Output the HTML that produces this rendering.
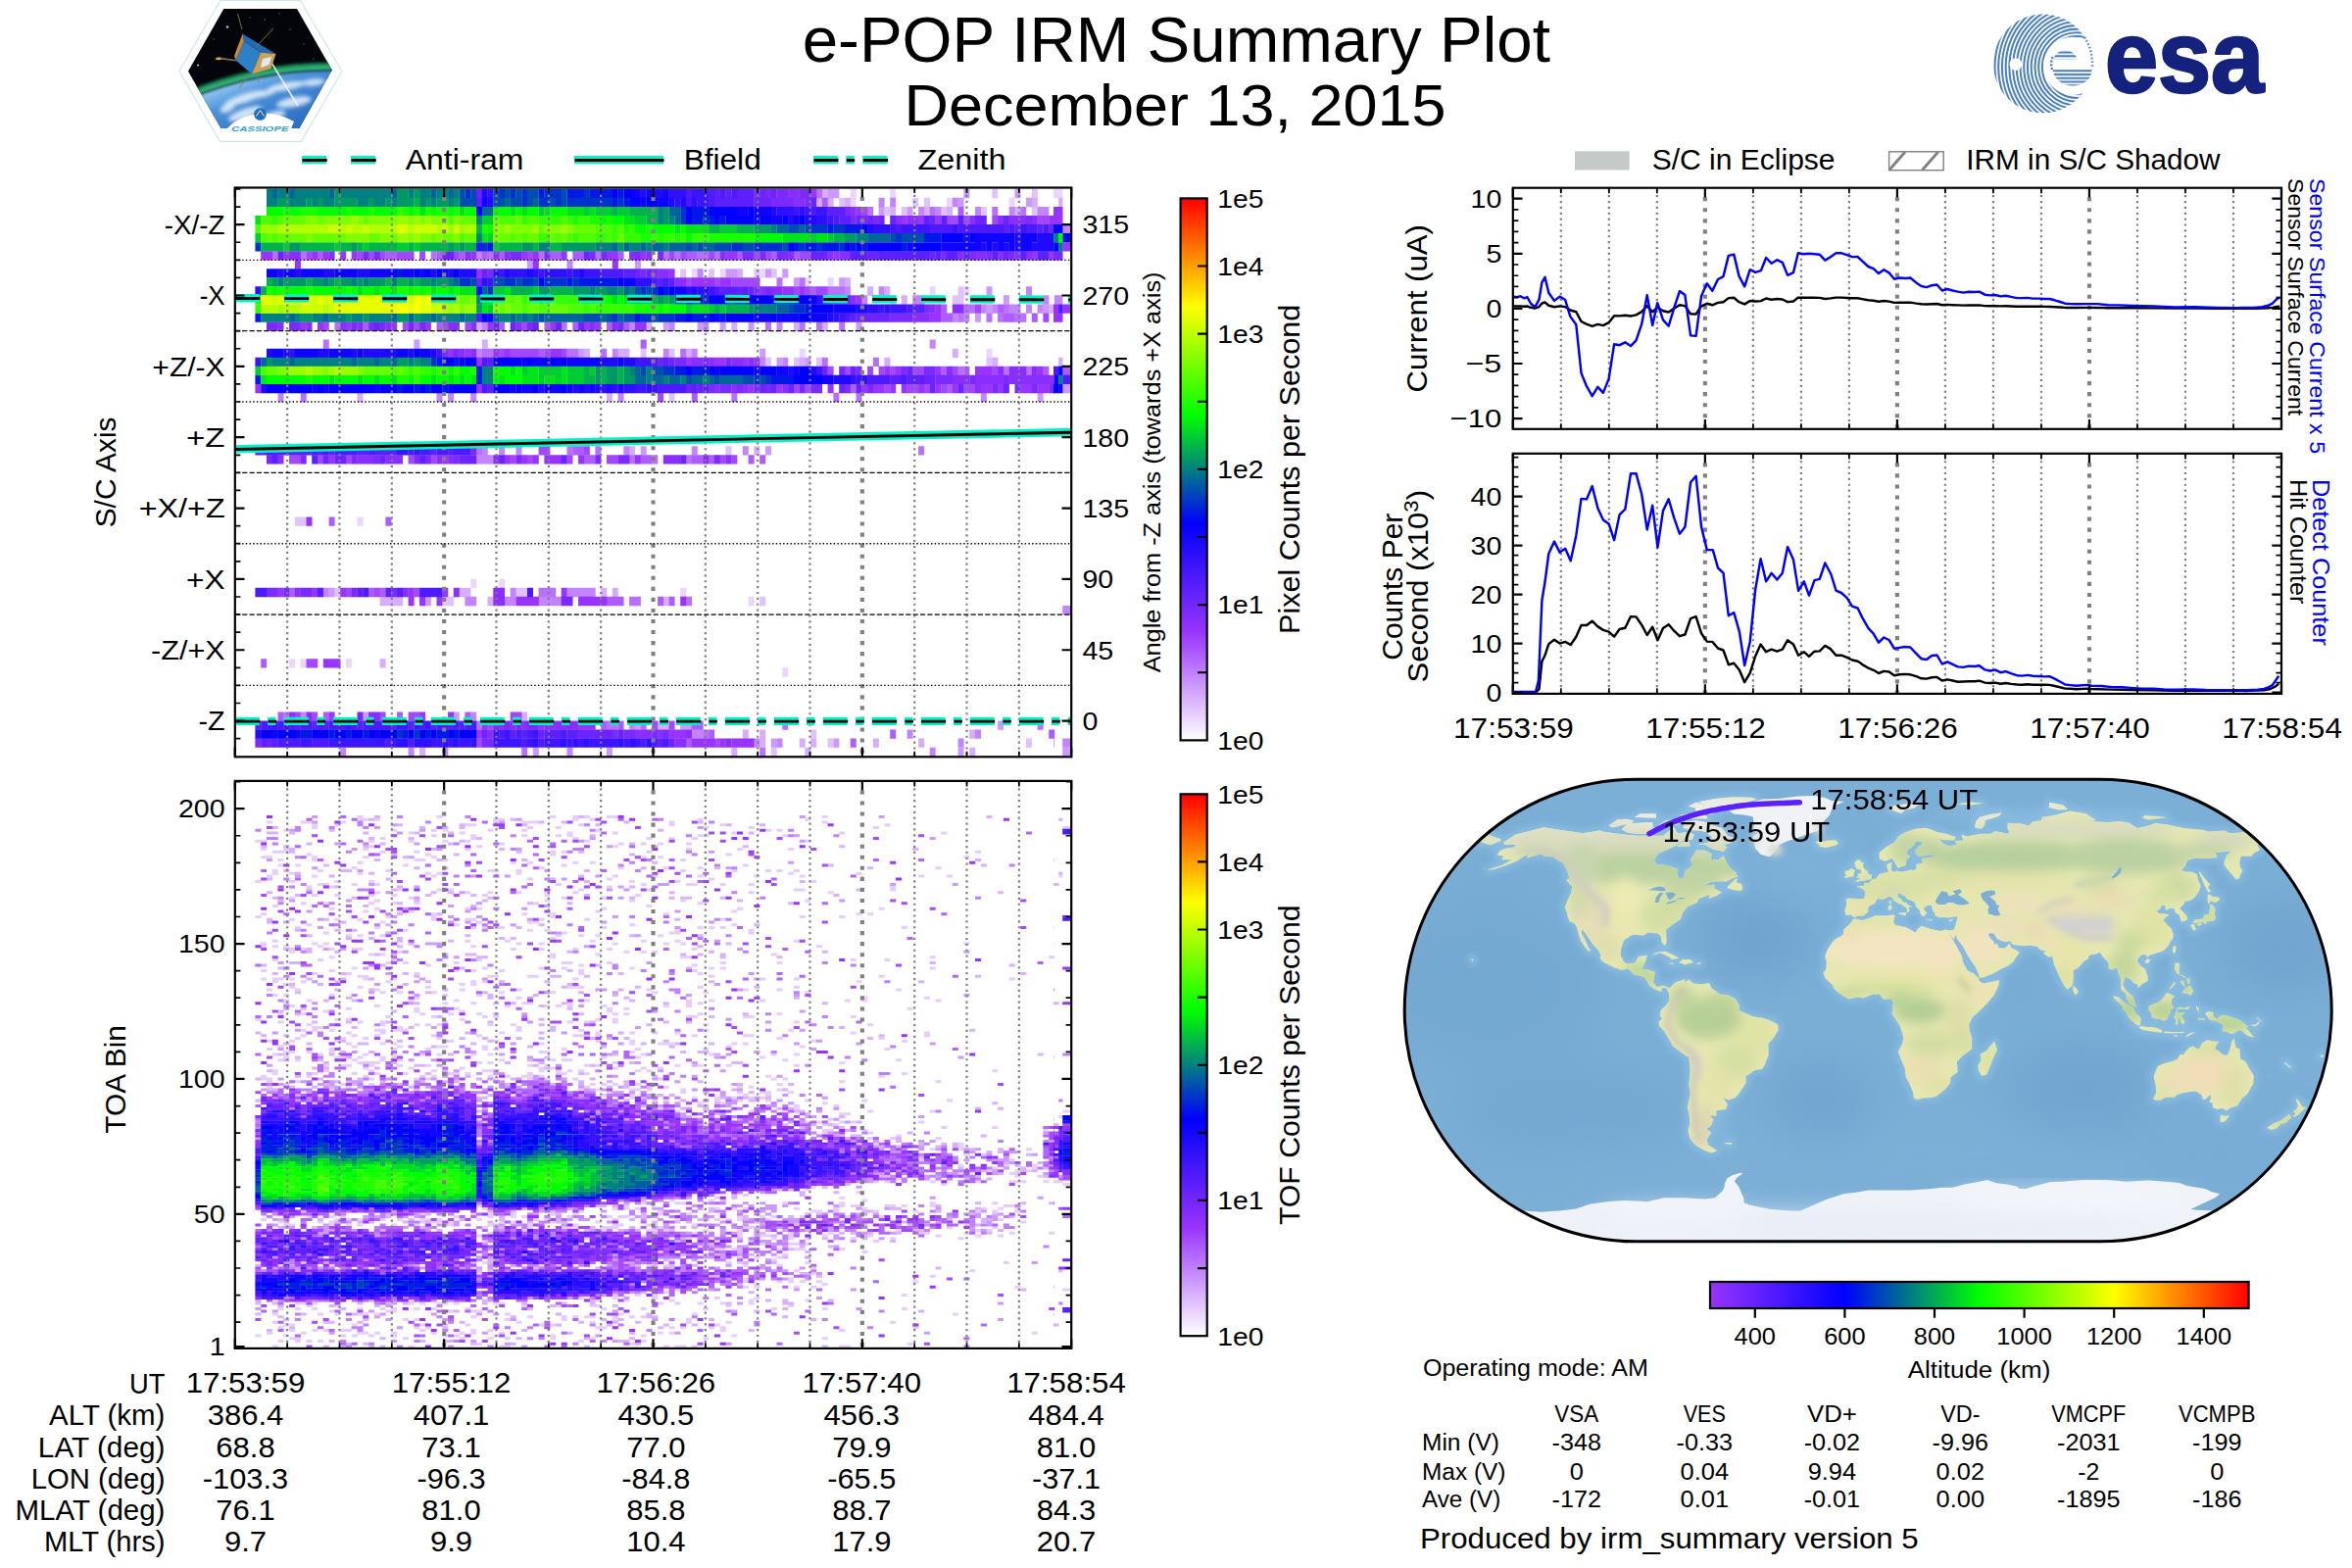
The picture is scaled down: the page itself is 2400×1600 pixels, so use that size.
<!DOCTYPE html>
<html><head><meta charset="utf-8"><title>e-POP IRM Summary Plot</title>
<style>html,body{margin:0;padding:0;background:#fff}svg{display:block}text{font-family:"Liberation Sans",sans-serif}</style></head>
<body>
<svg width="2400" height="1600" viewBox="0 0 2400 1600">
<rect width="2400" height="1600" fill="#fff"/>
<text transform="translate(1200.30,62.50)" x="-381.66" y="0" font-size="64.46" textLength="763.32" lengthAdjust="spacingAndGlyphs">e-POP IRM Summary Plot</text>
<text transform="translate(1199.00,128.00)" x="-276.60" y="0" font-size="58.62" textLength="553.20" lengthAdjust="spacingAndGlyphs">December 13, 2015</text>
<path d="M308 163.2h25M358 163.2h25" stroke="#00f2c6" stroke-width="8.3" fill="none"/>
<path d="M308.5 163.5h25.2M358.5 163.5h25.2" stroke="#000" stroke-width="2.9" fill="none"/>
<text transform="translate(413.70,173.00)" x="0.00" y="0" font-size="29.31" textLength="120.75" lengthAdjust="spacingAndGlyphs">Anti-ram</text>
<path d="M586 163.2h91" stroke="#00f2c6" stroke-width="8.3" fill="none"/>
<path d="M586.5 163.5h91" stroke="#000" stroke-width="2.9" fill="none"/>
<text transform="translate(697.70,173.00)" x="0.00" y="0" font-size="29.31" textLength="79.00" lengthAdjust="spacingAndGlyphs">Bfield</text>
<path d="M830 163.2h25M863.3 163.2h8.4M880.3 163.2h25.3" stroke="#00f2c6" stroke-width="8.3" fill="none"/>
<path d="M830.5 163.5h25M863.8 163.5h8.4M880.8 163.5h25.3" stroke="#000" stroke-width="2.9" fill="none"/>
<text transform="translate(936.50,173.00)" x="0.00" y="0" font-size="29.31" textLength="89.95" lengthAdjust="spacingAndGlyphs">Zenith</text>
<rect x="1607" y="154.3" width="55.6" height="19.2" fill="#c5c9c7"/>
<text transform="translate(1685.70,173.20)" x="0.00" y="0" font-size="29.31" textLength="186.84" lengthAdjust="spacingAndGlyphs">S/C in Eclipse</text>
<rect x="1927.6" y="154.8" width="55.6" height="18.9" fill="#fff" stroke="#808080" stroke-width="1.4"/>
<path d="M1927.8 173.5L1944 155M1961.5 173.5L1977.7 155" stroke="#808080" stroke-width="2.8" fill="none"/>
<text transform="translate(2006.30,173.20)" x="0.00" y="0" font-size="29.31" textLength="259.29" lengthAdjust="spacingAndGlyphs">IRM in S/C Shadow</text>
<g fill="none" stroke-width="9.34">
<path stroke="#ebd6ff" d="M867.7 197.5h6.0M908.2 197.5h6.0M1075.0 197.5h9.5M867.7 206.5h6.0M966.0 206.5h6.0M1029.7 206.5h6.0M705.8 278.9h6.0M734.7 278.9h6.0M775.2 278.9h6.0M821.4 287.9h6.0M844.6 287.9h6.0M948.7 297.0h6.0M983.4 297.0h6.0M1000.8 306.0h11.8M815.7 360.3h6.0M1006.5 360.3h6.0M364.5 532.1h6.0M480.2 595.4h6.0M509.1 595.4h6.0M694.2 604.5h6.0M763.6 613.5h6.0M295.1 676.8h6.0M306.7 676.8h6.0M352.9 676.8h6.0M798.3 685.9h6.0"/>
<path stroke="#e0c2ff" d="M1012.3 197.5h6.0M1052.8 197.5h6.0M856.2 206.5h6.0M931.3 206.5h6.0M942.9 206.5h6.0M902.4 215.6h6.0M919.8 215.6h6.0M960.3 215.6h6.0M1000.8 215.6h6.0M1052.8 215.6h6.0M694.2 278.9h6.0M723.1 278.9h6.0M769.4 278.9h6.0M786.7 278.9h6.0M977.6 297.0h6.0M908.2 306.0h6.0M971.8 306.0h11.8M653.7 360.3h6.0M682.6 360.3h6.0M781.0 369.3h6.0M809.9 369.3h6.0M833.0 369.3h6.0M1006.5 369.3h6.0M682.6 405.5h6.0M740.5 459.8h6.0M300.9 532.1h11.8M341.4 604.5h6.0M526.5 604.5h11.8M451.3 613.5h11.8M775.2 613.5h6.0M827.2 749.2h6.0M844.6 758.2h6.0M1047.0 758.2h6.0M786.7 767.3h6.0"/>
<path stroke="#d6adff" d="M838.8 197.5h6.0M833.0 206.5h6.0M844.6 206.5h6.0M861.9 206.5h6.0M1052.8 206.5h6.0M1080.2 206.5h4.2M908.2 215.6h6.0M942.9 215.6h6.0M966.0 215.6h6.0M1035.5 215.6h6.0M752.0 278.9h6.0M861.9 287.9h6.0M885.1 297.0h6.0M902.4 297.0h6.0M919.8 306.0h6.0M1070.2 315.1h6.0M486.0 333.1h6.0M659.5 333.1h6.0M746.3 333.1h6.0M809.9 333.1h6.0M838.8 333.1h6.0M491.8 351.2h6.0M595.9 360.3h6.0M630.6 360.3h11.8M700.0 360.3h6.0M971.8 360.3h6.0M815.7 369.3h6.0M902.4 369.3h6.0M1012.3 369.3h6.0M1080.2 369.3h4.2M364.5 405.5h6.0M619.0 405.5h6.0M642.1 459.8h6.0M769.4 459.8h6.0M468.6 604.5h11.8M613.2 604.5h6.0M624.8 604.5h6.0M387.6 613.5h23.4M497.5 613.5h6.0M676.8 613.5h6.0M387.6 676.8h6.0M532.2 731.1h6.0M671.1 740.1h11.8M757.8 749.2h6.0M775.2 749.2h6.0M989.2 749.2h6.0M775.2 758.2h6.0M815.7 758.2h6.0M827.2 758.2h6.0M890.9 758.2h6.0M937.1 758.2h6.0M428.1 767.3h6.0M746.3 767.3h6.0M821.4 767.3h6.0M989.2 767.3h6.0"/>
<path stroke="#cc99ff" d="M844.6 197.5h11.8M983.4 197.5h6.0M1035.5 197.5h6.0M977.6 206.5h6.0M1047.0 206.5h6.0M896.6 215.6h6.0M925.6 215.6h6.0M538.0 269.8h6.0M647.9 269.8h6.0M740.5 278.9h11.8M781.0 278.9h6.0M798.3 278.9h6.0M809.9 287.9h6.0M856.2 287.9h6.0M1006.5 297.0h6.0M1023.9 306.0h6.0M1006.5 315.1h6.0M1064.4 315.1h6.0M995.0 324.1h6.0M676.8 333.1h6.0M711.6 333.1h6.0M734.7 333.1h6.0M763.6 333.1h6.0M873.5 333.1h6.0M422.4 351.2h6.0M590.1 360.3h6.0M775.2 360.3h6.0M792.5 369.3h6.0M821.4 369.3h6.0M1084.2 396.5h8.5M1058.6 405.5h6.0M653.7 459.8h6.0M781.0 459.8h6.0M335.6 604.5h6.0M433.9 613.5h6.0M370.3 731.1h6.0M462.8 731.1h6.0M647.9 740.1h6.0M694.2 740.1h11.8M1018.1 740.1h6.0M786.7 758.2h6.0M850.4 758.2h6.0M543.8 767.3h6.0M619.0 767.3h6.0M977.6 767.3h6.0M1084.2 767.3h8.5"/>
<path stroke="#c285ff" d="M896.6 206.5h6.0M908.2 206.5h6.0M971.8 206.5h6.0M937.1 215.6h6.0M954.5 215.6h6.0M995.0 215.6h6.0M1029.7 215.6h6.0M1058.6 215.6h11.8M1084.2 233.7h8.5M486.0 260.8h6.0M578.5 269.8h6.0M711.6 278.9h6.0M861.9 297.0h6.0M896.6 297.0h6.0M1047.0 297.0h6.0M879.3 306.0h6.0M931.3 306.0h11.8M1064.4 306.0h6.0M1075.9 306.0h8.5M1000.8 315.1h6.0M1012.3 315.1h6.0M1029.7 315.1h11.8M1047.0 315.1h6.0M1058.6 315.1h6.0M971.8 324.1h6.0M983.4 324.1h6.0M491.8 333.1h6.0M642.1 333.1h6.0M682.6 333.1h6.0M717.3 333.1h6.0M792.5 333.1h6.0M948.7 351.2h6.0M486.0 360.3h6.0M624.8 360.3h6.0M676.8 360.3h6.0M705.8 360.3h6.0M775.2 369.3h6.0M798.3 369.3h6.0M283.5 405.5h6.0M445.5 405.5h6.0M457.1 405.5h6.0M480.2 405.5h6.0M630.6 405.5h6.0M1000.8 405.5h6.0M491.8 459.8h6.0M509.1 459.8h6.0M526.5 459.8h6.0M636.4 459.8h6.0M705.8 459.8h6.0M757.8 459.8h6.0M486.0 468.8h17.6M329.8 604.5h6.0M520.7 604.5h6.0M578.5 604.5h29.2M474.4 613.5h11.8M514.9 613.5h11.8M549.6 613.5h23.4M1084.2 622.6h8.5M306.7 731.1h6.0M480.2 731.1h6.0M642.1 740.1h6.0M705.8 749.2h11.8M925.6 749.2h6.0M995.0 749.2h6.0M769.4 758.2h6.0M792.5 758.2h6.0M977.6 758.2h6.0M1075.9 758.2h-0.7M1084.2 758.2h8.5M347.2 767.3h6.0M416.6 767.3h6.0M451.3 767.3h6.0M578.5 767.3h6.0M948.7 767.3h6.0"/>
<path stroke="#b870ff" d="M833.0 197.5h6.0M885.1 215.6h6.0M948.7 215.6h6.0M1012.3 215.6h6.0M1041.2 215.6h6.0M277.8 260.8h6.0M306.7 260.8h6.0M439.7 260.8h6.0M497.5 260.8h6.0M549.6 260.8h6.0M607.4 260.8h6.0M676.8 260.8h6.0M688.4 260.8h6.0M711.6 260.8h11.8M728.9 260.8h6.0M792.5 287.9h6.0M815.7 287.9h6.0M844.6 297.0h17.6M983.4 315.1h11.8M1023.9 315.1h6.0M977.6 324.1h6.0M1006.5 324.1h6.0M1018.1 324.1h6.0M1035.5 324.1h11.8M341.4 333.1h6.0M572.7 333.1h6.0M781.0 333.1h6.0M815.7 333.1h6.0M833.0 333.1h6.0M856.2 333.1h6.0M329.8 351.2h6.0M491.8 360.3h11.8M578.5 360.3h11.8M613.2 360.3h6.0M694.2 360.3h6.0M838.8 369.3h6.0M890.9 369.3h6.0M977.6 378.4h6.0M1023.9 378.4h6.0M1047.0 378.4h6.0M306.7 405.5h6.0M746.3 405.5h6.0M850.4 405.5h6.0M873.5 405.5h6.0M486.0 459.8h6.0M578.5 459.8h6.0M607.4 459.8h6.0M937.1 459.8h6.0M642.1 468.8h6.0M665.3 468.8h6.0M700.0 468.8h6.0M549.6 604.5h17.6M642.1 613.5h11.8M700.0 613.5h6.0M289.3 731.1h6.0M486.0 740.1h6.0M619.0 740.1h11.8M653.7 740.1h6.0M798.3 740.1h6.0M1058.6 740.1h6.0M717.3 749.2h6.0M532.2 767.3h6.0M775.2 767.3h6.0"/>
<path stroke="#ad5cff" d="M838.8 206.5h6.0M977.6 215.6h6.0M324.0 260.8h6.0M393.4 260.8h11.8M445.5 260.8h6.0M468.6 260.8h6.0M491.8 260.8h6.0M509.1 260.8h6.0M561.2 260.8h11.8M584.3 260.8h11.8M630.6 260.8h6.0M700.0 260.8h11.8M752.0 260.8h6.0M786.7 260.8h6.0M809.9 260.8h6.0M827.2 297.0h6.0M960.3 315.1h6.0M1018.1 315.1h6.0M960.3 324.1h11.8M1023.9 324.1h11.8M1052.8 324.1h6.0M370.3 333.1h6.0M445.5 333.1h6.0M509.1 333.1h6.0M555.4 333.1h6.0M584.3 333.1h6.0M619.0 333.1h6.0M636.4 333.1h6.0M653.7 351.2h6.0M549.6 360.3h6.0M960.3 378.4h6.0M983.4 378.4h6.0M1064.4 378.4h6.0M1084.2 378.4h8.5M867.7 396.5h6.0M966.0 396.5h6.0M705.8 405.5h6.0M584.3 459.8h11.8M595.9 468.8h11.8M653.7 468.8h11.8M705.8 468.8h11.8M723.1 468.8h6.0M763.6 468.8h6.0M775.2 468.8h6.0M335.6 532.1h6.0M393.4 532.1h6.0M295.1 604.5h6.0M376.1 604.5h6.0M387.6 604.5h6.0M619.0 613.5h17.6M671.1 613.5h6.0M682.6 613.5h6.0M266.2 676.8h6.0M283.5 731.1h6.0M329.8 731.1h6.0M405.0 731.1h6.0M474.4 731.1h6.0M613.2 740.1h6.0M630.6 740.1h6.0M705.8 740.1h11.8M723.1 749.2h6.0M908.2 749.2h6.0M1070.2 749.2h6.0M700.0 758.2h6.0M867.7 758.2h6.0"/>
<path stroke="#a347ff" d="M879.3 215.6h6.0M966.0 224.6h11.8M983.4 224.6h6.0M1012.3 224.6h6.0M1058.6 224.6h11.8M1075.9 224.6h-0.7M312.5 260.8h6.0M364.5 260.8h6.0M376.1 260.8h6.0M387.6 260.8h6.0M405.0 260.8h17.6M428.1 260.8h6.0M462.8 260.8h6.0M538.0 260.8h6.0M682.6 260.8h6.0M694.2 260.8h6.0M723.1 260.8h6.0M769.4 260.8h6.0M781.0 260.8h6.0M815.7 260.8h11.8M700.0 287.9h6.0M728.9 287.9h6.0M746.3 287.9h29.2M809.9 297.0h6.0M821.4 297.0h6.0M833.0 297.0h11.8M995.0 315.1h6.0M1064.4 324.1h6.0M1075.9 324.1h-0.7M329.8 333.1h6.0M410.8 333.1h6.0M422.4 333.1h6.0M451.3 333.1h6.0M474.4 333.1h6.0M532.2 333.1h6.0M509.1 360.3h6.0M520.7 360.3h29.2M555.4 360.3h6.0M572.7 360.3h6.0M844.6 378.4h6.0M861.9 378.4h6.0M885.1 378.4h6.0M896.6 378.4h6.0M908.2 378.4h6.0M931.3 378.4h11.8M971.8 378.4h6.0M1012.3 378.4h6.0M809.9 396.5h6.0M821.4 396.5h6.0M902.4 396.5h6.0M925.6 396.5h11.8M942.9 396.5h6.0M960.3 396.5h6.0M983.4 396.5h11.8M671.1 405.5h6.0M549.6 459.8h11.8M595.9 459.8h6.0M295.1 468.8h11.8M324.0 468.8h6.0M352.9 468.8h6.0M416.6 468.8h6.0M439.7 468.8h6.0M520.7 468.8h6.0M538.0 468.8h6.0M578.5 468.8h6.0M619.0 468.8h11.8M734.7 468.8h6.0M746.3 468.8h6.0M352.9 604.5h6.0M381.9 604.5h6.0M422.4 604.5h6.0M312.5 676.8h11.8M300.9 731.1h6.0M318.2 731.1h6.0M387.6 731.1h6.0M416.6 731.1h11.8M520.7 731.1h11.8M497.5 740.1h6.0M665.3 740.1h6.0M682.6 740.1h6.0M486.0 758.2h6.0M728.9 758.2h6.0"/>
<path stroke="#9933ff" d="M827.2 197.5h6.0M873.5 215.6h6.0M1075.0 215.6h9.5M919.8 224.6h6.0M937.1 224.6h6.0M954.5 224.6h6.0M1070.2 224.6h6.0M1075.0 224.6h9.5M1084.2 251.8h8.5M266.2 260.8h11.8M289.3 260.8h6.0M318.2 260.8h6.0M329.8 260.8h6.0M347.2 260.8h6.0M358.7 260.8h6.0M480.2 260.8h6.0M532.2 260.8h6.0M543.8 260.8h6.0M572.7 260.8h6.0M619.0 260.8h11.8M653.7 260.8h6.0M740.5 260.8h11.8M850.4 260.8h6.0M1052.8 260.8h6.0M1070.2 260.8h5.1M300.9 269.8h6.0M543.8 269.8h6.0M624.8 269.8h6.0M486.0 278.9h6.0M682.6 278.9h6.0M705.8 287.9h23.4M734.7 287.9h11.8M798.3 297.0h11.8M815.7 297.0h6.0M873.5 306.0h6.0M954.5 315.1h6.0M1075.0 315.1h5.5M1084.2 315.1h8.5M948.7 324.1h11.8M1075.0 324.1h9.5M306.7 333.1h6.0M324.0 333.1h6.0M352.9 333.1h6.0M399.2 333.1h6.0M433.9 333.1h6.0M497.5 333.1h6.0M561.2 333.1h6.0M595.9 333.1h6.0M607.4 333.1h6.0M647.9 333.1h11.8M457.1 360.3h6.0M474.4 360.3h6.0M503.3 360.3h6.0M514.9 360.3h6.0M561.2 360.3h11.8M486.0 369.3h6.0M700.0 369.3h6.0M728.9 369.3h11.8M757.8 369.3h6.0M769.4 369.3h6.0M902.4 378.4h6.0M914.0 378.4h6.0M954.5 378.4h6.0M995.0 378.4h17.6M1058.6 378.4h6.0M260.4 396.5h6.0M486.0 396.5h6.0M763.6 396.5h6.0M792.5 396.5h6.0M844.6 396.5h6.0M879.3 396.5h6.0M890.9 396.5h11.8M908.2 396.5h6.0M919.8 396.5h6.0M937.1 396.5h6.0M954.5 396.5h6.0M971.8 396.5h6.0M1000.8 396.5h11.8M1018.1 396.5h6.0M1041.2 396.5h11.8M1058.6 396.5h11.8M335.6 468.8h6.0M451.3 468.8h6.0M514.9 468.8h6.0M532.2 468.8h6.0M543.8 468.8h6.0M555.4 468.8h17.6M590.1 468.8h6.0M647.9 468.8h6.0M312.5 532.1h6.0M283.5 604.5h6.0M318.2 604.5h6.0M347.2 604.5h6.0M416.6 604.5h6.0M451.3 604.5h6.0M572.7 604.5h6.0M416.6 613.5h6.0M428.1 613.5h6.0M445.5 613.5h6.0M526.5 613.5h23.4M590.1 613.5h29.2M694.2 613.5h6.0M329.8 676.8h17.6M335.6 731.1h6.0M428.1 731.1h6.0M457.1 731.1h6.0M491.8 740.1h6.0M549.6 740.1h6.0M590.1 740.1h17.6M486.0 749.2h6.0M682.6 749.2h17.6M705.8 758.2h23.4M734.7 758.2h6.0M746.3 758.2h23.4"/>
<path stroke="#8a2eff" d="M804.1 197.5h11.8M809.9 206.5h11.8M867.7 215.6h6.0M914.0 224.6h6.0M925.6 224.6h11.8M989.2 224.6h6.0M1018.1 224.6h6.0M1029.7 224.6h17.6M1052.8 224.6h6.0M295.1 260.8h11.8M335.6 260.8h6.0M474.4 260.8h6.0M503.3 260.8h6.0M514.9 260.8h6.0M642.1 260.8h6.0M659.5 260.8h6.0M734.7 260.8h6.0M804.1 260.8h6.0M844.6 260.8h6.0M856.2 260.8h11.8M977.6 260.8h6.0M995.0 260.8h11.8M1018.1 260.8h6.0M1035.5 260.8h6.0M1047.0 260.8h6.0M671.1 278.9h11.8M688.4 287.9h11.8M775.2 297.0h6.0M786.7 297.0h11.8M867.7 306.0h6.0M948.7 315.1h6.0M971.8 315.1h11.8M931.3 324.1h17.6M283.5 333.1h6.0M312.5 333.1h6.0M347.2 333.1h6.0M364.5 333.1h6.0M393.4 333.1h6.0M457.1 333.1h11.8M480.2 333.1h6.0M526.5 333.1h6.0M601.7 333.1h6.0M624.8 333.1h6.0M468.6 360.3h6.0M480.2 360.3h6.0M705.8 369.3h11.8M723.1 369.3h6.0M746.3 369.3h11.8M763.6 369.3h6.0M966.0 378.4h6.0M1018.1 378.4h6.0M1029.7 378.4h17.6M1052.8 378.4h6.0M1075.9 378.4h-0.7M971.8 387.4h17.6M995.0 387.4h29.2M1029.7 387.4h46.5M728.9 396.5h6.0M746.3 396.5h6.0M757.8 396.5h6.0M798.3 396.5h6.0M995.0 396.5h6.0M283.5 468.8h6.0M364.5 468.8h17.6M393.4 468.8h17.6M445.5 468.8h6.0M457.1 468.8h6.0M503.3 468.8h6.0M676.8 468.8h17.6M717.3 468.8h6.0M740.5 468.8h6.0M300.9 604.5h6.0M410.8 604.5h6.0M462.8 604.5h6.0M503.3 604.5h11.8M503.3 613.5h11.8M295.1 731.1h6.0M312.5 731.1h6.0M376.1 731.1h11.8M509.1 740.1h6.0M520.7 740.1h6.0M532.2 740.1h6.0M555.4 740.1h35.0M497.5 749.2h6.0M647.9 749.2h17.6M671.1 749.2h6.0M700.0 749.2h6.0M688.4 758.2h11.8M740.5 758.2h6.0"/>
<path stroke="#7a29ff" d="M769.4 197.5h6.0M781.0 197.5h6.0M792.5 197.5h11.8M815.7 197.5h11.8M786.7 206.5h23.4M821.4 206.5h6.0M861.9 215.6h6.0M867.7 224.6h6.0M879.3 224.6h6.0M890.9 224.6h6.0M1047.0 224.6h6.0M370.3 260.8h6.0M381.9 260.8h6.0M520.7 260.8h11.8M555.4 260.8h6.0M601.7 260.8h6.0M613.2 260.8h6.0M647.9 260.8h6.0M671.1 260.8h6.0M757.8 260.8h11.8M775.2 260.8h6.0M792.5 260.8h11.8M960.3 260.8h6.0M989.2 260.8h6.0M1006.5 260.8h6.0M1029.7 260.8h6.0M1075.0 260.8h9.5M497.5 278.9h6.0M653.7 278.9h6.0M665.3 278.9h6.0M769.4 297.0h6.0M781.0 297.0h6.0M850.4 306.0h17.6M942.9 315.1h6.0M908.2 324.1h23.4M272.0 333.1h11.8M295.1 333.1h11.8M358.7 333.1h6.0M376.1 333.1h6.0M387.6 333.1h6.0M416.6 333.1h6.0M428.1 333.1h6.0M538.0 333.1h6.0M630.6 333.1h6.0M451.3 360.3h6.0M462.8 360.3h6.0M688.4 369.3h11.8M717.3 369.3h6.0M740.5 369.3h6.0M856.2 378.4h6.0M873.5 378.4h6.0M919.8 378.4h6.0M942.9 378.4h11.8M954.5 387.4h17.6M989.2 387.4h6.0M1023.9 387.4h6.0M723.1 396.5h6.0M734.7 396.5h11.8M752.0 396.5h6.0M769.4 396.5h6.0M781.0 396.5h6.0M815.7 396.5h6.0M827.2 396.5h11.8M861.9 396.5h6.0M885.1 396.5h6.0M1012.3 396.5h6.0M1035.5 396.5h6.0M1052.8 396.5h6.0M1070.2 396.5h6.0M480.2 459.8h6.0M272.0 468.8h6.0M306.7 468.8h6.0M358.7 468.8h6.0M381.9 468.8h6.0M422.4 468.8h6.0M433.9 468.8h6.0M462.8 468.8h6.0M526.5 468.8h6.0M607.4 468.8h6.0M630.6 468.8h11.8M728.9 468.8h6.0M272.0 604.5h11.8M289.3 604.5h6.0M306.7 604.5h11.8M358.7 604.5h6.0M399.2 604.5h6.0M572.7 613.5h11.8M364.5 731.1h6.0M503.3 740.1h6.0M514.9 740.1h6.0M526.5 740.1h6.0M538.0 740.1h11.8M624.8 749.2h6.0M636.4 749.2h11.8M665.3 749.2h6.0M676.8 749.2h6.0M260.4 758.2h6.0M491.8 758.2h11.8"/>
<path stroke="#6b24ff" d="M486.0 197.5h6.0M775.2 197.5h6.0M786.7 197.5h6.0M769.4 206.5h17.6M827.2 206.5h6.0M873.5 224.6h6.0M885.1 224.6h6.0M896.6 224.6h6.0M908.2 224.6h6.0M948.7 224.6h6.0M995.0 224.6h11.8M1023.9 224.6h6.0M1070.2 233.7h6.0M283.5 260.8h6.0M451.3 260.8h11.8M595.9 260.8h6.0M827.2 260.8h17.6M885.1 260.8h11.8M948.7 260.8h6.0M1023.9 260.8h6.0M491.8 278.9h6.0M647.9 278.9h6.0M659.5 278.9h6.0M486.0 287.9h6.0M752.0 297.0h6.0M763.6 297.0h6.0M844.6 306.0h6.0M873.5 324.1h35.0M381.9 333.1h6.0M503.3 333.1h6.0M520.7 333.1h6.0M543.8 333.1h6.0M567.0 333.1h6.0M590.1 333.1h6.0M671.1 369.3h6.0M682.6 369.3h6.0M838.8 378.4h6.0M867.7 378.4h6.0M925.6 378.4h6.0M942.9 387.4h11.8M700.0 396.5h6.0M711.6 396.5h6.0M775.2 396.5h6.0M786.7 396.5h6.0M804.1 396.5h6.0M856.2 396.5h6.0M873.5 396.5h6.0M948.7 396.5h6.0M977.6 396.5h6.0M1023.9 396.5h6.0M266.2 459.8h6.0M329.8 468.8h6.0M341.4 468.8h11.8M387.6 468.8h6.0M468.6 468.8h17.6M509.1 468.8h6.0M572.7 468.8h6.0M694.2 468.8h6.0M491.8 749.2h6.0M549.6 749.2h6.0M590.1 749.2h35.0M630.6 749.2h6.0M272.0 758.2h6.0M682.6 758.2h6.0"/>
<path stroke="#5c1fff" d="M728.9 197.5h6.0M740.5 197.5h6.0M752.0 197.5h17.6M486.0 206.5h6.0M728.9 206.5h40.7M844.6 215.6h17.6M856.2 224.6h11.8M942.9 224.6h6.0M960.3 224.6h6.0M977.6 224.6h6.0M1023.9 233.7h6.0M1035.5 233.7h6.0M1058.6 233.7h6.0M1075.9 233.7h-0.7M867.7 260.8h17.6M896.6 260.8h52.3M954.5 260.8h6.0M966.0 260.8h11.8M983.4 260.8h6.0M1012.3 260.8h6.0M1041.2 260.8h6.0M1058.6 260.8h11.8M636.4 278.9h11.8M671.1 287.9h6.0M682.6 287.9h6.0M734.7 297.0h17.6M757.8 297.0h6.0M931.3 315.1h11.8M867.7 324.1h6.0M497.5 369.3h6.0M676.8 369.3h6.0M908.2 387.4h11.8M925.6 387.4h17.6M497.5 396.5h6.0M705.8 396.5h6.0M717.3 396.5h6.0M260.4 459.8h6.0M277.8 459.8h40.7M324.0 459.8h6.0M335.6 459.8h6.0M364.5 459.8h11.8M381.9 459.8h23.4M439.7 459.8h6.0M457.1 459.8h6.0M277.8 468.8h6.0M318.2 468.8h6.0M428.1 468.8h6.0M324.0 604.5h6.0M364.5 604.5h6.0M393.4 604.5h6.0M405.0 604.5h6.0M260.4 740.1h6.0M300.9 740.1h6.0M318.2 740.1h6.0M329.8 740.1h6.0M364.5 740.1h6.0M399.2 740.1h6.0M416.6 740.1h6.0M439.7 740.1h6.0M457.1 740.1h6.0M468.6 740.1h6.0M520.7 749.2h6.0M532.2 749.2h6.0M555.4 749.2h17.6M578.5 749.2h11.8M266.2 758.2h6.0M277.8 758.2h6.0M671.1 758.2h6.0"/>
<path stroke="#4d1aff" d="M700.0 197.5h6.0M723.1 197.5h6.0M734.7 197.5h6.0M746.3 197.5h6.0M700.0 206.5h6.0M723.1 206.5h6.0M827.2 215.6h6.0M850.4 224.6h6.0M914.0 233.7h6.0M948.7 233.7h23.4M977.6 233.7h46.5M1029.7 233.7h6.0M1047.0 233.7h11.8M1064.4 233.7h6.0M613.2 278.9h23.4M665.3 287.9h6.0M676.8 287.9h6.0M728.9 297.0h6.0M838.8 306.0h6.0M925.6 315.1h6.0M1080.2 315.1h4.2M486.0 324.1h6.0M861.9 324.1h6.0M491.8 369.3h6.0M665.3 369.3h6.0M1075.0 378.4h5.5M885.1 387.4h23.4M919.8 387.4h6.0M1084.2 387.4h8.5M491.8 396.5h6.0M671.1 396.5h29.2M1075.9 396.5h-0.7M272.0 459.8h6.0M318.2 459.8h6.0M329.8 459.8h6.0M341.4 459.8h23.4M376.1 459.8h6.0M416.6 459.8h6.0M428.1 459.8h11.8M445.5 459.8h11.8M462.8 459.8h17.6M260.4 604.5h11.8M370.3 604.5h6.0M428.1 604.5h23.4M538.0 604.5h6.0M266.2 740.1h11.8M283.5 740.1h6.0M295.1 740.1h6.0M306.7 740.1h11.8M324.0 740.1h6.0M335.6 740.1h17.6M358.7 740.1h6.0M370.3 740.1h29.2M428.1 740.1h6.0M445.5 740.1h11.8M462.8 740.1h6.0M474.4 740.1h11.8M509.1 749.2h6.0M526.5 749.2h6.0M538.0 749.2h6.0M572.7 749.2h6.0M283.5 758.2h23.4M318.2 758.2h17.6M393.4 758.2h6.0M416.6 758.2h6.0M532.2 758.2h6.0M549.6 758.2h6.0M653.7 758.2h6.0M665.3 758.2h6.0M676.8 758.2h6.0"/>
<path stroke="#3d14ff" d="M705.8 197.5h17.6M711.6 206.5h11.8M809.9 215.6h6.0M821.4 215.6h6.0M833.0 215.6h11.8M844.6 224.6h6.0M908.2 233.7h6.0M919.8 233.7h29.2M971.8 233.7h6.0M1041.2 233.7h6.0M509.1 278.9h6.0M549.6 278.9h6.0M578.5 278.9h6.0M595.9 278.9h17.6M497.5 287.9h6.0M723.1 297.0h6.0M896.6 315.1h6.0M908.2 315.1h17.6M856.2 324.1h6.0M445.5 360.3h6.0M260.4 369.3h6.0M647.9 369.3h17.6M833.0 378.4h6.0M873.5 387.4h6.0M647.9 396.5h11.8M665.3 396.5h6.0M405.0 459.8h11.8M422.4 459.8h6.0M277.8 740.1h6.0M289.3 740.1h6.0M352.9 740.1h6.0M405.0 740.1h11.8M422.4 740.1h6.0M433.9 740.1h6.0M503.3 749.2h6.0M514.9 749.2h6.0M543.8 749.2h6.0M306.7 758.2h11.8M335.6 758.2h58.1M399.2 758.2h6.0M439.7 758.2h11.8M457.1 758.2h6.0M468.6 758.2h11.8M503.3 758.2h29.2M538.0 758.2h6.0M555.4 758.2h17.6M578.5 758.2h6.0M590.1 758.2h6.0M601.7 758.2h29.2M636.4 758.2h6.0M647.9 758.2h6.0"/>
<path stroke="#2e0fff" d="M497.5 197.5h6.0M682.6 197.5h17.6M688.4 206.5h6.0M705.8 206.5h6.0M792.5 215.6h17.6M815.7 215.6h6.0M833.0 224.6h11.8M890.9 233.7h17.6M486.0 251.8h6.0M520.7 278.9h17.6M543.8 278.9h6.0M555.4 278.9h23.4M584.3 278.9h6.0M491.8 287.9h6.0M647.9 287.9h17.6M260.4 297.0h6.0M700.0 297.0h6.0M711.6 297.0h11.8M833.0 306.0h6.0M885.1 315.1h11.8M902.4 315.1h6.0M850.4 324.1h6.0M295.1 360.3h6.0M867.7 387.4h6.0M879.3 387.4h6.0M613.2 396.5h6.0M624.8 396.5h6.0M636.4 396.5h11.8M659.5 396.5h6.0M405.0 758.2h11.8M422.4 758.2h17.6M451.3 758.2h6.0M462.8 758.2h6.0M480.2 758.2h6.0M543.8 758.2h6.0M572.7 758.2h6.0M584.3 758.2h6.0M595.9 758.2h6.0M630.6 758.2h6.0M642.1 758.2h6.0M659.5 758.2h6.0"/>
<path stroke="#1f0aff" d="M491.8 197.5h6.0M653.7 197.5h6.0M665.3 197.5h11.8M497.5 206.5h6.0M682.6 206.5h6.0M694.2 206.5h6.0M786.7 215.6h6.0M804.1 224.6h6.0M821.4 224.6h11.8M885.1 233.7h6.0M1035.5 242.7h6.0M1058.6 242.7h17.6M1000.8 251.8h6.0M1012.3 251.8h6.0M1023.9 251.8h6.0M1035.5 251.8h6.0M1052.8 251.8h23.4M283.5 278.9h6.0M300.9 278.9h6.0M329.8 278.9h11.8M364.5 278.9h11.8M439.7 278.9h6.0M457.1 278.9h6.0M468.6 278.9h17.6M503.3 278.9h6.0M514.9 278.9h6.0M538.0 278.9h6.0M590.1 278.9h6.0M705.8 297.0h6.0M873.5 315.1h11.8M844.6 324.1h6.0M272.0 360.3h6.0M289.3 360.3h6.0M324.0 360.3h11.8M358.7 360.3h6.0M370.3 360.3h35.0M416.6 360.3h6.0M439.7 360.3h6.0M613.2 369.3h17.6M636.4 369.3h11.8M804.1 378.4h6.0M827.2 378.4h6.0M850.4 387.4h17.6M266.2 396.5h6.0M549.6 396.5h6.0M584.3 396.5h6.0M595.9 396.5h6.0M607.4 396.5h6.0M619.0 396.5h6.0M630.6 396.5h6.0M260.4 749.2h6.0"/>
<path stroke="#0f05ff" d="M647.9 197.5h6.0M659.5 197.5h6.0M676.8 197.5h6.0M491.8 206.5h6.0M653.7 206.5h6.0M671.1 206.5h11.8M752.0 215.6h11.8M769.4 215.6h17.6M769.4 224.6h6.0M786.7 224.6h11.8M809.9 224.6h6.0M983.4 242.7h6.0M995.0 242.7h40.7M1041.2 242.7h17.6M925.6 251.8h6.0M960.3 251.8h40.7M1006.5 251.8h6.0M1018.1 251.8h6.0M1029.7 251.8h6.0M1041.2 251.8h11.8M272.0 278.9h11.8M289.3 278.9h11.8M306.7 278.9h23.4M341.4 278.9h23.4M376.1 278.9h29.2M410.8 278.9h11.8M428.1 278.9h6.0M451.3 278.9h6.0M636.4 287.9h11.8M486.0 297.0h6.0M688.4 297.0h11.8M752.0 306.0h6.0M792.5 306.0h6.0M804.1 306.0h11.8M827.2 306.0h6.0M850.4 315.1h23.4M497.5 324.1h6.0M728.9 324.1h6.0M769.4 324.1h17.6M792.5 324.1h23.4M827.2 324.1h17.6M277.8 360.3h11.8M300.9 360.3h23.4M335.6 360.3h23.4M364.5 360.3h6.0M405.0 360.3h11.8M428.1 360.3h11.8M468.6 369.3h6.0M532.2 369.3h6.0M543.8 369.3h17.6M567.0 369.3h6.0M578.5 369.3h35.0M630.6 369.3h6.0M728.9 378.4h6.0M769.4 378.4h6.0M792.5 378.4h11.8M809.9 378.4h6.0M838.8 387.4h11.8M318.2 396.5h6.0M329.8 396.5h6.0M381.9 396.5h6.0M457.1 396.5h6.0M520.7 396.5h6.0M532.2 396.5h11.8M555.4 396.5h17.6M578.5 396.5h6.0M590.1 396.5h6.0M601.7 396.5h6.0M1080.2 396.5h4.2M277.8 749.2h6.0M300.9 749.2h6.0M381.9 749.2h6.0"/>
<path stroke="#0000ff" d="M624.8 197.5h6.0M636.4 197.5h11.8M642.1 206.5h11.8M659.5 206.5h11.8M486.0 215.6h6.0M700.0 215.6h6.0M723.1 215.6h29.2M763.6 215.6h6.0M700.0 224.6h6.0M728.9 224.6h6.0M740.5 224.6h29.2M775.2 224.6h11.8M798.3 224.6h6.0M815.7 224.6h6.0M879.3 233.7h6.0M1075.0 233.7h9.5M960.3 242.7h23.4M989.2 242.7h6.0M1084.2 242.7h8.5M804.1 251.8h6.0M861.9 251.8h6.0M873.5 251.8h6.0M885.1 251.8h35.0M931.3 251.8h29.2M1075.0 251.8h5.5M422.4 278.9h6.0M433.9 278.9h6.0M445.5 278.9h6.0M462.8 278.9h6.0M549.6 287.9h6.0M630.6 287.9h6.0M671.1 297.0h6.0M682.6 297.0h6.0M700.0 306.0h6.0M723.1 306.0h23.4M757.8 306.0h35.0M798.3 306.0h6.0M815.7 306.0h11.8M827.2 315.1h23.4M491.8 324.1h6.0M700.0 324.1h6.0M723.1 324.1h6.0M740.5 324.1h29.2M786.7 324.1h6.0M815.7 324.1h11.8M422.4 360.3h6.0M451.3 369.3h11.8M474.4 369.3h11.8M503.3 369.3h29.2M538.0 369.3h6.0M561.2 369.3h6.0M572.7 369.3h6.0M700.0 378.4h6.0M723.1 378.4h6.0M734.7 378.4h35.0M775.2 378.4h17.6M815.7 378.4h11.8M1080.2 378.4h4.2M809.9 387.4h29.2M1075.9 387.4h4.5M272.0 396.5h46.5M324.0 396.5h6.0M335.6 396.5h46.5M387.6 396.5h17.6M410.8 396.5h11.8M428.1 396.5h6.0M439.7 396.5h11.8M462.8 396.5h23.4M503.3 396.5h17.6M526.5 396.5h6.0M543.8 396.5h6.0M572.7 396.5h6.0M1075.0 396.5h5.5M266.2 749.2h11.8M283.5 749.2h17.6M318.2 749.2h17.6M341.4 749.2h11.8M358.7 749.2h11.8M376.1 749.2h6.0M387.6 749.2h17.6M416.6 749.2h6.0M428.1 749.2h6.0M439.7 749.2h6.0M457.1 749.2h6.0M468.6 749.2h17.6"/>
<path stroke="#0019e6" d="M549.6 197.5h6.0M578.5 197.5h17.6M601.7 197.5h23.4M630.6 197.5h6.0M624.8 206.5h6.0M636.4 206.5h6.0M705.8 215.6h17.6M705.8 224.6h11.8M723.1 224.6h6.0M734.7 224.6h6.0M844.6 233.7h6.0M861.9 233.7h17.6M942.9 242.7h17.6M497.5 251.8h6.0M809.9 251.8h6.0M821.4 251.8h11.8M838.8 251.8h17.6M867.7 251.8h6.0M879.3 251.8h6.0M919.8 251.8h6.0M405.0 278.9h6.0M578.5 287.9h6.0M590.1 287.9h40.7M676.8 297.0h6.0M705.8 306.0h11.8M746.3 306.0h6.0M821.4 315.1h6.0M260.4 324.1h6.0M647.9 324.1h6.0M688.4 324.1h11.8M705.8 324.1h17.6M734.7 324.1h6.0M445.5 369.3h6.0M462.8 369.3h6.0M486.0 378.4h6.0M688.4 378.4h11.8M705.8 378.4h17.6M260.4 387.4h6.0M486.0 387.4h6.0M786.7 387.4h23.4M405.0 396.5h6.0M422.4 396.5h6.0M433.9 396.5h6.0M451.3 396.5h6.0M306.7 749.2h11.8M335.6 749.2h6.0M352.9 749.2h6.0M370.3 749.2h6.0M410.8 749.2h6.0M433.9 749.2h6.0M445.5 749.2h11.8M462.8 749.2h6.0"/>
<path stroke="#0033cc" d="M474.4 197.5h6.0M509.1 197.5h6.0M520.7 197.5h6.0M532.2 197.5h6.0M555.4 197.5h17.6M595.9 197.5h6.0M532.2 206.5h6.0M549.6 206.5h11.8M567.0 206.5h6.0M578.5 206.5h46.5M630.6 206.5h6.0M694.2 215.6h6.0M694.2 224.6h6.0M717.3 224.6h6.0M827.2 233.7h17.6M850.4 233.7h11.8M914.0 242.7h6.0M260.4 251.8h6.0M491.8 251.8h6.0M746.3 251.8h11.8M769.4 251.8h29.2M815.7 251.8h6.0M833.0 251.8h6.0M856.2 251.8h6.0M468.6 287.9h11.8M514.9 287.9h11.8M532.2 287.9h11.8M555.4 287.9h23.4M584.3 287.9h6.0M497.5 297.0h6.0M653.7 297.0h6.0M665.3 297.0h6.0M717.3 306.0h6.0M809.9 315.1h11.8M624.8 324.1h6.0M653.7 324.1h11.8M671.1 324.1h17.6M439.7 369.3h6.0M676.8 378.4h11.8M769.4 387.4h6.0M781.0 387.4h6.0M405.0 749.2h6.0M422.4 749.2h6.0"/>
<path stroke="#004db2" d="M468.6 197.5h6.0M480.2 197.5h6.0M503.3 197.5h6.0M514.9 197.5h6.0M526.5 197.5h6.0M538.0 197.5h11.8M572.7 197.5h6.0M468.6 206.5h17.6M503.3 206.5h11.8M520.7 206.5h11.8M538.0 206.5h6.0M561.2 206.5h6.0M572.7 206.5h6.0M804.1 233.7h11.8M821.4 233.7h6.0M908.2 242.7h6.0M919.8 242.7h23.4M700.0 251.8h6.0M711.6 251.8h6.0M728.9 251.8h17.6M757.8 251.8h11.8M798.3 251.8h6.0M480.2 287.9h6.0M503.3 287.9h11.8M526.5 287.9h6.0M543.8 287.9h6.0M647.9 297.0h6.0M659.5 297.0h6.0M688.4 306.0h11.8M804.1 315.1h6.0M549.6 324.1h6.0M595.9 324.1h17.6M619.0 324.1h6.0M636.4 324.1h11.8M665.3 324.1h6.0M653.7 378.4h6.0M665.3 378.4h11.8M700.0 387.4h6.0M728.9 387.4h6.0M757.8 387.4h11.8M775.2 387.4h6.0"/>
<path stroke="#006699" d="M277.8 197.5h6.0M295.1 197.5h6.0M335.6 197.5h6.0M399.2 197.5h6.0M439.7 197.5h6.0M457.1 197.5h6.0M514.9 206.5h6.0M543.8 206.5h6.0M491.8 215.6h11.8M682.6 215.6h11.8M688.4 224.6h6.0M792.5 233.7h11.8M815.7 233.7h6.0M885.1 242.7h23.4M624.8 251.8h6.0M636.4 251.8h6.0M653.7 251.8h6.0M665.3 251.8h11.8M682.6 251.8h17.6M705.8 251.8h6.0M717.3 251.8h11.8M1075.9 251.8h-0.7M462.8 287.9h6.0M491.8 297.0h6.0M636.4 297.0h6.0M792.5 315.1h11.8M295.1 324.1h6.0M329.8 324.1h6.0M399.2 324.1h6.0M416.6 324.1h6.0M439.7 324.1h6.0M468.6 324.1h6.0M503.3 324.1h6.0M520.7 324.1h6.0M532.2 324.1h6.0M543.8 324.1h6.0M555.4 324.1h40.7M613.2 324.1h6.0M630.6 324.1h6.0M266.2 369.3h6.0M295.1 369.3h6.0M358.7 369.3h6.0M381.9 369.3h6.0M399.2 369.3h6.0M647.9 378.4h6.0M647.9 387.4h11.8M665.3 387.4h11.8M682.6 387.4h11.8M705.8 387.4h11.8M723.1 387.4h6.0M734.7 387.4h23.4"/>
<path stroke="#008080" d="M272.0 197.5h6.0M283.5 197.5h11.8M300.9 197.5h35.0M347.2 197.5h52.3M416.6 197.5h6.0M428.1 197.5h11.8M445.5 197.5h11.8M462.8 197.5h6.0M272.0 206.5h11.8M295.1 206.5h17.6M318.2 206.5h6.0M329.8 206.5h11.8M364.5 206.5h11.8M381.9 206.5h11.8M399.2 206.5h6.0M428.1 206.5h6.0M439.7 206.5h6.0M457.1 206.5h6.0M671.1 215.6h6.0M486.0 224.6h6.0M671.1 224.6h6.0M682.6 224.6h6.0M786.7 233.7h6.0M486.0 242.7h6.0M873.5 242.7h11.8M1075.0 242.7h5.5M549.6 251.8h11.8M607.4 251.8h17.6M642.1 251.8h11.8M659.5 251.8h6.0M676.8 251.8h6.0M1080.2 251.8h4.2M283.5 287.9h6.0M329.8 287.9h6.0M358.7 287.9h6.0M370.3 287.9h6.0M399.2 287.9h6.0M439.7 287.9h6.0M457.1 287.9h6.0M601.7 297.0h6.0M619.0 297.0h11.8M642.1 297.0h6.0M486.0 306.0h6.0M769.4 315.1h23.4M266.2 324.1h29.2M300.9 324.1h6.0M318.2 324.1h11.8M335.6 324.1h17.6M358.7 324.1h11.8M376.1 324.1h23.4M428.1 324.1h11.8M445.5 324.1h23.4M474.4 324.1h11.8M509.1 324.1h11.8M526.5 324.1h6.0M538.0 324.1h6.0M277.8 369.3h17.6M300.9 369.3h58.1M364.5 369.3h17.6M387.6 369.3h11.8M416.6 369.3h6.0M428.1 369.3h11.8M491.8 378.4h11.8M642.1 378.4h6.0M659.5 378.4h6.0M491.8 387.4h11.8M659.5 387.4h6.0M676.8 387.4h6.0M694.2 387.4h6.0M717.3 387.4h6.0M1080.2 387.4h4.2"/>
<path stroke="#009966" d="M341.4 197.5h6.0M405.0 197.5h11.8M422.4 197.5h6.0M283.5 206.5h11.8M312.5 206.5h6.0M324.0 206.5h6.0M341.4 206.5h23.4M376.1 206.5h6.0M393.4 206.5h6.0M405.0 206.5h17.6M433.9 206.5h6.0M445.5 206.5h11.8M462.8 206.5h6.0M676.8 215.6h6.0M676.8 224.6h6.0M769.4 233.7h17.6M861.9 242.7h11.8M295.1 251.8h11.8M358.7 251.8h6.0M457.1 251.8h6.0M468.6 251.8h6.0M532.2 251.8h11.8M572.7 251.8h35.0M630.6 251.8h6.0M277.8 287.9h6.0M289.3 287.9h23.4M318.2 287.9h11.8M335.6 287.9h6.0M347.2 287.9h11.8M364.5 287.9h6.0M376.1 287.9h17.6M416.6 287.9h6.0M428.1 287.9h11.8M445.5 287.9h11.8M549.6 297.0h11.8M584.3 297.0h17.6M607.4 297.0h11.8M630.6 297.0h6.0M671.1 306.0h6.0M682.6 306.0h6.0M486.0 315.1h6.0M763.6 315.1h6.0M306.7 324.1h11.8M352.9 324.1h6.0M370.3 324.1h6.0M405.0 324.1h11.8M422.4 324.1h6.0M272.0 369.3h6.0M405.0 369.3h11.8M422.4 369.3h6.0M607.4 378.4h6.0M619.0 378.4h11.8M636.4 378.4h6.0M607.4 387.4h6.0M619.0 387.4h11.8M636.4 387.4h11.8"/>
<path stroke="#00b34c" d="M422.4 206.5h6.0M624.8 215.6h6.0M642.1 215.6h29.2M659.5 224.6h11.8M486.0 233.7h6.0M723.1 233.7h11.8M752.0 233.7h17.6M850.4 242.7h11.8M1075.9 242.7h-0.7M266.2 251.8h23.4M306.7 251.8h35.0M347.2 251.8h11.8M364.5 251.8h6.0M376.1 251.8h29.2M416.6 251.8h6.0M428.1 251.8h29.2M462.8 251.8h6.0M474.4 251.8h11.8M509.1 251.8h23.4M543.8 251.8h6.0M561.2 251.8h11.8M272.0 287.9h6.0M312.5 287.9h6.0M341.4 287.9h6.0M393.4 287.9h6.0M405.0 287.9h11.8M422.4 287.9h6.0M266.2 297.0h6.0M520.7 297.0h23.4M561.2 297.0h23.4M665.3 306.0h6.0M676.8 306.0h6.0M728.9 315.1h6.0M740.5 315.1h23.4M595.9 378.4h6.0M613.2 378.4h6.0M630.6 378.4h6.0M595.9 387.4h11.8M613.2 387.4h6.0M630.6 387.4h6.0"/>
<path stroke="#00cc33" d="M549.6 215.6h6.0M595.9 215.6h6.0M607.4 215.6h17.6M630.6 215.6h11.8M491.8 224.6h11.8M647.9 224.6h11.8M734.7 233.7h17.6M260.4 242.7h6.0M497.5 242.7h6.0M827.2 242.7h6.0M844.6 242.7h6.0M289.3 251.8h6.0M341.4 251.8h6.0M370.3 251.8h6.0M405.0 251.8h11.8M422.4 251.8h6.0M503.3 251.8h6.0M503.3 297.0h11.8M543.8 297.0h6.0M647.9 306.0h17.6M497.5 315.1h6.0M700.0 315.1h6.0M723.1 315.1h6.0M734.7 315.1h6.0M260.4 378.4h6.0M532.2 378.4h6.0M549.6 378.4h23.4M578.5 378.4h17.6M601.7 378.4h6.0M549.6 387.4h6.0M567.0 387.4h6.0M578.5 387.4h17.6"/>
<path stroke="#00e51a" d="M428.1 215.6h6.0M468.6 215.6h6.0M520.7 215.6h6.0M532.2 215.6h6.0M555.4 215.6h6.0M578.5 215.6h17.6M601.7 215.6h6.0M260.4 224.6h6.0M636.4 224.6h11.8M688.4 233.7h6.0M700.0 233.7h23.4M491.8 242.7h6.0M798.3 242.7h29.2M833.0 242.7h11.8M364.5 297.0h6.0M381.9 297.0h6.0M399.2 297.0h6.0M439.7 297.0h6.0M457.1 297.0h6.0M468.6 297.0h17.6M514.9 297.0h6.0M491.8 306.0h11.8M624.8 306.0h6.0M636.4 306.0h11.8M491.8 315.1h6.0M705.8 315.1h17.6M520.7 378.4h6.0M538.0 378.4h11.8M572.7 378.4h6.0M266.2 387.4h6.0M335.6 387.4h6.0M364.5 387.4h6.0M381.9 387.4h6.0M399.2 387.4h6.0M439.7 387.4h6.0M457.1 387.4h6.0M468.6 387.4h6.0M480.2 387.4h6.0M509.1 387.4h6.0M532.2 387.4h17.6M555.4 387.4h11.8M572.7 387.4h6.0"/>
<path stroke="#00ff00" d="M272.0 215.6h17.6M295.1 215.6h11.8M324.0 215.6h29.2M358.7 215.6h17.6M381.9 215.6h23.4M416.6 215.6h6.0M439.7 215.6h6.0M457.1 215.6h6.0M474.4 215.6h11.8M503.3 215.6h17.6M526.5 215.6h6.0M538.0 215.6h11.8M561.2 215.6h17.6M613.2 224.6h6.0M624.8 224.6h11.8M497.5 233.7h6.0M647.9 233.7h11.8M665.3 233.7h23.4M694.2 233.7h6.0M700.0 242.7h6.0M769.4 242.7h29.2M1080.2 242.7h4.2M277.8 297.0h6.0M289.3 297.0h23.4M318.2 297.0h35.0M358.7 297.0h6.0M370.3 297.0h11.8M387.6 297.0h11.8M416.6 297.0h6.0M428.1 297.0h6.0M445.5 297.0h11.8M462.8 297.0h6.0M619.0 306.0h6.0M630.6 306.0h6.0M671.1 315.1h6.0M682.6 315.1h17.6M457.1 378.4h6.0M468.6 378.4h11.8M509.1 378.4h11.8M526.5 378.4h6.0M272.0 387.4h40.7M318.2 387.4h17.6M341.4 387.4h23.4M370.3 387.4h11.8M387.6 387.4h11.8M416.6 387.4h6.0M428.1 387.4h11.8M445.5 387.4h11.8M462.8 387.4h6.0M474.4 387.4h6.0M503.3 387.4h6.0M514.9 387.4h17.6"/>
<path stroke="#1aff00" d="M289.3 215.6h6.0M306.7 215.6h17.6M352.9 215.6h6.0M376.1 215.6h6.0M410.8 215.6h6.0M422.4 215.6h6.0M433.9 215.6h6.0M445.5 215.6h11.8M462.8 215.6h6.0M584.3 224.6h6.0M601.7 224.6h11.8M619.0 224.6h6.0M491.8 233.7h6.0M636.4 233.7h6.0M659.5 233.7h6.0M653.7 242.7h11.8M671.1 242.7h6.0M688.4 242.7h6.0M723.1 242.7h46.5M272.0 297.0h6.0M283.5 297.0h6.0M312.5 297.0h6.0M352.9 297.0h6.0M405.0 297.0h11.8M422.4 297.0h6.0M433.9 297.0h6.0M260.4 306.0h6.0M549.6 306.0h6.0M595.9 306.0h23.4M647.9 315.1h23.4M676.8 315.1h6.0M439.7 378.4h6.0M480.2 378.4h6.0M503.3 378.4h6.0M312.5 387.4h6.0M405.0 387.4h11.8"/>
<path stroke="#33ff00" d="M405.0 215.6h6.0M277.8 224.6h6.0M532.2 224.6h6.0M549.6 224.6h23.4M578.5 224.6h6.0M590.1 224.6h11.8M624.8 233.7h6.0M642.1 233.7h6.0M549.6 242.7h11.8M584.3 242.7h6.0M607.4 242.7h11.8M624.8 242.7h6.0M636.4 242.7h17.6M665.3 242.7h6.0M676.8 242.7h11.8M694.2 242.7h6.0M705.8 242.7h17.6M532.2 306.0h6.0M555.4 306.0h6.0M567.0 306.0h29.2M260.4 315.1h6.0M595.9 315.1h6.0M607.4 315.1h40.7M416.6 378.4h6.0M428.1 378.4h11.8M445.5 378.4h11.8M462.8 378.4h6.0M422.4 387.4h6.0"/>
<path stroke="#4dff00" d="M266.2 224.6h11.8M283.5 224.6h6.0M457.1 224.6h6.0M509.1 224.6h17.6M538.0 224.6h11.8M572.7 224.6h6.0M260.4 233.7h6.0M607.4 233.7h17.6M630.6 233.7h6.0M266.2 242.7h6.0M277.8 242.7h6.0M468.6 242.7h6.0M520.7 242.7h6.0M532.2 242.7h6.0M567.0 242.7h6.0M578.5 242.7h6.0M590.1 242.7h17.6M619.0 242.7h6.0M503.3 306.0h6.0M520.7 306.0h6.0M543.8 306.0h6.0M561.2 306.0h6.0M532.2 315.1h6.0M549.6 315.1h11.8M578.5 315.1h17.6M601.7 315.1h6.0M266.2 378.4h6.0M399.2 378.4h6.0M410.8 378.4h6.0M422.4 378.4h6.0"/>
<path stroke="#66ff00" d="M289.3 224.6h23.4M324.0 224.6h6.0M370.3 224.6h6.0M468.6 224.6h17.6M503.3 224.6h6.0M526.5 224.6h6.0M549.6 233.7h6.0M584.3 233.7h23.4M272.0 242.7h6.0M283.5 242.7h29.2M318.2 242.7h35.0M376.1 242.7h11.8M399.2 242.7h6.0M439.7 242.7h6.0M451.3 242.7h11.8M474.4 242.7h11.8M509.1 242.7h11.8M526.5 242.7h6.0M538.0 242.7h11.8M561.2 242.7h6.0M572.7 242.7h6.0M630.6 242.7h6.0M457.1 306.0h6.0M468.6 306.0h11.8M509.1 306.0h11.8M526.5 306.0h6.0M538.0 306.0h6.0M509.1 315.1h6.0M520.7 315.1h11.8M538.0 315.1h11.8M561.2 315.1h17.6M272.0 378.4h11.8M370.3 378.4h29.2M405.0 378.4h6.0"/>
<path stroke="#80ff00" d="M312.5 224.6h11.8M329.8 224.6h29.2M364.5 224.6h6.0M376.1 224.6h29.2M416.6 224.6h6.0M428.1 224.6h6.0M439.7 224.6h17.6M462.8 224.6h6.0M509.1 233.7h6.0M520.7 233.7h23.4M555.4 233.7h17.6M578.5 233.7h6.0M312.5 242.7h6.0M352.9 242.7h23.4M387.6 242.7h11.8M416.6 242.7h6.0M428.1 242.7h11.8M445.5 242.7h6.0M462.8 242.7h6.0M503.3 242.7h6.0M451.3 306.0h6.0M462.8 306.0h6.0M480.2 306.0h6.0M468.6 315.1h6.0M503.3 315.1h6.0M514.9 315.1h6.0M283.5 378.4h11.8M329.8 378.4h6.0M364.5 378.4h6.0"/>
<path stroke="#99ff00" d="M358.7 224.6h6.0M405.0 224.6h11.8M422.4 224.6h6.0M433.9 224.6h6.0M266.2 233.7h17.6M457.1 233.7h6.0M468.6 233.7h6.0M503.3 233.7h6.0M514.9 233.7h6.0M543.8 233.7h6.0M572.7 233.7h6.0M405.0 242.7h11.8M422.4 242.7h6.0M283.5 315.1h6.0M457.1 315.1h6.0M474.4 315.1h11.8M295.1 378.4h17.6M318.2 378.4h11.8M335.6 378.4h6.0M347.2 378.4h17.6"/>
<path stroke="#b2ff00" d="M283.5 233.7h52.3M347.2 233.7h6.0M358.7 233.7h11.8M376.1 233.7h29.2M416.6 233.7h6.0M445.5 233.7h6.0M474.4 233.7h11.8M439.7 306.0h11.8M266.2 315.1h17.6M289.3 315.1h17.6M329.8 315.1h6.0M451.3 315.1h6.0M462.8 315.1h6.0M312.5 378.4h6.0M341.4 378.4h6.0"/>
<path stroke="#ccff00" d="M335.6 233.7h11.8M352.9 233.7h6.0M370.3 233.7h6.0M410.8 233.7h6.0M422.4 233.7h23.4M451.3 233.7h6.0M462.8 233.7h6.0M277.8 306.0h6.0M300.9 306.0h6.0M318.2 306.0h6.0M329.8 306.0h6.0M416.6 306.0h6.0M306.7 315.1h23.4M335.6 315.1h6.0M439.7 315.1h11.8"/>
<path stroke="#e5ff00" d="M405.0 233.7h6.0M266.2 306.0h11.8M283.5 306.0h17.6M312.5 306.0h6.0M324.0 306.0h6.0M335.6 306.0h75.4M428.1 306.0h6.0M341.4 315.1h63.9M416.6 315.1h6.0M428.1 315.1h11.8"/>
<path stroke="#ffff00" d="M306.7 306.0h6.0M410.8 306.0h6.0M422.4 306.0h6.0M433.9 306.0h6.0M405.0 315.1h11.8M422.4 315.1h6.0"/>
</g>
<path d="M293.14 193.00V772.30M346.48 193.00V772.30M399.81 193.00V772.30M506.49 193.00V772.30M559.83 193.00V772.30M613.16 193.00V772.30M719.84 193.00V772.30M773.17 193.00V772.30M826.51 193.00V772.30M933.19 193.00V772.30M986.53 193.00V772.30M1039.86 193.00V772.30" stroke="#808080" stroke-width="2.2" stroke-dasharray="2.2 3.67" fill="none"/>
<path d="M453.15 201.00V772.30M666.50 201.00V772.30M879.85 201.00V772.30" stroke="#808080" stroke-width="4.1" stroke-dasharray="4.1 6.95" fill="none"/>
<path d="M239.80 337.67H1093.20M239.80 482.37H1093.20M239.80 627.07H1093.20" stroke="#000" stroke-width="1.39" stroke-dasharray="5.14 2.22" fill="none"/>
<path d="M239.80 265.32H1093.20M239.80 410.02H1093.20M239.80 554.72H1093.20M239.80 699.42H1093.20" stroke="#000" stroke-width="1.39" stroke-dasharray="1.39 2.29" fill="none"/>
<path d="M239.8 458.3L1093.2 441.0" stroke="#00f2c6" stroke-width="8.3" fill="none"/>
<path d="M239.8 458.5L1093.2 441.2" stroke="#000" stroke-width="2.9" fill="none"/>
<path d="M239.8 304.2L1093.2 305.6" stroke="#00f2c6" stroke-width="8.3" stroke-dasharray="25 25" fill="none"/>
<path d="M240.3 304.5L1093.2 305.9" stroke="#000" stroke-width="2.9" stroke-dasharray="25 25" fill="none"/>
<path d="M239.8 735.8L1093.2 735.8" stroke="#00f2c6" stroke-width="8.3" stroke-dasharray="25 8.33 8.33 8.33" fill="none"/>
<path d="M240.3 736.1L1093.2 736.1" stroke="#000" stroke-width="2.9" stroke-dasharray="25 8.33 8.33 8.33" fill="none"/>
<path d="M239.80 191.50v9.7M239.80 772.30v-9.7M453.15 191.50v9.7M453.15 772.30v-9.7M666.50 191.50v9.7M666.50 772.30v-9.7M879.85 191.50v9.7M879.85 772.30v-9.7M1093.20 191.50v9.7M1093.20 772.30v-9.7" stroke="#000" stroke-width="2.2" fill="none"/>
<path d="M293.14 191.50v5.6M293.14 772.30v-5.6M346.48 191.50v5.6M346.48 772.30v-5.6M399.81 191.50v5.6M399.81 772.30v-5.6M506.49 191.50v5.6M506.49 772.30v-5.6M559.83 191.50v5.6M559.83 772.30v-5.6M613.16 191.50v5.6M613.16 772.30v-5.6M719.84 191.50v5.6M719.84 772.30v-5.6M773.17 191.50v5.6M773.17 772.30v-5.6M826.51 191.50v5.6M826.51 772.30v-5.6M933.19 191.50v5.6M933.19 772.30v-5.6M986.53 191.50v5.6M986.53 772.30v-5.6M1039.86 191.50v5.6M1039.86 772.30v-5.6" stroke="#000" stroke-width="1.7" fill="none"/>
<path d="M239.80 735.60h9.7M1093.20 735.60h-9.7M239.80 663.25h9.7M1093.20 663.25h-9.7M239.80 590.90h9.7M1093.20 590.90h-9.7M239.80 518.55h9.7M1093.20 518.55h-9.7M239.80 446.20h9.7M1093.20 446.20h-9.7M239.80 373.85h9.7M1093.20 373.85h-9.7M239.80 301.49h9.7M1093.20 301.49h-9.7M239.80 229.14h9.7M1093.20 229.14h-9.7" stroke="#000" stroke-width="2.2" fill="none"/>
<path d="M239.80 753.69h5.6M239.80 717.51h5.6M239.80 699.42h5.6M239.80 681.34h5.6M239.80 645.16h5.6M239.80 627.07h5.6M239.80 608.99h5.6M239.80 572.81h5.6M239.80 554.72h5.6M239.80 536.63h5.6M239.80 500.46h5.6M239.80 482.37h5.6M239.80 464.28h5.6M239.80 428.11h5.6M239.80 410.02h5.6M239.80 391.93h5.6M239.80 355.76h5.6M239.80 337.67h5.6M239.80 319.58h5.6M239.80 283.41h5.6M239.80 265.32h5.6M239.80 247.23h5.6M239.80 211.06h5.6M239.80 192.97h5.6" stroke="#000" stroke-width="1.7" fill="none"/>
<rect x="239.80" y="191.50" width="853.40" height="580.80" fill="none" stroke="#000" stroke-width="2.2"/>
<text transform="translate(229.60,238.94)" x="-61.86" y="0" font-size="27.43" textLength="61.86" lengthAdjust="spacingAndGlyphs">-X/-Z</text>
<text transform="translate(1104.40,238.44)" x="0.00" y="0" font-size="26.38" textLength="47.72" lengthAdjust="spacingAndGlyphs">315</text>
<text transform="translate(229.60,311.29)" x="-25.90" y="0" font-size="27.43" textLength="25.90" lengthAdjust="spacingAndGlyphs">-X</text>
<text transform="translate(1104.40,310.79)" x="0.00" y="0" font-size="26.38" textLength="47.72" lengthAdjust="spacingAndGlyphs">270</text>
<text transform="translate(229.60,383.65)" x="-74.26" y="0" font-size="27.43" textLength="74.26" lengthAdjust="spacingAndGlyphs">+Z/-X</text>
<text transform="translate(1104.40,383.15)" x="0.00" y="0" font-size="26.38" textLength="47.72" lengthAdjust="spacingAndGlyphs">225</text>
<text transform="translate(229.60,456.00)" x="-39.60" y="0" font-size="27.43" textLength="39.60" lengthAdjust="spacingAndGlyphs">+Z</text>
<text transform="translate(1104.40,455.50)" x="0.00" y="0" font-size="26.38" textLength="47.72" lengthAdjust="spacingAndGlyphs">180</text>
<text transform="translate(229.60,528.35)" x="-87.96" y="0" font-size="27.43" textLength="87.96" lengthAdjust="spacingAndGlyphs">+X/+Z</text>
<text transform="translate(1104.40,527.85)" x="0.00" y="0" font-size="26.38" textLength="47.72" lengthAdjust="spacingAndGlyphs">135</text>
<text transform="translate(229.60,600.70)" x="-39.60" y="0" font-size="27.43" textLength="39.60" lengthAdjust="spacingAndGlyphs">+X</text>
<text transform="translate(1104.40,600.20)" x="0.00" y="0" font-size="26.38" textLength="31.81" lengthAdjust="spacingAndGlyphs">90</text>
<text transform="translate(229.60,673.05)" x="-75.55" y="0" font-size="27.43" textLength="75.55" lengthAdjust="spacingAndGlyphs">-Z/+X</text>
<text transform="translate(1104.40,672.55)" x="0.00" y="0" font-size="26.38" textLength="31.81" lengthAdjust="spacingAndGlyphs">45</text>
<text transform="translate(229.60,745.40)" x="-27.19" y="0" font-size="27.43" textLength="27.19" lengthAdjust="spacingAndGlyphs">-Z</text>
<text transform="translate(1104.40,744.90)" x="0.00" y="0" font-size="26.38" textLength="15.91" lengthAdjust="spacingAndGlyphs">0</text>
<text transform="translate(117.50,481.90) rotate(-90)" x="-56.43" y="0" font-size="29.31" textLength="112.86" lengthAdjust="spacingAndGlyphs">S/C Axis</text>
<text transform="translate(1184.00,481.90) rotate(-90)" x="-204.47" y="0" font-size="23.42" textLength="408.93" lengthAdjust="spacingAndGlyphs">Angle from -Z axis (towards +X axis)</text>
<g fill="none" stroke-width="3.01">
<path stroke="#e6ccff" d="M364.5 833.4h6.0M445.5 833.4h6.0M561.2 833.4h6.0M584.3 833.4h6.0M595.9 833.4h6.0M619.0 833.4h11.8M838.8 833.4h6.0M364.5 836.2h11.8M381.9 836.2h6.0M503.3 836.2h11.8M584.3 836.2h6.0M601.7 836.2h6.0M711.6 836.2h6.0M821.4 836.2h6.0M272.0 838.9h6.0M306.7 838.9h11.8M347.2 838.9h6.0M503.3 838.9h6.0M532.2 838.9h17.6M682.6 838.9h6.0M838.8 838.9h6.0M318.2 841.7h6.0M341.4 841.7h6.0M474.4 841.7h11.8M590.1 841.7h6.0M682.6 841.7h6.0M734.7 841.7h6.0M902.4 841.7h6.0M318.2 844.5h6.0M538.0 844.5h6.0M567.0 844.5h6.0M717.3 844.5h6.0M763.6 844.5h6.0M890.9 844.5h6.0M1084.2 844.5h8.5M289.3 847.2h6.0M399.2 847.2h6.0M439.7 847.2h6.0M451.3 847.2h6.0M497.5 847.2h6.0M532.2 847.2h6.0M607.4 847.2h6.0M781.0 847.2h6.0M792.5 847.2h6.0M416.6 850.0h6.0M468.6 850.0h6.0M578.5 850.0h6.0M624.8 850.0h6.0M746.3 850.0h6.0M856.2 850.0h6.0M960.3 850.0h6.0M439.7 852.7h6.0M480.2 852.7h6.0M532.2 852.7h6.0M567.0 852.7h6.0M578.5 852.7h6.0M711.6 852.7h11.8M798.3 852.7h6.0M387.6 855.5h6.0M480.2 855.5h6.0M584.3 855.5h6.0M659.5 855.5h6.0M682.6 855.5h6.0M705.8 855.5h6.0M260.4 858.3h11.8M376.1 858.3h6.0M416.6 858.3h6.0M451.3 858.3h6.0M474.4 858.3h6.0M595.9 858.3h6.0M821.4 858.3h6.0M509.1 861.0h6.0M630.6 861.0h6.0M653.7 861.0h6.0M671.1 861.0h6.0M700.0 861.0h6.0M376.1 863.8h6.0M486.0 863.8h6.0M624.8 863.8h6.0M266.2 866.5h6.0M289.3 866.5h6.0M370.3 866.5h6.0M474.4 866.5h6.0M700.0 866.5h6.0M752.0 866.5h6.0M804.1 866.5h6.0M277.8 869.3h17.6M387.6 869.3h6.0M422.4 869.3h6.0M561.2 869.3h6.0M572.7 869.3h6.0M659.5 869.3h6.0M995.0 869.3h6.0M312.5 872.0h6.0M433.9 872.0h6.0M561.2 872.0h6.0M740.5 872.0h6.0M266.2 874.8h11.8M318.2 874.8h6.0M370.3 874.8h6.0M439.7 874.8h6.0M653.7 874.8h6.0M671.1 874.8h6.0M983.4 874.8h6.0M283.5 877.6h6.0M318.2 877.6h6.0M422.4 877.6h11.8M451.3 877.6h6.0M694.2 877.6h6.0M364.5 880.3h6.0M520.7 880.3h6.0M538.0 880.3h6.0M584.3 880.3h6.0M601.7 880.3h6.0M283.5 883.1h6.0M300.9 883.1h6.0M410.8 883.1h6.0M572.7 883.1h6.0M757.8 883.1h6.0M358.7 885.8h6.0M549.6 885.8h6.0M630.6 885.8h6.0M676.8 885.8h6.0M711.6 885.8h6.0M954.5 885.8h6.0M277.8 888.6h6.0M324.0 888.6h6.0M393.4 888.6h6.0M497.5 888.6h11.8M526.5 888.6h6.0M694.2 888.6h6.0M746.3 888.6h6.0M781.0 888.6h6.0M792.5 888.6h6.0M809.9 888.6h6.0M277.8 891.3h6.0M295.1 891.3h6.0M364.5 891.3h6.0M433.9 891.3h6.0M445.5 891.3h6.0M526.5 891.3h6.0M804.1 891.3h6.0M873.5 891.3h6.0M272.0 894.1h6.0M318.2 894.1h6.0M439.7 894.1h6.0M624.8 894.1h6.0M665.3 894.1h6.0M711.6 894.1h6.0M769.4 894.1h6.0M815.7 894.1h6.0M937.1 894.1h6.0M966.0 894.1h6.0M1080.2 894.1h4.2M538.0 896.9h6.0M619.0 896.9h6.0M723.1 896.9h6.0M260.4 899.6h6.0M295.1 899.6h6.0M341.4 899.6h6.0M376.1 899.6h6.0M642.1 899.6h6.0M688.4 899.6h6.0M827.2 899.6h6.0M324.0 902.4h11.8M358.7 902.4h6.0M381.9 902.4h6.0M567.0 902.4h6.0M653.7 902.4h6.0M700.0 902.4h11.8M734.7 902.4h6.0M763.6 902.4h6.0M312.5 905.1h6.0M335.6 905.1h6.0M619.0 905.1h6.0M908.2 905.1h6.0M405.0 907.9h6.0M445.5 907.9h6.0M457.1 907.9h6.0M590.1 907.9h6.0M659.5 907.9h6.0M809.9 907.9h11.8M908.2 907.9h6.0M381.9 910.7h6.0M474.4 910.7h6.0M497.5 910.7h6.0M526.5 910.7h6.0M555.4 910.7h6.0M584.3 910.7h6.0M763.6 910.7h6.0M844.6 910.7h6.0M318.2 913.4h6.0M341.4 913.4h6.0M376.1 913.4h6.0M399.2 913.4h6.0M491.8 913.4h6.0M555.4 913.4h6.0M647.9 913.4h6.0M295.1 916.2h6.0M416.6 916.2h6.0M572.7 916.2h6.0M613.2 916.2h6.0M381.9 918.9h6.0M555.4 918.9h6.0M642.1 918.9h6.0M694.2 918.9h6.0M821.4 918.9h6.0M306.7 921.7h6.0M329.8 921.7h6.0M376.1 921.7h6.0M399.2 921.7h6.0M422.4 921.7h6.0M543.8 921.7h6.0M711.6 921.7h6.0M277.8 924.4h6.0M659.5 924.4h6.0M335.6 927.2h6.0M381.9 927.2h6.0M474.4 927.2h6.0M486.0 927.2h6.0M613.2 927.2h6.0M752.0 927.2h6.0M896.6 927.2h6.0M370.3 930.0h6.0M405.0 930.0h6.0M416.6 930.0h6.0M607.4 930.0h6.0M746.3 930.0h6.0M266.2 932.7h6.0M439.7 932.7h6.0M532.2 932.7h6.0M561.2 932.7h6.0M676.8 932.7h6.0M873.5 932.7h6.0M885.1 932.7h6.0M260.4 935.5h6.0M393.4 935.5h6.0M439.7 935.5h6.0M561.2 935.5h6.0M815.7 935.5h6.0M856.2 935.5h6.0M295.1 938.2h6.0M341.4 938.2h6.0M364.5 938.2h6.0M439.7 938.2h6.0M474.4 938.2h11.8M549.6 938.2h6.0M595.9 938.2h6.0M734.7 938.2h6.0M387.6 941.0h6.0M486.0 941.0h6.0M538.0 941.0h11.8M312.5 943.8h6.0M462.8 943.8h6.0M642.1 943.8h6.0M746.3 943.8h6.0M300.9 946.5h6.0M381.9 946.5h6.0M480.2 946.5h6.0M491.8 946.5h6.0M503.3 946.5h11.8M613.2 946.5h6.0M711.6 946.5h6.0M723.1 946.5h6.0M734.7 946.5h6.0M919.8 946.5h6.0M1075.9 946.5h-0.7M410.8 949.3h6.0M538.0 949.3h6.0M555.4 949.3h6.0M688.4 949.3h6.0M763.6 949.3h6.0M329.8 952.0h6.0M572.7 952.0h6.0M682.6 952.0h11.8M763.6 952.0h6.0M352.9 954.8h6.0M364.5 954.8h6.0M387.6 954.8h6.0M567.0 954.8h6.0M590.1 954.8h6.0M607.4 954.8h6.0M671.1 954.8h6.0M561.2 957.5h6.0M277.8 960.3h6.0M474.4 960.3h6.0M514.9 960.3h6.0M601.7 960.3h6.0M653.7 960.3h6.0M688.4 960.3h6.0M809.9 960.3h6.0M266.2 963.1h6.0M318.2 963.1h6.0M329.8 963.1h6.0M526.5 963.1h6.0M549.6 963.1h6.0M624.8 963.1h6.0M676.8 963.1h6.0M694.2 963.1h6.0M983.4 963.1h6.0M1075.9 963.1h-0.7M266.2 965.8h6.0M277.8 965.8h6.0M289.3 965.8h6.0M324.0 965.8h6.0M480.2 965.8h6.0M833.0 965.8h6.0M295.1 968.6h6.0M306.7 968.6h6.0M335.6 968.6h6.0M358.7 968.6h11.8M520.7 968.6h6.0M549.6 968.6h6.0M584.3 968.6h6.0M619.0 968.6h6.0M705.8 968.6h6.0M295.1 971.3h6.0M405.0 971.3h6.0M636.4 971.3h6.0M653.7 971.3h6.0M665.3 971.3h6.0M376.1 974.1h6.0M387.6 974.1h6.0M561.2 974.1h6.0M607.4 974.1h6.0M786.7 974.1h6.0M335.6 976.8h6.0M561.2 976.8h6.0M694.2 976.8h11.8M948.7 976.8h6.0M1070.2 976.8h6.0M277.8 979.6h6.0M324.0 979.6h6.0M399.2 979.6h6.0M486.0 979.6h6.0M867.7 979.6h6.0M902.4 979.6h6.0M393.4 982.4h6.0M410.8 982.4h6.0M462.8 982.4h6.0M572.7 982.4h11.8M619.0 982.4h6.0M734.7 982.4h6.0M792.5 982.4h6.0M433.9 985.1h6.0M451.3 985.1h6.0M590.1 985.1h6.0M705.8 985.1h6.0M358.7 987.9h6.0M491.8 987.9h6.0M549.6 987.9h6.0M572.7 987.9h6.0M642.1 987.9h6.0M723.1 987.9h6.0M734.7 987.9h6.0M948.7 987.9h6.0M266.2 990.6h6.0M335.6 990.6h6.0M462.8 990.6h6.0M480.2 990.6h6.0M509.1 990.6h6.0M590.1 990.6h6.0M705.8 990.6h6.0M318.2 993.4h6.0M352.9 993.4h6.0M422.4 993.4h6.0M590.1 993.4h6.0M711.6 993.4h6.0M364.5 996.2h11.8M497.5 996.2h11.8M538.0 996.2h11.8M723.1 996.2h6.0M896.6 996.2h6.0M266.2 998.9h6.0M277.8 998.9h11.8M295.1 998.9h6.0M370.3 998.9h6.0M399.2 998.9h6.0M584.3 998.9h6.0M775.2 998.9h6.0M809.9 998.9h6.0M1029.7 998.9h6.0M277.8 1001.7h6.0M306.7 1001.7h6.0M393.4 1001.7h6.0M480.2 1001.7h6.0M491.8 1001.7h6.0M873.5 1001.7h6.0M289.3 1004.4h6.0M468.6 1004.4h6.0M480.2 1004.4h6.0M295.1 1007.2h6.0M364.5 1007.2h6.0M433.9 1007.2h6.0M578.5 1007.2h17.6M711.6 1007.2h6.0M809.9 1007.2h6.0M272.0 1009.9h6.0M300.9 1009.9h6.0M381.9 1009.9h6.0M468.6 1009.9h6.0M526.5 1009.9h6.0M659.5 1009.9h6.0M757.8 1009.9h6.0M792.5 1009.9h6.0M914.0 1009.9h6.0M387.6 1012.7h6.0M405.0 1012.7h6.0M439.7 1012.7h6.0M509.1 1012.7h6.0M561.2 1012.7h6.0M665.3 1012.7h6.0M717.3 1012.7h6.0M821.4 1012.7h6.0M277.8 1015.5h6.0M289.3 1015.5h6.0M335.6 1015.5h6.0M451.3 1015.5h6.0M486.0 1015.5h6.0M422.4 1018.2h6.0M526.5 1018.2h6.0M879.3 1018.2h6.0M942.9 1018.2h6.0M289.3 1021.0h6.0M312.5 1021.0h6.0M416.6 1021.0h6.0M462.8 1021.0h6.0M595.9 1021.0h6.0M700.0 1021.0h6.0M723.1 1021.0h6.0M775.2 1021.0h6.0M861.9 1021.0h6.0M879.3 1021.0h6.0M954.5 1021.0h6.0M289.3 1023.7h6.0M451.3 1023.7h6.0M480.2 1023.7h6.0M532.2 1023.7h11.8M578.5 1023.7h6.0M700.0 1023.7h6.0M711.6 1023.7h6.0M295.1 1026.5h6.0M381.9 1026.5h6.0M514.9 1026.5h6.0M555.4 1026.5h6.0M567.0 1026.5h6.0M578.5 1026.5h6.0M613.2 1026.5h6.0M676.8 1026.5h6.0M700.0 1026.5h6.0M352.9 1029.2h6.0M422.4 1029.2h6.0M462.8 1029.2h6.0M619.0 1029.2h6.0M636.4 1029.2h6.0M925.6 1029.2h6.0M329.8 1032.0h6.0M422.4 1032.0h6.0M468.6 1032.0h6.0M619.0 1032.0h6.0M283.5 1034.8h6.0M306.7 1034.8h6.0M428.1 1034.8h6.0M457.1 1034.8h6.0M486.0 1034.8h6.0M624.8 1034.8h6.0M636.4 1034.8h6.0M711.6 1034.8h6.0M792.5 1034.8h6.0M393.4 1037.5h6.0M439.7 1037.5h6.0M491.8 1037.5h6.0M503.3 1037.5h6.0M700.0 1037.5h11.8M757.8 1037.5h11.8M867.7 1037.5h6.0M260.4 1040.3h6.0M341.4 1040.3h6.0M352.9 1040.3h6.0M468.6 1040.3h6.0M607.4 1040.3h6.0M624.8 1040.3h6.0M283.5 1043.0h6.0M364.5 1043.0h6.0M387.6 1043.0h6.0M451.3 1043.0h6.0M578.5 1043.0h6.0M595.9 1043.0h6.0M624.8 1043.0h6.0M809.9 1043.0h6.0M312.5 1045.8h6.0M387.6 1045.8h6.0M422.4 1045.8h6.0M433.9 1045.8h6.0M445.5 1045.8h6.0M497.5 1045.8h6.0M520.7 1045.8h6.0M717.3 1045.8h6.0M885.1 1045.8h6.0M318.2 1048.6h11.8M405.0 1048.6h6.0M526.5 1048.6h6.0M306.7 1051.3h6.0M318.2 1051.3h6.0M335.6 1051.3h6.0M381.9 1051.3h11.8M399.2 1051.3h17.6M526.5 1051.3h6.0M590.1 1051.3h6.0M717.3 1051.3h6.0M804.1 1051.3h6.0M352.9 1054.1h6.0M387.6 1054.1h6.0M509.1 1054.1h6.0M607.4 1054.1h6.0M642.1 1054.1h6.0M665.3 1054.1h6.0M688.4 1054.1h6.0M867.7 1054.1h6.0M942.9 1054.1h6.0M306.7 1056.8h6.0M358.7 1056.8h6.0M381.9 1056.8h6.0M439.7 1056.8h6.0M486.0 1056.8h6.0M584.3 1056.8h11.8M607.4 1056.8h6.0M705.8 1056.8h6.0M757.8 1056.8h11.8M942.9 1056.8h6.0M300.9 1059.6h6.0M347.2 1059.6h6.0M370.3 1059.6h6.0M445.5 1059.6h6.0M792.5 1059.6h6.0M896.6 1059.6h6.0M272.0 1062.3h6.0M295.1 1062.3h6.0M341.4 1062.3h6.0M457.1 1062.3h6.0M503.3 1062.3h6.0M607.4 1062.3h6.0M642.1 1062.3h6.0M827.2 1062.3h6.0M919.8 1062.3h6.0M352.9 1065.1h6.0M387.6 1065.1h6.0M399.2 1065.1h6.0M549.6 1065.1h6.0M642.1 1065.1h6.0M671.1 1065.1h17.6M746.3 1065.1h6.0M757.8 1065.1h6.0M283.5 1067.9h6.0M358.7 1067.9h6.0M405.0 1067.9h6.0M445.5 1067.9h11.8M491.8 1067.9h6.0M740.5 1067.9h6.0M815.7 1067.9h6.0M272.0 1070.6h6.0M335.6 1070.6h6.0M399.2 1070.6h6.0M433.9 1070.6h6.0M491.8 1070.6h6.0M503.3 1070.6h6.0M572.7 1070.6h6.0M647.9 1070.6h6.0M717.3 1070.6h6.0M902.4 1070.6h6.0M289.3 1073.4h11.8M312.5 1073.4h6.0M335.6 1073.4h6.0M549.6 1073.4h11.8M642.1 1073.4h6.0M277.8 1076.1h6.0M289.3 1076.1h6.0M324.0 1076.1h6.0M370.3 1076.1h6.0M399.2 1076.1h6.0M428.1 1076.1h6.0M445.5 1076.1h6.0M480.2 1076.1h6.0M497.5 1076.1h6.0M653.7 1076.1h6.0M723.1 1076.1h6.0M786.7 1076.1h6.0M809.9 1076.1h6.0M289.3 1078.9h6.0M341.4 1078.9h11.8M364.5 1078.9h6.0M387.6 1078.9h6.0M399.2 1078.9h6.0M613.2 1078.9h6.0M647.9 1078.9h6.0M775.2 1078.9h6.0M283.5 1081.7h6.0M300.9 1081.7h6.0M358.7 1081.7h6.0M387.6 1081.7h6.0M405.0 1081.7h6.0M509.1 1081.7h6.0M561.2 1081.7h6.0M572.7 1081.7h11.8M798.3 1081.7h6.0M914.0 1081.7h6.0M364.5 1084.4h23.4M486.0 1084.4h6.0M497.5 1084.4h6.0M624.8 1084.4h6.0M856.2 1084.4h6.0M329.8 1087.2h6.0M347.2 1087.2h11.8M376.1 1087.2h6.0M405.0 1087.2h6.0M433.9 1087.2h6.0M538.0 1087.2h6.0M555.4 1087.2h6.0M595.9 1087.2h6.0M607.4 1087.2h6.0M688.4 1087.2h6.0M711.6 1087.2h6.0M740.5 1087.2h6.0M809.9 1087.2h6.0M370.3 1089.9h6.0M416.6 1089.9h6.0M468.6 1089.9h6.0M549.6 1089.9h6.0M561.2 1089.9h6.0M624.8 1089.9h6.0M653.7 1089.9h6.0M671.1 1089.9h6.0M277.8 1092.7h6.0M329.8 1092.7h6.0M376.1 1092.7h6.0M439.7 1092.7h6.0M491.8 1092.7h11.8M549.6 1092.7h6.0M567.0 1092.7h6.0M578.5 1092.7h6.0M590.1 1092.7h6.0M647.9 1092.7h6.0M659.5 1092.7h6.0M1012.3 1092.7h6.0M277.8 1095.4h6.0M318.2 1095.4h6.0M358.7 1095.4h6.0M381.9 1095.4h6.0M410.8 1095.4h6.0M457.1 1095.4h11.8M474.4 1095.4h6.0M538.0 1095.4h6.0M567.0 1095.4h11.8M595.9 1095.4h6.0M919.8 1095.4h6.0M266.2 1098.2h6.0M312.5 1098.2h6.0M370.3 1098.2h6.0M428.1 1098.2h6.0M439.7 1098.2h6.0M497.5 1098.2h6.0M514.9 1098.2h6.0M532.2 1098.2h11.8M549.6 1098.2h6.0M781.0 1098.2h6.0M896.6 1098.2h6.0M266.2 1101.0h11.8M376.1 1101.0h6.0M422.4 1101.0h6.0M433.9 1101.0h6.0M503.3 1101.0h6.0M538.0 1101.0h6.0M555.4 1101.0h6.0M584.3 1101.0h6.0M671.1 1101.0h6.0M786.7 1101.0h6.0M798.3 1101.0h6.0M272.0 1103.7h6.0M300.9 1103.7h6.0M856.2 1103.7h6.0M954.5 1103.7h6.0M289.3 1106.5h6.0M347.2 1106.5h6.0M376.1 1106.5h6.0M601.7 1106.5h6.0M613.2 1106.5h6.0M624.8 1106.5h6.0M647.9 1106.5h6.0M792.5 1106.5h6.0M272.0 1109.2h6.0M352.9 1109.2h6.0M595.9 1109.2h6.0M676.8 1109.2h6.0M752.0 1109.2h6.0M763.6 1109.2h6.0M335.6 1112.0h6.0M590.1 1112.0h6.0M607.4 1112.0h6.0M642.1 1112.0h11.8M659.5 1112.0h6.0M694.2 1112.0h6.0M792.5 1112.0h6.0M619.0 1114.7h6.0M694.2 1114.7h6.0M752.0 1114.7h6.0M775.2 1114.7h11.8M804.1 1114.7h6.0M324.0 1117.5h6.0M613.2 1117.5h6.0M642.1 1117.5h6.0M665.3 1117.5h6.0M757.8 1117.5h6.0M781.0 1117.5h6.0M642.1 1120.3h6.0M705.8 1120.3h6.0M728.9 1120.3h6.0M746.3 1120.3h6.0M763.6 1120.3h6.0M775.2 1120.3h6.0M665.3 1123.0h6.0M676.8 1123.0h6.0M728.9 1123.0h6.0M752.0 1123.0h6.0M781.0 1123.0h6.0M821.4 1123.0h6.0M879.3 1123.0h6.0M966.0 1123.0h6.0M711.6 1125.8h6.0M734.7 1125.8h6.0M838.8 1125.8h6.0M809.9 1128.5h6.0M850.4 1128.5h6.0M671.1 1131.3h6.0M728.9 1131.3h6.0M809.9 1131.3h6.0M688.4 1134.1h6.0M717.3 1134.1h6.0M763.6 1134.1h6.0M798.3 1134.1h6.0M885.1 1134.1h6.0M948.7 1134.1h6.0M1084.2 1134.1h8.5M856.2 1136.8h11.8M1080.2 1139.6h4.2M486.0 1142.3h6.0M844.6 1142.3h6.0M821.4 1145.1h6.0M833.0 1145.1h6.0M856.2 1145.1h6.0M867.7 1145.1h6.0M937.1 1145.1h6.0M717.3 1147.8h6.0M838.8 1147.8h6.0M850.4 1147.8h6.0M960.3 1150.6h6.0M1012.3 1150.6h6.0M838.8 1153.4h11.8M879.3 1153.4h6.0M1064.4 1153.4h6.0M838.8 1156.1h6.0M885.1 1156.1h6.0M1075.9 1156.1h-0.7M914.0 1158.9h6.0M885.1 1161.6h6.0M908.2 1161.6h6.0M954.5 1161.6h6.0M890.9 1167.2h6.0M977.6 1167.2h6.0M977.6 1169.9h6.0M948.7 1172.7h6.0M977.6 1172.7h6.0M1047.0 1172.7h6.0M983.4 1178.2h6.0M1000.8 1178.2h6.0M937.1 1183.7h6.0M1029.7 1183.7h6.0M977.6 1189.2h6.0M1023.9 1189.2h6.0M1052.8 1189.2h6.0M1012.3 1192.0h6.0M1052.8 1192.0h6.0M1006.5 1194.7h6.0M1035.5 1194.7h6.0M1047.0 1194.7h6.0M977.6 1197.5h6.0M1029.7 1197.5h11.8M1035.5 1200.2h6.0M1058.6 1200.2h6.0M914.0 1203.0h6.0M890.9 1205.8h6.0M902.4 1205.8h6.0M948.7 1205.8h6.0M995.0 1205.8h6.0M1029.7 1205.8h17.6M1064.4 1205.8h6.0M1075.0 1205.8h9.5M960.3 1208.5h6.0M1084.2 1208.5h8.5M827.2 1211.3h6.0M821.4 1214.0h6.0M873.5 1216.8h6.0M757.8 1219.6h6.0M728.9 1222.3h6.0M856.2 1222.3h6.0M682.6 1225.1h6.0M723.1 1225.1h6.0M879.3 1225.1h6.0M653.7 1227.8h6.0M688.4 1227.8h11.8M798.3 1227.8h6.0M856.2 1227.8h6.0M948.7 1227.8h6.0M1012.3 1227.8h6.0M486.0 1230.6h6.0M636.4 1230.6h6.0M856.2 1230.6h6.0M867.7 1230.6h11.8M902.4 1230.6h11.8M919.8 1230.6h6.0M948.7 1230.6h6.0M1023.9 1230.6h11.8M491.8 1233.3h6.0M624.8 1233.3h6.0M636.4 1233.3h6.0M647.9 1233.3h6.0M728.9 1233.3h6.0M746.3 1233.3h6.0M757.8 1233.3h6.0M809.9 1233.3h6.0M850.4 1233.3h6.0M879.3 1233.3h6.0M1000.8 1233.3h6.0M1018.1 1233.3h6.0M1035.5 1233.3h6.0M590.1 1236.1h6.0M671.1 1236.1h6.0M827.2 1236.1h11.8M850.4 1236.1h6.0M890.9 1236.1h6.0M931.3 1236.1h6.0M995.0 1236.1h6.0M1012.3 1236.1h6.0M1035.5 1236.1h6.0M428.1 1238.9h6.0M480.2 1238.9h6.0M497.5 1238.9h6.0M520.7 1238.9h6.0M561.2 1238.9h6.0M584.3 1238.9h6.0M671.1 1238.9h6.0M700.0 1238.9h6.0M717.3 1238.9h6.0M312.5 1241.6h6.0M335.6 1241.6h6.0M347.2 1241.6h6.0M462.8 1241.6h6.0M497.5 1241.6h6.0M520.7 1241.6h6.0M532.2 1241.6h6.0M578.5 1241.6h6.0M619.0 1241.6h6.0M630.6 1241.6h11.8M752.0 1241.6h6.0M775.2 1241.6h6.0M786.7 1241.6h6.0M815.7 1241.6h6.0M861.9 1241.6h6.0M896.6 1241.6h6.0M266.2 1244.4h6.0M341.4 1244.4h6.0M352.9 1244.4h6.0M364.5 1244.4h6.0M387.6 1244.4h6.0M405.0 1244.4h6.0M428.1 1244.4h11.8M445.5 1244.4h6.0M486.0 1244.4h6.0M543.8 1244.4h6.0M555.4 1244.4h6.0M624.8 1244.4h6.0M688.4 1244.4h6.0M728.9 1244.4h6.0M740.5 1244.4h6.0M752.0 1244.4h6.0M781.0 1244.4h6.0M1018.1 1244.4h6.0M283.5 1247.1h6.0M324.0 1247.1h6.0M335.6 1247.1h6.0M428.1 1247.1h6.0M439.7 1247.1h11.8M457.1 1247.1h6.0M509.1 1247.1h6.0M520.7 1247.1h6.0M561.2 1247.1h6.0M607.4 1247.1h6.0M1041.2 1247.1h6.0M289.3 1249.9h11.8M335.6 1249.9h6.0M352.9 1249.9h6.0M364.5 1249.9h6.0M399.2 1249.9h6.0M422.4 1249.9h6.0M457.1 1249.9h6.0M497.5 1249.9h6.0M538.0 1249.9h6.0M584.3 1249.9h6.0M624.8 1249.9h11.8M659.5 1249.9h11.8M705.8 1249.9h6.0M983.4 1249.9h6.0M491.8 1252.6h6.0M538.0 1252.6h6.0M572.7 1252.6h17.6M613.2 1252.6h17.6M671.1 1252.6h6.0M757.8 1252.6h11.8M804.1 1252.6h6.0M966.0 1252.6h6.0M1012.3 1252.6h6.0M532.2 1255.4h6.0M613.2 1255.4h6.0M659.5 1255.4h11.8M676.8 1255.4h6.0M717.3 1255.4h6.0M752.0 1255.4h6.0M914.0 1255.4h6.0M995.0 1255.4h6.0M1006.5 1255.4h6.0M497.5 1258.2h6.0M705.8 1258.2h6.0M752.0 1258.2h6.0M804.1 1258.2h6.0M844.6 1258.2h6.0M937.1 1258.2h11.8M983.4 1258.2h6.0M1029.7 1258.2h6.0M1070.2 1258.2h6.0M347.2 1260.9h6.0M486.0 1260.9h6.0M653.7 1260.9h6.0M752.0 1260.9h6.0M775.2 1260.9h11.8M804.1 1260.9h6.0M838.8 1260.9h6.0M885.1 1260.9h6.0M954.5 1260.9h6.0M995.0 1260.9h6.0M1018.1 1260.9h6.0M595.9 1263.7h6.0M700.0 1263.7h6.0M786.7 1263.7h6.0M804.1 1263.7h6.0M821.4 1263.7h6.0M867.7 1263.7h6.0M908.2 1263.7h6.0M977.6 1263.7h6.0M491.8 1266.4h6.0M728.9 1266.4h6.0M890.9 1266.4h6.0M775.2 1269.2h6.0M804.1 1269.2h11.8M821.4 1269.2h6.0M711.6 1272.0h6.0M538.0 1274.7h6.0M728.9 1274.7h11.8M746.3 1274.7h6.0M792.5 1274.7h6.0M809.9 1274.7h11.8M856.2 1274.7h6.0M671.1 1277.5h6.0M879.3 1277.5h6.0M798.3 1280.2h6.0M752.0 1283.0h6.0M769.4 1283.0h6.0M792.5 1283.0h6.0M682.6 1285.7h6.0M786.7 1285.7h6.0M306.7 1288.5h6.0M491.8 1288.5h6.0M740.5 1288.5h6.0M752.0 1288.5h6.0M821.4 1288.5h6.0M1023.9 1288.5h6.0M283.5 1291.3h6.0M335.6 1291.3h6.0M549.6 1291.3h6.0M659.5 1291.3h6.0M676.8 1291.3h6.0M757.8 1291.3h6.0M792.5 1291.3h6.0M480.2 1294.0h6.0M827.2 1294.0h6.0M809.9 1296.8h6.0M989.2 1296.8h6.0M486.0 1299.5h6.0M827.2 1299.5h6.0M948.7 1302.3h6.0M757.8 1305.1h6.0M804.1 1305.1h6.0M757.8 1307.8h6.0M792.5 1307.8h6.0M804.1 1307.8h6.0M815.7 1307.8h6.0M833.0 1307.8h6.0M931.3 1307.8h6.0M769.4 1310.6h6.0M838.8 1310.6h6.0M757.8 1313.3h6.0M769.4 1313.3h6.0M809.9 1313.3h6.0M827.2 1313.3h6.0M1035.5 1313.3h6.0M688.4 1316.1h6.0M1084.2 1316.1h8.5M676.8 1318.8h6.0M624.8 1321.6h6.0M647.9 1321.6h6.0M665.3 1321.6h6.0M919.8 1321.6h6.0M590.1 1324.4h6.0M624.8 1324.4h6.0M665.3 1324.4h6.0M728.9 1324.4h6.0M769.4 1324.4h6.0M277.8 1327.1h6.0M416.6 1327.1h6.0M607.4 1327.1h6.0M636.4 1327.1h6.0M682.6 1327.1h6.0M763.6 1327.1h6.0M821.4 1327.1h6.0M300.9 1329.9h11.8M318.2 1329.9h6.0M416.6 1329.9h6.0M428.1 1329.9h6.0M445.5 1329.9h11.8M462.8 1329.9h6.0M503.3 1329.9h11.8M671.1 1329.9h6.0M688.4 1329.9h6.0M711.6 1329.9h6.0M734.7 1329.9h6.0M763.6 1329.9h6.0M312.5 1332.6h6.0M341.4 1332.6h6.0M532.2 1332.6h6.0M567.0 1332.6h6.0M601.7 1332.6h11.8M740.5 1332.6h6.0M804.1 1332.6h6.0M283.5 1335.4h6.0M300.9 1335.4h6.0M318.2 1335.4h6.0M364.5 1335.4h6.0M387.6 1335.4h6.0M399.2 1335.4h6.0M422.4 1335.4h6.0M439.7 1335.4h6.0M474.4 1335.4h6.0M613.2 1335.4h6.0M653.7 1335.4h6.0M717.3 1335.4h6.0M786.7 1335.4h6.0M838.8 1335.4h6.0M919.8 1335.4h6.0M335.6 1338.1h6.0M393.4 1338.1h11.8M457.1 1338.1h6.0M480.2 1338.1h11.8M277.8 1340.9h6.0M324.0 1340.9h6.0M341.4 1340.9h6.0M364.5 1340.9h11.8M381.9 1340.9h6.0M514.9 1340.9h6.0M630.6 1340.9h6.0M705.8 1340.9h6.0M971.8 1340.9h6.0M480.2 1343.7h6.0M538.0 1343.7h6.0M572.7 1343.7h6.0M584.3 1343.7h6.0M595.9 1343.7h11.8M624.8 1343.7h6.0M642.1 1343.7h6.0M653.7 1343.7h6.0M410.8 1346.4h6.0M422.4 1346.4h6.0M514.9 1346.4h6.0M572.7 1346.4h6.0M624.8 1346.4h6.0M700.0 1346.4h6.0M277.8 1349.2h6.0M526.5 1349.2h6.0M601.7 1349.2h6.0M700.0 1349.2h6.0M740.5 1349.2h6.0M908.2 1349.2h6.0M289.3 1351.9h11.8M358.7 1351.9h6.0M428.1 1351.9h6.0M451.3 1351.9h6.0M474.4 1351.9h6.0M549.6 1351.9h6.0M561.2 1351.9h6.0M728.9 1351.9h6.0M283.5 1354.7h6.0M422.4 1354.7h6.0M433.9 1354.7h6.0M607.4 1354.7h11.8M682.6 1354.7h6.0M694.2 1354.7h6.0M723.1 1354.7h6.0M734.7 1354.7h6.0M931.3 1354.7h6.0M295.1 1357.5h6.0M318.2 1357.5h6.0M329.8 1357.5h6.0M347.2 1357.5h11.8M428.1 1357.5h6.0M480.2 1357.5h6.0M497.5 1357.5h6.0M734.7 1357.5h6.0M856.2 1357.5h6.0M272.0 1360.2h6.0M306.7 1360.2h6.0M364.5 1360.2h11.8M381.9 1360.2h6.0M399.2 1360.2h6.0M439.7 1360.2h6.0M468.6 1360.2h6.0M480.2 1360.2h6.0M509.1 1360.2h6.0M671.1 1360.2h6.0M682.6 1360.2h6.0M1052.8 1360.2h6.0M260.4 1363.0h6.0M289.3 1363.0h6.0M347.2 1363.0h6.0M358.7 1363.0h6.0M376.1 1363.0h6.0M399.2 1363.0h6.0M451.3 1363.0h6.0M462.8 1363.0h6.0M503.3 1363.0h6.0M561.2 1363.0h6.0M653.7 1363.0h6.0M746.3 1363.0h6.0M295.1 1365.7h11.8M410.8 1365.7h6.0M468.6 1365.7h6.0M497.5 1365.7h6.0M514.9 1365.7h6.0M561.2 1365.7h6.0M601.7 1365.7h6.0M717.3 1365.7h6.0M838.8 1365.7h6.0M283.5 1368.5h6.0M300.9 1368.5h6.0M312.5 1368.5h6.0M324.0 1368.5h6.0M590.1 1368.5h6.0M653.7 1368.5h6.0M486.0 1371.2h6.0M642.1 1371.2h6.0M925.6 1371.2h6.0M277.8 1374.0h6.0M416.6 1374.0h6.0M509.1 1374.0h11.8M676.8 1374.0h6.0M688.4 1374.0h11.8M705.8 1374.0h6.0M856.2 1374.0h11.8"/>
<path stroke="#d9b2ff" d="M381.9 833.4h6.0M590.1 833.4h6.0M1006.5 833.4h6.0M376.1 836.2h6.0M520.7 836.2h6.0M1080.2 836.2h4.2M549.6 838.9h6.0M572.7 838.9h6.0M636.4 838.9h6.0M711.6 838.9h6.0M405.0 841.7h6.0M468.6 841.7h6.0M532.2 841.7h6.0M607.4 841.7h6.0M740.5 841.7h6.0M775.2 841.7h6.0M277.8 844.5h6.0M428.1 844.5h6.0M451.3 844.5h6.0M468.6 844.5h6.0M335.6 847.2h6.0M671.1 847.2h6.0M272.0 850.0h11.8M295.1 850.0h6.0M370.3 850.0h6.0M422.4 850.0h6.0M457.1 850.0h6.0M763.6 850.0h6.0M601.7 852.7h6.0M376.1 855.5h6.0M416.6 855.5h6.0M486.0 855.5h6.0M468.6 858.3h6.0M312.5 861.0h6.0M387.6 861.0h6.0M457.1 861.0h6.0M642.1 861.0h6.0M266.2 863.8h6.0M289.3 863.8h6.0M370.3 863.8h6.0M665.3 863.8h6.0M757.8 863.8h6.0M856.2 863.8h6.0M295.1 866.5h6.0M439.7 866.5h6.0M509.1 866.5h6.0M931.3 866.5h6.0M295.1 869.3h6.0M526.5 869.3h6.0M590.1 869.3h6.0M399.2 872.0h6.0M462.8 872.0h6.0M642.1 872.0h6.0M410.8 874.8h6.0M381.9 877.6h6.0M445.5 877.6h6.0M532.2 877.6h6.0M995.0 877.6h6.0M1075.9 877.6h-0.7M665.3 880.3h6.0M329.8 883.1h6.0M844.6 883.1h6.0M1000.8 883.1h6.0M422.4 885.8h6.0M451.3 885.8h6.0M653.7 885.8h6.0M728.9 885.8h6.0M885.1 885.8h6.0M289.3 888.6h6.0M347.2 888.6h11.8M595.9 888.6h6.0M300.9 891.3h6.0M376.1 891.3h6.0M1080.2 891.3h4.2M335.6 894.1h6.0M590.1 894.1h6.0M272.0 896.9h6.0M393.4 896.9h6.0M561.2 896.9h6.0M595.9 899.6h6.0M815.7 899.6h6.0M1075.0 902.4h5.5M341.4 905.1h6.0M405.0 905.1h6.0M642.1 905.1h6.0M312.5 907.9h6.0M399.2 907.9h6.0M873.5 907.9h6.0M272.0 910.7h6.0M439.7 910.7h6.0M457.1 910.7h6.0M682.6 910.7h6.0M1018.1 910.7h6.0M300.9 913.4h6.0M433.9 913.4h6.0M480.2 913.4h6.0M595.9 913.4h6.0M850.4 913.4h6.0M277.8 916.2h6.0M358.7 916.2h6.0M497.5 916.2h6.0M642.1 916.2h6.0M682.6 916.2h6.0M694.2 916.2h11.8M734.7 916.2h6.0M283.5 918.9h6.0M422.4 918.9h6.0M491.8 918.9h6.0M752.0 918.9h6.0M405.0 921.7h6.0M538.0 921.7h6.0M578.5 921.7h6.0M804.1 921.7h6.0M370.3 924.4h6.0M480.2 924.4h6.0M405.0 932.7h6.0M445.5 932.7h6.0M272.0 938.2h6.0M329.8 938.2h6.0M688.4 938.2h6.0M272.0 941.0h6.0M347.2 941.0h6.0M393.4 943.8h6.0M549.6 943.8h6.0M769.4 943.8h6.0M526.5 946.5h6.0M300.9 949.3h6.0M341.4 949.3h6.0M358.7 949.3h6.0M393.4 952.0h6.0M312.5 954.8h6.0M474.4 954.8h6.0M642.1 954.8h6.0M711.6 954.8h6.0M352.9 957.5h6.0M376.1 957.5h6.0M405.0 957.5h6.0M509.1 957.5h6.0M520.7 957.5h6.0M405.0 960.3h6.0M457.1 960.3h6.0M416.6 963.1h6.0M740.5 963.1h6.0M405.0 965.8h6.0M711.6 965.8h6.0M289.3 968.6h6.0M312.5 968.6h6.0M312.5 971.3h6.0M341.4 971.3h6.0M578.5 971.3h6.0M723.1 971.3h6.0M838.8 971.3h6.0M381.9 974.1h6.0M399.2 974.1h6.0M451.3 974.1h6.0M474.4 974.1h11.8M694.2 974.1h6.0M711.6 974.1h6.0M734.7 974.1h6.0M486.0 976.8h11.8M734.7 976.8h6.0M792.5 976.8h6.0M295.1 982.4h11.8M948.7 982.4h6.0M266.2 985.1h6.0M387.6 985.1h6.0M607.4 985.1h6.0M1029.7 985.1h6.0M283.5 987.9h6.0M468.6 987.9h6.0M700.0 987.9h6.0M578.5 990.6h6.0M277.8 993.4h6.0M347.2 993.4h6.0M410.8 993.4h6.0M630.6 993.4h6.0M1041.2 993.4h6.0M422.4 996.2h6.0M561.2 996.2h11.8M595.9 996.2h6.0M995.0 996.2h6.0M312.5 998.9h6.0M347.2 998.9h6.0M376.1 998.9h6.0M341.4 1001.7h6.0M433.9 1001.7h6.0M509.1 1001.7h6.0M555.4 1001.7h6.0M723.1 1001.7h6.0M937.1 1001.7h6.0M295.1 1004.4h6.0M324.0 1004.4h6.0M410.8 1004.4h6.0M578.5 1004.4h6.0M572.7 1007.2h6.0M647.9 1007.2h6.0M769.4 1007.2h6.0M341.4 1009.9h6.0M376.1 1009.9h6.0M451.3 1009.9h6.0M630.6 1009.9h6.0M300.9 1012.7h6.0M433.9 1012.7h6.0M491.8 1012.7h6.0M590.1 1012.7h6.0M497.5 1015.5h6.0M543.8 1015.5h6.0M624.8 1015.5h6.0M352.9 1018.2h6.0M497.5 1018.2h6.0M636.4 1018.2h6.0M809.9 1018.2h6.0M329.8 1021.0h6.0M358.7 1021.0h6.0M642.1 1021.0h6.0M422.4 1023.7h6.0M503.3 1023.7h6.0M520.7 1023.7h6.0M572.7 1023.7h6.0M676.8 1023.7h6.0M838.8 1023.7h6.0M1075.0 1023.7h5.5M549.6 1026.5h6.0M306.7 1029.2h6.0M578.5 1029.2h6.0M283.5 1032.0h6.0M399.2 1032.0h6.0M300.9 1034.8h6.0M503.3 1034.8h6.0M590.1 1034.8h6.0M757.8 1034.8h6.0M445.5 1037.5h6.0M723.1 1037.5h6.0M549.6 1040.3h6.0M318.2 1043.0h6.0M352.9 1043.0h6.0M393.4 1043.0h6.0M497.5 1043.0h6.0M601.7 1043.0h6.0M676.8 1043.0h6.0M700.0 1043.0h6.0M549.6 1045.8h6.0M659.5 1045.8h6.0M358.7 1048.6h6.0M416.6 1048.6h6.0M561.2 1048.6h6.0M856.2 1048.6h6.0M561.2 1051.3h6.0M989.2 1051.3h6.0M260.4 1054.1h6.0M474.4 1054.1h6.0M549.6 1054.1h6.0M630.6 1054.1h6.0M266.2 1056.8h6.0M289.3 1056.8h6.0M595.9 1056.8h6.0M896.6 1056.8h6.0M468.6 1059.6h6.0M491.8 1059.6h6.0M526.5 1059.6h6.0M549.6 1059.6h6.0M601.7 1059.6h6.0M619.0 1059.6h6.0M636.4 1059.6h6.0M885.1 1059.6h6.0M347.2 1062.3h6.0M405.0 1062.3h6.0M451.3 1062.3h6.0M497.5 1062.3h6.0M676.8 1062.3h6.0M289.3 1065.1h6.0M312.5 1065.1h6.0M364.5 1065.1h11.8M480.2 1065.1h6.0M653.7 1065.1h6.0M688.4 1065.1h6.0M723.1 1065.1h6.0M439.7 1067.9h6.0M538.0 1067.9h6.0M613.2 1067.9h6.0M682.6 1067.9h6.0M347.2 1073.4h6.0M376.1 1073.4h6.0M694.2 1073.4h6.0M711.6 1073.4h11.8M283.5 1076.1h6.0M335.6 1076.1h6.0M457.1 1076.1h6.0M624.8 1076.1h6.0M728.9 1076.1h6.0M1058.6 1076.1h6.0M300.9 1078.9h6.0M352.9 1078.9h6.0M555.4 1078.9h6.0M1075.9 1078.9h-0.7M289.3 1081.7h6.0M324.0 1081.7h6.0M538.0 1081.7h6.0M329.8 1084.4h6.0M399.2 1084.4h6.0M514.9 1084.4h6.0M549.6 1084.4h6.0M642.1 1084.4h6.0M746.3 1084.4h11.8M422.4 1087.2h11.8M543.8 1087.2h6.0M601.7 1087.2h6.0M705.8 1087.2h6.0M318.2 1089.9h6.0M329.8 1089.9h6.0M381.9 1089.9h6.0M555.4 1089.9h6.0M272.0 1092.7h6.0M451.3 1092.7h6.0M312.5 1095.4h6.0M433.9 1095.4h6.0M590.1 1095.4h6.0M300.9 1098.2h6.0M474.4 1098.2h6.0M665.3 1098.2h6.0M260.4 1101.0h6.0M324.0 1101.0h6.0M364.5 1101.0h6.0M486.0 1101.0h6.0M520.7 1101.0h6.0M601.7 1101.0h6.0M341.4 1103.7h6.0M352.9 1103.7h6.0M387.6 1103.7h6.0M428.1 1103.7h6.0M451.3 1103.7h6.0M462.8 1103.7h6.0M590.1 1103.7h6.0M619.0 1103.7h6.0M636.4 1103.7h6.0M711.6 1103.7h6.0M329.8 1106.5h6.0M358.7 1106.5h6.0M405.0 1106.5h6.0M514.9 1106.5h6.0M561.2 1106.5h6.0M590.1 1106.5h6.0M636.4 1106.5h6.0M752.0 1106.5h6.0M804.1 1106.5h6.0M295.1 1109.2h6.0M318.2 1109.2h6.0M335.6 1109.2h6.0M416.6 1109.2h6.0M619.0 1109.2h6.0M636.4 1109.2h6.0M659.5 1109.2h6.0M272.0 1112.0h11.8M405.0 1112.0h6.0M422.4 1112.0h6.0M601.7 1112.0h6.0M746.3 1112.0h6.0M798.3 1112.0h6.0M717.3 1114.7h6.0M763.6 1114.7h6.0M300.9 1117.5h6.0M497.5 1117.5h6.0M671.1 1117.5h6.0M682.6 1117.5h6.0M486.0 1120.3h11.8M653.7 1120.3h6.0M734.7 1120.3h6.0M757.8 1120.3h6.0M781.0 1120.3h6.0M260.4 1123.0h6.0M636.4 1123.0h6.0M694.2 1123.0h6.0M763.6 1123.0h11.8M318.2 1125.8h6.0M728.9 1125.8h6.0M1012.3 1125.8h6.0M653.7 1128.5h6.0M711.6 1128.5h11.8M694.2 1131.3h6.0M717.3 1131.3h6.0M792.5 1131.3h6.0M804.1 1131.3h6.0M995.0 1131.3h6.0M1018.1 1131.3h6.0M486.0 1134.1h6.0M809.9 1134.1h11.8M728.9 1136.8h6.0M821.4 1136.8h6.0M700.0 1139.6h6.0M856.2 1139.6h6.0M1075.9 1142.3h-0.7M491.8 1145.1h6.0M763.6 1145.1h6.0M873.5 1145.1h6.0M798.3 1147.8h6.0M827.2 1147.8h6.0M844.6 1147.8h6.0M1075.0 1147.8h5.5M815.7 1150.6h6.0M856.2 1150.6h6.0M861.9 1153.4h6.0M925.6 1156.1h6.0M856.2 1158.9h6.0M867.7 1158.9h11.8M1000.8 1158.9h6.0M861.9 1161.6h6.0M914.0 1161.6h6.0M914.0 1164.4h6.0M873.5 1167.2h6.0M937.1 1167.2h6.0M960.3 1167.2h6.0M971.8 1167.2h6.0M896.6 1169.9h6.0M914.0 1169.9h6.0M954.5 1169.9h6.0M971.8 1169.9h6.0M989.2 1172.7h6.0M1018.1 1172.7h6.0M1006.5 1175.4h6.0M1018.1 1175.4h6.0M1047.0 1178.2h6.0M937.1 1180.9h6.0M1023.9 1186.5h6.0M1058.6 1186.5h6.0M1035.5 1189.2h6.0M977.6 1192.0h6.0M1041.2 1192.0h6.0M1064.4 1192.0h6.0M1000.8 1194.7h6.0M1041.2 1194.7h6.0M1052.8 1194.7h6.0M1018.1 1197.5h6.0M896.6 1200.2h11.8M995.0 1200.2h6.0M1064.4 1200.2h6.0M983.4 1203.0h6.0M1006.5 1203.0h6.0M861.9 1208.5h6.0M838.8 1211.3h6.0M792.5 1214.0h6.0M804.1 1214.0h6.0M815.7 1216.8h6.0M850.4 1216.8h6.0M746.3 1219.6h6.0M815.7 1219.6h6.0M746.3 1222.3h6.0M653.7 1225.1h6.0M734.7 1225.1h6.0M995.0 1227.8h6.0M1041.2 1227.8h6.0M1070.2 1227.8h6.0M607.4 1230.6h11.8M624.8 1230.6h6.0M954.5 1230.6h6.0M723.1 1233.3h6.0M908.2 1233.3h11.8M995.0 1233.3h6.0M306.7 1236.1h6.0M497.5 1236.1h6.0M520.7 1236.1h6.0M561.2 1236.1h6.0M723.1 1236.1h6.0M879.3 1236.1h11.8M954.5 1236.1h6.0M393.4 1238.9h6.0M433.9 1238.9h6.0M567.0 1238.9h6.0M653.7 1238.9h6.0M821.4 1238.9h6.0M833.0 1238.9h6.0M989.2 1238.9h6.0M1012.3 1238.9h6.0M393.4 1241.6h6.0M509.1 1241.6h6.0M653.7 1241.6h6.0M757.8 1241.6h6.0M804.1 1241.6h6.0M1029.7 1241.6h6.0M283.5 1244.4h6.0M324.0 1244.4h6.0M416.6 1244.4h6.0M468.6 1244.4h6.0M509.1 1244.4h6.0M567.0 1244.4h6.0M642.1 1244.4h6.0M711.6 1244.4h6.0M757.8 1244.4h6.0M966.0 1244.4h6.0M1000.8 1244.4h11.8M289.3 1247.1h6.0M341.4 1247.1h6.0M364.5 1247.1h6.0M376.1 1247.1h6.0M410.8 1247.1h6.0M433.9 1247.1h6.0M497.5 1247.1h6.0M538.0 1247.1h6.0M567.0 1247.1h11.8M665.3 1247.1h6.0M688.4 1247.1h6.0M700.0 1247.1h6.0M769.4 1247.1h6.0M919.8 1247.1h6.0M1000.8 1247.1h6.0M451.3 1249.9h6.0M503.3 1249.9h6.0M809.9 1249.9h6.0M879.3 1249.9h6.0M925.6 1249.9h6.0M995.0 1249.9h6.0M283.5 1252.6h6.0M318.2 1252.6h6.0M428.1 1252.6h6.0M509.1 1252.6h6.0M601.7 1252.6h6.0M642.1 1252.6h6.0M705.8 1252.6h6.0M769.4 1252.6h6.0M387.6 1255.4h6.0M445.5 1255.4h6.0M595.9 1255.4h6.0M630.6 1255.4h6.0M647.9 1255.4h6.0M682.6 1255.4h6.0M821.4 1255.4h6.0M931.3 1255.4h11.8M1018.1 1255.4h6.0M665.3 1258.2h6.0M775.2 1258.2h6.0M856.2 1258.2h6.0M867.7 1258.2h6.0M885.1 1258.2h6.0M914.0 1258.2h6.0M1006.5 1258.2h6.0M266.2 1260.9h6.0M786.7 1260.9h6.0M879.3 1260.9h6.0M694.2 1263.7h6.0M752.0 1263.7h6.0M838.8 1263.7h6.0M879.3 1263.7h6.0M688.4 1266.4h6.0M763.6 1266.4h6.0M908.2 1266.4h6.0M700.0 1269.2h6.0M723.1 1269.2h6.0M815.7 1272.0h6.0M844.6 1272.0h6.0M752.0 1274.7h6.0M804.1 1274.7h6.0M723.1 1277.5h6.0M752.0 1277.5h6.0M821.4 1277.5h6.0M694.2 1280.2h6.0M717.3 1280.2h6.0M728.9 1280.2h6.0M763.6 1280.2h6.0M798.3 1283.0h6.0M497.5 1285.7h6.0M676.8 1285.7h6.0M329.8 1288.5h6.0M480.2 1288.5h6.0M497.5 1288.5h6.0M636.4 1288.5h6.0M757.8 1288.5h6.0M786.7 1288.5h6.0M260.4 1291.3h6.0M567.0 1291.3h6.0M647.9 1291.3h6.0M665.3 1291.3h6.0M682.6 1291.3h6.0M705.8 1291.3h6.0M405.0 1294.0h6.0M543.8 1294.0h6.0M607.4 1294.0h6.0M682.6 1294.0h6.0M954.5 1294.0h6.0M486.0 1296.8h6.0M497.5 1296.8h6.0M1080.2 1296.8h4.2M815.7 1299.5h11.8M723.1 1302.3h11.8M833.0 1302.3h6.0M752.0 1310.6h6.0M717.3 1316.1h6.0M1041.2 1316.1h6.0M653.7 1318.8h6.0M763.6 1318.8h6.0M491.8 1327.1h6.0M601.7 1327.1h6.0M781.0 1327.1h6.0M798.3 1327.1h6.0M844.6 1327.1h6.0M260.4 1329.9h6.0M277.8 1329.9h6.0M364.5 1329.9h6.0M393.4 1329.9h6.0M410.8 1329.9h6.0M491.8 1329.9h6.0M532.2 1329.9h6.0M572.7 1329.9h6.0M601.7 1329.9h6.0M740.5 1329.9h6.0M798.3 1329.9h11.8M283.5 1332.6h6.0M335.6 1332.6h6.0M381.9 1332.6h6.0M561.2 1332.6h6.0M624.8 1332.6h6.0M347.2 1335.4h6.0M538.0 1335.4h6.0M798.3 1335.4h6.0M462.8 1338.1h6.0M769.4 1338.1h6.0M937.1 1338.1h6.0M260.4 1340.9h6.0M306.7 1340.9h6.0M358.7 1340.9h6.0M567.0 1340.9h6.0M659.5 1340.9h6.0M1075.9 1340.9h-0.7M283.5 1343.7h6.0M520.7 1343.7h6.0M659.5 1343.7h11.8M798.3 1343.7h6.0M289.3 1346.4h6.0M370.3 1346.4h6.0M613.2 1346.4h6.0M630.6 1346.4h6.0M723.1 1346.4h6.0M827.2 1346.4h6.0M329.8 1349.2h11.8M364.5 1349.2h6.0M468.6 1349.2h6.0M590.1 1349.2h6.0M624.8 1349.2h6.0M647.9 1349.2h6.0M567.0 1351.9h6.0M619.0 1351.9h6.0M676.8 1351.9h6.0M705.8 1351.9h6.0M1075.0 1351.9h5.5M295.1 1354.7h6.0M451.3 1354.7h6.0M671.1 1354.7h6.0M272.0 1357.5h6.0M532.2 1357.5h6.0M763.6 1357.5h6.0M578.5 1360.2h6.0M642.1 1360.2h6.0M387.6 1365.7h6.0M526.5 1365.7h6.0M595.9 1365.7h6.0M642.1 1365.7h6.0M335.6 1368.5h6.0M428.1 1368.5h6.0M451.3 1368.5h11.8M630.6 1368.5h11.8M352.9 1371.2h6.0M370.3 1371.2h6.0M480.2 1371.2h6.0M520.7 1371.2h6.0M647.9 1371.2h6.0M329.8 1374.0h6.0M347.2 1374.0h6.0M376.1 1374.0h6.0M387.6 1374.0h6.0M595.9 1374.0h6.0M838.8 1374.0h6.0"/>
<path stroke="#cc99ff" d="M318.2 833.4h6.0M815.7 833.4h6.0M896.6 833.4h6.0M526.5 836.2h6.0M318.2 838.9h6.0M509.1 838.9h6.0M399.2 841.7h6.0M381.9 844.5h6.0M711.6 844.5h6.0M295.1 847.2h6.0M428.1 847.2h6.0M405.0 850.0h6.0M809.9 852.7h6.0M601.7 855.5h6.0M948.7 855.5h6.0M590.1 858.3h6.0M815.7 858.3h6.0M341.4 861.0h6.0M422.4 861.0h6.0M619.0 863.8h6.0M358.7 866.5h6.0M445.5 866.5h6.0M526.5 866.5h6.0M723.1 869.3h6.0M416.6 874.8h6.0M272.0 877.6h6.0M804.1 880.3h6.0M318.2 885.8h6.0M740.5 885.8h6.0M364.5 888.6h6.0M555.4 888.6h6.0M300.9 894.1h6.0M480.2 894.1h6.0M514.9 894.1h6.0M607.4 894.1h6.0M572.7 896.9h6.0M376.1 902.4h6.0M671.1 902.4h11.8M908.2 902.4h6.0M971.8 902.4h6.0M422.4 905.1h6.0M630.6 905.1h6.0M619.0 907.9h6.0M636.4 907.9h6.0M393.4 910.7h6.0M468.6 910.7h6.0M422.4 916.2h6.0M630.6 916.2h6.0M295.1 918.9h6.0M352.9 918.9h6.0M856.2 918.9h6.0M486.0 921.7h6.0M457.1 924.4h6.0M555.4 924.4h6.0M410.8 927.2h6.0M532.2 927.2h6.0M312.5 930.0h6.0M474.4 930.0h6.0M688.4 930.0h6.0M399.2 935.5h6.0M457.1 935.5h6.0M486.0 935.5h6.0M624.8 935.5h6.0M324.0 938.2h6.0M538.0 938.2h6.0M289.3 941.0h6.0M457.1 941.0h6.0M474.4 941.0h6.0M613.2 941.0h6.0M723.1 941.0h6.0M520.7 943.8h6.0M324.0 946.5h6.0M688.4 946.5h6.0M567.0 952.0h6.0M647.9 954.8h6.0M728.9 960.3h6.0M433.9 963.1h17.6M595.9 965.8h6.0M329.8 968.6h6.0M347.2 968.6h6.0M752.0 968.6h6.0M410.8 971.3h6.0M983.4 971.3h6.0M462.8 976.8h6.0M283.5 982.4h6.0M659.5 982.4h6.0M370.3 987.9h6.0M393.4 993.4h6.0M763.6 993.4h6.0M428.1 998.9h6.0M491.8 998.9h6.0M769.4 998.9h6.0M318.2 1001.7h6.0M422.4 1001.7h6.0M381.9 1004.4h6.0M728.9 1004.4h6.0M607.4 1009.9h11.8M752.0 1009.9h6.0M376.1 1012.7h6.0M555.4 1012.7h6.0M624.8 1012.7h6.0M422.4 1015.5h6.0M700.0 1015.5h6.0M809.9 1015.5h6.0M983.4 1015.5h6.0M538.0 1018.2h6.0M318.2 1023.7h6.0M416.6 1023.7h6.0M590.1 1026.5h6.0M289.3 1029.2h6.0M665.3 1032.0h6.0M815.7 1032.0h6.0M532.2 1034.8h6.0M740.5 1040.3h6.0M538.0 1043.0h6.0M781.0 1043.0h6.0M439.7 1048.6h6.0M647.9 1048.6h6.0M300.9 1051.3h6.0M815.7 1051.3h6.0M277.8 1054.1h6.0M572.7 1054.1h6.0M833.0 1062.3h6.0M520.7 1065.1h6.0M630.6 1065.1h6.0M809.9 1065.1h6.0M873.5 1065.1h6.0M948.7 1065.1h6.0M283.5 1070.6h6.0M827.2 1070.6h6.0M358.7 1073.4h6.0M428.1 1073.4h6.0M480.2 1073.4h6.0M624.8 1073.4h6.0M769.4 1073.4h6.0M509.1 1076.1h6.0M619.0 1076.1h6.0M659.5 1076.1h6.0M740.5 1076.1h6.0M538.0 1078.9h6.0M728.9 1078.9h6.0M977.6 1078.9h6.0M416.6 1081.7h6.0M439.7 1081.7h6.0M647.9 1084.4h6.0M705.8 1084.4h6.0M272.0 1087.2h6.0M445.5 1087.2h6.0M567.0 1087.2h6.0M462.8 1092.7h6.0M503.3 1092.7h6.0M671.1 1092.7h6.0M734.7 1092.7h6.0M486.0 1095.4h6.0M503.3 1095.4h11.8M451.3 1098.2h6.0M543.8 1098.2h6.0M624.8 1098.2h6.0M705.8 1098.2h6.0M792.5 1098.2h6.0M283.5 1101.0h6.0M393.4 1101.0h6.0M439.7 1101.0h6.0M462.8 1101.0h6.0M497.5 1101.0h6.0M526.5 1101.0h6.0M543.8 1101.0h6.0M572.7 1101.0h6.0M665.3 1101.0h6.0M306.7 1103.7h6.0M335.6 1103.7h6.0M358.7 1103.7h11.8M509.1 1103.7h6.0M688.4 1103.7h6.0M283.5 1106.5h6.0M324.0 1106.5h6.0M335.6 1106.5h6.0M746.3 1106.5h6.0M329.8 1109.2h6.0M341.4 1109.2h6.0M364.5 1109.2h6.0M433.9 1109.2h6.0M497.5 1109.2h6.0M514.9 1109.2h6.0M526.5 1109.2h6.0M590.1 1109.2h6.0M630.6 1109.2h6.0M266.2 1112.0h6.0M439.7 1112.0h6.0M491.8 1112.0h6.0M595.9 1112.0h6.0M613.2 1112.0h6.0M705.8 1112.0h6.0M752.0 1112.0h6.0M312.5 1114.7h6.0M624.8 1114.7h11.8M642.1 1114.7h6.0M734.7 1114.7h6.0M590.1 1117.5h6.0M659.5 1117.5h6.0M734.7 1117.5h6.0M798.3 1117.5h6.0M740.5 1120.3h6.0M769.4 1120.3h6.0M838.8 1120.3h6.0M300.9 1123.0h6.0M486.0 1123.0h6.0M746.3 1123.0h6.0M792.5 1123.0h6.0M665.3 1125.8h6.0M676.8 1125.8h6.0M688.4 1125.8h6.0M740.5 1125.8h11.8M804.1 1125.8h6.0M671.1 1128.5h6.0M740.5 1128.5h6.0M781.0 1128.5h11.8M491.8 1131.3h6.0M682.6 1131.3h6.0M700.0 1131.3h6.0M850.4 1131.3h6.0M607.4 1134.1h6.0M630.6 1134.1h6.0M833.0 1134.1h6.0M694.2 1136.8h6.0M734.7 1136.8h6.0M491.8 1139.6h6.0M694.2 1139.6h6.0M821.4 1139.6h11.8M937.1 1139.6h6.0M636.4 1142.3h6.0M671.1 1142.3h6.0M752.0 1142.3h6.0M850.4 1142.3h6.0M804.1 1145.1h6.0M815.7 1145.1h6.0M861.9 1145.1h6.0M676.8 1150.6h6.0M833.0 1150.6h6.0M665.3 1153.4h6.0M844.6 1156.1h6.0M1064.4 1156.1h6.0M850.4 1158.9h6.0M260.4 1161.6h6.0M775.2 1161.6h6.0M867.7 1164.4h6.0M890.9 1164.4h6.0M937.1 1164.4h6.0M948.7 1164.4h6.0M1070.2 1164.4h6.0M486.0 1167.2h6.0M890.9 1169.9h6.0M937.1 1169.9h6.0M867.7 1172.7h6.0M896.6 1172.7h6.0M937.1 1172.7h6.0M954.5 1172.7h6.0M983.4 1172.7h6.0M995.0 1172.7h6.0M1075.9 1172.7h-0.7M908.2 1175.4h11.8M989.2 1175.4h6.0M1029.7 1175.4h11.8M1006.5 1178.2h6.0M1052.8 1178.2h6.0M1023.9 1180.9h6.0M983.4 1183.7h6.0M1012.3 1183.7h17.6M902.4 1186.5h6.0M1029.7 1186.5h6.0M890.9 1189.2h6.0M1023.9 1192.0h6.0M1012.3 1194.7h6.0M890.9 1197.5h11.8M966.0 1197.5h11.8M1012.3 1197.5h6.0M1064.4 1197.5h6.0M942.9 1200.2h6.0M954.5 1200.2h6.0M1080.2 1200.2h4.2M885.1 1203.0h6.0M942.9 1203.0h6.0M873.5 1205.8h6.0M885.1 1205.8h6.0M873.5 1211.3h6.0M786.7 1214.0h6.0M775.2 1216.8h6.0M700.0 1222.3h6.0M948.7 1222.3h6.0M1058.6 1222.3h6.0M636.4 1227.8h6.0M717.3 1227.8h6.0M757.8 1227.8h6.0M775.2 1227.8h6.0M705.8 1230.6h6.0M752.0 1230.6h6.0M763.6 1230.6h6.0M781.0 1230.6h11.8M798.3 1230.6h6.0M850.4 1230.6h6.0M532.2 1233.3h6.0M578.5 1233.3h6.0M665.3 1233.3h11.8M711.6 1233.3h6.0M781.0 1233.3h11.8M873.5 1233.3h6.0M902.4 1233.3h6.0M954.5 1233.3h6.0M399.2 1236.1h6.0M549.6 1236.1h6.0M613.2 1236.1h6.0M752.0 1236.1h6.0M775.2 1236.1h6.0M786.7 1236.1h6.0M1000.8 1236.1h6.0M422.4 1238.9h6.0M543.8 1238.9h6.0M781.0 1238.9h6.0M873.5 1238.9h11.8M890.9 1238.9h6.0M995.0 1238.9h6.0M1018.1 1238.9h6.0M295.1 1241.6h6.0M370.3 1241.6h6.0M381.9 1241.6h6.0M410.8 1241.6h6.0M422.4 1241.6h6.0M567.0 1241.6h6.0M647.9 1241.6h6.0M665.3 1241.6h6.0M705.8 1241.6h6.0M723.1 1241.6h6.0M850.4 1241.6h6.0M966.0 1241.6h6.0M995.0 1241.6h6.0M1012.3 1241.6h6.0M277.8 1244.4h6.0M578.5 1244.4h6.0M590.1 1244.4h11.8M653.7 1244.4h6.0M671.1 1244.4h6.0M717.3 1244.4h6.0M763.6 1244.4h6.0M798.3 1244.4h17.6M1012.3 1244.4h6.0M352.9 1247.1h6.0M462.8 1247.1h6.0M619.0 1247.1h6.0M734.7 1247.1h6.0M804.1 1247.1h11.8M954.5 1247.1h6.0M1006.5 1247.1h6.0M277.8 1249.9h6.0M329.8 1249.9h6.0M445.5 1249.9h6.0M462.8 1249.9h6.0M509.1 1249.9h6.0M520.7 1249.9h11.8M572.7 1249.9h6.0M676.8 1249.9h6.0M728.9 1249.9h6.0M757.8 1249.9h6.0M775.2 1249.9h6.0M914.0 1249.9h6.0M942.9 1249.9h6.0M1006.5 1249.9h6.0M289.3 1252.6h11.8M329.8 1252.6h6.0M410.8 1252.6h6.0M433.9 1252.6h6.0M503.3 1252.6h6.0M665.3 1252.6h6.0M676.8 1252.6h6.0M694.2 1252.6h6.0M746.3 1252.6h6.0M792.5 1252.6h6.0M844.6 1252.6h6.0M856.2 1252.6h6.0M989.2 1252.6h6.0M329.8 1255.4h11.8M358.7 1255.4h6.0M433.9 1255.4h6.0M509.1 1255.4h6.0M601.7 1255.4h6.0M636.4 1255.4h6.0M734.7 1255.4h6.0M769.4 1255.4h6.0M781.0 1255.4h6.0M798.3 1255.4h6.0M844.6 1255.4h6.0M989.2 1255.4h6.0M1000.8 1255.4h6.0M324.0 1258.2h11.8M700.0 1258.2h6.0M734.7 1258.2h6.0M746.3 1258.2h6.0M769.4 1258.2h6.0M879.3 1258.2h6.0M908.2 1258.2h6.0M381.9 1260.9h6.0M769.4 1260.9h6.0M850.4 1260.9h6.0M306.7 1263.7h6.0M341.4 1263.7h6.0M850.4 1263.7h6.0M896.6 1263.7h6.0M775.2 1266.4h11.8M798.3 1266.4h6.0M867.7 1266.4h6.0M329.8 1269.2h6.0M491.8 1269.2h6.0M590.1 1269.2h6.0M717.3 1269.2h6.0M781.0 1269.2h11.8M815.7 1269.2h6.0M630.6 1272.0h6.0M723.1 1272.0h6.0M740.5 1272.0h6.0M752.0 1272.0h11.8M798.3 1272.0h6.0M850.4 1272.0h6.0M497.5 1274.7h6.0M543.8 1274.7h6.0M636.4 1274.7h6.0M347.2 1280.2h6.0M624.8 1280.2h6.0M734.7 1280.2h6.0M752.0 1280.2h6.0M786.7 1280.2h6.0M277.8 1283.0h6.0M486.0 1283.0h6.0M497.5 1283.0h6.0M717.3 1283.0h11.8M734.7 1283.0h6.0M821.4 1283.0h6.0M503.3 1285.7h6.0M624.8 1285.7h6.0M705.8 1285.7h6.0M781.0 1285.7h6.0M289.3 1288.5h6.0M642.1 1288.5h6.0M665.3 1288.5h6.0M1052.8 1288.5h6.0M295.1 1291.3h6.0M422.4 1291.3h6.0M497.5 1291.3h6.0M520.7 1291.3h6.0M619.0 1291.3h6.0M642.1 1291.3h6.0M740.5 1291.3h6.0M775.2 1291.3h6.0M277.8 1294.0h6.0M300.9 1294.0h6.0M324.0 1294.0h6.0M428.1 1294.0h6.0M468.6 1294.0h6.0M486.0 1294.0h6.0M497.5 1294.0h6.0M676.8 1294.0h6.0M728.9 1294.0h6.0M775.2 1294.0h6.0M815.7 1294.0h6.0M300.9 1296.8h6.0M567.0 1296.8h6.0M613.2 1296.8h6.0M769.4 1296.8h6.0M786.7 1296.8h6.0M798.3 1296.8h6.0M688.4 1299.5h6.0M833.0 1299.5h6.0M740.5 1305.1h6.0M775.2 1305.1h6.0M798.3 1305.1h6.0M821.4 1305.1h6.0M717.3 1307.8h6.0M665.3 1313.3h6.0M1075.9 1313.3h-0.7M723.1 1316.1h6.0M809.9 1316.1h6.0M867.7 1316.1h6.0M642.1 1318.8h6.0M613.2 1321.6h6.0M538.0 1324.4h6.0M578.5 1324.4h6.0M636.4 1324.4h6.0M833.0 1324.4h6.0M260.4 1327.1h6.0M376.1 1327.1h6.0M497.5 1327.1h6.0M399.2 1329.9h6.0M752.0 1329.9h6.0M1018.1 1329.9h6.0M393.4 1332.6h6.0M260.4 1335.4h6.0M873.5 1335.4h6.0M277.8 1338.1h6.0M376.1 1338.1h6.0M624.8 1338.1h6.0M746.3 1338.1h6.0M387.6 1340.9h6.0M439.7 1340.9h6.0M486.0 1340.9h6.0M503.3 1340.9h6.0M381.9 1343.7h6.0M393.4 1346.4h6.0M451.3 1346.4h6.0M520.7 1346.4h6.0M665.3 1346.4h6.0M1018.1 1346.4h6.0M405.0 1354.7h6.0M335.6 1360.2h6.0M491.8 1360.2h6.0M688.4 1360.2h6.0M942.9 1360.2h6.0M607.4 1363.0h6.0M399.2 1368.5h6.0M480.2 1368.5h6.0M624.8 1368.5h6.0M514.9 1371.2h6.0M740.5 1371.2h6.0M457.1 1374.0h6.0M532.2 1374.0h6.0"/>
<path stroke="#bf80ff" d="M405.0 833.4h6.0M474.4 833.4h6.0M671.1 836.2h6.0M364.5 838.9h6.0M433.9 838.9h6.0M723.1 838.9h6.0M364.5 841.7h6.0M595.9 841.7h6.0M300.9 844.5h6.0M335.6 844.5h6.0M370.3 844.5h6.0M260.4 847.2h6.0M300.9 847.2h6.0M601.7 847.2h6.0M804.1 847.2h6.0M520.7 852.7h6.0M700.0 852.7h6.0M804.1 852.7h6.0M850.4 852.7h6.0M272.0 855.5h11.8M277.8 861.0h6.0M370.3 861.0h6.0M462.8 861.0h6.0M520.7 866.5h6.0M584.3 866.5h11.8M352.9 869.3h6.0M578.5 869.3h6.0M700.0 869.3h6.0M705.8 872.0h6.0M300.9 874.8h6.0M659.5 877.6h6.0M642.1 880.3h6.0M474.4 883.1h6.0M630.6 883.1h6.0M728.9 883.1h6.0M1029.7 883.1h6.0M746.3 885.8h6.0M647.9 888.6h6.0M462.8 894.1h6.0M289.3 896.9h6.0M555.4 896.9h6.0M306.7 902.4h6.0M295.1 905.1h6.0M364.5 907.9h11.8M746.3 910.7h6.0M283.5 916.2h6.0M775.2 916.2h6.0M995.0 916.2h6.0M283.5 921.7h6.0M335.6 921.7h6.0M480.2 927.2h6.0M503.3 927.2h6.0M393.4 932.7h6.0M642.1 935.5h6.0M728.9 938.2h6.0M740.5 938.2h6.0M399.2 941.0h6.0M676.8 941.0h6.0M341.4 943.8h6.0M381.9 943.8h6.0M416.6 943.8h6.0M491.8 943.8h6.0M578.5 943.8h6.0M306.7 949.3h6.0M491.8 949.3h6.0M272.0 952.0h6.0M376.1 952.0h6.0M561.2 952.0h6.0M740.5 954.8h6.0M711.6 957.5h6.0M300.9 965.8h6.0M422.4 965.8h6.0M445.5 965.8h6.0M306.7 971.3h6.0M584.3 971.3h6.0M757.8 971.3h6.0M451.3 976.8h6.0M405.0 979.6h6.0M445.5 979.6h6.0M480.2 979.6h6.0M838.8 982.4h6.0M376.1 985.1h6.0M497.5 985.1h6.0M624.8 985.1h6.0M867.7 985.1h6.0M624.8 987.9h6.0M561.2 990.6h6.0M653.7 990.6h6.0M619.0 993.4h6.0M682.6 993.4h6.0M289.3 996.2h6.0M306.7 996.2h6.0M676.8 1001.7h6.0M902.4 1001.7h6.0M509.1 1004.4h6.0M399.2 1009.9h6.0M682.6 1009.9h11.8M688.4 1012.7h6.0M809.9 1012.7h6.0M272.0 1015.5h6.0M358.7 1015.5h6.0M283.5 1021.0h6.0M624.8 1023.7h6.0M289.3 1026.5h6.0M318.2 1029.2h6.0M723.1 1029.2h6.0M335.6 1032.0h6.0M688.4 1032.0h6.0M781.0 1034.8h6.0M272.0 1037.5h6.0M318.2 1037.5h6.0M532.2 1037.5h6.0M838.8 1037.5h6.0M474.4 1043.0h6.0M381.9 1045.8h6.0M827.2 1045.8h6.0M329.8 1048.6h6.0M844.6 1048.6h6.0M688.4 1051.3h6.0M711.6 1051.3h6.0M781.0 1051.3h6.0M324.0 1054.1h6.0M445.5 1054.1h6.0M480.2 1054.1h6.0M324.0 1056.8h6.0M445.5 1056.8h6.0M619.0 1056.8h6.0M798.3 1056.8h6.0M393.4 1062.3h6.0M416.6 1067.9h6.0M468.6 1067.9h6.0M590.1 1067.9h6.0M908.2 1067.9h6.0M474.4 1070.6h6.0M410.8 1073.4h6.0M433.9 1073.4h6.0M462.8 1073.4h6.0M474.4 1073.4h6.0M520.7 1073.4h6.0M786.7 1073.4h6.0M1084.2 1076.1h8.5M324.0 1078.9h6.0M734.7 1078.9h6.0M861.9 1078.9h6.0M543.8 1081.7h11.8M879.3 1081.7h6.0M370.3 1087.2h6.0M393.4 1087.2h6.0M630.6 1087.2h6.0M821.4 1087.2h6.0M607.4 1092.7h6.0M335.6 1095.4h6.0M451.3 1095.4h6.0M642.1 1095.4h6.0M682.6 1095.4h6.0M896.6 1095.4h11.8M329.8 1098.2h11.8M462.8 1098.2h6.0M619.0 1098.2h6.0M694.2 1098.2h6.0M370.3 1101.0h6.0M428.1 1101.0h6.0M567.0 1101.0h6.0M312.5 1103.7h6.0M422.4 1103.7h6.0M549.6 1103.7h11.8M572.7 1103.7h6.0M272.0 1106.5h6.0M364.5 1106.5h6.0M387.6 1106.5h6.0M399.2 1106.5h6.0M422.4 1106.5h6.0M457.1 1106.5h6.0M509.1 1106.5h6.0M532.2 1106.5h6.0M572.7 1106.5h6.0M393.4 1109.2h6.0M509.1 1109.2h6.0M538.0 1109.2h6.0M653.7 1109.2h6.0M306.7 1112.0h11.8M341.4 1112.0h11.8M370.3 1112.0h11.8M387.6 1112.0h6.0M468.6 1112.0h6.0M272.0 1114.7h11.8M364.5 1114.7h11.8M381.9 1114.7h6.0M410.8 1114.7h11.8M480.2 1114.7h11.8M514.9 1114.7h6.0M526.5 1114.7h6.0M578.5 1114.7h6.0M595.9 1114.7h11.8M653.7 1114.7h6.0M283.5 1117.5h6.0M462.8 1117.5h6.0M532.2 1117.5h6.0M619.0 1117.5h17.6M815.7 1117.5h6.0M277.8 1120.3h6.0M312.5 1120.3h6.0M324.0 1120.3h6.0M433.9 1120.3h6.0M555.4 1120.3h6.0M590.1 1120.3h6.0M659.5 1120.3h6.0M688.4 1120.3h6.0M752.0 1120.3h6.0M312.5 1123.0h6.0M428.1 1123.0h6.0M653.7 1123.0h6.0M717.3 1123.0h6.0M1080.2 1123.0h4.2M329.8 1125.8h6.0M364.5 1125.8h6.0M497.5 1125.8h6.0M624.8 1125.8h6.0M786.7 1125.8h6.0M619.0 1128.5h6.0M688.4 1128.5h6.0M734.7 1128.5h6.0M798.3 1128.5h6.0M295.1 1131.3h6.0M665.3 1131.3h6.0M676.8 1131.3h6.0M752.0 1131.3h6.0M833.0 1131.3h6.0M659.5 1134.1h6.0M775.2 1134.1h6.0M786.7 1134.1h6.0M954.5 1134.1h6.0M607.4 1136.8h6.0M647.9 1136.8h6.0M601.7 1139.6h6.0M624.8 1139.6h6.0M723.1 1139.6h6.0M746.3 1139.6h6.0M711.6 1142.3h6.0M769.4 1142.3h6.0M815.7 1142.3h6.0M260.4 1145.1h6.0M486.0 1145.1h6.0M601.7 1145.1h6.0M676.8 1145.1h6.0M723.1 1145.1h6.0M786.7 1145.1h6.0M711.6 1147.8h6.0M786.7 1147.8h6.0M260.4 1150.6h6.0M497.5 1150.6h6.0M763.6 1150.6h6.0M821.4 1150.6h6.0M850.4 1150.6h6.0M486.0 1153.4h6.0M717.3 1153.4h6.0M728.9 1153.4h6.0M804.1 1153.4h6.0M815.7 1153.4h6.0M867.7 1153.4h6.0M486.0 1156.1h6.0M763.6 1156.1h11.8M786.7 1156.1h6.0M827.2 1156.1h6.0M850.4 1156.1h6.0M879.3 1156.1h6.0M942.9 1156.1h6.0M486.0 1158.9h6.0M734.7 1158.9h6.0M804.1 1158.9h6.0M833.0 1158.9h6.0M746.3 1161.6h6.0M827.2 1161.6h6.0M838.8 1161.6h6.0M873.5 1161.6h6.0M486.0 1164.4h6.0M497.5 1164.4h6.0M647.9 1164.4h6.0M682.6 1164.4h6.0M781.0 1164.4h6.0M1018.1 1164.4h6.0M1064.4 1164.4h6.0M919.8 1167.2h6.0M942.9 1167.2h6.0M769.4 1169.9h6.0M960.3 1169.9h6.0M908.2 1172.7h6.0M919.8 1172.7h6.0M856.2 1175.4h6.0M960.3 1175.4h6.0M1023.9 1175.4h6.0M937.1 1178.2h6.0M966.0 1178.2h6.0M971.8 1180.9h6.0M989.2 1180.9h6.0M1070.2 1180.9h6.0M914.0 1183.7h6.0M971.8 1183.7h6.0M1006.5 1183.7h6.0M925.6 1186.5h23.4M1064.4 1186.5h6.0M960.3 1189.2h6.0M1070.2 1189.2h6.0M879.3 1192.0h6.0M919.8 1192.0h6.0M931.3 1192.0h6.0M954.5 1192.0h6.0M966.0 1192.0h6.0M1006.5 1192.0h6.0M1058.6 1192.0h6.0M902.4 1194.7h6.0M914.0 1194.7h6.0M937.1 1194.7h6.0M960.3 1194.7h6.0M971.8 1194.7h11.8M995.0 1194.7h6.0M1070.2 1194.7h6.0M867.7 1197.5h6.0M919.8 1197.5h6.0M954.5 1197.5h6.0M908.2 1200.2h6.0M948.7 1200.2h6.0M983.4 1200.2h11.8M879.3 1203.0h6.0M919.8 1203.0h6.0M954.5 1203.0h6.0M966.0 1203.0h6.0M995.0 1203.0h6.0M879.3 1205.8h6.0M908.2 1205.8h6.0M919.8 1205.8h6.0M977.6 1205.8h6.0M752.0 1216.8h6.0M723.1 1219.6h6.0M653.7 1222.3h6.0M688.4 1222.3h6.0M630.6 1225.1h6.0M671.1 1225.1h6.0M711.6 1225.1h6.0M486.0 1227.8h6.0M647.9 1227.8h6.0M659.5 1227.8h6.0M676.8 1227.8h6.0M723.1 1227.8h6.0M734.7 1227.8h6.0M804.1 1227.8h6.0M595.9 1230.6h6.0M746.3 1230.6h6.0M937.1 1230.6h6.0M1035.5 1230.6h6.0M549.6 1233.3h6.0M584.3 1233.3h6.0M775.2 1233.3h6.0M567.0 1236.1h11.8M642.1 1236.1h6.0M676.8 1236.1h6.0M688.4 1236.1h6.0M705.8 1236.1h6.0M728.9 1236.1h11.8M844.6 1236.1h6.0M948.7 1236.1h6.0M989.2 1236.1h6.0M1041.2 1236.1h6.0M266.2 1238.9h6.0M277.8 1238.9h6.0M347.2 1238.9h6.0M387.6 1238.9h6.0M399.2 1238.9h6.0M445.5 1238.9h6.0M457.1 1238.9h6.0M538.0 1238.9h6.0M642.1 1238.9h6.0M694.2 1238.9h6.0M752.0 1238.9h6.0M769.4 1238.9h6.0M838.8 1238.9h6.0M856.2 1238.9h6.0M937.1 1238.9h6.0M966.0 1238.9h6.0M983.4 1238.9h6.0M272.0 1241.6h6.0M376.1 1241.6h6.0M387.6 1241.6h6.0M428.1 1241.6h6.0M555.4 1241.6h6.0M584.3 1241.6h11.8M613.2 1241.6h6.0M659.5 1241.6h6.0M682.6 1241.6h6.0M694.2 1241.6h11.8M717.3 1241.6h6.0M873.5 1241.6h6.0M971.8 1241.6h6.0M1006.5 1241.6h6.0M1023.9 1241.6h6.0M289.3 1244.4h6.0M358.7 1244.4h6.0M370.3 1244.4h6.0M700.0 1244.4h6.0M775.2 1244.4h6.0M873.5 1244.4h11.8M983.4 1244.4h11.8M306.7 1247.1h6.0M416.6 1247.1h11.8M549.6 1247.1h11.8M757.8 1247.1h11.8M775.2 1247.1h6.0M850.4 1247.1h11.8M942.9 1247.1h6.0M989.2 1247.1h6.0M272.0 1249.9h6.0M387.6 1249.9h6.0M474.4 1249.9h6.0M532.2 1249.9h6.0M717.3 1249.9h11.8M746.3 1249.9h6.0M989.2 1249.9h6.0M1000.8 1249.9h6.0M1023.9 1249.9h6.0M324.0 1252.6h6.0M381.9 1252.6h6.0M439.7 1252.6h6.0M486.0 1252.6h6.0M532.2 1252.6h6.0M682.6 1252.6h6.0M734.7 1252.6h6.0M752.0 1252.6h6.0M775.2 1252.6h6.0M879.3 1252.6h6.0M931.3 1252.6h6.0M948.7 1252.6h6.0M1023.9 1252.6h11.8M272.0 1255.4h6.0M347.2 1255.4h6.0M503.3 1255.4h6.0M520.7 1255.4h6.0M572.7 1255.4h6.0M619.0 1255.4h6.0M671.1 1255.4h6.0M815.7 1255.4h6.0M833.0 1255.4h6.0M861.9 1255.4h11.8M942.9 1255.4h6.0M381.9 1258.2h6.0M561.2 1258.2h6.0M694.2 1258.2h6.0M723.1 1258.2h6.0M809.9 1258.2h6.0M873.5 1258.2h6.0M1000.8 1258.2h6.0M324.0 1260.9h6.0M474.4 1260.9h6.0M543.8 1260.9h6.0M561.2 1260.9h6.0M717.3 1260.9h11.8M734.7 1260.9h6.0M798.3 1260.9h6.0M873.5 1260.9h6.0M422.4 1263.7h6.0M451.3 1263.7h6.0M520.7 1263.7h6.0M543.8 1263.7h6.0M676.8 1263.7h6.0M711.6 1263.7h6.0M763.6 1263.7h6.0M798.3 1263.7h6.0M856.2 1263.7h6.0M497.5 1266.4h6.0M647.9 1266.4h6.0M694.2 1266.4h6.0M752.0 1266.4h6.0M792.5 1266.4h6.0M815.7 1266.4h6.0M567.0 1269.2h6.0M711.6 1269.2h6.0M792.5 1269.2h11.8M289.3 1272.0h6.0M584.3 1272.0h6.0M601.7 1272.0h6.0M613.2 1272.0h6.0M728.9 1272.0h6.0M786.7 1272.0h6.0M1064.4 1272.0h6.0M277.8 1274.7h6.0M347.2 1274.7h6.0M358.7 1274.7h6.0M509.1 1274.7h6.0M717.3 1274.7h6.0M445.5 1277.5h6.0M480.2 1277.5h6.0M491.8 1277.5h6.0M734.7 1277.5h6.0M769.4 1277.5h17.6M491.8 1280.2h6.0M532.2 1280.2h6.0M567.0 1280.2h6.0M700.0 1280.2h6.0M775.2 1280.2h6.0M324.0 1283.0h6.0M335.6 1283.0h6.0M671.1 1283.0h23.4M295.1 1285.7h6.0M370.3 1285.7h6.0M486.0 1285.7h6.0M647.9 1285.7h6.0M728.9 1285.7h11.8M295.1 1288.5h6.0M619.0 1288.5h6.0M653.7 1288.5h6.0M781.0 1288.5h6.0M387.6 1291.3h6.0M416.6 1291.3h6.0M462.8 1291.3h6.0M538.0 1291.3h11.8M590.1 1291.3h6.0M694.2 1291.3h6.0M295.1 1294.0h6.0M312.5 1294.0h6.0M335.6 1294.0h6.0M347.2 1294.0h6.0M370.3 1294.0h6.0M381.9 1294.0h6.0M532.2 1294.0h6.0M549.6 1294.0h6.0M624.8 1294.0h6.0M647.9 1294.0h6.0M694.2 1294.0h6.0M781.0 1294.0h6.0M867.7 1294.0h6.0M266.2 1296.8h6.0M341.4 1296.8h6.0M399.2 1296.8h6.0M514.9 1296.8h6.0M647.9 1296.8h6.0M694.2 1296.8h6.0M781.0 1296.8h6.0M792.5 1296.8h6.0M827.2 1296.8h6.0M659.5 1299.5h6.0M769.4 1299.5h6.0M804.1 1299.5h6.0M497.5 1302.3h6.0M769.4 1302.3h6.0M821.4 1302.3h6.0M486.0 1305.1h6.0M769.4 1305.1h6.0M786.7 1305.1h6.0M653.7 1307.8h6.0M728.9 1307.8h6.0M642.1 1310.6h6.0M734.7 1310.6h11.8M752.0 1313.3h6.0M728.9 1316.1h6.0M624.8 1318.8h6.0M647.9 1318.8h6.0M705.8 1318.8h6.0M486.0 1321.6h6.0M607.4 1321.6h6.0M289.3 1324.4h6.0M410.8 1324.4h6.0M497.5 1324.4h6.0M601.7 1324.4h6.0M717.3 1324.4h6.0M752.0 1324.4h6.0M283.5 1327.1h6.0M318.2 1327.1h6.0M399.2 1327.1h6.0M439.7 1327.1h6.0M457.1 1327.1h6.0M381.9 1329.9h6.0M1080.2 1329.9h4.2M445.5 1332.6h6.0M497.5 1338.1h6.0M740.5 1338.1h6.0M896.6 1338.1h6.0M300.9 1340.9h6.0M445.5 1343.7h6.0M705.8 1343.7h6.0M300.9 1346.4h6.0M352.9 1346.4h6.0M682.6 1346.4h6.0M838.8 1346.4h6.0M457.1 1349.2h6.0M769.4 1349.2h6.0M370.3 1351.9h6.0M601.7 1351.9h6.0M630.6 1351.9h6.0M769.4 1351.9h6.0M358.7 1354.7h11.8M514.9 1354.7h6.0M538.0 1354.7h6.0M885.1 1354.7h6.0M364.5 1357.5h6.0M451.3 1357.5h6.0M659.5 1357.5h6.0M538.0 1365.7h6.0M549.6 1365.7h6.0M347.2 1368.5h6.0M422.4 1368.5h6.0M462.8 1368.5h6.0M613.2 1368.5h6.0M376.1 1371.2h6.0M584.3 1371.2h6.0M352.9 1374.0h6.0M405.0 1374.0h6.0M497.5 1374.0h6.0M983.4 1374.0h6.0"/>
<path stroke="#b266ff" d="M347.2 833.4h6.0M312.5 836.2h6.0M358.7 836.2h6.0M630.6 836.2h6.0M665.3 836.2h6.0M491.8 838.9h6.0M613.2 850.0h6.0M1047.0 850.0h6.0M457.1 852.7h6.0M364.5 858.3h6.0M538.0 858.3h6.0M572.7 858.3h6.0M347.2 861.0h6.0M503.3 861.0h6.0M561.2 861.0h6.0M300.9 863.8h6.0M642.1 863.8h6.0M381.9 872.0h6.0M480.2 872.0h6.0M543.8 872.0h6.0M306.7 874.8h6.0M324.0 877.6h6.0M682.6 877.6h6.0M890.9 877.6h6.0M937.1 877.6h6.0M433.9 883.1h6.0M532.2 883.1h6.0M543.8 885.8h6.0M266.2 888.6h6.0M480.2 888.6h6.0M613.2 888.6h6.0M399.2 891.3h6.0M717.3 891.3h6.0M474.4 894.1h6.0M503.3 894.1h6.0M659.5 894.1h6.0M700.0 894.1h6.0M740.5 894.1h6.0M867.7 894.1h6.0M300.9 896.9h6.0M786.7 896.9h6.0M584.3 899.6h6.0M711.6 899.6h6.0M462.8 902.4h6.0M538.0 902.4h6.0M532.2 905.1h6.0M665.3 905.1h6.0M376.1 907.9h6.0M312.5 910.7h6.0M520.7 910.7h6.0M503.3 916.2h6.0M324.0 921.7h6.0M838.8 921.7h6.0M318.2 924.4h6.0M329.8 924.4h6.0M352.9 924.4h6.0M578.5 927.2h6.0M289.3 932.7h6.0M433.9 932.7h6.0M960.3 932.7h6.0M676.8 935.5h6.0M462.8 938.2h6.0M491.8 938.2h6.0M306.7 941.0h6.0M335.6 943.8h6.0M497.5 946.5h6.0M590.1 946.5h6.0M752.0 946.5h6.0M352.9 949.3h6.0M399.2 952.0h6.0M433.9 952.0h6.0M700.0 957.5h6.0M925.6 957.5h6.0M387.6 960.3h6.0M717.3 960.3h6.0M728.9 963.1h6.0M676.8 968.6h6.0M798.3 968.6h6.0M821.4 971.3h6.0M399.2 976.8h6.0M1058.6 982.4h6.0M260.4 985.1h6.0M306.7 985.1h11.8M289.3 987.9h6.0M682.6 990.6h6.0M700.0 990.6h6.0M792.5 993.4h6.0M324.0 996.2h6.0M815.7 996.2h6.0M971.8 996.2h6.0M757.8 998.9h6.0M792.5 998.9h6.0M514.9 1004.4h6.0M503.3 1007.2h6.0M1075.9 1009.9h-0.7M416.6 1012.7h6.0M486.0 1012.7h6.0M659.5 1015.5h6.0M509.1 1018.2h6.0M694.2 1018.2h6.0M752.0 1018.2h6.0M364.5 1021.0h6.0M590.1 1021.0h6.0M341.4 1026.5h6.0M451.3 1029.2h11.8M526.5 1029.2h6.0M300.9 1032.0h6.0M260.4 1037.5h6.0M410.8 1037.5h6.0M671.1 1040.3h6.0M821.4 1043.0h6.0M873.5 1043.0h6.0M335.6 1045.8h6.0M595.9 1045.8h6.0M312.5 1054.1h6.0M694.2 1056.8h6.0M584.3 1065.1h6.0M312.5 1070.6h6.0M740.5 1070.6h6.0M971.8 1070.6h6.0M399.2 1073.4h6.0M636.4 1073.4h6.0M260.4 1076.1h6.0M572.7 1076.1h6.0M590.1 1076.1h6.0M601.7 1076.1h6.0M613.2 1076.1h6.0M636.4 1076.1h6.0M636.4 1078.9h11.8M682.6 1078.9h6.0M318.2 1081.7h6.0M451.3 1081.7h6.0M700.0 1081.7h6.0M393.4 1084.4h6.0M324.0 1087.2h6.0M619.0 1087.2h6.0M728.9 1087.2h6.0M324.0 1089.9h6.0M341.4 1089.9h11.8M399.2 1089.9h6.0M451.3 1089.9h6.0M324.0 1092.7h6.0M717.3 1092.7h6.0M376.1 1095.4h6.0M352.9 1101.0h6.0M387.6 1101.0h6.0M399.2 1101.0h6.0M549.6 1101.0h6.0M295.1 1103.7h6.0M329.8 1103.7h6.0M491.8 1103.7h6.0M503.3 1103.7h6.0M532.2 1103.7h17.6M410.8 1106.5h6.0M428.1 1106.5h11.8M480.2 1106.5h6.0M538.0 1106.5h11.8M578.5 1106.5h6.0M439.7 1109.2h11.8M462.8 1109.2h11.8M480.2 1109.2h6.0M555.4 1109.2h11.8M908.2 1109.2h6.0M283.5 1112.0h6.0M300.9 1112.0h6.0M352.9 1112.0h11.8M445.5 1112.0h6.0M520.7 1112.0h29.2M283.5 1114.7h6.0M387.6 1114.7h6.0M468.6 1114.7h6.0M491.8 1114.7h6.0M538.0 1114.7h11.8M266.2 1117.5h6.0M289.3 1117.5h6.0M306.7 1117.5h6.0M364.5 1117.5h11.8M538.0 1117.5h6.0M578.5 1117.5h6.0M653.7 1117.5h6.0M833.0 1117.5h6.0M289.3 1120.3h6.0M352.9 1120.3h6.0M387.6 1120.3h6.0M520.7 1120.3h11.8M549.6 1120.3h6.0M584.3 1120.3h6.0M595.9 1120.3h6.0M619.0 1120.3h6.0M665.3 1120.3h6.0M676.8 1120.3h6.0M324.0 1123.0h6.0M474.4 1123.0h6.0M607.4 1123.0h6.0M619.0 1123.0h11.8M740.5 1123.0h6.0M416.6 1125.8h6.0M619.0 1125.8h6.0M647.9 1125.8h6.0M260.4 1128.5h6.0M347.2 1128.5h6.0M486.0 1128.5h6.0M624.8 1128.5h6.0M636.4 1128.5h6.0M647.9 1128.5h6.0M728.9 1128.5h6.0M757.8 1128.5h6.0M567.0 1131.3h6.0M647.9 1131.3h6.0M769.4 1131.3h6.0M410.8 1134.1h6.0M491.8 1134.1h6.0M595.9 1134.1h6.0M723.1 1134.1h6.0M769.4 1134.1h6.0M804.1 1134.1h6.0M433.9 1136.8h6.0M497.5 1136.8h6.0M688.4 1136.8h6.0M711.6 1136.8h6.0M815.7 1136.8h6.0M306.7 1139.6h6.0M497.5 1139.6h6.0M688.4 1139.6h6.0M734.7 1139.6h6.0M260.4 1142.3h6.0M595.9 1142.3h6.0M694.2 1142.3h6.0M728.9 1142.3h6.0M757.8 1142.3h11.8M781.0 1142.3h6.0M792.5 1142.3h6.0M804.1 1142.3h6.0M700.0 1145.1h6.0M752.0 1145.1h11.8M781.0 1145.1h6.0M827.2 1145.1h6.0M838.8 1145.1h6.0M260.4 1147.8h6.0M613.2 1147.8h6.0M694.2 1147.8h6.0M728.9 1147.8h6.0M815.7 1147.8h11.8M486.0 1150.6h6.0M717.3 1150.6h6.0M728.9 1150.6h6.0M752.0 1150.6h6.0M1064.4 1150.6h6.0M711.6 1153.4h6.0M775.2 1153.4h6.0M821.4 1153.4h6.0M1075.9 1153.4h-0.7M711.6 1156.1h11.8M775.2 1156.1h6.0M798.3 1156.1h6.0M821.4 1156.1h6.0M723.1 1158.9h6.0M740.5 1158.9h6.0M752.0 1158.9h6.0M815.7 1158.9h6.0M1064.4 1158.9h6.0M890.9 1161.6h6.0M850.4 1164.4h6.0M902.4 1164.4h6.0M619.0 1167.2h6.0M896.6 1167.2h6.0M925.6 1167.2h6.0M694.2 1169.9h11.8M809.9 1169.9h6.0M879.3 1169.9h6.0M902.4 1169.9h11.8M746.3 1172.7h6.0M856.2 1172.7h6.0M1029.7 1172.7h6.0M1064.4 1172.7h6.0M821.4 1175.4h6.0M983.4 1175.4h6.0M1064.4 1175.4h6.0M925.6 1178.2h6.0M960.3 1178.2h6.0M1064.4 1178.2h6.0M896.6 1180.9h6.0M908.2 1180.9h6.0M954.5 1180.9h11.8M1000.8 1180.9h6.0M1075.0 1180.9h5.5M873.5 1183.7h6.0M902.4 1183.7h11.8M954.5 1183.7h6.0M1070.2 1183.7h6.0M914.0 1186.5h6.0M948.7 1186.5h11.8M1018.1 1186.5h6.0M1047.0 1186.5h6.0M908.2 1189.2h6.0M925.6 1189.2h6.0M1018.1 1189.2h6.0M1047.0 1189.2h6.0M1064.4 1189.2h6.0M937.1 1192.0h6.0M960.3 1192.0h6.0M995.0 1192.0h6.0M890.9 1194.7h6.0M942.9 1194.7h6.0M989.2 1194.7h6.0M885.1 1197.5h6.0M937.1 1197.5h6.0M960.3 1197.5h6.0M1075.9 1197.5h-0.7M931.3 1200.2h6.0M960.3 1200.2h6.0M971.8 1200.2h6.0M896.6 1203.0h17.6M989.2 1203.0h6.0M1080.2 1203.0h4.2M861.9 1205.8h6.0M989.2 1205.8h6.0M1000.8 1205.8h6.0M977.6 1208.5h6.0M711.6 1214.0h6.0M781.0 1216.8h11.8M676.8 1222.3h11.8M665.3 1225.1h6.0M728.9 1227.8h6.0M809.9 1227.8h6.0M844.6 1227.8h6.0M1075.9 1227.8h-0.7M555.4 1230.6h6.0M711.6 1230.6h6.0M376.1 1233.3h6.0M497.5 1233.3h6.0M700.0 1233.3h6.0M341.4 1236.1h6.0M352.9 1236.1h6.0M410.8 1236.1h6.0M514.9 1236.1h6.0M555.4 1236.1h6.0M653.7 1236.1h6.0M682.6 1236.1h6.0M306.7 1238.9h11.8M324.0 1238.9h11.8M341.4 1238.9h6.0M376.1 1238.9h6.0M486.0 1238.9h6.0M503.3 1238.9h11.8M676.8 1238.9h6.0M734.7 1238.9h6.0M850.4 1238.9h6.0M867.7 1238.9h6.0M971.8 1238.9h6.0M318.2 1241.6h6.0M329.8 1241.6h6.0M405.0 1241.6h6.0M468.6 1241.6h6.0M480.2 1241.6h6.0M792.5 1241.6h6.0M833.0 1241.6h6.0M890.9 1241.6h6.0M989.2 1241.6h6.0M1084.2 1241.6h8.5M306.7 1244.4h11.8M381.9 1244.4h6.0M538.0 1244.4h6.0M572.7 1244.4h6.0M694.2 1244.4h6.0M769.4 1244.4h6.0M827.2 1244.4h6.0M838.8 1244.4h6.0M867.7 1244.4h6.0M885.1 1244.4h6.0M914.0 1244.4h6.0M937.1 1244.4h6.0M954.5 1244.4h11.8M347.2 1247.1h6.0M514.9 1247.1h6.0M653.7 1247.1h6.0M682.6 1247.1h6.0M792.5 1247.1h6.0M844.6 1247.1h6.0M873.5 1247.1h6.0M937.1 1247.1h6.0M960.3 1247.1h6.0M416.6 1249.9h6.0M549.6 1249.9h6.0M711.6 1249.9h6.0M856.2 1249.9h6.0M896.6 1249.9h6.0M966.0 1249.9h11.8M1012.3 1249.9h6.0M352.9 1252.6h6.0M387.6 1252.6h23.4M422.4 1252.6h6.0M653.7 1252.6h6.0M786.7 1252.6h6.0M798.3 1252.6h6.0M838.8 1252.6h6.0M896.6 1252.6h6.0M914.0 1252.6h6.0M925.6 1252.6h6.0M260.4 1255.4h6.0M352.9 1255.4h6.0M381.9 1255.4h6.0M428.1 1255.4h6.0M462.8 1255.4h6.0M480.2 1255.4h6.0M491.8 1255.4h6.0M567.0 1255.4h6.0M607.4 1255.4h6.0M642.1 1255.4h6.0M757.8 1255.4h6.0M850.4 1255.4h6.0M896.6 1255.4h6.0M532.2 1258.2h6.0M671.1 1258.2h11.8M688.4 1258.2h6.0M711.6 1258.2h6.0M792.5 1258.2h6.0M896.6 1258.2h11.8M931.3 1258.2h6.0M989.2 1258.2h6.0M318.2 1260.9h6.0M364.5 1260.9h6.0M387.6 1260.9h6.0M607.4 1260.9h6.0M659.5 1260.9h6.0M671.1 1260.9h6.0M682.6 1260.9h6.0M694.2 1260.9h11.8M711.6 1260.9h6.0M809.9 1260.9h6.0M937.1 1260.9h6.0M410.8 1263.7h6.0M491.8 1263.7h11.8M653.7 1263.7h11.8M688.4 1263.7h6.0M717.3 1263.7h6.0M728.9 1263.7h17.6M769.4 1263.7h6.0M295.1 1266.4h6.0M352.9 1266.4h6.0M682.6 1266.4h6.0M717.3 1266.4h6.0M844.6 1266.4h6.0M468.6 1269.2h6.0M619.0 1269.2h6.0M705.8 1269.2h6.0M734.7 1269.2h6.0M769.4 1269.2h6.0M260.4 1272.0h6.0M555.4 1272.0h6.0M717.3 1272.0h6.0M734.7 1272.0h6.0M410.8 1274.7h6.0M428.1 1274.7h6.0M584.3 1274.7h6.0M676.8 1274.7h6.0M700.0 1274.7h6.0M723.1 1274.7h6.0M763.6 1274.7h11.8M786.7 1274.7h6.0M798.3 1274.7h6.0M827.2 1274.7h6.0M850.4 1274.7h6.0M486.0 1277.5h6.0M728.9 1277.5h6.0M746.3 1277.5h6.0M792.5 1277.5h6.0M300.9 1280.2h6.0M312.5 1280.2h6.0M509.1 1280.2h6.0M676.8 1280.2h6.0M705.8 1280.2h6.0M723.1 1280.2h6.0M757.8 1280.2h6.0M844.6 1280.2h6.0M474.4 1283.0h6.0M624.8 1283.0h6.0M642.1 1283.0h6.0M705.8 1283.0h11.8M757.8 1283.0h6.0M462.8 1285.7h6.0M752.0 1285.7h6.0M555.4 1288.5h6.0M601.7 1288.5h6.0M624.8 1288.5h6.0M647.9 1288.5h6.0M659.5 1288.5h6.0M682.6 1288.5h6.0M410.8 1291.3h6.0M474.4 1291.3h6.0M561.2 1291.3h6.0M624.8 1291.3h6.0M827.2 1291.3h6.0M283.5 1294.0h6.0M329.8 1294.0h6.0M352.9 1294.0h6.0M445.5 1294.0h6.0M474.4 1294.0h6.0M584.3 1294.0h6.0M619.0 1294.0h6.0M636.4 1294.0h6.0M659.5 1294.0h11.8M723.1 1294.0h6.0M752.0 1294.0h6.0M792.5 1294.0h6.0M260.4 1296.8h6.0M543.8 1296.8h6.0M659.5 1296.8h6.0M688.4 1296.8h6.0M700.0 1296.8h11.8M717.3 1296.8h6.0M734.7 1296.8h6.0M746.3 1296.8h11.8M312.5 1299.5h6.0M387.6 1299.5h6.0M717.3 1299.5h6.0M728.9 1299.5h6.0M740.5 1299.5h6.0M775.2 1299.5h6.0M763.6 1302.3h6.0M809.9 1302.3h11.8M659.5 1305.1h6.0M734.7 1305.1h6.0M752.0 1305.1h6.0M792.5 1305.1h6.0M983.4 1305.1h6.0M486.0 1307.8h6.0M740.5 1307.8h6.0M752.0 1307.8h6.0M890.9 1307.8h6.0M694.2 1310.6h6.0M723.1 1310.6h6.0M676.8 1313.3h6.0M723.1 1313.3h6.0M798.3 1313.3h6.0M682.6 1316.1h6.0M700.0 1316.1h6.0M711.6 1316.1h6.0M781.0 1316.1h6.0M833.0 1316.1h6.0M486.0 1318.8h6.0M630.6 1318.8h6.0M671.1 1318.8h6.0M682.6 1318.8h6.0M630.6 1321.6h6.0M682.6 1321.6h6.0M740.5 1321.6h6.0M295.1 1324.4h6.0M399.2 1324.4h6.0M486.0 1324.4h6.0M312.5 1327.1h6.0M324.0 1327.1h11.8M358.7 1327.1h6.0M370.3 1327.1h6.0M451.3 1327.1h6.0M480.2 1327.1h6.0M526.5 1327.1h11.8M555.4 1327.1h6.0M283.5 1329.9h6.0M387.6 1329.9h6.0M567.0 1329.9h6.0M844.6 1329.9h6.0M480.2 1332.6h6.0M578.5 1332.6h6.0M665.3 1332.6h6.0M491.8 1335.4h6.0M532.2 1335.4h6.0M630.6 1335.4h6.0M266.2 1338.1h6.0M341.4 1338.1h6.0M445.5 1338.1h6.0M474.4 1338.1h6.0M821.4 1338.1h6.0M352.9 1340.9h6.0M786.7 1340.9h6.0M457.1 1346.4h6.0M584.3 1346.4h6.0M283.5 1349.2h6.0M555.4 1349.2h6.0M422.4 1351.9h6.0M503.3 1351.9h6.0M543.8 1351.9h6.0M555.4 1351.9h6.0M1000.8 1351.9h6.0M324.0 1354.7h6.0M283.5 1357.5h6.0M335.6 1357.5h6.0M462.8 1357.5h6.0M711.6 1357.5h6.0M572.7 1360.2h6.0M300.9 1363.0h6.0M428.1 1363.0h6.0M457.1 1363.0h6.0M983.4 1365.7h6.0M601.7 1368.5h6.0M347.2 1371.2h6.0M358.7 1371.2h6.0M636.4 1371.2h6.0M792.5 1371.2h6.0M555.4 1374.0h6.0M572.7 1374.0h6.0"/>
<path stroke="#a64cff" d="M607.4 836.2h6.0M578.5 838.9h6.0M613.2 838.9h6.0M705.8 838.9h6.0M272.0 844.5h6.0M445.5 844.5h6.0M509.1 844.5h6.0M647.9 844.5h6.0M723.1 850.0h6.0M734.7 850.0h6.0M318.2 852.7h6.0M399.2 852.7h6.0M428.1 852.7h6.0M937.1 852.7h6.0M543.8 855.5h6.0M792.5 855.5h6.0M890.9 855.5h6.0M584.3 858.3h6.0M682.6 858.3h6.0M734.7 858.3h6.0M445.5 863.8h6.0M561.2 863.8h6.0M595.9 863.8h6.0M393.4 866.5h11.8M827.2 866.5h6.0M399.2 869.3h6.0M376.1 872.0h6.0M763.6 872.0h6.0M399.2 874.8h6.0M572.7 874.8h6.0M647.9 874.8h6.0M549.6 877.6h6.0M636.4 877.6h6.0M653.7 877.6h6.0M723.1 877.6h6.0M486.0 880.3h6.0M838.8 883.1h6.0M682.6 885.8h6.0M451.3 891.3h6.0M665.3 891.3h6.0M688.4 891.3h6.0M428.1 894.1h6.0M266.2 896.9h6.0M433.9 896.9h6.0M405.0 899.6h6.0M561.2 899.6h6.0M682.6 899.6h6.0M451.3 902.4h6.0M786.7 902.4h6.0M283.5 905.1h6.0M595.9 905.1h6.0M607.4 905.1h6.0M653.7 907.9h6.0M266.2 913.4h6.0M306.7 913.4h6.0M462.8 913.4h6.0M370.3 916.2h6.0M578.5 916.2h6.0M619.0 916.2h6.0M717.3 918.9h6.0M908.2 918.9h6.0M1041.2 918.9h6.0M919.8 921.7h6.0M549.6 924.4h6.0M416.6 927.2h6.0M948.7 927.2h6.0M283.5 930.0h6.0M352.9 930.0h6.0M387.6 930.0h6.0M555.4 930.0h6.0M335.6 932.7h6.0M358.7 935.5h6.0M543.8 938.2h6.0M370.3 941.0h6.0M497.5 941.0h6.0M838.8 941.0h6.0M480.2 943.8h6.0M503.3 943.8h6.0M1041.2 946.5h6.0M277.8 949.3h6.0M405.0 949.3h6.0M590.1 949.3h6.0M694.2 949.3h6.0M306.7 954.8h6.0M393.4 954.8h6.0M781.0 957.5h6.0M416.6 960.3h6.0M567.0 960.3h6.0M815.7 960.3h6.0M341.4 963.1h6.0M538.0 963.1h6.0M705.8 963.1h6.0M757.8 963.1h6.0M491.8 965.8h6.0M601.7 965.8h6.0M781.0 965.8h6.0M266.2 968.6h6.0M300.9 968.6h6.0M387.6 968.6h6.0M358.7 971.3h6.0M399.2 971.3h6.0M277.8 976.8h6.0M526.5 976.8h6.0M306.7 982.4h6.0M399.2 982.4h6.0M914.0 985.1h6.0M555.4 987.9h6.0M474.4 990.6h6.0M312.5 993.4h6.0M335.6 998.9h6.0M457.1 998.9h6.0M740.5 1001.7h6.0M341.4 1004.4h6.0M584.3 1004.4h6.0M283.5 1007.2h6.0M405.0 1007.2h6.0M867.7 1007.2h6.0M520.7 1009.9h6.0M549.6 1012.7h6.0M642.1 1012.7h6.0M595.9 1015.5h6.0M821.4 1015.5h6.0M335.6 1018.2h6.0M416.6 1018.2h6.0M410.8 1023.7h6.0M514.9 1023.7h6.0M306.7 1026.5h6.0M445.5 1029.2h6.0M665.3 1029.2h6.0M277.8 1032.0h6.0M451.3 1032.0h6.0M659.5 1032.0h6.0M312.5 1034.8h6.0M584.3 1040.3h6.0M700.0 1040.3h6.0M295.1 1043.0h6.0M399.2 1043.0h6.0M561.2 1043.0h11.8M300.9 1045.8h6.0M451.3 1045.8h6.0M601.7 1045.8h6.0M584.3 1048.6h6.0M746.3 1048.6h6.0M809.9 1048.6h6.0M410.8 1054.1h6.0M595.9 1054.1h6.0M752.0 1054.1h6.0M329.8 1059.6h6.0M341.4 1059.6h6.0M381.9 1059.6h6.0M416.6 1059.6h6.0M514.9 1059.6h6.0M607.4 1059.6h6.0M624.8 1059.6h6.0M613.2 1065.1h6.0M295.1 1067.9h6.0M509.1 1067.9h6.0M295.1 1070.6h6.0M341.4 1070.6h6.0M746.3 1073.4h6.0M318.2 1076.1h6.0M347.2 1076.1h11.8M381.9 1076.1h6.0M422.4 1076.1h6.0M433.9 1076.1h6.0M272.0 1078.9h6.0M405.0 1078.9h6.0M474.4 1078.9h6.0M457.1 1081.7h6.0M480.2 1084.4h6.0M613.2 1084.4h6.0M665.3 1087.2h6.0M757.8 1087.2h6.0M393.4 1089.9h6.0M567.0 1089.9h6.0M619.0 1089.9h6.0M422.4 1092.7h6.0M300.9 1095.4h6.0M405.0 1095.4h6.0M567.0 1098.2h6.0M676.8 1098.2h6.0M457.1 1101.0h6.0M468.6 1101.0h6.0M705.8 1101.0h6.0M457.1 1103.7h6.0M653.7 1103.7h6.0M266.2 1106.5h6.0M312.5 1106.5h6.0M352.9 1106.5h6.0M393.4 1106.5h6.0M445.5 1106.5h6.0M468.6 1106.5h6.0M555.4 1106.5h6.0M567.0 1106.5h6.0M642.1 1106.5h6.0M659.5 1106.5h6.0M1018.1 1106.5h6.0M289.3 1109.2h6.0M370.3 1109.2h11.8M387.6 1109.2h6.0M399.2 1109.2h6.0M422.4 1109.2h6.0M549.6 1109.2h6.0M572.7 1109.2h6.0M671.1 1109.2h6.0M451.3 1112.0h6.0M462.8 1112.0h6.0M561.2 1112.0h6.0M572.7 1112.0h6.0M619.0 1112.0h6.0M723.1 1112.0h6.0M856.2 1112.0h6.0M260.4 1114.7h6.0M295.1 1114.7h11.8M318.2 1114.7h6.0M335.6 1114.7h11.8M376.1 1114.7h6.0M428.1 1114.7h6.0M451.3 1114.7h6.0M462.8 1114.7h6.0M532.2 1114.7h6.0M549.6 1114.7h6.0M584.3 1114.7h6.0M318.2 1117.5h6.0M381.9 1117.5h6.0M451.3 1117.5h6.0M509.1 1117.5h6.0M555.4 1117.5h17.6M595.9 1117.5h11.8M937.1 1117.5h6.0M283.5 1120.3h6.0M300.9 1120.3h6.0M335.6 1120.3h6.0M358.7 1120.3h6.0M399.2 1120.3h17.6M451.3 1120.3h6.0M532.2 1120.3h6.0M306.7 1123.0h6.0M526.5 1123.0h6.0M705.8 1123.0h6.0M439.7 1125.8h6.0M601.7 1125.8h6.0M630.6 1125.8h6.0M653.7 1125.8h6.0M700.0 1125.8h6.0M659.5 1128.5h6.0M676.8 1128.5h11.8M428.1 1131.3h6.0M746.3 1131.3h6.0M775.2 1131.3h11.8M798.3 1131.3h6.0M619.0 1134.1h6.0M642.1 1134.1h6.0M665.3 1134.1h11.8M740.5 1134.1h6.0M723.1 1136.8h6.0M798.3 1136.8h6.0M347.2 1139.6h6.0M653.7 1139.6h6.0M763.6 1139.6h6.0M786.7 1139.6h6.0M798.3 1139.6h6.0M809.9 1139.6h6.0M838.8 1139.6h6.0M642.1 1142.3h6.0M700.0 1142.3h11.8M711.6 1145.1h6.0M746.3 1145.1h6.0M769.4 1145.1h6.0M486.0 1147.8h6.0M676.8 1147.8h11.8M700.0 1147.8h6.0M734.7 1147.8h6.0M781.0 1147.8h6.0M1084.2 1147.8h8.5M711.6 1150.6h6.0M746.3 1150.6h6.0M775.2 1150.6h11.8M867.7 1150.6h6.0M1070.2 1150.6h6.0M682.6 1153.4h6.0M700.0 1153.4h6.0M746.3 1153.4h11.8M809.9 1153.4h6.0M260.4 1156.1h6.0M700.0 1156.1h6.0M734.7 1156.1h6.0M856.2 1156.1h6.0M1070.2 1156.1h6.0M1075.0 1156.1h5.5M746.3 1158.9h6.0M757.8 1158.9h6.0M769.4 1158.9h6.0M1070.2 1158.9h6.0M700.0 1161.6h6.0M723.1 1161.6h6.0M757.8 1161.6h6.0M815.7 1161.6h6.0M850.4 1161.6h6.0M867.7 1161.6h6.0M1070.2 1161.6h6.0M717.3 1164.4h6.0M821.4 1164.4h6.0M861.9 1164.4h6.0M873.5 1164.4h6.0M497.5 1167.2h6.0M688.4 1167.2h6.0M752.0 1167.2h6.0M844.6 1167.2h6.0M879.3 1167.2h11.8M486.0 1169.9h6.0M844.6 1169.9h6.0M867.7 1169.9h6.0M931.3 1169.9h6.0M1064.4 1169.9h6.0M1075.0 1169.9h5.5M914.0 1172.7h6.0M960.3 1172.7h6.0M971.8 1172.7h6.0M885.1 1175.4h6.0M931.3 1175.4h6.0M1070.2 1175.4h6.0M867.7 1178.2h6.0M908.2 1178.2h17.6M1023.9 1178.2h6.0M902.4 1180.9h6.0M914.0 1180.9h6.0M931.3 1180.9h6.0M1064.4 1180.9h6.0M856.2 1183.7h6.0M896.6 1183.7h6.0M919.8 1183.7h6.0M942.9 1183.7h6.0M919.8 1186.5h6.0M966.0 1186.5h6.0M1035.5 1186.5h6.0M1075.9 1192.0h-0.7M925.6 1194.7h6.0M948.7 1194.7h6.0M983.4 1194.7h6.0M1018.1 1194.7h6.0M1075.9 1194.7h4.5M902.4 1197.5h6.0M914.0 1197.5h6.0M983.4 1197.5h6.0M1006.5 1197.5h6.0M1041.2 1197.5h6.0M1070.2 1197.5h6.0M977.6 1200.2h6.0M1084.2 1200.2h8.5M827.2 1203.0h6.0M937.1 1203.0h6.0M1084.2 1203.0h8.5M844.6 1205.8h6.0M983.4 1205.8h6.0M821.4 1208.5h6.0M833.0 1208.5h6.0M850.4 1208.5h6.0M1029.7 1208.5h6.0M850.4 1211.3h6.0M798.3 1214.0h6.0M734.7 1216.8h6.0M763.6 1216.8h6.0M700.0 1219.6h6.0M711.6 1222.3h6.0M636.4 1225.1h6.0M613.2 1227.8h6.0M700.0 1227.8h6.0M630.6 1230.6h6.0M676.8 1230.6h6.0M260.4 1233.3h6.0M567.0 1233.3h11.8M590.1 1233.3h6.0M630.6 1233.3h6.0M653.7 1233.3h6.0M763.6 1233.3h6.0M1080.2 1233.3h4.2M277.8 1236.1h6.0M347.2 1236.1h6.0M364.5 1236.1h6.0M376.1 1236.1h6.0M433.9 1236.1h6.0M543.8 1236.1h6.0M584.3 1236.1h6.0M757.8 1236.1h6.0M769.4 1236.1h6.0M919.8 1236.1h6.0M289.3 1238.9h6.0M416.6 1238.9h6.0M514.9 1238.9h6.0M1029.7 1238.9h6.0M601.7 1241.6h6.0M838.8 1241.6h6.0M856.2 1241.6h6.0M867.7 1241.6h6.0M919.8 1241.6h6.0M954.5 1241.6h6.0M1041.2 1241.6h6.0M347.2 1244.4h6.0M376.1 1244.4h6.0M439.7 1244.4h6.0M457.1 1244.4h6.0M474.4 1244.4h6.0M561.2 1244.4h6.0M815.7 1244.4h6.0M844.6 1244.4h11.8M896.6 1244.4h6.0M948.7 1244.4h6.0M451.3 1247.1h6.0M676.8 1247.1h6.0M740.5 1247.1h6.0M781.0 1247.1h11.8M838.8 1247.1h6.0M879.3 1247.1h11.8M908.2 1247.1h6.0M925.6 1247.1h11.8M966.0 1247.1h6.0M983.4 1247.1h6.0M260.4 1249.9h6.0M341.4 1249.9h6.0M543.8 1249.9h6.0M781.0 1249.9h11.8M798.3 1249.9h6.0M931.3 1249.9h6.0M948.7 1249.9h6.0M272.0 1252.6h6.0M306.7 1252.6h6.0M335.6 1252.6h6.0M347.2 1252.6h6.0M520.7 1252.6h6.0M567.0 1252.6h6.0M590.1 1252.6h11.8M723.1 1252.6h6.0M781.0 1252.6h6.0M861.9 1252.6h17.6M919.8 1252.6h6.0M954.5 1252.6h6.0M318.2 1255.4h11.8M370.3 1255.4h6.0M393.4 1255.4h17.6M468.6 1255.4h6.0M514.9 1255.4h6.0M543.8 1255.4h6.0M561.2 1255.4h6.0M786.7 1255.4h6.0M804.1 1255.4h11.8M885.1 1255.4h6.0M919.8 1255.4h11.8M376.1 1258.2h6.0M509.1 1258.2h6.0M520.7 1258.2h6.0M543.8 1258.2h6.0M584.3 1258.2h6.0M630.6 1258.2h6.0M642.1 1258.2h11.8M659.5 1258.2h6.0M682.6 1258.2h6.0M740.5 1258.2h6.0M833.0 1258.2h6.0M393.4 1260.9h6.0M520.7 1260.9h6.0M567.0 1260.9h6.0M619.0 1260.9h6.0M665.3 1260.9h6.0M676.8 1260.9h6.0M277.8 1263.7h6.0M567.0 1263.7h6.0M636.4 1263.7h6.0M312.5 1266.4h6.0M769.4 1266.4h6.0M624.8 1269.2h6.0M676.8 1269.2h6.0M763.6 1269.2h6.0M497.5 1272.0h6.0M682.6 1272.0h6.0M491.8 1274.7h6.0M630.6 1274.7h6.0M682.6 1274.7h6.0M711.6 1274.7h6.0M757.8 1274.7h6.0M543.8 1277.5h6.0M665.3 1277.5h6.0M676.8 1277.5h6.0M694.2 1277.5h6.0M740.5 1277.5h6.0M757.8 1277.5h6.0M619.0 1280.2h6.0M647.9 1280.2h11.8M671.1 1280.2h6.0M682.6 1280.2h6.0M746.3 1280.2h6.0M636.4 1283.0h6.0M700.0 1283.0h6.0M740.5 1283.0h6.0M318.2 1285.7h6.0M509.1 1285.7h6.0M590.1 1285.7h6.0M619.0 1285.7h6.0M630.6 1285.7h6.0M642.1 1285.7h6.0M694.2 1285.7h6.0M763.6 1285.7h6.0M896.6 1285.7h6.0M300.9 1288.5h6.0M324.0 1288.5h6.0M335.6 1288.5h17.6M416.6 1288.5h6.0M428.1 1288.5h6.0M445.5 1288.5h6.0M457.1 1288.5h6.0M474.4 1288.5h6.0M509.1 1288.5h11.8M590.1 1288.5h6.0M613.2 1288.5h6.0M630.6 1288.5h6.0M694.2 1288.5h6.0M711.6 1288.5h6.0M300.9 1291.3h6.0M312.5 1291.3h11.8M341.4 1291.3h6.0M364.5 1291.3h6.0M399.2 1291.3h6.0M445.5 1291.3h6.0M480.2 1291.3h6.0M509.1 1291.3h6.0M526.5 1291.3h6.0M595.9 1291.3h6.0M630.6 1291.3h11.8M700.0 1291.3h6.0M260.4 1294.0h6.0M289.3 1294.0h6.0M318.2 1294.0h6.0M422.4 1294.0h6.0M514.9 1294.0h6.0M555.4 1294.0h11.8M578.5 1294.0h6.0M613.2 1294.0h6.0M630.6 1294.0h6.0M642.1 1294.0h6.0M763.6 1294.0h11.8M272.0 1296.8h11.8M324.0 1296.8h6.0M387.6 1296.8h6.0M503.3 1296.8h6.0M624.8 1296.8h11.8M642.1 1296.8h6.0M653.7 1296.8h6.0M711.6 1296.8h6.0M728.9 1296.8h6.0M757.8 1296.8h6.0M277.8 1299.5h6.0M624.8 1299.5h6.0M711.6 1299.5h6.0M757.8 1299.5h6.0M786.7 1299.5h6.0M798.3 1299.5h6.0M486.0 1302.3h6.0M636.4 1302.3h6.0M746.3 1302.3h11.8M688.4 1305.1h6.0M711.6 1305.1h11.8M728.9 1305.1h6.0M763.6 1305.1h6.0M966.0 1305.1h6.0M700.0 1307.8h6.0M723.1 1307.8h6.0M746.3 1310.6h6.0M682.6 1313.3h6.0M700.0 1313.3h11.8M671.1 1316.1h6.0M694.2 1316.1h6.0M636.4 1318.8h6.0M665.3 1318.8h6.0M694.2 1318.8h6.0M491.8 1321.6h6.0M590.1 1321.6h11.8M1018.1 1321.6h6.0M387.6 1324.4h6.0M543.8 1324.4h6.0M555.4 1324.4h6.0M584.3 1324.4h6.0M272.0 1327.1h6.0M289.3 1327.1h6.0M341.4 1327.1h6.0M393.4 1327.1h6.0M422.4 1327.1h6.0M462.8 1327.1h11.8M630.6 1327.1h6.0M312.5 1329.9h6.0M341.4 1329.9h6.0M665.3 1329.9h6.0M266.2 1332.6h6.0M509.1 1332.6h6.0M572.7 1332.6h6.0M1070.2 1335.4h6.0M364.5 1338.1h6.0M781.0 1338.1h6.0M601.7 1340.9h6.0M619.0 1340.9h11.8M746.3 1340.9h6.0M370.3 1343.7h6.0M457.1 1343.7h6.0M260.4 1346.4h6.0M329.8 1346.4h6.0M491.8 1346.4h6.0M318.2 1349.2h6.0M416.6 1349.2h6.0M445.5 1351.9h6.0M694.2 1351.9h6.0M723.1 1351.9h6.0M555.4 1354.7h6.0M850.4 1354.7h6.0M809.9 1360.2h6.0M422.4 1363.0h6.0M509.1 1363.0h6.0M595.9 1363.0h6.0M468.6 1368.5h6.0M491.8 1368.5h6.0M711.6 1371.2h6.0M942.9 1371.2h6.0M312.5 1374.0h6.0"/>
<path stroke="#9933ff" d="M272.0 833.4h6.0M630.6 833.4h6.0M480.2 836.2h6.0M642.1 836.2h6.0M1023.9 836.2h6.0M341.4 838.9h6.0M376.1 841.7h6.0M503.3 841.7h11.8M526.5 841.7h6.0M844.6 841.7h6.0M775.2 847.2h6.0M752.0 850.0h6.0M746.3 855.5h6.0M757.8 855.5h6.0M324.0 858.3h6.0M266.2 861.0h6.0M381.9 863.8h6.0M474.4 863.8h6.0M543.8 863.8h6.0M815.7 863.8h6.0M433.9 866.5h6.0M665.3 866.5h6.0M763.6 869.3h6.0M769.4 874.8h6.0M520.7 877.6h6.0M341.4 880.3h6.0M474.4 880.3h6.0M908.2 880.3h6.0M989.2 880.3h6.0M289.3 883.1h6.0M347.2 883.1h6.0M671.1 888.6h6.0M740.5 891.3h6.0M486.0 894.1h6.0M590.1 896.9h6.0M914.0 896.9h6.0M717.3 899.6h6.0M781.0 899.6h6.0M601.7 902.4h6.0M329.8 905.1h6.0M578.5 905.1h6.0M283.5 907.9h6.0M410.8 907.9h6.0M422.4 907.9h6.0M451.3 907.9h6.0M520.7 907.9h6.0M555.4 907.9h6.0M728.9 907.9h6.0M324.0 910.7h6.0M376.1 910.7h6.0M364.5 916.2h6.0M595.9 916.2h6.0M665.3 916.2h6.0M740.5 916.2h6.0M445.5 921.7h6.0M809.9 921.7h6.0M769.4 924.4h6.0M266.2 927.2h6.0M295.1 927.2h6.0M405.0 927.2h6.0M422.4 927.2h6.0M300.9 930.0h6.0M410.8 930.0h6.0M514.9 932.7h6.0M376.1 935.5h6.0M567.0 935.5h6.0M700.0 935.5h6.0M445.5 938.2h6.0M659.5 938.2h6.0M277.8 941.0h6.0M457.1 943.8h6.0M474.4 946.5h6.0M624.8 952.0h6.0M289.3 954.8h6.0M705.8 954.8h6.0M619.0 957.5h6.0M358.7 960.3h11.8M381.9 960.3h6.0M561.2 960.3h6.0M399.2 963.1h6.0M260.4 965.8h6.0M347.2 965.8h6.0M543.8 968.6h6.0M647.9 968.6h6.0M705.8 976.8h6.0M474.4 979.6h6.0M856.2 979.6h6.0M995.0 979.6h6.0M370.3 982.4h11.8M428.1 982.4h6.0M381.9 985.1h6.0M601.7 985.1h6.0M381.9 987.9h6.0M393.4 987.9h6.0M462.8 987.9h6.0M1084.2 987.9h8.5M457.1 990.6h6.0M295.1 993.4h6.0M399.2 996.2h6.0M659.5 998.9h6.0M682.6 998.9h6.0M347.2 1001.7h6.0M497.5 1001.7h6.0M272.0 1004.4h6.0M335.6 1004.4h6.0M746.3 1009.9h6.0M376.1 1018.2h6.0M740.5 1018.2h6.0M769.4 1018.2h6.0M538.0 1021.0h6.0M578.5 1021.0h6.0M763.6 1021.0h6.0M260.4 1023.7h6.0M1084.2 1023.7h8.5M405.0 1026.5h6.0M439.7 1029.2h6.0M335.6 1034.8h6.0M468.6 1034.8h6.0M584.3 1034.8h6.0M283.5 1037.5h6.0M613.2 1037.5h6.0M358.7 1040.3h6.0M532.2 1040.3h6.0M266.2 1043.0h6.0M341.4 1045.8h6.0M740.5 1045.8h6.0M399.2 1048.6h6.0M451.3 1048.6h6.0M480.2 1051.3h6.0M451.3 1054.1h6.0M919.8 1056.8h6.0M595.9 1059.6h6.0M266.2 1062.3h6.0M277.8 1062.3h6.0M277.8 1065.1h6.0M335.6 1065.1h6.0M509.1 1065.1h6.0M543.8 1065.1h6.0M694.2 1065.1h6.0M520.7 1070.6h6.0M578.5 1073.4h6.0M833.0 1073.4h11.8M989.2 1076.1h6.0M318.2 1078.9h6.0M520.7 1078.9h6.0M844.6 1078.9h6.0M341.4 1081.7h11.8M399.2 1081.7h6.0M445.5 1081.7h6.0M266.2 1084.4h6.0M630.6 1084.4h6.0M676.8 1084.4h6.0M480.2 1087.2h6.0M809.9 1092.7h6.0M856.2 1092.7h6.0M387.6 1098.2h6.0M509.1 1098.2h6.0M757.8 1098.2h6.0M318.2 1101.0h6.0M676.8 1101.0h6.0M410.8 1103.7h6.0M445.5 1103.7h6.0M526.5 1103.7h6.0M642.1 1103.7h6.0M277.8 1106.5h6.0M549.6 1106.5h6.0M665.3 1106.5h6.0M381.9 1109.2h6.0M405.0 1109.2h6.0M486.0 1109.2h6.0M567.0 1109.2h6.0M295.1 1112.0h6.0M329.8 1112.0h6.0M497.5 1112.0h6.0M717.3 1112.0h6.0M728.9 1112.0h6.0M775.2 1112.0h6.0M896.6 1112.0h6.0M347.2 1114.7h6.0M422.4 1114.7h6.0M474.4 1114.7h6.0M503.3 1114.7h11.8M561.2 1114.7h11.8M590.1 1114.7h6.0M277.8 1117.5h6.0M312.5 1117.5h6.0M341.4 1117.5h6.0M399.2 1117.5h6.0M416.6 1117.5h6.0M428.1 1117.5h11.8M445.5 1117.5h6.0M474.4 1117.5h11.8M514.9 1117.5h6.0M526.5 1117.5h6.0M543.8 1117.5h6.0M584.3 1117.5h6.0M636.4 1117.5h6.0M723.1 1117.5h6.0M272.0 1120.3h6.0M318.2 1120.3h6.0M341.4 1120.3h11.8M370.3 1120.3h6.0M468.6 1120.3h6.0M480.2 1120.3h6.0M567.0 1120.3h6.0M630.6 1120.3h6.0M295.1 1123.0h6.0M318.2 1123.0h6.0M358.7 1123.0h6.0M370.3 1123.0h6.0M393.4 1123.0h6.0M422.4 1123.0h6.0M520.7 1123.0h6.0M532.2 1123.0h6.0M578.5 1123.0h6.0M613.2 1123.0h6.0M266.2 1125.8h6.0M295.1 1125.8h6.0M370.3 1125.8h6.0M399.2 1125.8h6.0M422.4 1125.8h6.0M491.8 1125.8h6.0M590.1 1125.8h6.0M607.4 1125.8h6.0M497.5 1128.5h6.0M595.9 1128.5h11.8M613.2 1128.5h6.0M665.3 1128.5h6.0M775.2 1128.5h6.0M624.8 1131.3h11.8M642.1 1131.3h6.0M613.2 1134.1h6.0M647.9 1134.1h6.0M728.9 1134.1h6.0M995.0 1134.1h6.0M630.6 1136.8h6.0M642.1 1136.8h6.0M659.5 1136.8h6.0M676.8 1136.8h11.8M763.6 1136.8h11.8M792.5 1136.8h6.0M486.0 1139.6h6.0M647.9 1139.6h6.0M671.1 1139.6h6.0M717.3 1139.6h6.0M757.8 1139.6h6.0M682.6 1142.3h6.0M786.7 1142.3h6.0M798.3 1142.3h6.0M636.4 1145.1h11.8M659.5 1145.1h11.8M682.6 1145.1h11.8M705.8 1145.1h6.0M740.5 1145.1h6.0M659.5 1147.8h17.6M688.4 1147.8h6.0M705.8 1147.8h6.0M723.1 1147.8h6.0M740.5 1147.8h17.6M763.6 1147.8h17.6M792.5 1147.8h6.0M491.8 1150.6h6.0M682.6 1150.6h11.8M700.0 1150.6h6.0M740.5 1150.6h6.0M757.8 1150.6h6.0M769.4 1150.6h6.0M792.5 1150.6h17.6M1075.0 1150.6h5.5M1084.2 1150.6h8.5M659.5 1153.4h6.0M671.1 1153.4h6.0M723.1 1153.4h6.0M740.5 1153.4h6.0M786.7 1153.4h6.0M671.1 1156.1h6.0M705.8 1156.1h6.0M740.5 1156.1h6.0M757.8 1156.1h6.0M781.0 1156.1h6.0M694.2 1158.9h11.8M728.9 1158.9h6.0M775.2 1158.9h6.0M792.5 1158.9h6.0M809.9 1158.9h6.0M838.8 1158.9h11.8M1075.0 1158.9h5.5M491.8 1161.6h6.0M671.1 1161.6h6.0M682.6 1161.6h6.0M705.8 1161.6h6.0M717.3 1161.6h6.0M728.9 1161.6h6.0M752.0 1161.6h6.0M769.4 1161.6h6.0M786.7 1161.6h6.0M798.3 1161.6h11.8M1075.9 1161.6h-0.7M260.4 1164.4h6.0M688.4 1164.4h6.0M728.9 1164.4h6.0M740.5 1164.4h6.0M757.8 1164.4h6.0M844.6 1164.4h6.0M902.4 1167.2h6.0M1070.2 1167.2h6.0M688.4 1169.9h6.0M827.2 1169.9h6.0M838.8 1169.9h6.0M873.5 1169.9h6.0M925.6 1169.9h6.0M1070.2 1169.9h6.0M879.3 1172.7h6.0M867.7 1175.4h6.0M919.8 1175.4h6.0M885.1 1178.2h6.0M902.4 1178.2h6.0M942.9 1178.2h6.0M954.5 1178.2h6.0M885.1 1180.9h6.0M919.8 1180.9h6.0M1012.3 1180.9h6.0M861.9 1183.7h6.0M890.9 1183.7h6.0M948.7 1183.7h6.0M966.0 1183.7h6.0M896.6 1186.5h6.0M971.8 1186.5h6.0M1012.3 1186.5h6.0M1070.2 1186.5h6.0M914.0 1189.2h6.0M948.7 1189.2h6.0M966.0 1189.2h6.0M1075.9 1189.2h-0.7M908.2 1192.0h6.0M925.6 1192.0h6.0M948.7 1192.0h6.0M989.2 1192.0h6.0M1000.8 1192.0h6.0M1070.2 1192.0h6.0M896.6 1194.7h6.0M1075.0 1197.5h5.5M890.9 1200.2h6.0M914.0 1200.2h6.0M925.6 1200.2h6.0M937.1 1200.2h6.0M966.0 1200.2h6.0M1075.0 1200.2h5.5M867.7 1203.0h6.0M890.9 1203.0h6.0M821.4 1205.8h6.0M867.7 1205.8h6.0M960.3 1205.8h6.0M827.2 1208.5h6.0M838.8 1208.5h11.8M856.2 1208.5h6.0M914.0 1208.5h6.0M798.3 1211.3h6.0M769.4 1214.0h11.8M705.8 1216.8h6.0M746.3 1216.8h6.0M682.6 1219.6h6.0M665.3 1222.3h11.8M694.2 1222.3h6.0M734.7 1222.3h6.0M821.4 1222.3h6.0M619.0 1225.1h6.0M624.8 1227.8h6.0M260.4 1230.6h6.0M549.6 1230.6h6.0M590.1 1230.6h6.0M358.7 1233.3h6.0M538.0 1233.3h6.0M561.2 1233.3h6.0M740.5 1233.3h6.0M1084.2 1233.3h8.5M283.5 1236.1h11.8M300.9 1236.1h6.0M312.5 1236.1h11.8M370.3 1236.1h6.0M422.4 1236.1h11.8M445.5 1236.1h6.0M480.2 1236.1h6.0M503.3 1236.1h11.8M971.8 1236.1h6.0M283.5 1238.9h6.0M300.9 1238.9h6.0M405.0 1238.9h11.8M491.8 1238.9h6.0M665.3 1238.9h6.0M538.0 1241.6h11.8M688.4 1241.6h6.0M734.7 1241.6h6.0M821.4 1241.6h6.0M902.4 1241.6h6.0M931.3 1241.6h6.0M925.6 1244.4h11.8M370.3 1247.1h6.0M526.5 1247.1h6.0M624.8 1247.1h6.0M798.3 1247.1h6.0M833.0 1247.1h6.0M977.6 1247.1h6.0M306.7 1249.9h6.0M433.9 1249.9h6.0M578.5 1249.9h6.0M792.5 1249.9h6.0M815.7 1249.9h11.8M873.5 1249.9h6.0M890.9 1249.9h6.0M902.4 1249.9h11.8M954.5 1249.9h6.0M341.4 1252.6h6.0M549.6 1252.6h6.0M809.9 1252.6h6.0M833.0 1252.6h6.0M850.4 1252.6h6.0M908.2 1252.6h6.0M983.4 1252.6h6.0M266.2 1255.4h6.0M295.1 1255.4h6.0M341.4 1255.4h6.0M422.4 1255.4h6.0M526.5 1255.4h6.0M555.4 1255.4h6.0M578.5 1255.4h11.8M827.2 1255.4h6.0M890.9 1255.4h6.0M260.4 1258.2h6.0M387.6 1258.2h11.8M433.9 1258.2h17.6M457.1 1258.2h6.0M468.6 1258.2h11.8M549.6 1258.2h6.0M572.7 1258.2h6.0M613.2 1258.2h6.0M624.8 1258.2h6.0M277.8 1260.9h6.0M341.4 1260.9h6.0M358.7 1260.9h6.0M399.2 1260.9h6.0M433.9 1260.9h6.0M480.2 1260.9h6.0M491.8 1260.9h6.0M532.2 1260.9h6.0M572.7 1260.9h6.0M642.1 1260.9h6.0M705.8 1260.9h6.0M746.3 1260.9h6.0M283.5 1263.7h6.0M433.9 1263.7h6.0M468.6 1263.7h6.0M480.2 1263.7h6.0M514.9 1263.7h6.0M601.7 1263.7h6.0M624.8 1263.7h11.8M642.1 1263.7h11.8M665.3 1263.7h6.0M324.0 1266.4h6.0M503.3 1266.4h6.0M630.6 1266.4h6.0M653.7 1266.4h6.0M665.3 1266.4h6.0M711.6 1266.4h6.0M723.1 1266.4h6.0M740.5 1266.4h6.0M486.0 1269.2h6.0M549.6 1269.2h6.0M642.1 1269.2h6.0M728.9 1269.2h6.0M387.6 1272.0h6.0M486.0 1272.0h6.0M526.5 1272.0h6.0M665.3 1272.0h6.0M676.8 1272.0h6.0M688.4 1272.0h11.8M705.8 1272.0h6.0M781.0 1272.0h6.0M561.2 1274.7h6.0M595.9 1274.7h6.0M619.0 1274.7h11.8M671.1 1274.7h6.0M370.3 1277.5h6.0M260.4 1280.2h6.0M381.9 1280.2h6.0M416.6 1280.2h6.0M497.5 1280.2h6.0M642.1 1280.2h6.0M659.5 1280.2h6.0M688.4 1280.2h6.0M364.5 1283.0h6.0M387.6 1283.0h6.0M439.7 1283.0h6.0M491.8 1283.0h6.0M555.4 1283.0h6.0M601.7 1283.0h6.0M619.0 1283.0h6.0M728.9 1283.0h6.0M272.0 1285.7h6.0M306.7 1285.7h6.0M329.8 1285.7h6.0M376.1 1285.7h6.0M451.3 1285.7h6.0M549.6 1285.7h6.0M584.3 1285.7h6.0M601.7 1285.7h6.0M636.4 1285.7h6.0M653.7 1285.7h11.8M266.2 1288.5h6.0M277.8 1288.5h6.0M352.9 1288.5h35.0M410.8 1288.5h6.0M422.4 1288.5h6.0M433.9 1288.5h11.8M532.2 1288.5h11.8M561.2 1288.5h6.0M572.7 1288.5h6.0M584.3 1288.5h6.0M671.1 1288.5h6.0M266.2 1291.3h6.0M277.8 1291.3h6.0M347.2 1291.3h6.0M370.3 1291.3h6.0M381.9 1291.3h6.0M393.4 1291.3h6.0M405.0 1291.3h6.0M433.9 1291.3h6.0M468.6 1291.3h6.0M555.4 1291.3h6.0M572.7 1291.3h6.0M364.5 1294.0h6.0M433.9 1294.0h6.0M457.1 1294.0h11.8M711.6 1294.0h6.0M1080.2 1294.0h4.2M347.2 1296.8h6.0M393.4 1296.8h6.0M509.1 1296.8h6.0M538.0 1296.8h6.0M561.2 1296.8h6.0M607.4 1296.8h6.0M671.1 1296.8h6.0M260.4 1299.5h6.0M491.8 1299.5h6.0M647.9 1299.5h6.0M671.1 1299.5h6.0M682.6 1299.5h6.0M694.2 1299.5h11.8M723.1 1299.5h6.0M746.3 1299.5h11.8M844.6 1299.5h6.0M491.8 1302.3h6.0M711.6 1302.3h6.0M775.2 1302.3h6.0M786.7 1302.3h6.0M931.3 1302.3h6.0M705.8 1305.1h6.0M723.1 1305.1h6.0M746.3 1305.1h6.0M671.1 1307.8h6.0M682.6 1307.8h11.8M711.6 1307.8h6.0M734.7 1307.8h6.0M486.0 1313.3h6.0M497.5 1313.3h6.0M642.1 1313.3h6.0M671.1 1313.3h6.0M740.5 1313.3h6.0M948.7 1313.3h6.0M497.5 1316.1h6.0M659.5 1316.1h11.8M567.0 1321.6h6.0M619.0 1321.6h6.0M659.5 1321.6h6.0M347.2 1324.4h6.0M416.6 1324.4h11.8M561.2 1324.4h17.6M607.4 1324.4h6.0M676.8 1324.4h6.0M896.6 1324.4h6.0M295.1 1327.1h17.6M335.6 1327.1h6.0M364.5 1327.1h6.0M381.9 1327.1h6.0M405.0 1327.1h6.0M503.3 1327.1h6.0M595.9 1327.1h6.0M838.8 1329.9h6.0M295.1 1332.6h6.0M538.0 1332.6h6.0M584.3 1332.6h6.0M410.8 1335.4h6.0M433.9 1335.4h6.0M451.3 1338.1h6.0M636.4 1338.1h6.0M815.7 1343.7h6.0M428.1 1346.4h6.0M711.6 1346.4h6.0M619.0 1349.2h6.0M433.9 1351.9h6.0M931.3 1351.9h6.0M503.3 1354.7h6.0M624.8 1354.7h6.0M439.7 1357.5h6.0M642.1 1357.5h6.0M520.7 1360.2h6.0M474.4 1363.0h6.0M549.6 1363.0h6.0M728.9 1363.0h6.0M896.6 1363.0h6.0M619.0 1365.7h6.0M647.9 1368.5h6.0M561.2 1371.2h6.0M572.7 1371.2h6.0M734.7 1371.2h6.0M433.9 1374.0h6.0"/>
<path stroke="#862dff" d="M520.7 1106.5h6.0M520.7 1109.2h6.0M324.0 1112.0h6.0M549.6 1112.0h6.0M393.4 1114.7h6.0M433.9 1114.7h11.8M520.7 1114.7h6.0M555.4 1114.7h6.0M295.1 1117.5h6.0M329.8 1117.5h6.0M347.2 1117.5h6.0M358.7 1117.5h6.0M387.6 1117.5h6.0M405.0 1117.5h11.8M468.6 1117.5h6.0M503.3 1117.5h6.0M295.1 1120.3h6.0M329.8 1120.3h6.0M364.5 1120.3h6.0M376.1 1120.3h6.0M416.6 1120.3h17.6M445.5 1120.3h6.0M474.4 1120.3h6.0M509.1 1120.3h6.0M538.0 1120.3h6.0M561.2 1120.3h6.0M572.7 1120.3h11.8M601.7 1120.3h6.0M647.9 1120.3h6.0M272.0 1123.0h6.0M289.3 1123.0h6.0M335.6 1123.0h6.0M352.9 1123.0h6.0M364.5 1123.0h6.0M399.2 1123.0h6.0M410.8 1123.0h11.8M433.9 1123.0h11.8M457.1 1123.0h6.0M480.2 1123.0h6.0M514.9 1123.0h6.0M555.4 1123.0h6.0M584.3 1123.0h17.6M277.8 1125.8h6.0M300.9 1125.8h6.0M341.4 1125.8h6.0M474.4 1125.8h6.0M526.5 1125.8h11.8M595.9 1125.8h6.0M636.4 1125.8h6.0M295.1 1128.5h6.0M306.7 1128.5h6.0M422.4 1128.5h6.0M480.2 1128.5h6.0M572.7 1128.5h11.8M590.1 1128.5h6.0M642.1 1128.5h6.0M306.7 1131.3h6.0M364.5 1131.3h6.0M532.2 1131.3h6.0M595.9 1131.3h29.2M636.4 1131.3h6.0M266.2 1134.1h6.0M306.7 1134.1h6.0M335.6 1134.1h6.0M584.3 1134.1h6.0M636.4 1134.1h6.0M653.7 1134.1h6.0M676.8 1134.1h6.0M700.0 1134.1h6.0M491.8 1136.8h6.0M584.3 1136.8h6.0M671.1 1136.8h6.0M705.8 1136.8h6.0M260.4 1139.6h6.0M376.1 1139.6h6.0M619.0 1139.6h6.0M636.4 1139.6h11.8M659.5 1139.6h6.0M752.0 1139.6h6.0M491.8 1142.3h11.8M659.5 1142.3h6.0M723.1 1142.3h6.0M497.5 1145.1h6.0M653.7 1145.1h6.0M671.1 1145.1h6.0M728.9 1145.1h6.0M775.2 1145.1h6.0M792.5 1145.1h6.0M619.0 1147.8h6.0M809.9 1147.8h6.0M723.1 1150.6h6.0M734.7 1150.6h6.0M260.4 1153.4h6.0M491.8 1153.4h11.8M676.8 1153.4h6.0M688.4 1153.4h6.0M769.4 1153.4h6.0M856.2 1153.4h6.0M1084.2 1153.4h8.5M491.8 1156.1h11.8M630.6 1156.1h6.0M688.4 1156.1h11.8M728.9 1156.1h6.0M746.3 1156.1h6.0M792.5 1156.1h6.0M809.9 1156.1h6.0M260.4 1158.9h6.0M688.4 1158.9h6.0M763.6 1158.9h6.0M798.3 1158.9h6.0M647.9 1161.6h6.0M676.8 1161.6h6.0M694.2 1161.6h6.0M734.7 1161.6h11.8M809.9 1161.6h6.0M856.2 1161.6h6.0M694.2 1164.4h11.8M711.6 1164.4h6.0M723.1 1164.4h6.0M746.3 1164.4h11.8M804.1 1164.4h6.0M1075.9 1164.4h4.5M260.4 1167.2h6.0M676.8 1167.2h6.0M700.0 1167.2h11.8M734.7 1167.2h6.0M757.8 1167.2h6.0M792.5 1167.2h6.0M815.7 1167.2h6.0M827.2 1167.2h11.8M1075.0 1167.2h5.5M260.4 1169.9h6.0M752.0 1169.9h6.0M815.7 1169.9h6.0M833.0 1169.9h6.0M850.4 1169.9h17.6M885.1 1169.9h6.0M919.8 1169.9h6.0M861.9 1172.7h6.0M890.9 1172.7h6.0M1070.2 1172.7h6.0M497.5 1175.4h6.0M890.9 1175.4h11.8M925.6 1175.4h6.0M896.6 1178.2h6.0M995.0 1178.2h6.0M1070.2 1178.2h6.0M867.7 1180.9h11.8M966.0 1180.9h6.0M1006.5 1180.9h6.0M833.0 1183.7h6.0M925.6 1183.7h11.8M960.3 1183.7h6.0M1075.9 1183.7h-0.7M879.3 1186.5h6.0M890.9 1186.5h6.0M1075.9 1186.5h-0.7M885.1 1189.2h6.0M902.4 1189.2h6.0M919.8 1189.2h6.0M931.3 1189.2h6.0M989.2 1189.2h6.0M1000.8 1189.2h6.0M902.4 1192.0h6.0M1075.0 1192.0h5.5M861.9 1194.7h6.0M908.2 1194.7h6.0M919.8 1194.7h6.0M931.3 1194.7h6.0M1084.2 1194.7h8.5M925.6 1197.5h6.0M1084.2 1197.5h8.5M867.7 1200.2h6.0M885.1 1200.2h6.0M1070.2 1200.2h6.0M833.0 1203.0h6.0M856.2 1203.0h11.8M873.5 1203.0h6.0M838.8 1205.8h6.0M804.1 1208.5h6.0M775.2 1211.3h6.0M786.7 1211.3h6.0M821.4 1211.3h6.0M723.1 1214.0h6.0M763.6 1214.0h6.0M688.4 1216.8h6.0M728.9 1216.8h6.0M676.8 1219.6h6.0M717.3 1219.6h6.0M642.1 1225.1h6.0M497.5 1227.8h6.0M607.4 1227.8h6.0M619.0 1227.8h6.0M491.8 1230.6h6.0M584.3 1230.6h6.0M601.7 1230.6h6.0M520.7 1233.3h6.0M266.2 1236.1h6.0M335.6 1236.1h6.0M358.7 1236.1h6.0M381.9 1236.1h6.0M405.0 1236.1h6.0M416.6 1236.1h6.0M451.3 1236.1h11.8M295.1 1238.9h6.0M289.3 1241.6h6.0M914.0 1241.6h6.0M948.7 1241.6h6.0M821.4 1247.1h11.8M804.1 1249.9h6.0M833.0 1249.9h6.0M844.6 1249.9h6.0M867.7 1249.9h6.0M514.9 1252.6h6.0M937.1 1252.6h6.0M277.8 1255.4h6.0M300.9 1255.4h6.0M312.5 1255.4h6.0M364.5 1255.4h6.0M474.4 1255.4h6.0M549.6 1255.4h6.0M838.8 1255.4h6.0M272.0 1258.2h6.0M312.5 1258.2h11.8M335.6 1258.2h6.0M352.9 1258.2h11.8M370.3 1258.2h6.0M399.2 1258.2h6.0M410.8 1258.2h17.6M462.8 1258.2h6.0M538.0 1258.2h6.0M619.0 1258.2h6.0M636.4 1258.2h6.0M283.5 1260.9h6.0M405.0 1260.9h6.0M428.1 1260.9h6.0M439.7 1260.9h11.8M462.8 1260.9h11.8M584.3 1260.9h11.8M601.7 1260.9h6.0M624.8 1260.9h11.8M647.9 1260.9h6.0M688.4 1260.9h6.0M821.4 1260.9h6.0M272.0 1263.7h6.0M295.1 1263.7h11.8M381.9 1263.7h11.8M428.1 1263.7h6.0M439.7 1263.7h6.0M509.1 1263.7h6.0M526.5 1263.7h6.0M590.1 1263.7h6.0M619.0 1263.7h6.0M272.0 1266.4h6.0M422.4 1266.4h6.0M445.5 1266.4h6.0M572.7 1266.4h6.0M601.7 1266.4h6.0M642.1 1266.4h6.0M671.1 1266.4h11.8M260.4 1269.2h6.0M283.5 1269.2h6.0M312.5 1269.2h6.0M335.6 1269.2h6.0M358.7 1269.2h6.0M370.3 1269.2h6.0M387.6 1269.2h6.0M578.5 1269.2h6.0M636.4 1269.2h6.0M665.3 1269.2h11.8M688.4 1269.2h11.8M266.2 1272.0h6.0M341.4 1272.0h6.0M364.5 1272.0h6.0M468.6 1272.0h6.0M491.8 1272.0h6.0M642.1 1272.0h6.0M653.7 1272.0h6.0M700.0 1272.0h6.0M260.4 1274.7h6.0M272.0 1274.7h6.0M474.4 1274.7h6.0M526.5 1274.7h11.8M590.1 1274.7h6.0M601.7 1274.7h17.6M647.9 1274.7h17.6M688.4 1274.7h11.8M324.0 1277.5h6.0M341.4 1277.5h6.0M358.7 1277.5h6.0M376.1 1277.5h6.0M399.2 1277.5h6.0M520.7 1277.5h6.0M567.0 1277.5h6.0M607.4 1277.5h17.6M636.4 1277.5h11.8M659.5 1277.5h6.0M700.0 1277.5h6.0M266.2 1280.2h6.0M283.5 1280.2h11.8M410.8 1280.2h6.0M572.7 1280.2h17.6M607.4 1280.2h6.0M665.3 1280.2h6.0M740.5 1280.2h6.0M266.2 1283.0h6.0M283.5 1283.0h6.0M341.4 1283.0h6.0M428.1 1283.0h6.0M451.3 1283.0h6.0M514.9 1283.0h6.0M543.8 1283.0h6.0M584.3 1283.0h6.0M607.4 1283.0h11.8M630.6 1283.0h6.0M647.9 1283.0h11.8M665.3 1283.0h6.0M260.4 1285.7h6.0M277.8 1285.7h11.8M324.0 1285.7h6.0M352.9 1285.7h6.0M364.5 1285.7h6.0M405.0 1285.7h6.0M439.7 1285.7h11.8M520.7 1285.7h6.0M561.2 1285.7h6.0M572.7 1285.7h11.8M595.9 1285.7h6.0M607.4 1285.7h11.8M312.5 1288.5h6.0M387.6 1288.5h11.8M451.3 1288.5h6.0M462.8 1288.5h11.8M520.7 1288.5h11.8M549.6 1288.5h6.0M567.0 1288.5h6.0M306.7 1291.3h6.0M329.8 1291.3h6.0M358.7 1291.3h6.0M439.7 1291.3h6.0M503.3 1291.3h6.0M272.0 1294.0h6.0M416.6 1294.0h6.0M439.7 1294.0h6.0M509.1 1294.0h6.0M538.0 1294.0h6.0M567.0 1294.0h6.0M700.0 1294.0h6.0M1084.2 1294.0h8.5M295.1 1296.8h6.0M306.7 1296.8h11.8M329.8 1296.8h6.0M364.5 1296.8h6.0M376.1 1296.8h11.8M405.0 1296.8h6.0M416.6 1296.8h6.0M433.9 1296.8h6.0M462.8 1296.8h6.0M520.7 1296.8h6.0M555.4 1296.8h6.0M572.7 1296.8h17.6M601.7 1296.8h6.0M636.4 1296.8h6.0M665.3 1296.8h6.0M676.8 1296.8h6.0M740.5 1296.8h6.0M613.2 1299.5h6.0M665.3 1299.5h6.0M624.8 1302.3h6.0M676.8 1302.3h6.0M688.4 1302.3h6.0M705.8 1302.3h6.0M717.3 1302.3h6.0M740.5 1302.3h6.0M671.1 1305.1h11.8M665.3 1307.8h6.0M763.6 1307.8h6.0M636.4 1310.6h6.0M659.5 1310.6h6.0M671.1 1310.6h11.8M705.8 1310.6h11.8M688.4 1313.3h6.0M624.8 1316.1h6.0M647.9 1316.1h6.0M491.8 1318.8h11.8M578.5 1321.6h6.0M260.4 1324.4h6.0M393.4 1324.4h6.0M433.9 1324.4h11.8M509.1 1324.4h6.0M532.2 1324.4h6.0M387.6 1327.1h6.0M410.8 1327.1h6.0M428.1 1327.1h11.8"/>
<path stroke="#7326ff" d="M1084.2 935.5h8.5M543.8 1109.2h6.0M381.9 1112.0h6.0M410.8 1112.0h6.0M555.4 1112.0h6.0M567.0 1112.0h6.0M324.0 1114.7h11.8M445.5 1114.7h6.0M457.1 1114.7h6.0M352.9 1117.5h6.0M393.4 1117.5h6.0M422.4 1117.5h6.0M439.7 1117.5h6.0M457.1 1117.5h6.0M572.7 1117.5h6.0M266.2 1120.3h6.0M514.9 1120.3h6.0M607.4 1120.3h6.0M266.2 1123.0h6.0M277.8 1123.0h6.0M341.4 1123.0h6.0M376.1 1123.0h11.8M405.0 1123.0h6.0M445.5 1123.0h11.8M509.1 1123.0h6.0M567.0 1123.0h11.8M647.9 1123.0h6.0M283.5 1125.8h6.0M312.5 1125.8h6.0M324.0 1125.8h6.0M352.9 1125.8h11.8M428.1 1125.8h6.0M451.3 1125.8h6.0M480.2 1125.8h6.0M520.7 1125.8h6.0M538.0 1125.8h11.8M572.7 1125.8h6.0M584.3 1125.8h6.0M289.3 1128.5h6.0M312.5 1128.5h23.4M358.7 1128.5h6.0M370.3 1128.5h6.0M381.9 1128.5h11.8M428.1 1128.5h11.8M457.1 1128.5h6.0M468.6 1128.5h6.0M491.8 1128.5h6.0M532.2 1128.5h6.0M555.4 1128.5h6.0M584.3 1128.5h6.0M607.4 1128.5h6.0M272.0 1131.3h6.0M289.3 1131.3h6.0M347.2 1131.3h11.8M376.1 1131.3h11.8M538.0 1131.3h6.0M659.5 1131.3h6.0M347.2 1134.1h6.0M370.3 1134.1h6.0M433.9 1134.1h6.0M457.1 1134.1h6.0M474.4 1134.1h6.0M526.5 1134.1h6.0M601.7 1134.1h6.0M734.7 1134.1h6.0M312.5 1136.8h6.0M352.9 1136.8h6.0M474.4 1136.8h6.0M590.1 1136.8h6.0M624.8 1136.8h6.0M653.7 1136.8h6.0M665.3 1136.8h6.0M439.7 1139.6h6.0M468.6 1139.6h11.8M613.2 1139.6h6.0M676.8 1139.6h11.8M740.5 1139.6h6.0M474.4 1142.3h6.0M653.7 1142.3h6.0M676.8 1142.3h6.0M688.4 1142.3h6.0M775.2 1142.3h6.0M358.7 1145.1h6.0M809.9 1145.1h6.0M497.5 1147.8h6.0M624.8 1147.8h6.0M636.4 1147.8h6.0M653.7 1147.8h6.0M590.1 1150.6h6.0M636.4 1150.6h6.0M647.9 1150.6h6.0M671.1 1150.6h6.0M694.2 1150.6h6.0M705.8 1150.6h6.0M624.8 1153.4h6.0M636.4 1153.4h6.0M647.9 1153.4h6.0M694.2 1153.4h6.0M705.8 1153.4h6.0M734.7 1153.4h6.0M781.0 1153.4h6.0M792.5 1153.4h11.8M1080.2 1153.4h4.2M665.3 1156.1h6.0M676.8 1156.1h11.8M723.1 1156.1h6.0M1080.2 1156.1h4.2M630.6 1158.9h6.0M653.7 1158.9h6.0M671.1 1158.9h11.8M705.8 1158.9h17.6M1080.2 1158.9h4.2M497.5 1161.6h6.0M619.0 1161.6h6.0M653.7 1161.6h6.0M711.6 1161.6h6.0M763.6 1161.6h6.0M781.0 1161.6h6.0M1075.0 1161.6h9.5M665.3 1164.4h6.0M763.6 1164.4h17.6M786.7 1164.4h11.8M815.7 1164.4h6.0M827.2 1164.4h11.8M879.3 1164.4h6.0M653.7 1167.2h6.0M682.6 1167.2h6.0M746.3 1167.2h6.0M769.4 1167.2h11.8M838.8 1167.2h6.0M856.2 1167.2h6.0M497.5 1169.9h6.0M711.6 1169.9h6.0M763.6 1169.9h6.0M486.0 1172.7h6.0M700.0 1172.7h6.0M838.8 1172.7h17.6M885.1 1172.7h6.0M486.0 1175.4h11.8M711.6 1175.4h6.0M861.9 1175.4h6.0M902.4 1175.4h6.0M260.4 1178.2h6.0M844.6 1178.2h6.0M873.5 1178.2h6.0M931.3 1178.2h6.0M1075.9 1178.2h-0.7M861.9 1180.9h6.0M890.9 1180.9h6.0M925.6 1180.9h6.0M1075.9 1180.9h-0.7M838.8 1183.7h6.0M867.7 1186.5h6.0M885.1 1186.5h6.0M908.2 1186.5h6.0M1075.0 1186.5h5.5M1075.0 1189.2h5.5M856.2 1192.0h6.0M873.5 1192.0h6.0M896.6 1192.0h6.0M914.0 1192.0h6.0M873.5 1194.7h17.6M861.9 1197.5h6.0M879.3 1197.5h6.0M931.3 1197.5h6.0M844.6 1200.2h6.0M861.9 1200.2h6.0M873.5 1200.2h11.8M838.8 1203.0h6.0M850.4 1203.0h6.0M833.0 1205.8h6.0M850.4 1205.8h11.8M815.7 1208.5h6.0M781.0 1211.3h6.0M804.1 1211.3h6.0M815.7 1211.3h6.0M752.0 1214.0h11.8M781.0 1214.0h6.0M809.9 1214.0h6.0M700.0 1216.8h6.0M711.6 1216.8h6.0M665.3 1219.6h11.8M688.4 1219.6h6.0M642.1 1222.3h11.8M486.0 1225.1h6.0M624.8 1225.1h6.0M584.3 1227.8h23.4M497.5 1230.6h6.0M567.0 1230.6h6.0M578.5 1230.6h6.0M289.3 1233.3h6.0M364.5 1233.3h6.0M416.6 1233.3h17.6M451.3 1233.3h11.8M503.3 1233.3h17.6M526.5 1233.3h6.0M543.8 1233.3h6.0M272.0 1236.1h6.0M295.1 1236.1h6.0M324.0 1236.1h6.0M393.4 1236.1h6.0M439.7 1236.1h6.0M462.8 1236.1h6.0M318.2 1238.9h6.0M861.9 1244.4h6.0M902.4 1244.4h6.0M815.7 1247.1h6.0M861.9 1247.1h6.0M914.0 1247.1h6.0M937.1 1249.9h6.0M283.5 1255.4h6.0M266.2 1258.2h6.0M277.8 1258.2h11.8M295.1 1258.2h6.0M306.7 1258.2h6.0M341.4 1258.2h11.8M364.5 1258.2h6.0M405.0 1258.2h6.0M480.2 1258.2h6.0M503.3 1258.2h6.0M578.5 1258.2h6.0M590.1 1258.2h11.8M260.4 1260.9h6.0M295.1 1260.9h6.0M352.9 1260.9h6.0M376.1 1260.9h6.0M416.6 1260.9h6.0M457.1 1260.9h6.0M497.5 1260.9h6.0M514.9 1260.9h6.0M555.4 1260.9h6.0M595.9 1260.9h6.0M613.2 1260.9h6.0M318.2 1263.7h11.8M393.4 1263.7h6.0M416.6 1263.7h6.0M462.8 1263.7h6.0M549.6 1263.7h11.8M607.4 1263.7h6.0M671.1 1263.7h6.0M266.2 1266.4h6.0M329.8 1266.4h6.0M347.2 1266.4h6.0M370.3 1266.4h6.0M387.6 1266.4h6.0M532.2 1266.4h6.0M543.8 1266.4h17.6M590.1 1266.4h6.0M613.2 1266.4h11.8M636.4 1266.4h6.0M659.5 1266.4h6.0M734.7 1266.4h6.0M341.4 1269.2h6.0M364.5 1269.2h6.0M393.4 1269.2h11.8M422.4 1269.2h11.8M439.7 1269.2h6.0M451.3 1269.2h6.0M462.8 1269.2h6.0M509.1 1269.2h11.8M532.2 1269.2h6.0M595.9 1269.2h6.0M607.4 1269.2h11.8M630.6 1269.2h6.0M653.7 1269.2h6.0M283.5 1272.0h6.0M300.9 1272.0h6.0M324.0 1272.0h6.0M370.3 1272.0h11.8M439.7 1272.0h6.0M457.1 1272.0h6.0M480.2 1272.0h6.0M561.2 1272.0h6.0M590.1 1272.0h6.0M607.4 1272.0h6.0M624.8 1272.0h6.0M636.4 1272.0h6.0M647.9 1272.0h6.0M659.5 1272.0h6.0M671.1 1272.0h6.0M289.3 1274.7h6.0M341.4 1274.7h6.0M376.1 1274.7h6.0M393.4 1274.7h17.6M416.6 1274.7h6.0M439.7 1274.7h6.0M514.9 1274.7h11.8M567.0 1274.7h6.0M295.1 1277.5h6.0M335.6 1277.5h6.0M387.6 1277.5h6.0M410.8 1277.5h6.0M468.6 1277.5h11.8M509.1 1277.5h6.0M538.0 1277.5h6.0M549.6 1277.5h6.0M584.3 1277.5h23.4M630.6 1277.5h6.0M705.8 1277.5h11.8M318.2 1280.2h6.0M335.6 1280.2h6.0M358.7 1280.2h6.0M370.3 1280.2h6.0M433.9 1280.2h11.8M451.3 1280.2h6.0M468.6 1280.2h11.8M549.6 1280.2h6.0M561.2 1280.2h6.0M590.1 1280.2h6.0M601.7 1280.2h6.0M613.2 1280.2h6.0M630.6 1280.2h11.8M306.7 1283.0h6.0M370.3 1283.0h17.6M416.6 1283.0h6.0M445.5 1283.0h6.0M457.1 1283.0h11.8M509.1 1283.0h6.0M526.5 1283.0h6.0M538.0 1283.0h6.0M590.1 1283.0h11.8M659.5 1283.0h6.0M300.9 1285.7h6.0M335.6 1285.7h6.0M393.4 1285.7h11.8M416.6 1285.7h11.8M457.1 1285.7h6.0M480.2 1285.7h6.0M514.9 1285.7h6.0M567.0 1285.7h6.0M665.3 1285.7h6.0M1084.2 1285.7h8.5M272.0 1288.5h6.0M283.5 1288.5h6.0M405.0 1288.5h6.0M272.0 1291.3h6.0M289.3 1291.3h6.0M376.1 1291.3h6.0M578.5 1291.3h6.0M387.6 1294.0h6.0M399.2 1294.0h6.0M688.4 1294.0h6.0M283.5 1296.8h11.8M318.2 1296.8h6.0M335.6 1296.8h6.0M352.9 1296.8h6.0M439.7 1296.8h6.0M474.4 1296.8h6.0M590.1 1296.8h6.0M619.0 1296.8h6.0M682.6 1296.8h6.0M266.2 1299.5h6.0M295.1 1299.5h6.0M306.7 1299.5h6.0M410.8 1299.5h6.0M497.5 1299.5h6.0M619.0 1299.5h6.0M630.6 1299.5h11.8M676.8 1299.5h6.0M734.7 1299.5h6.0M595.9 1302.3h6.0M613.2 1302.3h6.0M653.7 1302.3h6.0M682.6 1302.3h6.0M700.0 1302.3h6.0M619.0 1305.1h6.0M642.1 1305.1h6.0M665.3 1305.1h6.0M497.5 1307.8h6.0M659.5 1307.8h6.0M694.2 1307.8h6.0M705.8 1307.8h6.0M619.0 1310.6h6.0M682.6 1310.6h6.0M700.0 1310.6h6.0M491.8 1313.3h6.0M659.5 1313.3h6.0M642.1 1316.1h6.0M653.7 1316.1h6.0M601.7 1318.8h11.8M619.0 1318.8h6.0M555.4 1321.6h6.0M601.7 1321.6h6.0M306.7 1324.4h23.4M358.7 1324.4h6.0M468.6 1324.4h11.8M503.3 1324.4h6.0M520.7 1324.4h6.0M347.2 1327.1h6.0M474.4 1327.1h6.0"/>
<path stroke="#6020ff" d="M514.9 1112.0h6.0M399.2 1114.7h6.0M549.6 1117.5h6.0M306.7 1120.3h6.0M393.4 1120.3h6.0M503.3 1120.3h6.0M283.5 1123.0h6.0M329.8 1123.0h6.0M347.2 1123.0h6.0M387.6 1123.0h6.0M462.8 1123.0h6.0M503.3 1123.0h6.0M538.0 1123.0h6.0M561.2 1123.0h6.0M601.7 1123.0h6.0M272.0 1125.8h6.0M335.6 1125.8h6.0M376.1 1125.8h11.8M393.4 1125.8h6.0M433.9 1125.8h6.0M445.5 1125.8h6.0M462.8 1125.8h11.8M549.6 1125.8h6.0M578.5 1125.8h6.0M613.2 1125.8h6.0M277.8 1128.5h11.8M300.9 1128.5h6.0M341.4 1128.5h6.0M364.5 1128.5h6.0M376.1 1128.5h6.0M399.2 1128.5h6.0M416.6 1128.5h6.0M439.7 1128.5h6.0M451.3 1128.5h6.0M474.4 1128.5h6.0M514.9 1128.5h6.0M526.5 1128.5h6.0M543.8 1128.5h6.0M630.6 1128.5h6.0M277.8 1131.3h11.8M312.5 1131.3h6.0M335.6 1131.3h6.0M358.7 1131.3h6.0M370.3 1131.3h6.0M422.4 1131.3h6.0M433.9 1131.3h11.8M451.3 1131.3h6.0M474.4 1131.3h11.8M509.1 1131.3h11.8M526.5 1131.3h6.0M549.6 1131.3h6.0M584.3 1131.3h11.8M300.9 1134.1h6.0M329.8 1134.1h6.0M358.7 1134.1h6.0M399.2 1134.1h6.0M416.6 1134.1h6.0M480.2 1134.1h6.0M509.1 1134.1h6.0M532.2 1134.1h11.8M624.8 1134.1h6.0M682.6 1134.1h6.0M266.2 1136.8h6.0M283.5 1136.8h6.0M306.7 1136.8h6.0M341.4 1136.8h6.0M416.6 1136.8h6.0M428.1 1136.8h6.0M439.7 1136.8h6.0M480.2 1136.8h6.0M514.9 1136.8h6.0M595.9 1136.8h6.0M613.2 1136.8h11.8M300.9 1139.6h6.0M584.3 1139.6h11.8M607.4 1139.6h6.0M630.6 1139.6h6.0M775.2 1139.6h6.0M613.2 1142.3h6.0M624.8 1142.3h6.0M665.3 1142.3h6.0M734.7 1142.3h11.8M619.0 1145.1h17.6M647.9 1145.1h6.0M642.1 1147.8h11.8M624.8 1150.6h11.8M642.1 1150.6h6.0M659.5 1150.6h6.0M619.0 1153.4h6.0M653.7 1153.4h6.0M659.5 1156.1h6.0M752.0 1156.1h6.0M491.8 1158.9h11.8M682.6 1158.9h6.0M781.0 1158.9h6.0M1084.2 1158.9h8.5M613.2 1161.6h6.0M624.8 1161.6h11.8M688.4 1161.6h6.0M844.6 1161.6h6.0M653.7 1164.4h6.0M676.8 1164.4h6.0M705.8 1164.4h6.0M734.7 1164.4h6.0M809.9 1164.4h6.0M491.8 1167.2h6.0M630.6 1167.2h6.0M665.3 1167.2h11.8M694.2 1167.2h6.0M711.6 1167.2h11.8M763.6 1167.2h6.0M798.3 1167.2h6.0M809.9 1167.2h6.0M850.4 1167.2h6.0M867.7 1167.2h6.0M491.8 1169.9h6.0M636.4 1169.9h6.0M665.3 1169.9h11.8M705.8 1169.9h6.0M723.1 1169.9h6.0M746.3 1169.9h6.0M781.0 1169.9h11.8M491.8 1172.7h6.0M821.4 1172.7h6.0M873.5 1172.7h6.0M827.2 1175.4h6.0M856.2 1178.2h6.0M879.3 1178.2h6.0M890.9 1178.2h6.0M948.7 1178.2h6.0M486.0 1180.9h6.0M833.0 1180.9h6.0M942.9 1180.9h6.0M850.4 1183.7h6.0M867.7 1183.7h6.0M879.3 1183.7h6.0M873.5 1186.5h6.0M960.3 1186.5h6.0M486.0 1189.2h6.0M873.5 1189.2h6.0M867.7 1192.0h6.0M890.9 1192.0h6.0M827.2 1194.7h6.0M867.7 1194.7h6.0M1080.2 1194.7h4.2M821.4 1197.5h6.0M844.6 1197.5h6.0M995.0 1197.5h6.0M838.8 1200.2h6.0M850.4 1200.2h6.0M844.6 1203.0h6.0M827.2 1205.8h6.0M809.9 1208.5h6.0M792.5 1211.3h6.0M809.9 1211.3h6.0M717.3 1214.0h6.0M746.3 1214.0h6.0M682.6 1216.8h6.0M717.3 1216.8h11.8M711.6 1219.6h6.0M659.5 1222.3h6.0M607.4 1225.1h6.0M647.9 1225.1h6.0M272.0 1233.3h6.0M295.1 1233.3h6.0M306.7 1233.3h17.6M393.4 1233.3h6.0M462.8 1233.3h17.6M329.8 1236.1h6.0M387.6 1236.1h6.0M838.8 1249.9h6.0M821.4 1252.6h6.0M300.9 1258.2h6.0M514.9 1258.2h6.0M567.0 1258.2h6.0M601.7 1258.2h11.8M272.0 1260.9h6.0M289.3 1260.9h6.0M306.7 1260.9h11.8M329.8 1260.9h6.0M410.8 1260.9h6.0M422.4 1260.9h6.0M503.3 1260.9h6.0M538.0 1260.9h6.0M260.4 1263.7h11.8M289.3 1263.7h6.0M312.5 1263.7h6.0M329.8 1263.7h6.0M358.7 1263.7h6.0M370.3 1263.7h6.0M457.1 1263.7h6.0M503.3 1263.7h6.0M578.5 1263.7h11.8M260.4 1266.4h6.0M277.8 1266.4h6.0M306.7 1266.4h6.0M318.2 1266.4h6.0M341.4 1266.4h6.0M358.7 1266.4h11.8M393.4 1266.4h11.8M410.8 1266.4h11.8M433.9 1266.4h6.0M457.1 1266.4h11.8M474.4 1266.4h11.8M526.5 1266.4h6.0M607.4 1266.4h6.0M700.0 1266.4h6.0M272.0 1269.2h11.8M289.3 1269.2h11.8M324.0 1269.2h6.0M352.9 1269.2h6.0M376.1 1269.2h6.0M405.0 1269.2h6.0M416.6 1269.2h6.0M457.1 1269.2h6.0M526.5 1269.2h6.0M561.2 1269.2h6.0M572.7 1269.2h6.0M601.7 1269.2h6.0M312.5 1272.0h11.8M329.8 1272.0h6.0M358.7 1272.0h6.0M393.4 1272.0h11.8M416.6 1272.0h11.8M503.3 1272.0h6.0M514.9 1272.0h11.8M532.2 1272.0h11.8M549.6 1272.0h6.0M567.0 1272.0h17.6M595.9 1272.0h6.0M619.0 1272.0h6.0M300.9 1274.7h11.8M318.2 1274.7h6.0M335.6 1274.7h6.0M364.5 1274.7h11.8M381.9 1274.7h6.0M422.4 1274.7h6.0M433.9 1274.7h6.0M445.5 1274.7h6.0M468.6 1274.7h6.0M549.6 1274.7h6.0M578.5 1274.7h6.0M642.1 1274.7h6.0M665.3 1274.7h6.0M260.4 1277.5h6.0M283.5 1277.5h6.0M300.9 1277.5h17.6M329.8 1277.5h6.0M352.9 1277.5h6.0M364.5 1277.5h6.0M457.1 1277.5h6.0M514.9 1277.5h6.0M526.5 1277.5h6.0M555.4 1277.5h6.0M572.7 1277.5h11.8M647.9 1277.5h11.8M682.6 1277.5h6.0M272.0 1280.2h6.0M306.7 1280.2h6.0M329.8 1280.2h6.0M341.4 1280.2h6.0M352.9 1280.2h6.0M364.5 1280.2h6.0M387.6 1280.2h11.8M405.0 1280.2h6.0M422.4 1280.2h6.0M445.5 1280.2h6.0M457.1 1280.2h11.8M480.2 1280.2h6.0M503.3 1280.2h6.0M520.7 1280.2h11.8M595.9 1280.2h6.0M272.0 1283.0h6.0M289.3 1283.0h17.6M312.5 1283.0h11.8M347.2 1283.0h6.0M358.7 1283.0h6.0M393.4 1283.0h11.8M410.8 1283.0h6.0M422.4 1283.0h6.0M468.6 1283.0h6.0M561.2 1283.0h17.6M266.2 1285.7h6.0M312.5 1285.7h6.0M347.2 1285.7h6.0M381.9 1285.7h6.0M428.1 1285.7h6.0M474.4 1285.7h6.0M526.5 1285.7h6.0M543.8 1285.7h6.0M318.2 1288.5h6.0M503.3 1288.5h6.0M352.9 1291.3h6.0M457.1 1291.3h6.0M422.4 1296.8h6.0M451.3 1296.8h6.0M468.6 1296.8h6.0M480.2 1296.8h6.0M526.5 1296.8h11.8M549.6 1296.8h6.0M595.9 1296.8h6.0M272.0 1299.5h6.0M283.5 1299.5h6.0M335.6 1299.5h11.8M352.9 1299.5h6.0M381.9 1299.5h6.0M445.5 1299.5h6.0M468.6 1299.5h6.0M538.0 1299.5h6.0M549.6 1299.5h6.0M567.0 1299.5h11.8M607.4 1299.5h6.0M642.1 1299.5h6.0M653.7 1299.5h6.0M705.8 1299.5h6.0M642.1 1302.3h11.8M659.5 1302.3h6.0M671.1 1302.3h6.0M734.7 1302.3h6.0M491.8 1305.1h11.8M647.9 1305.1h6.0M694.2 1305.1h11.8M613.2 1307.8h6.0M486.0 1310.6h6.0M624.8 1310.6h11.8M665.3 1310.6h6.0M688.4 1310.6h6.0M717.3 1310.6h6.0M624.8 1313.3h6.0M636.4 1313.3h6.0M653.7 1313.3h6.0M694.2 1313.3h6.0M613.2 1316.1h6.0M636.4 1316.1h6.0M578.5 1318.8h11.8M613.2 1318.8h6.0M341.4 1321.6h6.0M433.9 1321.6h6.0M509.1 1321.6h17.6M584.3 1321.6h6.0M329.8 1324.4h6.0M341.4 1324.4h6.0M370.3 1324.4h6.0M381.9 1324.4h6.0M445.5 1324.4h11.8M462.8 1324.4h6.0M526.5 1324.4h6.0M549.6 1324.4h6.0M1084.2 1335.4h8.5M1084.2 1338.1h8.5"/>
<path stroke="#4c19ff" d="M1084.2 847.2h8.5M1084.2 850.0h8.5M1084.2 938.2h8.5M457.1 1109.2h6.0M399.2 1112.0h6.0M572.7 1114.7h6.0M376.1 1117.5h6.0M381.9 1120.3h6.0M439.7 1120.3h6.0M462.8 1120.3h6.0M543.8 1120.3h6.0M468.6 1123.0h6.0M543.8 1123.0h11.8M289.3 1125.8h6.0M347.2 1125.8h6.0M405.0 1125.8h6.0M514.9 1125.8h6.0M555.4 1125.8h6.0M567.0 1125.8h6.0M272.0 1128.5h6.0M335.6 1128.5h6.0M352.9 1128.5h6.0M393.4 1128.5h6.0M462.8 1128.5h6.0M503.3 1128.5h11.8M538.0 1128.5h6.0M561.2 1128.5h6.0M300.9 1131.3h6.0M341.4 1131.3h6.0M387.6 1131.3h17.6M503.3 1131.3h6.0M561.2 1131.3h6.0M572.7 1131.3h6.0M272.0 1134.1h6.0M312.5 1134.1h6.0M352.9 1134.1h6.0M364.5 1134.1h6.0M376.1 1134.1h6.0M439.7 1134.1h6.0M468.6 1134.1h6.0M520.7 1134.1h6.0M295.1 1136.8h6.0M358.7 1136.8h6.0M370.3 1136.8h11.8M422.4 1136.8h6.0M468.6 1136.8h6.0M520.7 1136.8h6.0M561.2 1136.8h6.0M572.7 1136.8h6.0M636.4 1136.8h6.0M283.5 1139.6h6.0M358.7 1139.6h6.0M428.1 1139.6h11.8M595.9 1139.6h6.0M665.3 1139.6h6.0M601.7 1142.3h6.0M619.0 1142.3h6.0M630.6 1142.3h6.0M352.9 1145.1h6.0M590.1 1145.1h6.0M491.8 1147.8h6.0M601.7 1147.8h6.0M607.4 1150.6h11.8M653.7 1150.6h6.0M1080.2 1150.6h4.2M613.2 1153.4h6.0M642.1 1153.4h6.0M763.6 1153.4h6.0M624.8 1156.1h6.0M636.4 1156.1h23.4M804.1 1156.1h6.0M815.7 1156.1h6.0M619.0 1158.9h6.0M636.4 1158.9h6.0M665.3 1158.9h6.0M786.7 1158.9h6.0M636.4 1161.6h11.8M665.3 1161.6h6.0M1084.2 1161.6h8.5M659.5 1164.4h6.0M798.3 1164.4h6.0M856.2 1164.4h6.0M1084.2 1164.4h8.5M659.5 1167.2h6.0M723.1 1167.2h11.8M781.0 1167.2h6.0M821.4 1167.2h6.0M861.9 1167.2h6.0M1064.4 1167.2h6.0M1075.9 1167.2h-0.7M613.2 1169.9h6.0M659.5 1169.9h6.0M676.8 1169.9h6.0M717.3 1169.9h6.0M728.9 1169.9h11.8M821.4 1169.9h6.0M260.4 1172.7h6.0M497.5 1172.7h6.0M676.8 1172.7h6.0M705.8 1172.7h11.8M723.1 1172.7h11.8M740.5 1172.7h6.0M786.7 1172.7h6.0M815.7 1172.7h6.0M827.2 1172.7h6.0M260.4 1175.4h6.0M746.3 1175.4h6.0M833.0 1175.4h6.0M844.6 1175.4h11.8M873.5 1175.4h6.0M486.0 1178.2h6.0M821.4 1178.2h11.8M838.8 1180.9h6.0M879.3 1180.9h6.0M1075.0 1183.7h5.5M821.4 1186.5h6.0M856.2 1186.5h11.8M867.7 1189.2h6.0M879.3 1189.2h6.0M896.6 1189.2h6.0M1080.2 1189.2h4.2M838.8 1192.0h6.0M885.1 1192.0h6.0M1080.2 1192.0h4.2M844.6 1194.7h6.0M827.2 1197.5h6.0M838.8 1197.5h6.0M856.2 1197.5h6.0M873.5 1197.5h6.0M833.0 1200.2h6.0M856.2 1200.2h6.0M804.1 1203.0h6.0M815.7 1203.0h6.0M804.1 1205.8h6.0M815.7 1205.8h6.0M723.1 1211.3h6.0M757.8 1211.3h11.8M694.2 1214.0h6.0M740.5 1214.0h6.0M671.1 1216.8h6.0M260.4 1227.8h6.0M578.5 1227.8h6.0M532.2 1230.6h6.0M561.2 1230.6h6.0M572.7 1230.6h6.0M266.2 1233.3h6.0M277.8 1233.3h11.8M341.4 1233.3h11.8M410.8 1233.3h6.0M433.9 1233.3h17.6M480.2 1233.3h6.0M538.0 1255.4h6.0M428.1 1258.2h6.0M526.5 1258.2h6.0M300.9 1260.9h6.0M370.3 1260.9h6.0M451.3 1260.9h6.0M509.1 1260.9h6.0M526.5 1260.9h6.0M578.5 1260.9h6.0M335.6 1263.7h6.0M347.2 1263.7h11.8M364.5 1263.7h6.0M376.1 1263.7h6.0M532.2 1263.7h11.8M572.7 1263.7h6.0M300.9 1266.4h6.0M335.6 1266.4h6.0M381.9 1266.4h6.0M405.0 1266.4h6.0M428.1 1266.4h6.0M439.7 1266.4h6.0M451.3 1266.4h6.0M468.6 1266.4h6.0M509.1 1266.4h6.0M520.7 1266.4h6.0M538.0 1266.4h6.0M561.2 1266.4h6.0M578.5 1266.4h6.0M624.8 1266.4h6.0M300.9 1269.2h11.8M318.2 1269.2h6.0M381.9 1269.2h6.0M474.4 1269.2h11.8M520.7 1269.2h6.0M538.0 1269.2h11.8M584.3 1269.2h6.0M647.9 1269.2h6.0M272.0 1272.0h11.8M381.9 1272.0h6.0M428.1 1272.0h11.8M445.5 1272.0h6.0M509.1 1272.0h6.0M543.8 1272.0h6.0M266.2 1274.7h6.0M283.5 1274.7h6.0M312.5 1274.7h6.0M352.9 1274.7h6.0M387.6 1274.7h6.0M451.3 1274.7h6.0M480.2 1274.7h6.0M503.3 1274.7h6.0M555.4 1274.7h6.0M572.7 1274.7h6.0M272.0 1277.5h11.8M289.3 1277.5h6.0M347.2 1277.5h6.0M381.9 1277.5h6.0M393.4 1277.5h6.0M416.6 1277.5h11.8M439.7 1277.5h6.0M451.3 1277.5h6.0M462.8 1277.5h6.0M503.3 1277.5h6.0M561.2 1277.5h6.0M624.8 1277.5h6.0M277.8 1280.2h6.0M295.1 1280.2h6.0M376.1 1280.2h6.0M399.2 1280.2h6.0M428.1 1280.2h6.0M514.9 1280.2h6.0M538.0 1280.2h11.8M555.4 1280.2h6.0M260.4 1283.0h6.0M405.0 1283.0h6.0M433.9 1283.0h6.0M503.3 1283.0h6.0M520.7 1283.0h6.0M532.2 1283.0h6.0M549.6 1283.0h6.0M578.5 1283.0h6.0M358.7 1285.7h6.0M410.8 1285.7h6.0M532.2 1285.7h6.0M399.2 1288.5h6.0M543.8 1288.5h6.0M578.5 1288.5h6.0M451.3 1291.3h6.0M306.7 1294.0h6.0M393.4 1294.0h6.0M410.8 1294.0h6.0M410.8 1296.8h6.0M445.5 1296.8h6.0M300.9 1299.5h6.0M329.8 1299.5h6.0M347.2 1299.5h6.0M416.6 1299.5h6.0M462.8 1299.5h6.0M474.4 1299.5h6.0M503.3 1299.5h17.6M526.5 1299.5h11.8M555.4 1299.5h11.8M584.3 1299.5h17.6M509.1 1302.3h6.0M584.3 1302.3h6.0M601.7 1302.3h11.8M665.3 1302.3h6.0M694.2 1302.3h6.0M636.4 1305.1h6.0M653.7 1305.1h6.0M491.8 1307.8h6.0M642.1 1307.8h11.8M676.8 1307.8h6.0M491.8 1310.6h6.0M572.7 1313.3h6.0M607.4 1313.3h6.0M619.0 1313.3h6.0M630.6 1313.3h6.0M619.0 1316.1h6.0M630.6 1316.1h6.0M595.9 1318.8h6.0M260.4 1321.6h6.0M318.2 1321.6h6.0M480.2 1321.6h6.0M532.2 1321.6h17.6M561.2 1321.6h6.0M266.2 1324.4h23.4M300.9 1324.4h6.0M335.6 1324.4h6.0M352.9 1324.4h6.0M376.1 1324.4h6.0M405.0 1324.4h6.0M428.1 1324.4h6.0M457.1 1324.4h6.0M514.9 1324.4h6.0"/>
<path stroke="#3913ff" d="M410.8 1125.8h6.0M457.1 1125.8h6.0M509.1 1125.8h6.0M561.2 1125.8h6.0M405.0 1128.5h6.0M445.5 1128.5h6.0M549.6 1128.5h6.0M567.0 1128.5h6.0M266.2 1131.3h6.0M318.2 1131.3h17.6M405.0 1131.3h17.6M457.1 1131.3h17.6M520.7 1131.3h6.0M543.8 1131.3h6.0M555.4 1131.3h6.0M289.3 1134.1h6.0M318.2 1134.1h6.0M381.9 1134.1h11.8M405.0 1134.1h6.0M451.3 1134.1h6.0M462.8 1134.1h6.0M503.3 1134.1h6.0M514.9 1134.1h6.0M543.8 1134.1h35.0M272.0 1136.8h11.8M289.3 1136.8h6.0M300.9 1136.8h6.0M318.2 1136.8h11.8M335.6 1136.8h6.0M347.2 1136.8h6.0M381.9 1136.8h23.4M410.8 1136.8h6.0M445.5 1136.8h17.6M503.3 1136.8h11.8M526.5 1136.8h11.8M543.8 1136.8h6.0M578.5 1136.8h6.0M601.7 1136.8h6.0M266.2 1139.6h6.0M289.3 1139.6h11.8M312.5 1139.6h6.0M329.8 1139.6h17.6M352.9 1139.6h6.0M364.5 1139.6h11.8M399.2 1139.6h6.0M410.8 1139.6h17.6M445.5 1139.6h17.6M480.2 1139.6h6.0M503.3 1139.6h46.5M572.7 1139.6h6.0M266.2 1142.3h29.2M306.7 1142.3h17.6M335.6 1142.3h29.2M422.4 1142.3h6.0M439.7 1142.3h6.0M468.6 1142.3h6.0M480.2 1142.3h6.0M509.1 1142.3h6.0M538.0 1142.3h6.0M578.5 1142.3h17.6M607.4 1142.3h6.0M306.7 1145.1h6.0M335.6 1145.1h6.0M347.2 1145.1h6.0M399.2 1145.1h6.0M410.8 1145.1h11.8M526.5 1145.1h6.0M607.4 1145.1h11.8M358.7 1147.8h6.0M474.4 1147.8h11.8M590.1 1147.8h6.0M607.4 1147.8h6.0M630.6 1147.8h6.0M474.4 1150.6h6.0M526.5 1150.6h6.0M584.3 1150.6h6.0M601.7 1150.6h6.0M619.0 1150.6h6.0M526.5 1153.4h6.0M590.1 1153.4h6.0M601.7 1153.4h6.0M590.1 1156.1h6.0M601.7 1156.1h6.0M613.2 1156.1h11.8M1084.2 1156.1h8.5M480.2 1158.9h6.0M595.9 1158.9h17.6M642.1 1158.9h11.8M659.5 1158.9h6.0M601.7 1161.6h11.8M659.5 1161.6h6.0M491.8 1164.4h6.0M595.9 1164.4h11.8M613.2 1164.4h23.4M642.1 1164.4h6.0M1080.2 1164.4h4.2M601.7 1167.2h11.8M636.4 1167.2h11.8M740.5 1167.2h6.0M804.1 1167.2h6.0M1080.2 1167.2h4.2M607.4 1169.9h6.0M619.0 1169.9h6.0M630.6 1169.9h6.0M642.1 1169.9h17.6M682.6 1169.9h6.0M757.8 1169.9h6.0M792.5 1169.9h17.6M1075.9 1169.9h-0.7M1080.2 1169.9h4.2M636.4 1172.7h6.0M671.1 1172.7h6.0M682.6 1172.7h17.6M717.3 1172.7h6.0M734.7 1172.7h6.0M781.0 1172.7h6.0M792.5 1172.7h6.0M804.1 1172.7h6.0M833.0 1172.7h6.0M1075.0 1172.7h5.5M671.1 1175.4h6.0M682.6 1175.4h11.8M700.0 1175.4h6.0M728.9 1175.4h17.6M757.8 1175.4h11.8M786.7 1175.4h11.8M804.1 1175.4h17.6M879.3 1175.4h6.0M491.8 1178.2h6.0M711.6 1178.2h6.0M746.3 1178.2h6.0M786.7 1178.2h6.0M798.3 1178.2h11.8M833.0 1178.2h11.8M850.4 1178.2h6.0M861.9 1178.2h6.0M1075.0 1178.2h5.5M260.4 1180.9h6.0M711.6 1180.9h11.8M786.7 1180.9h6.0M821.4 1180.9h11.8M844.6 1180.9h17.6M486.0 1183.7h6.0M821.4 1183.7h11.8M844.6 1183.7h6.0M486.0 1186.5h6.0M792.5 1186.5h6.0M827.2 1186.5h29.2M1080.2 1186.5h4.2M827.2 1189.2h17.6M850.4 1189.2h6.0M861.9 1189.2h6.0M1084.2 1189.2h8.5M815.7 1192.0h6.0M833.0 1192.0h6.0M844.6 1192.0h11.8M861.9 1192.0h6.0M1084.2 1192.0h8.5M815.7 1194.7h6.0M833.0 1194.7h11.8M850.4 1194.7h11.8M833.0 1197.5h6.0M850.4 1197.5h6.0M815.7 1200.2h17.6M809.9 1203.0h6.0M821.4 1203.0h6.0M752.0 1205.8h6.0M769.4 1205.8h6.0M792.5 1205.8h6.0M809.9 1205.8h6.0M757.8 1208.5h11.8M775.2 1208.5h29.2M711.6 1211.3h11.8M728.9 1211.3h6.0M740.5 1211.3h17.6M688.4 1214.0h6.0M700.0 1214.0h6.0M728.9 1214.0h6.0M676.8 1216.8h6.0M694.2 1216.8h6.0M659.5 1219.6h6.0M694.2 1219.6h6.0M486.0 1222.3h6.0M619.0 1222.3h23.4M260.4 1225.1h6.0M584.3 1225.1h23.4M491.8 1227.8h6.0M567.0 1227.8h11.8M312.5 1230.6h6.0M468.6 1230.6h6.0M509.1 1230.6h6.0M520.7 1230.6h11.8M543.8 1230.6h6.0M324.0 1233.3h6.0M335.6 1233.3h6.0M352.9 1233.3h6.0M370.3 1233.3h6.0M381.9 1233.3h11.8M399.2 1233.3h6.0M555.4 1233.3h6.0M555.4 1258.2h6.0M549.6 1260.9h6.0M399.2 1263.7h11.8M445.5 1263.7h6.0M474.4 1263.7h6.0M613.2 1263.7h6.0M283.5 1266.4h6.0M376.1 1266.4h6.0M514.9 1266.4h6.0M567.0 1266.4h6.0M266.2 1269.2h6.0M410.8 1269.2h6.0M433.9 1269.2h6.0M445.5 1269.2h6.0M503.3 1269.2h6.0M555.4 1269.2h6.0M295.1 1272.0h6.0M335.6 1272.0h6.0M347.2 1272.0h11.8M405.0 1272.0h11.8M451.3 1272.0h6.0M462.8 1272.0h6.0M474.4 1272.0h6.0M295.1 1274.7h6.0M324.0 1274.7h11.8M457.1 1274.7h11.8M266.2 1277.5h6.0M318.2 1277.5h6.0M405.0 1277.5h6.0M428.1 1277.5h6.0M289.3 1285.7h6.0M341.4 1285.7h6.0M387.6 1285.7h6.0M595.9 1288.5h6.0M358.7 1296.8h6.0M370.3 1296.8h6.0M457.1 1296.8h6.0M318.2 1299.5h11.8M358.7 1299.5h11.8M376.1 1299.5h6.0M393.4 1299.5h17.6M428.1 1299.5h6.0M451.3 1299.5h11.8M480.2 1299.5h6.0M543.8 1299.5h6.0M601.7 1299.5h6.0M260.4 1302.3h6.0M272.0 1302.3h6.0M347.2 1302.3h6.0M405.0 1302.3h6.0M480.2 1302.3h6.0M526.5 1302.3h6.0M561.2 1302.3h11.8M619.0 1302.3h6.0M630.6 1302.3h6.0M260.4 1305.1h6.0M555.4 1305.1h6.0M590.1 1305.1h6.0M601.7 1305.1h17.6M624.8 1305.1h6.0M607.4 1307.8h6.0M624.8 1307.8h6.0M636.4 1307.8h6.0M497.5 1310.6h6.0M595.9 1310.6h6.0M613.2 1310.6h6.0M647.9 1310.6h6.0M584.3 1313.3h6.0M647.9 1313.3h6.0M561.2 1316.1h6.0M572.7 1316.1h6.0M584.3 1316.1h17.6M260.4 1318.8h6.0M272.0 1318.8h6.0M532.2 1318.8h11.8M561.2 1318.8h11.8M590.1 1318.8h6.0M272.0 1321.6h6.0M295.1 1321.6h6.0M312.5 1321.6h6.0M324.0 1321.6h6.0M335.6 1321.6h6.0M364.5 1321.6h6.0M381.9 1321.6h6.0M393.4 1321.6h6.0M405.0 1321.6h17.6M428.1 1321.6h6.0M439.7 1321.6h11.8M462.8 1321.6h6.0M503.3 1321.6h6.0M526.5 1321.6h6.0M364.5 1324.4h6.0"/>
<path stroke="#260dff" d="M503.3 1125.8h6.0M445.5 1131.3h6.0M277.8 1134.1h11.8M295.1 1134.1h6.0M324.0 1134.1h6.0M341.4 1134.1h6.0M393.4 1134.1h6.0M428.1 1134.1h6.0M445.5 1134.1h6.0M578.5 1134.1h6.0M329.8 1136.8h6.0M364.5 1136.8h6.0M462.8 1136.8h6.0M538.0 1136.8h6.0M555.4 1136.8h6.0M567.0 1136.8h6.0M272.0 1139.6h11.8M318.2 1139.6h11.8M381.9 1139.6h17.6M405.0 1139.6h6.0M462.8 1139.6h6.0M549.6 1139.6h6.0M567.0 1139.6h6.0M578.5 1139.6h6.0M295.1 1142.3h11.8M329.8 1142.3h6.0M364.5 1142.3h23.4M399.2 1142.3h6.0M416.6 1142.3h6.0M428.1 1142.3h11.8M445.5 1142.3h23.4M514.9 1142.3h23.4M543.8 1142.3h6.0M272.0 1145.1h17.6M312.5 1145.1h11.8M341.4 1145.1h6.0M393.4 1145.1h6.0M405.0 1145.1h6.0M439.7 1145.1h11.8M462.8 1145.1h23.4M514.9 1145.1h11.8M532.2 1145.1h35.0M578.5 1145.1h11.8M595.9 1145.1h6.0M1084.2 1145.1h8.5M266.2 1147.8h6.0M283.5 1147.8h6.0M306.7 1147.8h6.0M329.8 1147.8h6.0M341.4 1147.8h6.0M352.9 1147.8h6.0M422.4 1147.8h17.6M468.6 1147.8h6.0M526.5 1147.8h6.0M538.0 1147.8h6.0M584.3 1147.8h6.0M595.9 1147.8h6.0M300.9 1150.6h11.8M341.4 1150.6h6.0M358.7 1150.6h6.0M422.4 1150.6h17.6M503.3 1150.6h6.0M538.0 1150.6h6.0M595.9 1150.6h6.0M306.7 1153.4h6.0M352.9 1153.4h6.0M474.4 1153.4h11.8M520.7 1153.4h6.0M561.2 1153.4h6.0M584.3 1153.4h6.0M595.9 1153.4h6.0M607.4 1153.4h6.0M630.6 1153.4h6.0M300.9 1156.1h6.0M526.5 1156.1h11.8M595.9 1156.1h6.0M607.4 1156.1h6.0M520.7 1158.9h11.8M584.3 1158.9h6.0M613.2 1158.9h6.0M624.8 1158.9h6.0M300.9 1161.6h6.0M358.7 1161.6h6.0M532.2 1161.6h6.0M595.9 1161.6h6.0M526.5 1164.4h6.0M578.5 1164.4h6.0M590.1 1164.4h6.0M607.4 1164.4h6.0M636.4 1164.4h6.0M590.1 1167.2h11.8M613.2 1167.2h6.0M624.8 1167.2h6.0M647.9 1167.2h6.0M786.7 1167.2h6.0M590.1 1169.9h11.8M624.8 1169.9h6.0M1084.2 1169.9h8.5M595.9 1172.7h6.0M619.0 1172.7h17.6M647.9 1172.7h11.8M752.0 1172.7h23.4M798.3 1172.7h6.0M809.9 1172.7h6.0M1080.2 1172.7h4.2M676.8 1175.4h6.0M694.2 1175.4h6.0M705.8 1175.4h6.0M717.3 1175.4h11.8M752.0 1175.4h6.0M769.4 1175.4h6.0M798.3 1175.4h6.0M838.8 1175.4h6.0M497.5 1178.2h6.0M682.6 1178.2h6.0M700.0 1178.2h6.0M717.3 1178.2h17.6M752.0 1178.2h6.0M781.0 1178.2h6.0M809.9 1178.2h6.0M705.8 1180.9h6.0M728.9 1180.9h6.0M752.0 1180.9h6.0M792.5 1180.9h6.0M809.9 1180.9h11.8M1080.2 1180.9h4.2M260.4 1183.7h6.0M705.8 1183.7h11.8M740.5 1183.7h6.0M752.0 1183.7h6.0M786.7 1183.7h11.8M809.9 1183.7h6.0M1080.2 1183.7h4.2M717.3 1186.5h6.0M746.3 1186.5h6.0M809.9 1186.5h6.0M1084.2 1186.5h8.5M723.1 1189.2h6.0M815.7 1189.2h11.8M844.6 1189.2h6.0M856.2 1189.2h6.0M486.0 1192.0h6.0M757.8 1192.0h6.0M792.5 1192.0h6.0M821.4 1192.0h11.8M781.0 1194.7h6.0M821.4 1194.7h6.0M486.0 1197.5h6.0M786.7 1197.5h6.0M815.7 1197.5h6.0M763.6 1200.2h6.0M792.5 1200.2h6.0M804.1 1200.2h6.0M486.0 1203.0h6.0M757.8 1203.0h6.0M781.0 1203.0h6.0M798.3 1203.0h6.0M723.1 1205.8h11.8M757.8 1205.8h11.8M786.7 1205.8h6.0M798.3 1205.8h6.0M705.8 1208.5h6.0M717.3 1208.5h23.4M746.3 1208.5h11.8M769.4 1208.5h6.0M671.1 1211.3h6.0M688.4 1211.3h6.0M705.8 1211.3h6.0M734.7 1211.3h6.0M486.0 1214.0h6.0M671.1 1214.0h6.0M682.6 1214.0h6.0M705.8 1214.0h6.0M486.0 1216.8h6.0M659.5 1216.8h6.0M486.0 1219.6h6.0M653.7 1219.6h6.0M607.4 1222.3h11.8M491.8 1225.1h6.0M578.5 1225.1h6.0M532.2 1227.8h6.0M549.6 1227.8h17.6M283.5 1230.6h6.0M300.9 1230.6h11.8M318.2 1230.6h6.0M341.4 1230.6h6.0M352.9 1230.6h6.0M416.6 1230.6h11.8M433.9 1230.6h11.8M457.1 1230.6h11.8M474.4 1230.6h11.8M514.9 1230.6h6.0M329.8 1233.3h6.0M405.0 1233.3h6.0M561.2 1263.7h6.0M584.3 1266.4h6.0M682.6 1269.2h6.0M306.7 1272.0h6.0M532.2 1277.5h6.0M324.0 1280.2h6.0M538.0 1285.7h6.0M555.4 1285.7h6.0M289.3 1299.5h6.0M422.4 1299.5h6.0M433.9 1299.5h11.8M520.7 1299.5h6.0M578.5 1299.5h6.0M277.8 1302.3h17.6M312.5 1302.3h6.0M329.8 1302.3h6.0M376.1 1302.3h6.0M387.6 1302.3h6.0M416.6 1302.3h6.0M433.9 1302.3h11.8M503.3 1302.3h6.0M520.7 1302.3h6.0M532.2 1302.3h29.2M572.7 1302.3h11.8M590.1 1302.3h6.0M283.5 1305.1h11.8M480.2 1305.1h6.0M503.3 1305.1h6.0M538.0 1305.1h11.8M561.2 1305.1h6.0M578.5 1305.1h11.8M682.6 1305.1h6.0M260.4 1307.8h6.0M549.6 1307.8h23.4M584.3 1307.8h17.6M619.0 1307.8h6.0M630.6 1307.8h6.0M584.3 1310.6h11.8M607.4 1310.6h6.0M260.4 1313.3h6.0M578.5 1313.3h6.0M590.1 1313.3h11.8M613.2 1313.3h6.0M376.1 1316.1h6.0M509.1 1316.1h6.0M520.7 1316.1h17.6M543.8 1316.1h17.6M567.0 1316.1h6.0M578.5 1316.1h6.0M607.4 1316.1h6.0M283.5 1318.8h6.0M376.1 1318.8h11.8M410.8 1318.8h6.0M433.9 1318.8h6.0M462.8 1318.8h6.0M474.4 1318.8h6.0M503.3 1318.8h29.2M543.8 1318.8h17.6M572.7 1318.8h6.0M266.2 1321.6h6.0M277.8 1321.6h6.0M300.9 1321.6h11.8M329.8 1321.6h6.0M352.9 1321.6h6.0M370.3 1321.6h6.0M387.6 1321.6h6.0M399.2 1321.6h6.0M451.3 1321.6h11.8M468.6 1321.6h11.8M549.6 1321.6h6.0M572.7 1321.6h6.0"/>
<path stroke="#1306ff" d="M405.0 1136.8h6.0M555.4 1139.6h11.8M324.0 1142.3h6.0M387.6 1142.3h11.8M405.0 1142.3h11.8M503.3 1142.3h6.0M549.6 1142.3h23.4M266.2 1145.1h6.0M289.3 1145.1h6.0M300.9 1145.1h6.0M329.8 1145.1h6.0M364.5 1145.1h6.0M381.9 1145.1h11.8M422.4 1145.1h17.6M451.3 1145.1h11.8M503.3 1145.1h11.8M567.0 1145.1h11.8M272.0 1147.8h11.8M300.9 1147.8h6.0M312.5 1147.8h11.8M347.2 1147.8h6.0M364.5 1147.8h6.0M376.1 1147.8h6.0M405.0 1147.8h6.0M416.6 1147.8h6.0M439.7 1147.8h6.0M462.8 1147.8h6.0M503.3 1147.8h11.8M520.7 1147.8h6.0M532.2 1147.8h6.0M543.8 1147.8h23.4M572.7 1147.8h11.8M277.8 1150.6h11.8M312.5 1150.6h6.0M335.6 1150.6h6.0M347.2 1150.6h11.8M364.5 1150.6h23.4M393.4 1150.6h11.8M416.6 1150.6h6.0M439.7 1150.6h6.0M480.2 1150.6h6.0M520.7 1150.6h6.0M532.2 1150.6h6.0M561.2 1150.6h6.0M572.7 1150.6h11.8M272.0 1153.4h6.0M283.5 1153.4h6.0M300.9 1153.4h6.0M312.5 1153.4h6.0M347.2 1153.4h6.0M364.5 1153.4h6.0M428.1 1153.4h17.6M451.3 1153.4h11.8M468.6 1153.4h6.0M509.1 1153.4h6.0M532.2 1153.4h6.0M543.8 1153.4h6.0M555.4 1153.4h6.0M567.0 1153.4h11.8M266.2 1156.1h6.0M277.8 1156.1h11.8M306.7 1156.1h11.8M335.6 1156.1h23.4M410.8 1156.1h6.0M422.4 1156.1h11.8M439.7 1156.1h11.8M474.4 1156.1h11.8M520.7 1156.1h6.0M538.0 1156.1h17.6M578.5 1156.1h11.8M266.2 1158.9h6.0M277.8 1158.9h6.0M306.7 1158.9h6.0M376.1 1158.9h6.0M428.1 1158.9h6.0M439.7 1158.9h11.8M468.6 1158.9h11.8M503.3 1158.9h17.6M543.8 1158.9h6.0M590.1 1158.9h6.0M277.8 1161.6h6.0M312.5 1161.6h6.0M335.6 1161.6h6.0M352.9 1161.6h6.0M376.1 1161.6h6.0M399.2 1161.6h6.0M422.4 1161.6h6.0M468.6 1161.6h17.6M514.9 1161.6h6.0M526.5 1161.6h6.0M578.5 1161.6h6.0M590.1 1161.6h6.0M306.7 1164.4h11.8M376.1 1164.4h6.0M428.1 1164.4h6.0M474.4 1164.4h6.0M572.7 1164.4h6.0M584.3 1164.4h6.0M312.5 1167.2h6.0M358.7 1167.2h6.0M474.4 1167.2h11.8M520.7 1167.2h11.8M572.7 1167.2h6.0M584.3 1167.2h6.0M1084.2 1167.2h8.5M300.9 1169.9h11.8M335.6 1169.9h6.0M352.9 1169.9h6.0M480.2 1169.9h6.0M526.5 1169.9h6.0M584.3 1169.9h6.0M601.7 1169.9h6.0M775.2 1169.9h6.0M439.7 1172.7h6.0M590.1 1172.7h6.0M601.7 1172.7h17.6M642.1 1172.7h6.0M659.5 1172.7h11.8M775.2 1172.7h6.0M1084.2 1172.7h8.5M306.7 1175.4h6.0M474.4 1175.4h6.0M653.7 1175.4h6.0M665.3 1175.4h6.0M775.2 1175.4h11.8M1080.2 1175.4h4.2M671.1 1178.2h11.8M688.4 1178.2h11.8M705.8 1178.2h6.0M734.7 1178.2h11.8M757.8 1178.2h23.4M792.5 1178.2h6.0M815.7 1178.2h6.0M1080.2 1178.2h4.2M491.8 1180.9h11.8M688.4 1180.9h6.0M700.0 1180.9h6.0M723.1 1180.9h6.0M740.5 1180.9h6.0M763.6 1180.9h6.0M775.2 1180.9h11.8M798.3 1180.9h11.8M1084.2 1180.9h8.5M491.8 1183.7h6.0M671.1 1183.7h6.0M728.9 1183.7h6.0M757.8 1183.7h6.0M775.2 1183.7h6.0M798.3 1183.7h11.8M815.7 1183.7h6.0M700.0 1186.5h17.6M734.7 1186.5h6.0M769.4 1186.5h11.8M815.7 1186.5h6.0M260.4 1189.2h6.0M711.6 1189.2h6.0M781.0 1189.2h17.6M804.1 1189.2h11.8M260.4 1192.0h6.0M740.5 1192.0h6.0M752.0 1192.0h6.0M781.0 1192.0h6.0M804.1 1192.0h11.8M486.0 1194.7h6.0M705.8 1194.7h6.0M717.3 1194.7h6.0M775.2 1194.7h6.0M786.7 1194.7h11.8M804.1 1194.7h11.8M711.6 1197.5h6.0M746.3 1197.5h35.0M798.3 1197.5h17.6M486.0 1200.2h6.0M752.0 1200.2h6.0M769.4 1200.2h23.4M798.3 1200.2h6.0M809.9 1200.2h6.0M700.0 1203.0h6.0M711.6 1203.0h6.0M740.5 1203.0h17.6M763.6 1203.0h6.0M775.2 1203.0h6.0M786.7 1203.0h11.8M486.0 1205.8h6.0M711.6 1205.8h11.8M746.3 1205.8h6.0M775.2 1205.8h11.8M694.2 1208.5h6.0M740.5 1208.5h6.0M486.0 1211.3h6.0M694.2 1211.3h11.8M769.4 1211.3h6.0M676.8 1214.0h6.0M665.3 1216.8h6.0M619.0 1219.6h35.0M520.7 1227.8h11.8M538.0 1227.8h11.8M266.2 1230.6h17.6M324.0 1230.6h17.6M347.2 1230.6h6.0M358.7 1230.6h23.4M387.6 1230.6h23.4M445.5 1230.6h6.0M503.3 1230.6h6.0M538.0 1230.6h6.0M289.3 1266.4h6.0M370.3 1299.5h6.0M266.2 1302.3h6.0M295.1 1302.3h17.6M318.2 1302.3h11.8M335.6 1302.3h11.8M352.9 1302.3h23.4M381.9 1302.3h6.0M399.2 1302.3h6.0M410.8 1302.3h6.0M422.4 1302.3h6.0M445.5 1302.3h35.0M514.9 1302.3h6.0M266.2 1305.1h17.6M300.9 1305.1h11.8M318.2 1305.1h6.0M335.6 1305.1h6.0M347.2 1305.1h6.0M358.7 1305.1h6.0M370.3 1305.1h6.0M405.0 1305.1h17.6M451.3 1305.1h6.0M509.1 1305.1h11.8M532.2 1305.1h6.0M549.6 1305.1h6.0M572.7 1305.1h6.0M595.9 1305.1h6.0M266.2 1307.8h23.4M300.9 1307.8h6.0M352.9 1307.8h6.0M376.1 1307.8h6.0M422.4 1307.8h6.0M503.3 1307.8h11.8M538.0 1307.8h11.8M601.7 1307.8h6.0M260.4 1310.6h6.0M480.2 1310.6h6.0M503.3 1310.6h6.0M520.7 1310.6h6.0M538.0 1310.6h6.0M578.5 1310.6h6.0M601.7 1310.6h6.0M272.0 1313.3h6.0M289.3 1313.3h6.0M318.2 1313.3h6.0M520.7 1313.3h6.0M549.6 1313.3h11.8M567.0 1313.3h6.0M601.7 1313.3h6.0M260.4 1316.1h29.2M312.5 1316.1h6.0M399.2 1316.1h6.0M422.4 1316.1h6.0M457.1 1316.1h6.0M474.4 1316.1h11.8M503.3 1316.1h6.0M538.0 1316.1h6.0M601.7 1316.1h6.0M266.2 1318.8h6.0M289.3 1318.8h6.0M300.9 1318.8h29.2M335.6 1318.8h11.8M358.7 1318.8h6.0M370.3 1318.8h6.0M393.4 1318.8h17.6M416.6 1318.8h11.8M445.5 1318.8h6.0M468.6 1318.8h6.0M480.2 1318.8h6.0M283.5 1321.6h11.8M347.2 1321.6h6.0M358.7 1321.6h6.0M376.1 1321.6h6.0M422.4 1321.6h6.0"/>
<path stroke="#0000ff" d="M1084.2 1139.6h8.5M572.7 1142.3h6.0M1084.2 1142.3h8.5M295.1 1145.1h6.0M324.0 1145.1h6.0M370.3 1145.1h11.8M289.3 1147.8h6.0M324.0 1147.8h6.0M335.6 1147.8h6.0M370.3 1147.8h6.0M381.9 1147.8h23.4M410.8 1147.8h6.0M445.5 1147.8h6.0M514.9 1147.8h6.0M567.0 1147.8h6.0M266.2 1150.6h11.8M289.3 1150.6h11.8M318.2 1150.6h6.0M329.8 1150.6h6.0M387.6 1150.6h6.0M405.0 1150.6h6.0M445.5 1150.6h6.0M462.8 1150.6h11.8M509.1 1150.6h11.8M543.8 1150.6h17.6M567.0 1150.6h6.0M289.3 1153.4h11.8M318.2 1153.4h29.2M358.7 1153.4h6.0M370.3 1153.4h17.6M393.4 1153.4h35.0M445.5 1153.4h6.0M462.8 1153.4h6.0M503.3 1153.4h6.0M514.9 1153.4h6.0M538.0 1153.4h6.0M549.6 1153.4h6.0M578.5 1153.4h6.0M272.0 1156.1h6.0M289.3 1156.1h6.0M318.2 1156.1h17.6M358.7 1156.1h29.2M393.4 1156.1h6.0M405.0 1156.1h6.0M416.6 1156.1h6.0M433.9 1156.1h6.0M462.8 1156.1h11.8M509.1 1156.1h11.8M555.4 1156.1h11.8M295.1 1158.9h6.0M312.5 1158.9h11.8M335.6 1158.9h40.7M393.4 1158.9h35.0M433.9 1158.9h6.0M451.3 1158.9h6.0M462.8 1158.9h6.0M532.2 1158.9h11.8M555.4 1158.9h11.8M572.7 1158.9h6.0M272.0 1161.6h6.0M283.5 1161.6h6.0M306.7 1161.6h6.0M318.2 1161.6h6.0M329.8 1161.6h6.0M341.4 1161.6h11.8M364.5 1161.6h11.8M387.6 1161.6h6.0M416.6 1161.6h6.0M428.1 1161.6h17.6M457.1 1161.6h6.0M503.3 1161.6h11.8M520.7 1161.6h6.0M543.8 1161.6h6.0M555.4 1161.6h6.0M572.7 1161.6h6.0M584.3 1161.6h6.0M289.3 1164.4h6.0M329.8 1164.4h17.6M358.7 1164.4h11.8M381.9 1164.4h11.8M410.8 1164.4h11.8M433.9 1164.4h11.8M480.2 1164.4h6.0M503.3 1164.4h11.8M520.7 1164.4h6.0M532.2 1164.4h17.6M567.0 1164.4h6.0M266.2 1167.2h6.0M277.8 1167.2h11.8M318.2 1167.2h6.0M335.6 1167.2h6.0M352.9 1167.2h6.0M364.5 1167.2h6.0M381.9 1167.2h6.0M416.6 1167.2h6.0M428.1 1167.2h11.8M445.5 1167.2h23.4M532.2 1167.2h6.0M543.8 1167.2h6.0M312.5 1169.9h6.0M381.9 1169.9h6.0M410.8 1169.9h6.0M433.9 1169.9h6.0M445.5 1169.9h11.8M509.1 1169.9h11.8M538.0 1169.9h6.0M578.5 1169.9h6.0M306.7 1172.7h6.0M358.7 1172.7h6.0M381.9 1172.7h6.0M422.4 1172.7h6.0M474.4 1172.7h11.8M520.7 1172.7h6.0M538.0 1172.7h6.0M561.2 1172.7h6.0M584.3 1172.7h6.0M272.0 1175.4h6.0M300.9 1175.4h6.0M312.5 1175.4h6.0M422.4 1175.4h6.0M439.7 1175.4h6.0M468.6 1175.4h6.0M480.2 1175.4h6.0M526.5 1175.4h6.0M601.7 1175.4h52.3M659.5 1175.4h6.0M613.2 1178.2h6.0M653.7 1178.2h11.8M619.0 1180.9h6.0M665.3 1180.9h23.4M694.2 1180.9h6.0M734.7 1180.9h6.0M746.3 1180.9h6.0M757.8 1180.9h6.0M769.4 1180.9h6.0M497.5 1183.7h6.0M676.8 1183.7h6.0M688.4 1183.7h17.6M717.3 1183.7h11.8M746.3 1183.7h6.0M763.6 1183.7h11.8M781.0 1183.7h6.0M1084.2 1183.7h8.5M260.4 1186.5h6.0M497.5 1186.5h6.0M671.1 1186.5h11.8M694.2 1186.5h6.0M723.1 1186.5h11.8M752.0 1186.5h17.6M781.0 1186.5h11.8M798.3 1186.5h11.8M705.8 1189.2h6.0M717.3 1189.2h6.0M734.7 1189.2h6.0M746.3 1189.2h29.2M798.3 1189.2h6.0M491.8 1192.0h6.0M682.6 1192.0h6.0M705.8 1192.0h23.4M734.7 1192.0h6.0M746.3 1192.0h6.0M763.6 1192.0h6.0M775.2 1192.0h6.0M786.7 1192.0h6.0M798.3 1192.0h6.0M700.0 1194.7h6.0M711.6 1194.7h6.0M728.9 1194.7h6.0M746.3 1194.7h23.4M798.3 1194.7h6.0M723.1 1197.5h11.8M781.0 1197.5h6.0M792.5 1197.5h6.0M694.2 1200.2h6.0M705.8 1200.2h35.0M746.3 1200.2h6.0M705.8 1203.0h6.0M717.3 1203.0h23.4M769.4 1203.0h6.0M676.8 1205.8h6.0M694.2 1205.8h17.6M734.7 1205.8h11.8M486.0 1208.5h6.0M682.6 1208.5h6.0M700.0 1208.5h6.0M711.6 1208.5h6.0M676.8 1211.3h11.8M665.3 1214.0h6.0M630.6 1216.8h11.8M647.9 1216.8h11.8M260.4 1219.6h6.0M260.4 1222.3h6.0M491.8 1222.3h6.0M584.3 1222.3h6.0M595.9 1222.3h11.8M497.5 1225.1h6.0M567.0 1225.1h6.0M312.5 1227.8h6.0M347.2 1227.8h17.6M433.9 1227.8h6.0M474.4 1227.8h11.8M289.3 1230.6h11.8M381.9 1230.6h6.0M428.1 1230.6h6.0M451.3 1230.6h6.0M393.4 1302.3h6.0M428.1 1302.3h6.0M295.1 1305.1h6.0M324.0 1305.1h6.0M341.4 1305.1h6.0M352.9 1305.1h6.0M387.6 1305.1h6.0M399.2 1305.1h6.0M422.4 1305.1h29.2M468.6 1305.1h11.8M520.7 1305.1h11.8M567.0 1305.1h6.0M289.3 1307.8h11.8M318.2 1307.8h11.8M335.6 1307.8h6.0M347.2 1307.8h6.0M358.7 1307.8h6.0M381.9 1307.8h11.8M399.2 1307.8h11.8M416.6 1307.8h6.0M428.1 1307.8h6.0M462.8 1307.8h17.6M514.9 1307.8h23.4M572.7 1307.8h11.8M266.2 1310.6h17.6M341.4 1310.6h6.0M381.9 1310.6h6.0M445.5 1310.6h6.0M526.5 1310.6h11.8M543.8 1310.6h23.4M572.7 1310.6h6.0M277.8 1313.3h11.8M306.7 1313.3h6.0M329.8 1313.3h11.8M376.1 1313.3h6.0M399.2 1313.3h17.6M433.9 1313.3h11.8M474.4 1313.3h11.8M503.3 1313.3h6.0M514.9 1313.3h6.0M526.5 1313.3h23.4M289.3 1316.1h11.8M306.7 1316.1h6.0M318.2 1316.1h35.0M364.5 1316.1h11.8M381.9 1316.1h6.0M393.4 1316.1h6.0M405.0 1316.1h11.8M428.1 1316.1h29.2M462.8 1316.1h11.8M514.9 1316.1h6.0M277.8 1318.8h6.0M295.1 1318.8h6.0M329.8 1318.8h6.0M347.2 1318.8h11.8M364.5 1318.8h6.0M387.6 1318.8h6.0M439.7 1318.8h6.0M451.3 1318.8h11.8"/>
<path stroke="#0020df" d="M295.1 1147.8h6.0M451.3 1147.8h11.8M324.0 1150.6h6.0M410.8 1150.6h6.0M451.3 1150.6h11.8M266.2 1153.4h6.0M277.8 1153.4h6.0M387.6 1153.4h6.0M295.1 1156.1h6.0M387.6 1156.1h6.0M399.2 1156.1h6.0M451.3 1156.1h11.8M503.3 1156.1h6.0M272.0 1158.9h6.0M283.5 1158.9h11.8M300.9 1158.9h6.0M329.8 1158.9h6.0M381.9 1158.9h11.8M457.1 1158.9h6.0M549.6 1158.9h6.0M567.0 1158.9h6.0M578.5 1158.9h6.0M266.2 1161.6h6.0M295.1 1161.6h6.0M324.0 1161.6h6.0M381.9 1161.6h6.0M393.4 1161.6h6.0M405.0 1161.6h11.8M445.5 1161.6h11.8M462.8 1161.6h6.0M538.0 1161.6h6.0M561.2 1161.6h11.8M266.2 1164.4h23.4M300.9 1164.4h6.0M318.2 1164.4h11.8M347.2 1164.4h11.8M370.3 1164.4h6.0M399.2 1164.4h6.0M422.4 1164.4h6.0M451.3 1164.4h11.8M468.6 1164.4h6.0M514.9 1164.4h6.0M549.6 1164.4h17.6M272.0 1167.2h6.0M300.9 1167.2h11.8M341.4 1167.2h11.8M370.3 1167.2h11.8M393.4 1167.2h6.0M410.8 1167.2h6.0M422.4 1167.2h6.0M439.7 1167.2h6.0M468.6 1167.2h6.0M503.3 1167.2h17.6M538.0 1167.2h6.0M555.4 1167.2h11.8M578.5 1167.2h6.0M266.2 1169.9h23.4M318.2 1169.9h6.0M341.4 1169.9h11.8M358.7 1169.9h23.4M393.4 1169.9h6.0M405.0 1169.9h6.0M416.6 1169.9h6.0M428.1 1169.9h6.0M439.7 1169.9h6.0M457.1 1169.9h23.4M503.3 1169.9h6.0M520.7 1169.9h6.0M532.2 1169.9h6.0M543.8 1169.9h11.8M561.2 1169.9h17.6M266.2 1172.7h17.6M335.6 1172.7h11.8M352.9 1172.7h6.0M364.5 1172.7h6.0M387.6 1172.7h11.8M410.8 1172.7h11.8M433.9 1172.7h6.0M445.5 1172.7h6.0M457.1 1172.7h17.6M503.3 1172.7h11.8M526.5 1172.7h11.8M543.8 1172.7h6.0M555.4 1172.7h6.0M572.7 1172.7h11.8M266.2 1175.4h6.0M277.8 1175.4h6.0M289.3 1175.4h11.8M318.2 1175.4h6.0M352.9 1175.4h11.8M376.1 1175.4h6.0M410.8 1175.4h11.8M428.1 1175.4h6.0M451.3 1175.4h6.0M503.3 1175.4h6.0M514.9 1175.4h11.8M532.2 1175.4h11.8M584.3 1175.4h6.0M595.9 1175.4h6.0M1084.2 1175.4h8.5M474.4 1178.2h6.0M607.4 1178.2h6.0M619.0 1178.2h35.0M665.3 1178.2h6.0M1084.2 1178.2h8.5M613.2 1180.9h6.0M624.8 1180.9h6.0M659.5 1180.9h6.0M630.6 1183.7h6.0M653.7 1183.7h6.0M665.3 1183.7h6.0M682.6 1183.7h6.0M734.7 1183.7h6.0M491.8 1186.5h6.0M682.6 1186.5h11.8M740.5 1186.5h6.0M491.8 1189.2h6.0M671.1 1189.2h6.0M694.2 1189.2h11.8M728.9 1189.2h6.0M740.5 1189.2h6.0M775.2 1189.2h6.0M694.2 1192.0h11.8M728.9 1192.0h6.0M769.4 1192.0h6.0M260.4 1194.7h6.0M491.8 1194.7h6.0M676.8 1194.7h6.0M688.4 1194.7h11.8M723.1 1194.7h6.0M734.7 1194.7h6.0M769.4 1194.7h6.0M671.1 1197.5h11.8M688.4 1197.5h6.0M700.0 1197.5h11.8M717.3 1197.5h6.0M734.7 1197.5h11.8M260.4 1200.2h6.0M700.0 1200.2h6.0M740.5 1200.2h6.0M757.8 1200.2h6.0M671.1 1203.0h29.2M260.4 1205.8h6.0M671.1 1205.8h6.0M682.6 1205.8h11.8M688.4 1208.5h6.0M665.3 1211.3h6.0M647.9 1214.0h6.0M659.5 1214.0h6.0M619.0 1216.8h6.0M642.1 1216.8h6.0M491.8 1219.6h6.0M607.4 1219.6h11.8M578.5 1222.3h6.0M590.1 1222.3h6.0M526.5 1225.1h11.8M543.8 1225.1h6.0M561.2 1225.1h6.0M572.7 1225.1h6.0M277.8 1227.8h11.8M295.1 1227.8h11.8M318.2 1227.8h6.0M335.6 1227.8h11.8M364.5 1227.8h6.0M376.1 1227.8h6.0M399.2 1227.8h11.8M416.6 1227.8h17.6M439.7 1227.8h11.8M462.8 1227.8h11.8M503.3 1227.8h11.8M410.8 1230.6h6.0M312.5 1305.1h6.0M329.8 1305.1h6.0M364.5 1305.1h6.0M376.1 1305.1h11.8M393.4 1305.1h6.0M457.1 1305.1h11.8M306.7 1307.8h11.8M329.8 1307.8h6.0M341.4 1307.8h6.0M370.3 1307.8h6.0M393.4 1307.8h6.0M410.8 1307.8h6.0M445.5 1307.8h17.6M480.2 1307.8h6.0M295.1 1310.6h11.8M318.2 1310.6h6.0M358.7 1310.6h6.0M376.1 1310.6h6.0M387.6 1310.6h11.8M410.8 1310.6h35.0M457.1 1310.6h23.4M509.1 1310.6h11.8M567.0 1310.6h6.0M266.2 1313.3h6.0M295.1 1313.3h11.8M312.5 1313.3h6.0M324.0 1313.3h6.0M347.2 1313.3h6.0M358.7 1313.3h6.0M370.3 1313.3h6.0M381.9 1313.3h6.0M393.4 1313.3h6.0M416.6 1313.3h17.6M445.5 1313.3h29.2M509.1 1313.3h6.0M561.2 1313.3h6.0M300.9 1316.1h6.0M352.9 1316.1h11.8M387.6 1316.1h6.0M416.6 1316.1h6.0M428.1 1318.8h6.0"/>
<path stroke="#0040bf" d="M567.0 1156.1h11.8M324.0 1158.9h6.0M289.3 1161.6h6.0M549.6 1161.6h6.0M295.1 1164.4h6.0M405.0 1164.4h6.0M445.5 1164.4h6.0M462.8 1164.4h6.0M289.3 1167.2h11.8M324.0 1167.2h11.8M387.6 1167.2h6.0M399.2 1167.2h11.8M567.0 1167.2h6.0M289.3 1169.9h11.8M324.0 1169.9h11.8M387.6 1169.9h6.0M399.2 1169.9h6.0M422.4 1169.9h6.0M555.4 1169.9h6.0M283.5 1172.7h11.8M300.9 1172.7h6.0M312.5 1172.7h11.8M329.8 1172.7h6.0M347.2 1172.7h6.0M370.3 1172.7h11.8M399.2 1172.7h11.8M428.1 1172.7h6.0M451.3 1172.7h6.0M514.9 1172.7h6.0M567.0 1172.7h6.0M283.5 1175.4h6.0M329.8 1175.4h23.4M364.5 1175.4h11.8M381.9 1175.4h6.0M399.2 1175.4h11.8M433.9 1175.4h6.0M457.1 1175.4h11.8M578.5 1175.4h6.0M590.1 1175.4h6.0M272.0 1178.2h17.6M312.5 1178.2h11.8M352.9 1178.2h11.8M376.1 1178.2h6.0M422.4 1178.2h11.8M503.3 1178.2h6.0M526.5 1178.2h17.6M584.3 1178.2h6.0M601.7 1178.2h6.0M312.5 1180.9h6.0M474.4 1180.9h11.8M526.5 1180.9h6.0M607.4 1180.9h6.0M630.6 1180.9h29.2M624.8 1183.7h6.0M642.1 1183.7h6.0M659.5 1183.7h6.0M642.1 1186.5h11.8M659.5 1186.5h6.0M497.5 1189.2h6.0M647.9 1189.2h11.8M665.3 1189.2h6.0M676.8 1189.2h17.6M659.5 1192.0h23.4M688.4 1192.0h6.0M665.3 1194.7h11.8M682.6 1194.7h6.0M740.5 1194.7h6.0M260.4 1197.5h6.0M682.6 1197.5h6.0M694.2 1197.5h6.0M497.5 1200.2h6.0M671.1 1200.2h11.8M688.4 1200.2h6.0M260.4 1203.0h6.0M665.3 1205.8h6.0M260.4 1208.5h6.0M665.3 1208.5h17.6M659.5 1211.3h6.0M613.2 1214.0h6.0M636.4 1214.0h11.8M653.7 1214.0h6.0M260.4 1216.8h6.0M497.5 1216.8h6.0M613.2 1216.8h6.0M624.8 1216.8h6.0M497.5 1219.6h6.0M590.1 1219.6h6.0M497.5 1222.3h6.0M433.9 1225.1h6.0M538.0 1225.1h6.0M549.6 1225.1h11.8M289.3 1227.8h6.0M306.7 1227.8h6.0M324.0 1227.8h6.0M370.3 1227.8h6.0M381.9 1227.8h17.6M410.8 1227.8h6.0M451.3 1227.8h11.8M514.9 1227.8h6.0M364.5 1307.8h6.0M433.9 1307.8h11.8M283.5 1310.6h11.8M306.7 1310.6h11.8M324.0 1310.6h17.6M347.2 1310.6h11.8M364.5 1310.6h11.8M399.2 1310.6h11.8M451.3 1310.6h6.0M341.4 1313.3h6.0M352.9 1313.3h6.0M364.5 1313.3h6.0M387.6 1313.3h6.0"/>
<path stroke="#00609f" d="M393.4 1164.4h6.0M549.6 1167.2h6.0M295.1 1172.7h6.0M324.0 1172.7h6.0M549.6 1172.7h6.0M324.0 1175.4h6.0M387.6 1175.4h11.8M445.5 1175.4h6.0M509.1 1175.4h6.0M543.8 1175.4h29.2M266.2 1178.2h6.0M289.3 1178.2h6.0M300.9 1178.2h11.8M335.6 1178.2h17.6M364.5 1178.2h6.0M381.9 1178.2h6.0M393.4 1178.2h23.4M433.9 1178.2h23.4M462.8 1178.2h11.8M480.2 1178.2h6.0M509.1 1178.2h17.6M543.8 1178.2h6.0M555.4 1178.2h6.0M572.7 1178.2h11.8M595.9 1178.2h6.0M277.8 1180.9h6.0M347.2 1180.9h11.8M422.4 1180.9h6.0M433.9 1180.9h6.0M468.6 1180.9h6.0M520.7 1180.9h6.0M532.2 1180.9h6.0M590.1 1180.9h11.8M526.5 1183.7h6.0M613.2 1183.7h11.8M636.4 1183.7h6.0M647.9 1183.7h6.0M474.4 1186.5h6.0M607.4 1186.5h35.0M653.7 1186.5h6.0M665.3 1186.5h6.0M636.4 1189.2h11.8M659.5 1189.2h6.0M497.5 1192.0h6.0M630.6 1192.0h11.8M653.7 1192.0h6.0M497.5 1194.7h6.0M653.7 1194.7h6.0M497.5 1197.5h6.0M636.4 1197.5h6.0M665.3 1197.5h6.0M491.8 1200.2h6.0M642.1 1200.2h6.0M665.3 1200.2h6.0M682.6 1200.2h6.0M491.8 1203.0h6.0M642.1 1203.0h6.0M665.3 1203.0h6.0M497.5 1205.8h6.0M630.6 1205.8h6.0M642.1 1205.8h23.4M491.8 1208.5h6.0M613.2 1208.5h6.0M647.9 1208.5h17.6M260.4 1211.3h6.0M491.8 1211.3h11.8M636.4 1211.3h23.4M260.4 1214.0h6.0M491.8 1214.0h11.8M619.0 1214.0h6.0M630.6 1214.0h6.0M491.8 1216.8h6.0M601.7 1216.8h6.0M601.7 1219.6h6.0M526.5 1222.3h11.8M561.2 1222.3h17.6M306.7 1225.1h6.0M347.2 1225.1h11.8M416.6 1225.1h6.0M428.1 1225.1h6.0M439.7 1225.1h6.0M468.6 1225.1h11.8M503.3 1225.1h23.4M266.2 1227.8h11.8M329.8 1227.8h6.0"/>
<path stroke="#008080" d="M572.7 1175.4h6.0M295.1 1178.2h6.0M324.0 1178.2h11.8M370.3 1178.2h6.0M387.6 1178.2h6.0M416.6 1178.2h6.0M457.1 1178.2h6.0M549.6 1178.2h6.0M561.2 1178.2h6.0M590.1 1178.2h6.0M266.2 1180.9h11.8M283.5 1180.9h6.0M306.7 1180.9h6.0M341.4 1180.9h6.0M358.7 1180.9h23.4M393.4 1180.9h6.0M405.0 1180.9h17.6M428.1 1180.9h6.0M439.7 1180.9h6.0M451.3 1180.9h11.8M503.3 1180.9h17.6M538.0 1180.9h11.8M584.3 1180.9h6.0M601.7 1180.9h6.0M312.5 1183.7h6.0M347.2 1183.7h6.0M358.7 1183.7h6.0M381.9 1183.7h6.0M416.6 1183.7h6.0M445.5 1183.7h6.0M468.6 1183.7h17.6M503.3 1183.7h6.0M520.7 1183.7h6.0M532.2 1183.7h6.0M590.1 1183.7h6.0M601.7 1183.7h11.8M312.5 1186.5h6.0M480.2 1186.5h6.0M613.2 1189.2h23.4M624.8 1192.0h6.0M642.1 1192.0h11.8M613.2 1194.7h6.0M624.8 1194.7h6.0M636.4 1194.7h17.6M659.5 1194.7h6.0M491.8 1197.5h6.0M619.0 1197.5h17.6M647.9 1197.5h17.6M613.2 1200.2h6.0M624.8 1200.2h6.0M636.4 1200.2h6.0M647.9 1200.2h6.0M659.5 1200.2h6.0M497.5 1203.0h6.0M624.8 1203.0h17.6M647.9 1203.0h17.6M491.8 1205.8h6.0M619.0 1205.8h6.0M636.4 1205.8h6.0M497.5 1208.5h6.0M619.0 1208.5h29.2M607.4 1211.3h6.0M619.0 1211.3h17.6M607.4 1214.0h6.0M624.8 1214.0h6.0M584.3 1216.8h17.6M607.4 1216.8h6.0M526.5 1219.6h6.0M584.3 1219.6h6.0M595.9 1219.6h6.0M474.4 1222.3h6.0M520.7 1222.3h6.0M538.0 1222.3h6.0M549.6 1222.3h11.8M266.2 1225.1h6.0M277.8 1225.1h11.8M300.9 1225.1h6.0M312.5 1225.1h11.8M335.6 1225.1h11.8M358.7 1225.1h6.0M370.3 1225.1h11.8M387.6 1225.1h6.0M399.2 1225.1h6.0M410.8 1225.1h6.0M422.4 1225.1h6.0M480.2 1225.1h6.0"/>
<path stroke="#009f60" d="M289.3 1180.9h17.6M318.2 1180.9h23.4M381.9 1180.9h11.8M399.2 1180.9h6.0M445.5 1180.9h6.0M462.8 1180.9h6.0M549.6 1180.9h35.0M277.8 1183.7h11.8M295.1 1183.7h17.6M318.2 1183.7h6.0M335.6 1183.7h11.8M352.9 1183.7h6.0M376.1 1183.7h6.0M405.0 1183.7h6.0M422.4 1183.7h23.4M451.3 1183.7h6.0M509.1 1183.7h11.8M538.0 1183.7h11.8M578.5 1183.7h11.8M595.9 1183.7h6.0M306.7 1186.5h6.0M358.7 1186.5h6.0M399.2 1186.5h6.0M416.6 1186.5h6.0M428.1 1186.5h17.6M462.8 1186.5h6.0M509.1 1186.5h23.4M578.5 1186.5h29.2M480.2 1189.2h6.0M526.5 1189.2h6.0M590.1 1189.2h23.4M584.3 1192.0h11.8M613.2 1192.0h11.8M607.4 1194.7h6.0M619.0 1194.7h6.0M630.6 1194.7h6.0M607.4 1197.5h11.8M642.1 1197.5h6.0M619.0 1200.2h6.0M630.6 1200.2h6.0M653.7 1200.2h6.0M613.2 1203.0h11.8M607.4 1205.8h11.8M624.8 1205.8h6.0M607.4 1208.5h6.0M590.1 1211.3h6.0M601.7 1211.3h6.0M613.2 1211.3h6.0M590.1 1214.0h17.6M526.5 1216.8h6.0M578.5 1216.8h6.0M520.7 1219.6h6.0M532.2 1219.6h6.0M543.8 1219.6h6.0M561.2 1219.6h6.0M572.7 1219.6h11.8M283.5 1222.3h6.0M312.5 1222.3h6.0M352.9 1222.3h11.8M376.1 1222.3h6.0M428.1 1222.3h6.0M439.7 1222.3h6.0M480.2 1222.3h6.0M543.8 1222.3h6.0M272.0 1225.1h6.0M289.3 1225.1h11.8M329.8 1225.1h6.0M364.5 1225.1h6.0M381.9 1225.1h6.0M393.4 1225.1h6.0M405.0 1225.1h6.0M445.5 1225.1h23.4"/>
<path stroke="#00bf40" d="M567.0 1178.2h6.0M266.2 1183.7h11.8M289.3 1183.7h6.0M364.5 1183.7h11.8M387.6 1183.7h17.6M410.8 1183.7h6.0M457.1 1183.7h11.8M549.6 1183.7h23.4M266.2 1186.5h6.0M277.8 1186.5h11.8M300.9 1186.5h6.0M318.2 1186.5h6.0M335.6 1186.5h23.4M364.5 1186.5h17.6M387.6 1186.5h6.0M405.0 1186.5h11.8M422.4 1186.5h6.0M445.5 1186.5h11.8M468.6 1186.5h6.0M503.3 1186.5h6.0M532.2 1186.5h17.6M277.8 1189.2h6.0M306.7 1189.2h6.0M318.2 1189.2h6.0M341.4 1189.2h6.0M358.7 1189.2h6.0M387.6 1189.2h6.0M422.4 1189.2h11.8M439.7 1189.2h6.0M468.6 1189.2h11.8M503.3 1189.2h6.0M520.7 1189.2h6.0M532.2 1189.2h6.0M578.5 1189.2h11.8M428.1 1192.0h6.0M468.6 1192.0h6.0M480.2 1192.0h6.0M509.1 1192.0h6.0M526.5 1192.0h6.0M595.9 1192.0h17.6M474.4 1194.7h11.8M520.7 1194.7h11.8M584.3 1194.7h17.6M474.4 1197.5h6.0M526.5 1197.5h6.0M590.1 1197.5h6.0M601.7 1197.5h6.0M590.1 1200.2h6.0M601.7 1200.2h11.8M601.7 1203.0h11.8M590.1 1205.8h6.0M601.7 1205.8h6.0M584.3 1208.5h23.4M584.3 1211.3h6.0M532.2 1214.0h6.0M584.3 1214.0h6.0M532.2 1216.8h6.0M352.9 1219.6h6.0M376.1 1219.6h6.0M387.6 1219.6h6.0M416.6 1219.6h17.6M439.7 1219.6h6.0M474.4 1219.6h11.8M509.1 1219.6h11.8M538.0 1219.6h6.0M567.0 1219.6h6.0M266.2 1222.3h11.8M289.3 1222.3h6.0M306.7 1222.3h6.0M335.6 1222.3h17.6M364.5 1222.3h11.8M381.9 1222.3h6.0M410.8 1222.3h17.6M433.9 1222.3h6.0M457.1 1222.3h6.0M468.6 1222.3h6.0M503.3 1222.3h17.6M324.0 1225.1h6.0"/>
<path stroke="#00df20" d="M324.0 1183.7h11.8M572.7 1183.7h6.0M272.0 1186.5h6.0M289.3 1186.5h6.0M329.8 1186.5h6.0M381.9 1186.5h6.0M393.4 1186.5h6.0M457.1 1186.5h6.0M549.6 1186.5h23.4M266.2 1189.2h11.8M300.9 1189.2h6.0M312.5 1189.2h6.0M329.8 1189.2h11.8M347.2 1189.2h6.0M364.5 1189.2h6.0M399.2 1189.2h23.4M433.9 1189.2h6.0M451.3 1189.2h11.8M509.1 1189.2h11.8M538.0 1189.2h17.6M572.7 1189.2h6.0M283.5 1192.0h6.0M306.7 1192.0h11.8M352.9 1192.0h23.4M399.2 1192.0h29.2M433.9 1192.0h11.8M457.1 1192.0h11.8M474.4 1192.0h6.0M520.7 1192.0h6.0M532.2 1192.0h11.8M567.0 1192.0h6.0M578.5 1192.0h6.0M306.7 1194.7h11.8M335.6 1194.7h6.0M347.2 1194.7h11.8M416.6 1194.7h17.6M439.7 1194.7h6.0M468.6 1194.7h6.0M503.3 1194.7h11.8M532.2 1194.7h6.0M578.5 1194.7h6.0M601.7 1194.7h6.0M433.9 1197.5h6.0M532.2 1197.5h11.8M584.3 1197.5h6.0M595.9 1197.5h6.0M358.7 1200.2h6.0M480.2 1200.2h6.0M503.3 1200.2h6.0M520.7 1200.2h11.8M584.3 1200.2h6.0M595.9 1200.2h6.0M312.5 1203.0h6.0M520.7 1203.0h11.8M578.5 1203.0h6.0M590.1 1203.0h11.8M433.9 1205.8h6.0M474.4 1205.8h6.0M526.5 1205.8h6.0M584.3 1205.8h6.0M595.9 1205.8h6.0M416.6 1208.5h6.0M480.2 1208.5h6.0M526.5 1208.5h6.0M578.5 1208.5h6.0M480.2 1211.3h6.0M509.1 1211.3h6.0M538.0 1211.3h11.8M578.5 1211.3h6.0M595.9 1211.3h6.0M306.7 1214.0h11.8M341.4 1214.0h6.0M433.9 1214.0h6.0M480.2 1214.0h6.0M526.5 1214.0h6.0M538.0 1214.0h6.0M572.7 1214.0h11.8M266.2 1216.8h6.0M318.2 1216.8h6.0M341.4 1216.8h6.0M416.6 1216.8h6.0M433.9 1216.8h6.0M474.4 1216.8h11.8M509.1 1216.8h6.0M520.7 1216.8h6.0M538.0 1216.8h23.4M567.0 1216.8h11.8M272.0 1219.6h11.8M300.9 1219.6h17.6M335.6 1219.6h11.8M358.7 1219.6h6.0M393.4 1219.6h6.0M405.0 1219.6h11.8M433.9 1219.6h6.0M462.8 1219.6h11.8M503.3 1219.6h6.0M549.6 1219.6h11.8M277.8 1222.3h6.0M295.1 1222.3h11.8M318.2 1222.3h17.6M387.6 1222.3h23.4M445.5 1222.3h11.8M462.8 1222.3h6.0"/>
<path stroke="#00ff00" d="M295.1 1186.5h6.0M324.0 1186.5h6.0M572.7 1186.5h6.0M283.5 1189.2h17.6M324.0 1189.2h6.0M352.9 1189.2h6.0M370.3 1189.2h17.6M445.5 1189.2h6.0M462.8 1189.2h6.0M555.4 1189.2h17.6M266.2 1192.0h17.6M289.3 1192.0h17.6M318.2 1192.0h6.0M329.8 1192.0h23.4M376.1 1192.0h6.0M393.4 1192.0h6.0M445.5 1192.0h11.8M503.3 1192.0h6.0M543.8 1192.0h23.4M572.7 1192.0h6.0M272.0 1194.7h17.6M300.9 1194.7h6.0M318.2 1194.7h6.0M341.4 1194.7h6.0M358.7 1194.7h6.0M370.3 1194.7h46.5M433.9 1194.7h6.0M457.1 1194.7h11.8M514.9 1194.7h6.0M538.0 1194.7h29.2M266.2 1197.5h6.0M277.8 1197.5h23.4M306.7 1197.5h11.8M335.6 1197.5h29.2M376.1 1197.5h6.0M393.4 1197.5h6.0M410.8 1197.5h23.4M439.7 1197.5h11.8M468.6 1197.5h6.0M480.2 1197.5h6.0M514.9 1197.5h11.8M543.8 1197.5h6.0M561.2 1197.5h6.0M578.5 1197.5h6.0M272.0 1200.2h6.0M300.9 1200.2h11.8M318.2 1200.2h6.0M341.4 1200.2h6.0M352.9 1200.2h6.0M364.5 1200.2h6.0M381.9 1200.2h6.0M393.4 1200.2h6.0M410.8 1200.2h35.0M457.1 1200.2h6.0M468.6 1200.2h11.8M509.1 1200.2h11.8M561.2 1200.2h6.0M578.5 1200.2h6.0M266.2 1203.0h6.0M277.8 1203.0h6.0M306.7 1203.0h6.0M318.2 1203.0h6.0M335.6 1203.0h11.8M352.9 1203.0h11.8M422.4 1203.0h11.8M445.5 1203.0h6.0M468.6 1203.0h17.6M503.3 1203.0h6.0M532.2 1203.0h11.8M584.3 1203.0h6.0M272.0 1205.8h6.0M306.7 1205.8h11.8M341.4 1205.8h11.8M358.7 1205.8h6.0M410.8 1205.8h17.6M468.6 1205.8h6.0M480.2 1205.8h6.0M520.7 1205.8h6.0M532.2 1205.8h6.0M572.7 1205.8h11.8M272.0 1208.5h6.0M283.5 1208.5h6.0M300.9 1208.5h6.0M312.5 1208.5h6.0M352.9 1208.5h6.0M422.4 1208.5h6.0M433.9 1208.5h6.0M468.6 1208.5h11.8M520.7 1208.5h6.0M532.2 1208.5h17.6M555.4 1208.5h23.4M306.7 1211.3h11.8M335.6 1211.3h6.0M352.9 1211.3h6.0M364.5 1211.3h6.0M410.8 1211.3h11.8M428.1 1211.3h11.8M468.6 1211.3h11.8M503.3 1211.3h6.0M520.7 1211.3h17.6M561.2 1211.3h11.8M266.2 1214.0h6.0M277.8 1214.0h11.8M335.6 1214.0h6.0M347.2 1214.0h17.6M370.3 1214.0h6.0M410.8 1214.0h6.0M422.4 1214.0h11.8M439.7 1214.0h6.0M451.3 1214.0h11.8M468.6 1214.0h11.8M503.3 1214.0h6.0M514.9 1214.0h11.8M549.6 1214.0h23.4M272.0 1216.8h6.0M283.5 1216.8h6.0M295.1 1216.8h23.4M335.6 1216.8h6.0M347.2 1216.8h29.2M410.8 1216.8h6.0M422.4 1216.8h11.8M439.7 1216.8h6.0M451.3 1216.8h6.0M468.6 1216.8h6.0M514.9 1216.8h6.0M561.2 1216.8h6.0M266.2 1219.6h6.0M283.5 1219.6h6.0M295.1 1219.6h6.0M318.2 1219.6h6.0M347.2 1219.6h6.0M364.5 1219.6h11.8M381.9 1219.6h6.0M399.2 1219.6h6.0M445.5 1219.6h17.6"/>
<path stroke="#20ff00" d="M393.4 1189.2h6.0M324.0 1192.0h6.0M381.9 1192.0h11.8M514.9 1192.0h6.0M266.2 1194.7h6.0M289.3 1194.7h11.8M324.0 1194.7h11.8M364.5 1194.7h6.0M445.5 1194.7h11.8M567.0 1194.7h11.8M272.0 1197.5h6.0M300.9 1197.5h6.0M318.2 1197.5h17.6M364.5 1197.5h11.8M381.9 1197.5h11.8M399.2 1197.5h6.0M451.3 1197.5h17.6M503.3 1197.5h11.8M549.6 1197.5h11.8M567.0 1197.5h11.8M266.2 1200.2h6.0M277.8 1200.2h23.4M312.5 1200.2h6.0M329.8 1200.2h11.8M347.2 1200.2h6.0M370.3 1200.2h11.8M387.6 1200.2h6.0M405.0 1200.2h6.0M445.5 1200.2h11.8M462.8 1200.2h6.0M532.2 1200.2h29.2M567.0 1200.2h11.8M272.0 1203.0h6.0M283.5 1203.0h23.4M347.2 1203.0h6.0M364.5 1203.0h6.0M376.1 1203.0h29.2M410.8 1203.0h11.8M433.9 1203.0h11.8M457.1 1203.0h11.8M509.1 1203.0h11.8M543.8 1203.0h11.8M561.2 1203.0h17.6M277.8 1205.8h29.2M318.2 1205.8h11.8M335.6 1205.8h6.0M352.9 1205.8h6.0M364.5 1205.8h17.6M393.4 1205.8h6.0M428.1 1205.8h6.0M439.7 1205.8h6.0M462.8 1205.8h6.0M503.3 1205.8h17.6M538.0 1205.8h35.0M266.2 1208.5h6.0M277.8 1208.5h6.0M295.1 1208.5h6.0M306.7 1208.5h6.0M318.2 1208.5h6.0M335.6 1208.5h17.6M358.7 1208.5h23.4M393.4 1208.5h6.0M428.1 1208.5h6.0M439.7 1208.5h29.2M503.3 1208.5h17.6M549.6 1208.5h6.0M266.2 1211.3h29.2M300.9 1211.3h6.0M318.2 1211.3h6.0M341.4 1211.3h11.8M358.7 1211.3h6.0M370.3 1211.3h11.8M422.4 1211.3h6.0M439.7 1211.3h23.4M514.9 1211.3h6.0M549.6 1211.3h11.8M572.7 1211.3h6.0M272.0 1214.0h6.0M289.3 1214.0h17.6M318.2 1214.0h6.0M364.5 1214.0h6.0M376.1 1214.0h35.0M416.6 1214.0h6.0M445.5 1214.0h6.0M462.8 1214.0h6.0M509.1 1214.0h6.0M543.8 1214.0h6.0M277.8 1216.8h6.0M289.3 1216.8h6.0M329.8 1216.8h6.0M376.1 1216.8h6.0M387.6 1216.8h23.4M445.5 1216.8h6.0M457.1 1216.8h11.8M503.3 1216.8h6.0M289.3 1219.6h6.0M324.0 1219.6h11.8"/>
<path stroke="#40ff00" d="M405.0 1197.5h6.0M324.0 1200.2h6.0M399.2 1200.2h6.0M329.8 1203.0h6.0M370.3 1203.0h6.0M405.0 1203.0h6.0M451.3 1203.0h6.0M555.4 1203.0h6.0M266.2 1205.8h6.0M329.8 1205.8h6.0M381.9 1205.8h11.8M399.2 1205.8h11.8M445.5 1205.8h17.6M289.3 1208.5h6.0M324.0 1208.5h11.8M381.9 1208.5h11.8M399.2 1208.5h17.6M295.1 1211.3h6.0M329.8 1211.3h6.0M381.9 1211.3h29.2M462.8 1211.3h6.0M324.0 1214.0h6.0M324.0 1216.8h6.0M381.9 1216.8h6.0"/>
<path stroke="#60ff00" d="M324.0 1203.0h6.0M324.0 1211.3h6.0M329.8 1214.0h6.0"/>
</g>
<path d="M293.14 798.40V1375.90M346.48 798.40V1375.90M399.81 798.40V1375.90M506.49 798.40V1375.90M559.83 798.40V1375.90M613.16 798.40V1375.90M719.84 798.40V1375.90M773.17 798.40V1375.90M826.51 798.40V1375.90M933.19 798.40V1375.90M986.53 798.40V1375.90M1039.86 798.40V1375.90" stroke="#808080" stroke-width="2.2" stroke-dasharray="2.2 3.67" fill="none"/>
<path d="M453.15 806.40V1375.90M666.50 806.40V1375.90M879.85 806.40V1375.90" stroke="#808080" stroke-width="4.1" stroke-dasharray="4.1 6.95" fill="none"/>
<path d="M239.80 796.90v9.7M239.80 1375.90v-9.7M453.15 796.90v9.7M453.15 1375.90v-9.7M666.50 796.90v9.7M666.50 1375.90v-9.7M879.85 796.90v9.7M879.85 1375.90v-9.7M1093.20 796.90v9.7M1093.20 1375.90v-9.7" stroke="#000" stroke-width="2.2" fill="none"/>
<path d="M293.14 796.90v5.6M293.14 1375.90v-5.6M346.48 796.90v5.6M346.48 1375.90v-5.6M399.81 796.90v5.6M399.81 1375.90v-5.6M506.49 796.90v5.6M506.49 1375.90v-5.6M559.83 796.90v5.6M559.83 1375.90v-5.6M613.16 796.90v5.6M613.16 1375.90v-5.6M719.84 796.90v5.6M719.84 1375.90v-5.6M773.17 796.90v5.6M773.17 1375.90v-5.6M826.51 796.90v5.6M826.51 1375.90v-5.6M933.19 796.90v5.6M933.19 1375.90v-5.6M986.53 796.90v5.6M986.53 1375.90v-5.6M1039.86 796.90v5.6M1039.86 1375.90v-5.6" stroke="#000" stroke-width="1.7" fill="none"/>
<path d="M239.80 1238.86h9.7M1093.20 1238.86h-9.7M239.80 1100.96h9.7M1093.20 1100.96h-9.7M239.80 963.06h9.7M1093.20 963.06h-9.7M239.80 825.16h9.7M1093.20 825.16h-9.7M239.80 1374.00h9.7M1093.20 1374.00h-9.7" stroke="#000" stroke-width="2.2" fill="none"/>
<path d="M239.80 1349.18h5.6M1093.20 1349.18h-5.6M239.80 1321.60h5.6M1093.20 1321.60h-5.6M239.80 1294.02h5.6M1093.20 1294.02h-5.6M239.80 1266.44h5.6M1093.20 1266.44h-5.6M239.80 1211.28h5.6M1093.20 1211.28h-5.6M239.80 1183.70h5.6M1093.20 1183.70h-5.6M239.80 1156.12h5.6M1093.20 1156.12h-5.6M239.80 1128.54h5.6M1093.20 1128.54h-5.6M239.80 1073.38h5.6M1093.20 1073.38h-5.6M239.80 1045.80h5.6M1093.20 1045.80h-5.6M239.80 1018.22h5.6M1093.20 1018.22h-5.6M239.80 990.64h5.6M1093.20 990.64h-5.6M239.80 935.48h5.6M1093.20 935.48h-5.6M239.80 907.90h5.6M1093.20 907.90h-5.6M239.80 880.32h5.6M1093.20 880.32h-5.6M239.80 852.74h5.6M1093.20 852.74h-5.6M239.80 797.58h5.6M1093.20 797.58h-5.6" stroke="#000" stroke-width="1.7" fill="none"/>
<rect x="239.80" y="796.90" width="853.40" height="579.00" fill="none" stroke="#000" stroke-width="2.2"/>
<text transform="translate(229.60,834.46)" x="-47.72" y="0" font-size="26.38" textLength="47.72" lengthAdjust="spacingAndGlyphs">200</text>
<text transform="translate(229.60,972.36)" x="-47.72" y="0" font-size="26.38" textLength="47.72" lengthAdjust="spacingAndGlyphs">150</text>
<text transform="translate(229.60,1110.26)" x="-47.72" y="0" font-size="26.38" textLength="47.72" lengthAdjust="spacingAndGlyphs">100</text>
<text transform="translate(229.60,1248.16)" x="-31.81" y="0" font-size="26.38" textLength="31.81" lengthAdjust="spacingAndGlyphs">50</text>
<text transform="translate(229.60,1383.30)" x="-15.91" y="0" font-size="26.38" textLength="15.91" lengthAdjust="spacingAndGlyphs">1</text>
<text transform="translate(127.50,1101.40) rotate(-90)" x="-55.28" y="0" font-size="29.31" textLength="110.56" lengthAdjust="spacingAndGlyphs">TOA Bin</text>
<defs><linearGradient id="cbA" x1="0" y1="1" x2="0" y2="0"><stop offset="0.0" stop-color="#ffffff"/><stop offset="0.2" stop-color="#9933ff"/><stop offset="0.4" stop-color="#0000ff"/><stop offset="0.6" stop-color="#00ff00"/><stop offset="0.8" stop-color="#ffff00"/><stop offset="1.0" stop-color="#ff0000"/></linearGradient></defs>
<rect x="1204.60" y="202.40" width="27.10" height="553.00" fill="url(#cbA)" stroke="#000" stroke-width="2.2"/>
<path d="M1231.70 686.27h-9.7M1231.70 617.15h-9.7M1231.70 548.02h-9.7M1231.70 478.90h-9.7M1231.70 409.77h-9.7M1231.70 340.65h-9.7M1231.70 271.52h-9.7" stroke="#000" stroke-width="2.2" fill="none"/>
<text transform="translate(1242.20,764.70)" x="0.00" y="0" font-size="26.38" textLength="47.19" lengthAdjust="spacingAndGlyphs">1e0</text>
<text transform="translate(1242.20,626.45)" x="0.00" y="0" font-size="26.38" textLength="47.19" lengthAdjust="spacingAndGlyphs">1e1</text>
<text transform="translate(1242.20,488.20)" x="0.00" y="0" font-size="26.38" textLength="47.19" lengthAdjust="spacingAndGlyphs">1e2</text>
<text transform="translate(1242.20,349.95)" x="0.00" y="0" font-size="26.38" textLength="47.19" lengthAdjust="spacingAndGlyphs">1e3</text>
<text transform="translate(1242.20,280.82)" x="0.00" y="0" font-size="26.38" textLength="47.19" lengthAdjust="spacingAndGlyphs">1e4</text>
<text transform="translate(1242.20,211.70)" x="0.00" y="0" font-size="26.38" textLength="47.19" lengthAdjust="spacingAndGlyphs">1e5</text>
<text transform="translate(1325.70,478.90) rotate(-90)" x="-168.05" y="0" font-size="29.31" textLength="336.11" lengthAdjust="spacingAndGlyphs">Pixel Counts per Second</text>
<defs><linearGradient id="cbB" x1="0" y1="1" x2="0" y2="0"><stop offset="0.0" stop-color="#ffffff"/><stop offset="0.2" stop-color="#9933ff"/><stop offset="0.4" stop-color="#0000ff"/><stop offset="0.6" stop-color="#00ff00"/><stop offset="0.8" stop-color="#ffff00"/><stop offset="1.0" stop-color="#ff0000"/></linearGradient></defs>
<rect x="1204.60" y="810.30" width="27.10" height="552.90" fill="url(#cbB)" stroke="#000" stroke-width="2.2"/>
<path d="M1231.70 1294.09h-9.7M1231.70 1224.97h-9.7M1231.70 1155.86h-9.7M1231.70 1086.75h-9.7M1231.70 1017.64h-9.7M1231.70 948.52h-9.7M1231.70 879.41h-9.7" stroke="#000" stroke-width="2.2" fill="none"/>
<text transform="translate(1242.20,1372.50)" x="0.00" y="0" font-size="26.38" textLength="47.19" lengthAdjust="spacingAndGlyphs">1e0</text>
<text transform="translate(1242.20,1234.27)" x="0.00" y="0" font-size="26.38" textLength="47.19" lengthAdjust="spacingAndGlyphs">1e1</text>
<text transform="translate(1242.20,1096.05)" x="0.00" y="0" font-size="26.38" textLength="47.19" lengthAdjust="spacingAndGlyphs">1e2</text>
<text transform="translate(1242.20,957.82)" x="0.00" y="0" font-size="26.38" textLength="47.19" lengthAdjust="spacingAndGlyphs">1e3</text>
<text transform="translate(1242.20,888.71)" x="0.00" y="0" font-size="26.38" textLength="47.19" lengthAdjust="spacingAndGlyphs">1e4</text>
<text transform="translate(1242.20,819.60)" x="0.00" y="0" font-size="26.38" textLength="47.19" lengthAdjust="spacingAndGlyphs">1e5</text>
<text transform="translate(1325.70,1086.75) rotate(-90)" x="-163.33" y="0" font-size="29.31" textLength="326.67" lengthAdjust="spacingAndGlyphs">TOF Counts per Second</text>
<text transform="translate(168.40,1422.00)" x="-36.39" y="0" font-size="28.59" textLength="36.39" lengthAdjust="spacingAndGlyphs">UT</text>
<text transform="translate(250.50,1421.00)" x="-60.86" y="0" font-size="28.59" textLength="121.72" lengthAdjust="spacingAndGlyphs">17:53:59</text>
<text transform="translate(460.50,1421.00)" x="-60.86" y="0" font-size="28.59" textLength="121.72" lengthAdjust="spacingAndGlyphs">17:55:12</text>
<text transform="translate(669.40,1421.00)" x="-60.86" y="0" font-size="28.59" textLength="121.72" lengthAdjust="spacingAndGlyphs">17:56:26</text>
<text transform="translate(879.30,1421.00)" x="-60.86" y="0" font-size="28.59" textLength="121.72" lengthAdjust="spacingAndGlyphs">17:57:40</text>
<text transform="translate(1088.00,1421.00)" x="-60.86" y="0" font-size="28.59" textLength="121.72" lengthAdjust="spacingAndGlyphs">17:58:54</text>
<text transform="translate(168.40,1454.20)" x="-118.31" y="0" font-size="28.59" textLength="118.31" lengthAdjust="spacingAndGlyphs">ALT (km)</text>
<text transform="translate(250.50,1454.20)" x="-38.79" y="0" font-size="28.59" textLength="77.58" lengthAdjust="spacingAndGlyphs">386.4</text>
<text transform="translate(460.50,1454.20)" x="-38.79" y="0" font-size="28.59" textLength="77.58" lengthAdjust="spacingAndGlyphs">407.1</text>
<text transform="translate(669.40,1454.20)" x="-38.79" y="0" font-size="28.59" textLength="77.58" lengthAdjust="spacingAndGlyphs">430.5</text>
<text transform="translate(879.30,1454.20)" x="-38.79" y="0" font-size="28.59" textLength="77.58" lengthAdjust="spacingAndGlyphs">456.3</text>
<text transform="translate(1088.00,1454.20)" x="-38.79" y="0" font-size="28.59" textLength="77.58" lengthAdjust="spacingAndGlyphs">484.4</text>
<text transform="translate(168.40,1486.60)" x="-129.55" y="0" font-size="28.59" textLength="129.55" lengthAdjust="spacingAndGlyphs">LAT (deg)</text>
<text transform="translate(250.50,1486.60)" x="-30.17" y="0" font-size="28.59" textLength="60.34" lengthAdjust="spacingAndGlyphs">68.8</text>
<text transform="translate(460.50,1486.60)" x="-30.17" y="0" font-size="28.59" textLength="60.34" lengthAdjust="spacingAndGlyphs">73.1</text>
<text transform="translate(669.40,1486.60)" x="-30.17" y="0" font-size="28.59" textLength="60.34" lengthAdjust="spacingAndGlyphs">77.0</text>
<text transform="translate(879.30,1486.60)" x="-30.17" y="0" font-size="28.59" textLength="60.34" lengthAdjust="spacingAndGlyphs">79.9</text>
<text transform="translate(1088.00,1486.60)" x="-30.17" y="0" font-size="28.59" textLength="60.34" lengthAdjust="spacingAndGlyphs">81.0</text>
<text transform="translate(168.40,1518.70)" x="-136.57" y="0" font-size="28.59" textLength="136.57" lengthAdjust="spacingAndGlyphs">LON (deg)</text>
<text transform="translate(250.50,1518.70)" x="-43.68" y="0" font-size="28.59" textLength="87.36" lengthAdjust="spacingAndGlyphs">-103.3</text>
<text transform="translate(460.50,1518.70)" x="-35.06" y="0" font-size="28.59" textLength="70.12" lengthAdjust="spacingAndGlyphs">-96.3</text>
<text transform="translate(669.40,1518.70)" x="-35.06" y="0" font-size="28.59" textLength="70.12" lengthAdjust="spacingAndGlyphs">-84.8</text>
<text transform="translate(879.30,1518.70)" x="-35.06" y="0" font-size="28.59" textLength="70.12" lengthAdjust="spacingAndGlyphs">-65.5</text>
<text transform="translate(1088.00,1518.70)" x="-35.06" y="0" font-size="28.59" textLength="70.12" lengthAdjust="spacingAndGlyphs">-37.1</text>
<text transform="translate(168.40,1551.10)" x="-152.93" y="0" font-size="28.59" textLength="152.93" lengthAdjust="spacingAndGlyphs">MLAT (deg)</text>
<text transform="translate(250.50,1551.10)" x="-30.17" y="0" font-size="28.59" textLength="60.34" lengthAdjust="spacingAndGlyphs">76.1</text>
<text transform="translate(460.50,1551.10)" x="-30.17" y="0" font-size="28.59" textLength="60.34" lengthAdjust="spacingAndGlyphs">81.0</text>
<text transform="translate(669.40,1551.10)" x="-30.17" y="0" font-size="28.59" textLength="60.34" lengthAdjust="spacingAndGlyphs">85.8</text>
<text transform="translate(879.30,1551.10)" x="-30.17" y="0" font-size="28.59" textLength="60.34" lengthAdjust="spacingAndGlyphs">88.7</text>
<text transform="translate(1088.00,1551.10)" x="-30.17" y="0" font-size="28.59" textLength="60.34" lengthAdjust="spacingAndGlyphs">84.3</text>
<text transform="translate(168.40,1583.00)" x="-123.50" y="0" font-size="28.59" textLength="123.50" lengthAdjust="spacingAndGlyphs">MLT (hrs)</text>
<text transform="translate(250.50,1583.00)" x="-21.55" y="0" font-size="28.59" textLength="43.10" lengthAdjust="spacingAndGlyphs">9.7</text>
<text transform="translate(460.50,1583.00)" x="-21.55" y="0" font-size="28.59" textLength="43.10" lengthAdjust="spacingAndGlyphs">9.9</text>
<text transform="translate(669.40,1583.00)" x="-30.17" y="0" font-size="28.59" textLength="60.34" lengthAdjust="spacingAndGlyphs">10.4</text>
<text transform="translate(879.30,1583.00)" x="-30.17" y="0" font-size="28.59" textLength="60.34" lengthAdjust="spacingAndGlyphs">17.9</text>
<text transform="translate(1088.00,1583.00)" x="-30.17" y="0" font-size="28.59" textLength="60.34" lengthAdjust="spacingAndGlyphs">20.7</text>
<path d="M1592.81 193.20V437.80M1641.83 193.20V437.80M1690.84 193.20V437.80M1788.86 193.20V437.80M1837.88 193.20V437.80M1886.89 193.20V437.80M1984.91 193.20V437.80M2033.92 193.20V437.80M2082.94 193.20V437.80M2180.96 193.20V437.80M2229.97 193.20V437.80M2278.99 193.20V437.80" stroke="#808080" stroke-width="2.2" stroke-dasharray="2.2 3.67" fill="none"/>
<path d="M1739.85 201.20V437.80M1935.90 201.20V437.80M2131.95 201.20V437.80" stroke="#808080" stroke-width="4.1" stroke-dasharray="4.1 6.95" fill="none"/>
<path d="M1544.6 312.4L1548.1 312.5L1551.5 312.4L1555.0 312.8L1558.4 312.5L1561.9 313.8L1565.3 314.4L1567.0 314.4L1570.5 313.1L1573.4 309.5L1576.5 308.5L1580.3 311.7L1586.0 313.3L1591.6 312.4L1597.2 313.1L1602.3 316.5L1608.3 318.2L1613.5 328.0L1618.7 330.6L1624.7 332.8L1630.4 330.9L1635.9 332.1L1641.6 329.2L1647.1 322.2L1652.6 322.4L1658.3 321.8L1664.0 322.5L1669.5 321.4L1675.2 318.1L1680.7 312.1L1686.2 318.3L1691.3 313.7L1697.0 317.2L1702.7 318.5L1708.2 314.8L1713.9 311.3L1719.4 312.1L1725.1 320.4L1730.6 320.5L1736.1 312.3L1741.8 309.8L1747.3 311.3L1753.0 308.9L1758.5 308.3L1763.8 304.1L1769.3 303.8L1774.5 308.2L1780.2 310.4L1785.7 307.0L1791.2 307.5L1796.9 307.1L1802.1 304.5L1807.6 305.7L1813.3 305.0L1818.8 305.5L1824.1 308.1L1830.0 307.5L1834.8 303.6L1839.9 303.8L1846.0 303.7L1851.5 303.8L1856.8 303.9L1862.3 305.0L1867.8 304.4L1873.5 303.6L1879.0 303.6L1884.7 304.0L1889.9 304.3L1895.6 304.3L1900.0 305.1L1906.4 306.3L1911.7 306.8L1917.0 307.7L1922.3 307.0L1927.6 307.6L1933.0 308.9L1938.3 308.6L1944.6 308.7L1949.3 308.6L1955.3 309.6L1960.6 310.3L1965.9 310.5L1971.2 310.2L1976.5 310.0L1981.8 311.2L1987.2 310.9L1992.5 311.2L1997.8 311.4L2003.5 311.6L2008.8 311.5L2014.8 311.5L2019.7 311.4L2025.4 312.1L2030.7 312.2L2036.1 312.1L2041.4 312.4L2046.7 312.3L2052.0 312.5L2058.0 312.7L2063.3 312.7L2069.0 312.7L2074.3 312.8L2080.7 312.8L2086.0 312.9L2091.3 312.9L2096.6 313.2L2102.0 313.5L2107.3 313.9L2112.6 313.9L2119.0 314.0L2129.6 313.9L2140.2 313.9L2150.9 314.2L2161.5 314.2L2176.4 314.3L2197.6 314.4L2218.9 314.6L2240.1 314.6L2261.4 314.7L2282.7 314.7L2299.7 314.7L2308.2 314.6L2314.5 314.3L2318.8 313.9L2323.0 313.0L2326.2 312.6" fill="none" stroke="#000" stroke-width="2.45" stroke-linejoin="round"/>
<path d="M1544.6 302.6L1548.1 303.1L1551.5 302.3L1555.0 304.3L1558.4 303.1L1561.9 309.5L1565.3 312.6L1567.0 312.2L1570.5 305.7L1573.4 288.1L1576.5 282.8L1580.3 298.8L1586.0 306.9L1591.6 302.6L1597.2 306.0L1602.3 322.9L1608.3 331.2L1613.5 380.6L1618.7 393.5L1624.7 404.2L1630.4 394.9L1635.9 400.9L1641.6 386.6L1647.1 351.3L1652.6 352.2L1658.3 349.3L1664.0 353.1L1669.5 347.4L1675.2 330.7L1680.7 301.1L1686.2 331.9L1691.3 309.1L1697.0 326.4L1702.7 332.7L1708.2 314.3L1713.9 297.1L1719.4 301.1L1725.1 342.4L1730.6 342.9L1736.1 301.9L1741.8 289.3L1747.3 296.7L1753.0 285.0L1758.5 282.1L1763.8 260.9L1769.3 259.6L1774.5 281.6L1780.2 292.3L1785.7 275.2L1791.2 277.8L1796.9 276.1L1802.1 263.0L1807.6 268.7L1813.3 265.2L1818.8 267.8L1824.1 280.9L1830.0 278.1L1834.8 258.3L1839.9 259.2L1846.0 258.7L1851.5 259.2L1856.8 259.7L1862.3 265.6L1867.8 262.3L1873.5 258.3L1879.0 258.3L1884.7 260.2L1889.9 262.1L1895.6 262.0L1900.0 266.1L1906.4 272.0L1911.7 274.2L1917.0 279.1L1922.3 275.2L1927.6 278.4L1933.0 284.8L1938.3 283.5L1944.6 284.0L1949.3 283.5L1955.3 288.4L1960.6 292.0L1965.9 293.1L1971.2 291.2L1976.5 290.5L1981.8 296.5L1987.2 295.0L1992.5 296.5L1997.8 297.6L2003.5 298.6L2008.8 297.8L2014.8 298.0L2019.7 297.6L2025.4 300.7L2030.7 301.4L2036.1 301.0L2041.4 302.4L2046.7 301.8L2052.0 302.9L2058.0 304.1L2063.3 304.1L2069.0 303.9L2074.3 304.6L2080.7 304.6L2086.0 305.0L2091.3 305.0L2096.6 306.3L2102.0 308.0L2107.3 309.7L2112.6 310.1L2119.0 310.3L2129.6 310.1L2140.2 310.1L2150.9 311.2L2161.5 311.4L2176.4 312.0L2197.6 312.4L2218.9 313.5L2240.1 313.3L2261.4 313.9L2282.7 314.1L2299.7 313.9L2308.2 313.3L2314.5 311.8L2318.8 309.7L2323.0 305.4L2326.2 303.3" fill="none" stroke="#0000ff" stroke-width="2.45" stroke-linejoin="round"/>
<path d="M1543.80 191.70v9.7M1543.80 437.80v-9.7M1739.85 191.70v9.7M1739.85 437.80v-9.7M1935.90 191.70v9.7M1935.90 437.80v-9.7M2131.95 191.70v9.7M2131.95 437.80v-9.7M2328.00 191.70v9.7M2328.00 437.80v-9.7" stroke="#000" stroke-width="2.2" fill="none"/>
<path d="M1592.81 191.70v5.6M1592.81 437.80v-5.6M1641.83 191.70v5.6M1641.83 437.80v-5.6M1690.84 191.70v5.6M1690.84 437.80v-5.6M1788.86 191.70v5.6M1788.86 437.80v-5.6M1837.88 191.70v5.6M1837.88 437.80v-5.6M1886.89 191.70v5.6M1886.89 437.80v-5.6M1984.91 191.70v5.6M1984.91 437.80v-5.6M2033.92 191.70v5.6M2033.92 437.80v-5.6M2082.94 191.70v5.6M2082.94 437.80v-5.6M2180.96 191.70v5.6M2180.96 437.80v-5.6M2229.97 191.70v5.6M2229.97 437.80v-5.6M2278.99 191.70v5.6M2278.99 437.80v-5.6" stroke="#000" stroke-width="1.7" fill="none"/>
<path d="M1543.80 427.10h9.7M2328.00 427.10h-9.7M1543.80 371.00h9.7M2328.00 371.00h-9.7M1543.80 314.90h9.7M2328.00 314.90h-9.7M1543.80 258.80h9.7M2328.00 258.80h-9.7M1543.80 202.70h9.7M2328.00 202.70h-9.7" stroke="#000" stroke-width="2.2" fill="none"/>
<path d="M1543.80 415.88h5.6M2328.00 415.88h-5.6M1543.80 404.66h5.6M2328.00 404.66h-5.6M1543.80 393.44h5.6M2328.00 393.44h-5.6M1543.80 382.22h5.6M2328.00 382.22h-5.6M1543.80 359.78h5.6M2328.00 359.78h-5.6M1543.80 348.56h5.6M2328.00 348.56h-5.6M1543.80 337.34h5.6M2328.00 337.34h-5.6M1543.80 326.12h5.6M2328.00 326.12h-5.6M1543.80 303.68h5.6M2328.00 303.68h-5.6M1543.80 292.46h5.6M2328.00 292.46h-5.6M1543.80 281.24h5.6M2328.00 281.24h-5.6M1543.80 270.02h5.6M2328.00 270.02h-5.6M1543.80 247.58h5.6M2328.00 247.58h-5.6M1543.80 236.36h5.6M2328.00 236.36h-5.6M1543.80 225.14h5.6M2328.00 225.14h-5.6M1543.80 213.92h5.6M2328.00 213.92h-5.6" stroke="#000" stroke-width="1.7" fill="none"/>
<rect x="1543.80" y="191.70" width="784.20" height="246.10" fill="none" stroke="#000" stroke-width="2.2"/>
<text transform="translate(1532.30,436.40)" x="-52.76" y="0" font-size="26.38" textLength="52.76" lengthAdjust="spacingAndGlyphs">−10</text>
<text transform="translate(1532.30,380.30)" x="-36.85" y="0" font-size="26.38" textLength="36.85" lengthAdjust="spacingAndGlyphs">−5</text>
<text transform="translate(1532.30,324.20)" x="-15.91" y="0" font-size="26.38" textLength="15.91" lengthAdjust="spacingAndGlyphs">0</text>
<text transform="translate(1532.30,268.10)" x="-15.91" y="0" font-size="26.38" textLength="15.91" lengthAdjust="spacingAndGlyphs">5</text>
<text transform="translate(1532.30,212.00)" x="-31.81" y="0" font-size="26.38" textLength="31.81" lengthAdjust="spacingAndGlyphs">10</text>
<text transform="translate(1456.30,314.75) rotate(-90)" x="-85.73" y="0" font-size="29.31" textLength="171.46" lengthAdjust="spacingAndGlyphs">Current (uA)</text>
<text transform="translate(2335.40,182.00) rotate(90)" x="0.00" y="0" font-size="21.98" textLength="242.24" lengthAdjust="spacingAndGlyphs">Sensor Surface Current</text>
<text transform="translate(2356.60,182.00) rotate(90)" x="0.00" y="0" font-size="21.98" textLength="281.06" lengthAdjust="spacingAndGlyphs" fill="#0000ff">Sensor Surface Current x 5</text>
<path d="M1592.81 464.30V707.90M1641.83 464.30V707.90M1690.84 464.30V707.90M1788.86 464.30V707.90M1837.88 464.30V707.90M1886.89 464.30V707.90M1984.91 464.30V707.90M2033.92 464.30V707.90M2082.94 464.30V707.90M2180.96 464.30V707.90M2229.97 464.30V707.90M2278.99 464.30V707.90" stroke="#808080" stroke-width="2.2" stroke-dasharray="2.2 3.67" fill="none"/>
<path d="M1739.85 472.30V707.90M1935.90 472.30V707.90M2131.95 472.30V707.90" stroke="#808080" stroke-width="4.1" stroke-dasharray="4.1 6.95" fill="none"/>
<path d="M1544.6 706.6L1567.0 706.6L1570.5 703.1L1573.4 674.7L1576.5 668.7L1580.3 657.1L1586.0 652.7L1591.6 656.6L1597.2 654.9L1602.7 658.0L1608.3 649.7L1613.5 638.0L1619.0 638.0L1624.7 633.7L1630.4 639.4L1635.9 642.9L1641.6 644.6L1647.1 649.7L1652.6 642.0L1658.3 640.8L1664.0 629.1L1669.5 629.4L1675.2 637.7L1680.7 648.0L1686.2 639.8L1691.5 653.2L1697.0 641.1L1702.7 637.2L1708.2 643.7L1713.9 649.2L1719.4 647.5L1725.1 631.1L1730.6 629.1L1736.1 646.3L1741.8 654.6L1747.3 654.9L1753.0 661.5L1758.5 663.5L1763.8 678.2L1769.3 676.8L1774.9 683.7L1780.2 696.2L1785.7 686.8L1791.2 669.5L1796.6 657.5L1802.1 665.2L1807.6 662.7L1813.3 664.7L1818.8 662.7L1824.1 653.2L1830.0 657.5L1835.1 668.7L1840.8 665.2L1846.0 669.9L1851.5 664.7L1856.8 664.4L1862.3 658.9L1867.8 662.1L1873.5 668.7L1879.0 668.7L1884.7 670.9L1889.9 673.5L1895.6 674.7L1898.5 676.6L1900.0 677.9L1906.4 681.7L1911.7 683.8L1917.0 687.0L1922.3 684.9L1927.6 685.5L1933.0 689.2L1938.3 688.3L1943.6 687.9L1949.3 688.3L1955.3 690.2L1960.6 692.3L1965.9 692.6L1971.2 691.3L1976.5 690.9L1981.8 694.5L1987.2 693.4L1992.5 694.5L1997.8 695.7L2003.5 695.5L2008.8 695.3L2014.8 695.3L2019.7 694.7L2025.4 696.6L2030.7 697.0L2036.1 696.6L2041.4 697.7L2046.7 697.0L2052.0 697.9L2058.0 698.5L2063.3 698.7L2069.0 698.3L2074.3 698.7L2080.7 698.7L2086.0 698.7L2091.3 698.9L2096.6 700.0L2102.0 701.3L2107.3 702.6L2112.6 702.8L2119.0 703.2L2129.6 702.6L2133.8 703.0L2155.1 703.6L2176.4 704.0L2197.6 704.3L2218.9 704.7L2250.8 704.7L2293.3 704.9L2310.3 704.3L2316.7 703.0L2322.0 700.4L2325.2 697.7" fill="none" stroke="#000" stroke-width="2.45" stroke-linejoin="round"/>
<path d="M1544.6 706.0L1567.0 706.0L1569.9 694.5L1573.4 612.7L1576.5 593.8L1580.3 565.0L1586.0 552.5L1591.6 563.6L1597.2 559.7L1602.7 572.3L1608.3 546.4L1613.5 508.9L1619.0 509.4L1624.7 496.1L1630.4 518.5L1635.9 530.4L1641.6 534.4L1647.1 551.2L1652.6 525.2L1658.3 519.7L1664.0 483.2L1669.5 483.1L1675.2 504.2L1680.7 540.4L1686.2 515.8L1691.5 558.5L1697.0 521.1L1702.7 509.4L1708.2 528.3L1713.9 544.7L1719.4 537.8L1725.1 492.2L1730.6 485.8L1736.1 537.8L1741.8 561.1L1747.8 561.1L1753.0 579.5L1758.5 584.7L1763.8 628.2L1769.3 625.1L1774.9 644.6L1780.2 679.0L1785.7 654.9L1791.2 601.5L1796.6 570.2L1802.1 593.3L1807.6 584.8L1813.3 591.5L1818.8 584.8L1824.1 558.1L1830.0 571.1L1835.1 602.9L1840.8 593.3L1846.0 607.6L1851.5 592.1L1856.8 590.9L1862.3 574.5L1868.4 586.0L1873.5 602.7L1879.0 605.0L1884.7 610.1L1889.9 618.7L1895.6 620.5L1898.5 626.5L1900.0 629.6L1906.4 640.9L1911.7 646.6L1917.0 655.6L1922.3 650.5L1927.6 653.0L1933.0 661.9L1938.3 660.9L1943.6 660.0L1949.3 660.5L1955.3 666.8L1960.6 672.2L1965.9 673.0L1971.2 669.0L1976.5 668.5L1981.8 677.5L1987.2 675.3L1992.5 677.9L1997.8 680.4L2003.5 680.9L2008.8 679.6L2014.8 680.0L2019.7 679.2L2025.4 683.4L2030.7 684.5L2036.1 683.6L2041.4 686.2L2046.7 685.1L2052.0 687.2L2058.0 689.2L2063.3 689.6L2069.0 688.9L2074.3 689.8L2080.7 690.0L2086.0 690.4L2091.3 690.2L2096.6 692.6L2102.0 695.5L2107.3 698.5L2112.6 699.1L2119.0 699.8L2129.6 698.9L2133.8 699.8L2144.5 700.0L2155.1 701.1L2165.7 701.3L2176.4 702.1L2187.0 702.8L2197.6 702.6L2208.2 703.4L2218.9 703.8L2235.9 703.4L2250.8 704.0L2272.0 704.3L2293.3 704.3L2303.9 703.8L2310.3 703.0L2314.5 701.5L2318.8 699.1L2322.0 694.5L2325.2 689.8" fill="none" stroke="#0000ff" stroke-width="2.45" stroke-linejoin="round"/>
<path d="M1543.80 462.80v9.7M1543.80 707.90v-9.7M1739.85 462.80v9.7M1739.85 707.90v-9.7M1935.90 462.80v9.7M1935.90 707.90v-9.7M2131.95 462.80v9.7M2131.95 707.90v-9.7M2328.00 462.80v9.7M2328.00 707.90v-9.7" stroke="#000" stroke-width="2.2" fill="none"/>
<path d="M1592.81 462.80v5.6M1592.81 707.90v-5.6M1641.83 462.80v5.6M1641.83 707.90v-5.6M1690.84 462.80v5.6M1690.84 707.90v-5.6M1788.86 462.80v5.6M1788.86 707.90v-5.6M1837.88 462.80v5.6M1837.88 707.90v-5.6M1886.89 462.80v5.6M1886.89 707.90v-5.6M1984.91 462.80v5.6M1984.91 707.90v-5.6M2033.92 462.80v5.6M2033.92 707.90v-5.6M2082.94 462.80v5.6M2082.94 707.90v-5.6M2180.96 462.80v5.6M2180.96 707.90v-5.6M2229.97 462.80v5.6M2229.97 707.90v-5.6M2278.99 462.80v5.6M2278.99 707.90v-5.6" stroke="#000" stroke-width="1.7" fill="none"/>
<path d="M1543.80 706.60h9.7M2328.00 706.60h-9.7M1543.80 656.60h9.7M2328.00 656.60h-9.7M1543.80 606.60h9.7M2328.00 606.60h-9.7M1543.80 556.60h9.7M2328.00 556.60h-9.7M1543.80 506.60h9.7M2328.00 506.60h-9.7" stroke="#000" stroke-width="2.2" fill="none"/>
<path d="M1543.80 696.60h5.6M2328.00 696.60h-5.6M1543.80 686.60h5.6M2328.00 686.60h-5.6M1543.80 676.60h5.6M2328.00 676.60h-5.6M1543.80 666.60h5.6M2328.00 666.60h-5.6M1543.80 646.60h5.6M2328.00 646.60h-5.6M1543.80 636.60h5.6M2328.00 636.60h-5.6M1543.80 626.60h5.6M2328.00 626.60h-5.6M1543.80 616.60h5.6M2328.00 616.60h-5.6M1543.80 596.60h5.6M2328.00 596.60h-5.6M1543.80 586.60h5.6M2328.00 586.60h-5.6M1543.80 576.60h5.6M2328.00 576.60h-5.6M1543.80 566.60h5.6M2328.00 566.60h-5.6M1543.80 546.60h5.6M2328.00 546.60h-5.6M1543.80 536.60h5.6M2328.00 536.60h-5.6M1543.80 526.60h5.6M2328.00 526.60h-5.6M1543.80 516.60h5.6M2328.00 516.60h-5.6M1543.80 496.60h5.6M2328.00 496.60h-5.6M1543.80 486.60h5.6M2328.00 486.60h-5.6M1543.80 476.60h5.6M2328.00 476.60h-5.6M1543.80 466.60h5.6M2328.00 466.60h-5.6" stroke="#000" stroke-width="1.7" fill="none"/>
<rect x="1543.80" y="462.80" width="784.20" height="245.10" fill="none" stroke="#000" stroke-width="2.2"/>
<text transform="translate(1532.30,715.90)" x="-15.91" y="0" font-size="26.38" textLength="15.91" lengthAdjust="spacingAndGlyphs">0</text>
<text transform="translate(1532.30,665.90)" x="-31.81" y="0" font-size="26.38" textLength="31.81" lengthAdjust="spacingAndGlyphs">10</text>
<text transform="translate(1532.30,615.90)" x="-31.81" y="0" font-size="26.38" textLength="31.81" lengthAdjust="spacingAndGlyphs">20</text>
<text transform="translate(1532.30,565.90)" x="-31.81" y="0" font-size="26.38" textLength="31.81" lengthAdjust="spacingAndGlyphs">30</text>
<text transform="translate(1532.30,515.90)" x="-31.81" y="0" font-size="26.38" textLength="31.81" lengthAdjust="spacingAndGlyphs">40</text>
<text transform="translate(1430.50,598.70) rotate(-90)" x="-75.04" y="0" font-size="29.31" textLength="150.08" lengthAdjust="spacingAndGlyphs">Counts Per</text>
<text transform="translate(1457.00,696.44) rotate(-90)" x="0.00" y="0" font-size="29.31" textLength="173.70" lengthAdjust="spacingAndGlyphs">Second (x10</text>
<text transform="translate(1446.50,522.74) rotate(-90)" x="0.00" y="0" font-size="20.47" textLength="12.34" lengthAdjust="spacingAndGlyphs">3</text>
<text transform="translate(1457.00,510.40) rotate(-90)" x="0.00" y="0" font-size="29.31" textLength="10.84" lengthAdjust="spacingAndGlyphs">)</text>
<text transform="translate(2336.90,489.00) rotate(90)" x="0.00" y="0" font-size="23.42" textLength="127.34" lengthAdjust="spacingAndGlyphs">Hit Counter</text>
<text transform="translate(2360.20,489.00) rotate(90)" x="0.00" y="0" font-size="23.42" textLength="169.80" lengthAdjust="spacingAndGlyphs" fill="#0000ff">Detect Counter</text>
<text transform="translate(1544.40,752.50)" x="-61.31" y="0" font-size="28.80" textLength="122.62" lengthAdjust="spacingAndGlyphs">17:53:59</text>
<text transform="translate(1740.45,752.50)" x="-61.31" y="0" font-size="28.80" textLength="122.62" lengthAdjust="spacingAndGlyphs">17:55:12</text>
<text transform="translate(1936.50,752.50)" x="-61.31" y="0" font-size="28.80" textLength="122.62" lengthAdjust="spacingAndGlyphs">17:56:26</text>
<text transform="translate(2132.55,752.50)" x="-61.31" y="0" font-size="28.80" textLength="122.62" lengthAdjust="spacingAndGlyphs">17:57:40</text>
<text transform="translate(2328.60,752.50)" x="-61.31" y="0" font-size="28.80" textLength="122.62" lengthAdjust="spacingAndGlyphs">17:58:54</text>
<defs>
<clipPath id="mapclip"><path d="M1669.7 795.2H2142.7A236.5 235.8 0 0 1 2142.7 1266.8H1669.7A236.5 235.8 0 0 1 1669.7 795.2Z"/></clipPath>
<clipPath id="landclip"><path d="M1534.1 859.4L1546.6 851.5L1560.9 847.9L1575.1 844.2L1584.4 845.7L1593.9 847.2L1603.5 848.6L1614.9 850.2L1632.3 847.6L1637.6 848.9L1647.3 850.2L1657.1 851.5L1671.3 852.8L1680.0 852.8L1688.7 852.8L1697.4 852.8L1707.7 843.7L1712.0 850.2L1723.6 848.9L1728.6 851.5L1727.0 856.8L1716.4 858.1L1709.3 863.3L1691.9 871.2L1687.9 877.2L1690.6 881.7L1700.6 883.0L1712.2 886.4L1711.4 892.1L1713.5 896.6L1717.3 896.1L1719.8 888.2L1727.4 883.0L1724.9 877.2L1731.0 867.5L1739.9 867.8L1746.6 871.2L1745.8 876.9L1753.8 876.9L1758.5 873.0L1762.1 880.4L1765.3 885.6L1771.2 890.3L1773.3 894.8L1767.4 896.6L1761.9 899.5L1746.3 899.5L1739.2 903.9L1749.2 902.6L1749.5 906.5L1757.2 910.5L1751.6 913.9L1743.6 917.0L1744.4 913.1L1741.8 913.9L1733.7 917.0L1731.6 921.0L1722.1 924.9L1717.1 931.4L1714.6 938.0L1708.8 941.9L1700.1 948.5L1700.6 961.6L1698.9 965.0L1695.5 961.6L1694.7 955.0L1691.8 952.4L1681.7 951.6L1677.4 954.5L1673.6 954.2L1666.0 953.7L1657.4 959.0L1654.1 968.1L1653.7 974.7L1656.8 981.2L1660.4 983.3L1668.3 982.5L1671.7 976.0L1680.9 974.7L1678.7 982.5L1675.5 989.1L1682.0 989.6L1688.8 991.7L1687.1 1002.2L1690.5 1006.9L1697.9 1005.8L1703.3 1008.2L1701.8 1011.9L1701.2 1009.0L1697.8 1007.4L1695.1 1009.5L1695.8 1011.9L1691.9 1011.1L1688.6 1009.3L1686.8 1008.5L1682.2 1004.8L1681.6 1002.2L1677.5 996.9L1676.2 996.4L1667.2 994.3L1661.2 988.6L1654.6 989.9L1646.3 987.0L1635.9 981.7L1632.5 977.8L1633.5 974.7L1631.1 970.0L1624.8 962.9L1618.7 953.7L1614.5 947.9L1613.9 952.4L1617.6 959.0L1620.3 965.5L1623.3 970.2L1621.2 970.7L1617.4 966.8L1613.1 959.7L1610.6 952.4L1608.9 945.9L1606.3 941.9L1601.5 940.3L1599.5 935.1L1599.2 932.0L1597.4 927.5L1596.9 925.2L1599.7 918.3L1603.5 910.0L1604.2 904.2L1603.6 903.9L1598.3 898.2L1601.3 896.1L1599.2 888.7L1598.7 887.4L1594.7 880.4L1590.2 878.3L1584.8 874.3L1576.0 873.8L1572.2 871.2L1564.5 873.8L1557.4 875.6L1560.1 871.2L1553.2 875.1L1548.6 878.3L1537.0 883.0L1524.9 886.9L1517.5 887.9L1526.3 884.8L1532.3 883.0L1542.4 877.2L1532.0 877.2L1534.7 873.8L1527.8 872.5L1530.0 868.6L1535.0 865.9L1544.8 864.6L1547.1 862.0L1535.1 861.7ZM1758.7 869.1L1746.3 865.9L1740.0 862.0L1732.2 862.0L1743.4 859.4L1746.8 854.1L1740.8 848.9L1735.0 847.6L1724.6 847.1L1717.4 845.0L1719.7 838.4L1730.6 837.6L1738.4 838.4L1743.5 840.3L1750.3 842.9L1757.4 845.5L1760.9 849.4L1762.7 852.8L1770.3 855.5L1770.5 858.1L1764.0 860.7L1759.0 862.0L1762.5 864.6ZM1745.3 831.1L1737.5 830.8L1729.7 830.6L1730.1 825.3L1739.5 821.4L1733.2 818.3L1749.9 814.9L1759.9 814.1L1769.8 813.3L1778.7 813.5L1787.5 813.8L1792.7 815.4L1781.3 819.3L1769.2 822.7L1759.5 825.3L1751.2 828.5ZM1742.5 835.3L1734.3 835.3L1726.1 835.3L1717.9 835.3L1714.5 831.9L1726.3 829.8L1733.4 831.0L1740.6 832.1ZM1735.5 825.9L1729.1 824.3L1722.9 822.7L1730.7 818.8L1738.1 820.9ZM1687.2 850.2L1672.6 851.0L1660.6 849.7L1654.8 846.3L1661.0 840.3L1673.0 839.7L1686.1 839.0L1686.6 843.7L1691.0 846.3ZM1666.2 839.2L1645.7 844.5L1641.7 842.4L1650.0 836.6L1660.1 835.8L1666.8 837.4ZM1689.9 834.5L1679.0 834.2L1668.0 834.0L1673.5 830.6L1681.5 830.6L1689.5 830.6ZM1701.3 843.7L1691.8 842.4L1700.0 837.1L1712.8 836.6L1712.7 841.0ZM1724.9 863.3L1711.1 864.1L1715.7 859.4L1723.0 858.1ZM1762.2 906.3L1770.5 908.6L1777.0 908.9L1778.2 906.3L1777.0 902.1L1771.9 900.3L1773.2 896.1L1769.6 897.4L1766.4 901.3L1762.5 904.7ZM1852.4 859.4L1857.1 862.5L1855.8 863.8L1863.5 864.9L1872.7 862.8L1876.2 860.7L1873.6 857.6L1866.6 857.3L1859.8 858.6L1856.7 857.0ZM1686.2 973.6L1692.9 971.3L1699.5 970.7L1706.8 974.1L1713.7 978.1L1705.1 978.9L1704.0 977.0L1697.8 973.9L1694.1 972.3L1688.8 973.9ZM1712.8 982.8L1716.7 978.9L1724.5 979.1L1728.4 982.3L1722.9 983.3L1719.6 984.6L1716.4 983.1ZM1731.4 983.8L1735.6 983.8L1735.7 982.5L1731.5 982.5ZM1702.6 983.3L1707.7 984.1L1707.8 983.1L1703.9 982.5ZM1703.3 1008.2L1708.5 1003.2L1710.4 1001.9L1717.0 1000.1L1719.7 998.5L1718.7 1002.7L1723.1 999.3L1728.1 1003.5L1737.3 1004.3L1743.9 1003.0L1746.8 1008.5L1755.3 1014.5L1764.4 1015.8L1771.0 1019.5L1774.8 1026.3L1774.8 1031.0L1780.1 1033.6L1789.3 1037.5L1797.2 1038.6L1805.1 1040.7L1813.8 1044.9L1814.9 1050.7L1809.3 1059.8L1804.3 1065.1L1804.7 1076.8L1800.5 1087.3L1797.7 1091.3L1791.2 1091.8L1781.4 1098.6L1781.7 1105.1L1774.2 1116.2L1770.8 1120.1L1763.5 1122.4L1758.4 1120.1L1762.8 1126.4L1761.1 1131.9L1751.3 1133.2L1751.5 1138.4L1744.8 1138.4L1748.6 1142.9L1745.6 1148.9L1741.4 1152.0L1746.3 1155.5L1741.6 1162.8L1743.3 1168.3L1752.5 1174.3L1746.5 1176.4L1738.7 1173.8L1730.0 1168.5L1724.5 1162.0L1722.4 1154.1L1724.2 1146.3L1723.9 1139.7L1721.8 1129.2L1724.7 1116.2L1723.3 1107.0L1724.7 1092.6L1723.4 1079.2L1716.0 1074.2L1707.2 1067.7L1704.2 1062.4L1697.7 1052.0L1692.8 1046.2L1692.7 1042.3L1696.0 1039.6L1693.9 1037.0L1693.9 1033.4L1696.0 1028.9L1699.1 1027.1L1703.4 1021.0L1702.8 1013.2L1701.8 1012.1ZM1891.3 937.2L1900.6 939.0L1906.2 937.2L1913.7 934.3L1926.3 934.3L1931.3 933.3L1933.8 934.3L1932.0 941.1L1934.1 944.0L1944.8 946.1L1954.7 951.6L1957.1 947.7L1960.7 944.8L1969.8 947.7L1980.1 950.0L1985.1 948.5L1988.4 949.3L1989.2 952.4L1992.0 957.6L1997.8 968.1L2002.1 976.0L2003.1 981.7L2007.9 990.4L2013.8 993.0L2019.2 998.2L2019.5 1000.9L2024.0 1003.5L2033.1 1001.4L2040.2 1000.1L2039.3 1006.1L2034.8 1015.3L2027.1 1024.5L2017.9 1033.6L2012.6 1038.3L2009.1 1045.4L2009.8 1052.0L2012.2 1059.3L2012.1 1070.3L2002.5 1077.6L1996.8 1083.4L1997.8 1093.9L1990.8 1099.1L1989.9 1105.7L1983.9 1112.2L1975.9 1118.8L1970.7 1120.1L1961.8 1120.6L1956.7 1122.2L1952.7 1120.6L1952.0 1114.8L1948.4 1105.7L1944.8 1099.1L1943.7 1090.0L1938.7 1078.2L1937.0 1072.9L1941.5 1063.8L1942.3 1058.5L1938.5 1046.7L1935.1 1041.0L1930.6 1034.9L1931.2 1028.4L1931.9 1023.1L1929.6 1019.2L1924.6 1019.5L1922.0 1019.7L1918.0 1014.5L1912.8 1014.5L1908.8 1015.5L1901.5 1018.4L1895.7 1017.4L1886.5 1019.5L1881.3 1016.6L1876.0 1012.9L1871.3 1008.7L1870.3 1005.6L1866.9 1002.2L1862.5 998.2L1860.5 992.5L1863.2 989.1L1863.8 981.2L1862.1 976.0L1864.9 968.9L1868.9 962.4L1872.9 958.2L1880.6 954.2L1881.5 948.5L1887.2 943.0L1890.5 939.3ZM2035.2 1062.4L2037.9 1071.6L2035.9 1075.5L2032.0 1084.7L2027.3 1096.5L2022.0 1098.1L2019.0 1092.6L2018.3 1087.3L2021.5 1082.1L2020.8 1075.5L2026.7 1072.4L2031.6 1066.4ZM1883.6 934.1L1882.4 929.6L1884.4 922.3L1883.5 917.8L1886.5 916.5L1896.3 917.3L1901.8 917.3L1903.3 913.1L1903.3 910.0L1900.6 907.1L1894.8 904.2L1902.3 903.7L1901.9 900.8L1906.7 901.3L1910.0 897.6L1914.6 896.3L1917.6 892.1L1922.8 890.8L1927.0 889.5L1925.7 885.6L1925.3 881.7L1930.6 879.8L1930.3 884.3L1929.8 887.7L1932.2 889.5L1935.7 888.5L1940.0 889.8L1949.8 887.4L1952.9 888.2L1955.6 886.1L1955.1 881.7L1962.0 880.4L1960.3 875.9L1968.3 875.1L1975.0 873.8L1970.2 872.2L1963.5 873.3L1957.8 873.8L1954.8 871.2L1954.3 867.2L1960.7 861.2L1962.2 859.4L1954.8 858.6L1953.7 862.0L1946.9 867.2L1945.4 871.2L1949.3 873.8L1945.5 877.2L1944.8 883.0L1940.2 884.3L1936.7 885.9L1932.9 879.0L1930.4 875.9L1923.6 879.0L1917.7 876.4L1917.6 869.9L1924.2 864.6L1932.8 859.4L1937.7 852.8L1944.9 848.9L1955.1 845.5L1965.5 844.7L1972.4 847.1L1977.2 849.2L1986.2 850.7L1995.7 854.1L1994.4 857.6L1983.3 857.3L1978.7 856.2L1982.9 860.7L1989.0 863.3L1996.5 861.7L1994.5 858.1L2003.2 857.6L2001.5 851.5L2007.5 853.4L2020.7 850.7L2031.5 850.7L2035.9 848.1L2048.8 850.7L2050.2 848.9L2048.3 845.0L2048.8 839.7L2057.5 840.3L2061.6 840.3L2070.2 842.4L2074.0 838.4L2083.5 837.1L2083.3 834.0L2090.5 832.8L2097.7 831.6L2104.9 829.5L2111.8 827.4L2128.3 830.0L2139.2 837.1L2133.0 837.1L2140.4 838.4L2151.2 839.0L2162.6 837.9L2172.7 839.7L2180.9 845.0L2187.1 843.7L2197.0 841.0L2197.7 839.7L2212.3 841.6L2228.6 845.0L2238.1 845.9L2247.7 846.8L2254.0 848.6L2262.0 848.1L2270.0 847.6L2275.1 850.2L2289.0 849.2L2294.9 850.5L2306.0 860.4L2303.4 862.3L2306.1 867.2L2300.6 869.9L2297.2 873.8L2286.9 873.8L2285.3 879.0L2285.7 884.3L2288.4 888.2L2286.3 892.1L2285.2 896.1L2281.7 897.4L2276.0 890.8L2269.5 883.0L2269.4 879.6L2272.1 872.5L2276.7 868.6L2269.5 869.3L2260.8 869.9L2262.7 875.1L2254.0 875.9L2241.2 875.6L2232.2 877.7L2229.5 884.3L2225.8 887.9L2231.4 889.5L2236.1 889.5L2241.9 892.1L2242.9 897.4L2245.8 903.9L2244.0 909.2L2239.5 915.7L2234.7 918.9L2229.6 919.9L2227.8 923.6L2224.0 926.7L2231.0 934.1L2232.4 938.0L2229.5 939.8L2225.7 940.6L2223.9 934.1L2220.1 931.4L2218.4 927.2L2215.2 926.7L2209.7 928.8L2209.5 924.4L2206.7 923.6L2203.3 928.3L2200.2 928.8L2203.3 932.2L2209.6 932.5L2213.7 933.5L2209.5 936.2L2207.4 939.3L2212.3 944.5L2215.9 947.7L2216.6 950.3L2217.7 952.9L2217.4 956.9L2214.5 961.6L2212.7 965.0L2209.5 968.6L2206.0 971.0L2201.1 972.6L2196.2 974.1L2192.2 975.5L2191.5 977.8L2190.3 974.7L2187.1 974.1L2183.5 976.0L2180.9 979.9L2183.3 984.4L2189.0 989.1L2191.9 996.9L2191.5 1000.9L2186.4 1003.8L2181.5 1008.2L2181.3 1004.8L2177.2 1003.2L2174.3 999.6L2170.3 997.7L2168.8 995.6L2167.8 999.6L2166.1 1004.8L2169.2 1010.0L2172.5 1013.2L2176.6 1016.6L2178.1 1021.8L2180.0 1027.3L2177.9 1027.1L2172.9 1023.9L2170.1 1019.2L2169.2 1014.0L2164.0 1009.5L2164.2 1003.5L2163.8 998.2L2161.1 991.7L2160.2 987.5L2155.2 989.6L2152.0 988.6L2151.4 982.5L2145.4 976.0L2142.8 971.8L2139.1 973.4L2134.8 974.1L2131.6 975.2L2130.7 978.6L2127.0 980.4L2120.6 987.5L2115.4 990.4L2115.8 996.9L2115.2 1004.0L2113.3 1006.9L2110.7 1008.7L2109.4 1009.8L2106.1 1005.6L2102.3 998.2L2099.3 991.7L2096.2 985.1L2095.3 980.7L2094.3 976.0L2090.2 976.5L2084.7 972.6L2087.9 970.7L2081.7 968.9L2078.9 966.0L2072.3 964.7L2064.6 965.2L2053.7 963.9L2051.3 960.3L2046.2 961.3L2038.2 958.2L2034.6 952.4L2030.7 951.9L2028.8 953.7L2031.0 957.6L2034.6 961.0L2035.4 964.2L2037.9 962.6L2039.3 967.3L2045.5 967.6L2050.9 962.4L2051.9 966.8L2057.8 969.4L2060.8 972.0L2056.6 977.6L2054.3 981.5L2049.4 985.4L2041.8 989.1L2034.1 993.5L2023.8 997.5L2019.9 997.7L2017.9 991.7L2015.6 986.5L2010.0 978.6L2007.1 973.4L2002.8 965.5L1997.2 958.2L1995.4 953.7L1993.9 958.4L1990.6 954.5L1989.4 952.4L1988.4 949.3L1993.3 949.0L1995.0 945.1L1996.6 939.3L1997.2 935.1L1991.7 935.9L1988.0 936.4L1982.9 935.9L1979.2 936.2L1974.8 934.6L1973.8 931.4L1971.8 928.0L1971.5 926.2L1970.8 924.1L1965.8 924.1L1965.5 926.2L1962.9 925.2L1963.6 928.3L1966.3 931.4L1962.8 935.4L1959.6 932.8L1958.7 928.8L1954.7 924.9L1954.3 921.5L1951.9 919.6L1945.6 917.0L1943.0 913.6L1940.3 913.6L1939.7 911.3L1936.3 912.3L1936.7 915.2L1939.7 917.0L1942.1 920.4L1946.3 921.5L1945.9 922.5L1952.3 925.7L1948.5 924.9L1947.6 927.5L1948.9 928.8L1947.5 930.4L1945.5 931.4L1946.2 928.8L1945.1 926.2L1942.3 924.6L1940.5 923.1L1936.7 921.7L1932.1 918.6L1931.3 916.0L1927.8 914.7L1924.7 916.2L1921.0 918.1L1916.1 917.0L1913.9 919.6L1914.1 921.5L1908.2 924.1L1905.5 927.8L1906.7 929.3L1904.4 932.2L1901.2 934.6L1894.9 934.8L1892.6 936.4L1890.4 935.1L1888.6 933.5ZM1517.5 850.5L1522.9 853.4L1531.0 856.0L1531.7 857.8L1521.2 862.3L1515.9 861.0L1511.1 859.1L1506.4 860.4ZM1892.5 899.7L1897.8 899.2L1903.8 898.2L1909.6 896.9L1910.2 892.9L1906.7 892.1L1905.7 889.0L1902.7 886.4L1901.0 884.3L1901.6 880.1L1898.1 879.6L1899.3 877.5L1894.6 877.5L1892.3 880.4L1893.3 884.3L1894.9 886.9L1898.7 887.4L1899.1 891.1L1895.5 891.4L1896.2 893.5L1893.8 895.3L1898.5 896.3L1895.9 897.4ZM1891.9 894.2L1891.7 890.8L1893.0 887.9L1889.0 886.1L1886.1 888.2L1882.6 889.0L1882.9 891.4L1884.1 893.2L1881.6 895.0L1883.5 896.1L1888.3 894.8ZM1937.5 931.4L1945.3 930.9L1944.4 934.8L1937.5 932.5ZM1926.7 928.8L1927.1 923.8L1930.3 923.6L1930.2 928.3ZM1927.8 922.3L1927.7 919.4L1929.7 918.6L1929.5 922.0ZM1965.7 938.3L1972.3 938.5L1971.8 939.6L1965.8 939.0ZM1988.0 939.8L1989.4 938.5L1993.2 937.7L1991.6 939.8ZM1927.7 825.3L1933.1 821.9L1944.3 820.4L1957.8 820.9L1953.0 824.5L1943.6 826.6L1940.2 830.0L1933.9 828.0ZM2015.0 843.7L2016.0 838.4L2020.1 833.7L2030.9 831.1L2042.8 829.3L2039.8 832.7L2032.9 834.9L2025.8 837.1L2025.0 842.4L2022.1 845.8L2016.5 845.0ZM2090.8 824.0L2091.1 818.8L2105.4 821.4L2110.2 825.9L2101.2 826.6ZM2185.7 834.5L2188.7 831.9L2202.1 832.9L2211.6 834.0L2203.0 835.3L2192.2 836.6ZM1996.0 820.9L2002.9 819.6L2009.6 818.3L2023.9 819.8L2011.6 821.4L2003.8 821.1ZM2237.4 941.9L2240.3 938.3L2247.7 937.7L2249.6 933.5L2253.8 933.3L2255.1 926.7L2254.9 923.1L2257.4 923.1L2260.4 927.5L2259.9 932.8L2261.0 937.5L2259.1 939.3L2256.1 940.1L2252.4 940.3L2250.2 943.2L2247.4 940.6L2242.6 941.4L2237.8 942.2ZM2235.5 943.2L2239.3 943.2L2240.8 948.5L2238.6 949.8L2235.6 945.3ZM2241.6 942.2L2246.4 941.4L2246.3 943.8L2243.2 945.1ZM2253.4 922.3L2252.3 917.8L2253.1 912.1L2259.0 915.2L2263.4 915.2L2265.1 917.8L2261.0 921.0L2254.8 919.6L2255.0 922.0ZM2253.1 910.5L2247.9 900.0L2244.0 890.8L2244.4 888.7L2249.4 896.1L2255.3 902.6L2253.0 905.2L2256.3 910.0ZM2216.8 970.7L2217.8 965.0L2220.5 965.5L2219.8 971.3L2218.8 973.4ZM2188.6 980.7L2191.6 978.3L2194.4 979.6L2192.2 983.1L2189.0 982.5ZM2219.5 982.5L2223.9 982.8L2224.1 988.3L2223.4 993.5L2230.3 996.9L2229.1 998.0L2224.9 994.8L2221.4 993.8L2219.0 989.1ZM2226.3 1012.7L2230.0 1008.2L2235.0 1005.3L2238.0 1011.4L2235.6 1015.8L2231.6 1014.0L2226.8 1012.9ZM2231.2 998.2L2234.4 998.8L2234.4 1004.0L2232.3 1004.0ZM2225.4 1000.1L2228.7 1001.4L2229.4 1006.9L2227.1 1005.3L2225.7 1003.5ZM2213.5 1009.3L2219.0 1001.4L2219.9 1003.5L2215.1 1009.3ZM2192.6 1027.1L2194.2 1025.8L2198.6 1023.9L2203.0 1022.4L2206.9 1018.4L2211.1 1012.9L2214.6 1014.0L2219.2 1017.1L2216.1 1019.7L2215.7 1024.5L2218.4 1028.4L2215.0 1030.5L2215.0 1033.6L2212.3 1037.0L2210.9 1041.0L2207.2 1041.5L2203.0 1039.4L2199.6 1039.6L2195.7 1038.3L2195.2 1034.4L2192.6 1030.2ZM2156.4 1016.3L2162.2 1017.4L2164.4 1020.0L2169.7 1023.9L2172.9 1025.8L2177.6 1029.2L2178.7 1033.1L2181.0 1034.9L2184.7 1038.9L2183.9 1046.2L2180.8 1046.2L2174.9 1041.5L2171.6 1037.5L2169.8 1033.4L2166.3 1029.4L2165.3 1026.0L2161.0 1022.4L2156.7 1017.9ZM2182.2 1048.8L2185.0 1046.7L2190.9 1048.0L2197.0 1048.0L2201.9 1049.3L2206.5 1051.4L2205.9 1053.8L2197.3 1052.7L2189.5 1051.4L2185.3 1050.4ZM2207.8 1052.5L2213.0 1052.7L2218.2 1053.0L2223.5 1053.0L2228.7 1052.7L2228.6 1054.1L2220.8 1054.3L2212.9 1054.6L2208.2 1054.1ZM2229.7 1058.0L2233.8 1054.6L2239.7 1053.0L2236.4 1055.6L2231.0 1058.0ZM2218.0 1055.9L2222.7 1056.4L2221.8 1057.7L2218.5 1056.9ZM2221.0 1028.9L2223.6 1027.6L2229.4 1028.4L2234.6 1026.8L2233.4 1029.7L2226.8 1029.7L2222.3 1030.0L2221.8 1033.1L2224.9 1033.6L2230.5 1033.6L2226.0 1036.0L2227.5 1039.6L2229.7 1042.8L2227.8 1045.4L2225.3 1043.3L2224.1 1038.3L2222.5 1038.9L2222.3 1045.7L2219.7 1045.4L2220.1 1040.2L2218.3 1038.3L2219.7 1033.6L2221.0 1031.0ZM2241.2 1025.8L2242.5 1028.4L2244.4 1027.1L2243.3 1030.2L2243.9 1033.1L2242.0 1031.0L2241.2 1028.4ZM2242.5 1038.9L2249.8 1039.4L2249.0 1040.7L2243.0 1040.2ZM2250.2 1033.4L2254.4 1032.0L2258.3 1033.1L2258.8 1037.5L2262.1 1039.6L2266.2 1036.2L2270.1 1035.7L2276.6 1037.8L2285.7 1041.0L2289.6 1044.1L2294.1 1047.5L2291.9 1048.8L2294.9 1052.0L2299.1 1057.2L2301.1 1058.5L2296.5 1058.0L2291.9 1055.9L2287.8 1052.0L2283.9 1051.2L2282.2 1052.7L2278.4 1055.1L2275.8 1054.8L2270.7 1052.2L2268.1 1052.7L2267.7 1049.9L2268.5 1045.4L2263.3 1043.1L2258.2 1041.2L2255.0 1041.0L2253.0 1038.3L2250.4 1034.7ZM2295.5 1045.7L2301.3 1045.4L2305.9 1042.0L2305.3 1044.6L2301.2 1047.5ZM2302.4 1037.8L2307.5 1042.0L2308.0 1043.3L2302.9 1038.9ZM2279.3 1059.0L2281.6 1069.0L2285.6 1070.3L2286.1 1080.3L2291.5 1083.4L2295.9 1091.3L2300.0 1097.8L2299.2 1105.7L2293.4 1116.2L2288.1 1120.6L2282.7 1128.5L2275.7 1130.6L2271.6 1133.4L2268.0 1131.1L2262.7 1131.9L2258.1 1130.6L2257.5 1125.3L2254.0 1124.5L2255.9 1120.9L2255.9 1116.7L2249.7 1122.2L2247.9 1121.4L2246.2 1116.9L2240.8 1113.5L2234.3 1114.1L2226.3 1115.6L2220.7 1117.5L2218.8 1119.8L2209.9 1119.8L2204.1 1122.7L2199.0 1122.7L2197.2 1120.9L2200.3 1114.8L2199.8 1109.6L2199.0 1103.8L2197.6 1099.1L2199.8 1092.6L2201.8 1088.1L2208.3 1085.0L2215.0 1083.4L2221.9 1080.8L2224.6 1076.1L2228.0 1076.3L2229.4 1073.7L2233.8 1069.0L2237.9 1067.4L2241.0 1069.8L2244.1 1070.0L2246.5 1065.1L2248.3 1063.5L2253.0 1061.1L2255.5 1061.9L2260.6 1062.7L2264.1 1062.4L2261.6 1066.4L2259.8 1070.3L2264.6 1072.9L2268.6 1076.3L2272.7 1076.8L2275.3 1071.6L2276.7 1064.5ZM2265.9 1137.6L2269.9 1138.7L2274.6 1138.2L2272.9 1141.6L2269.9 1144.4L2265.8 1145.2L2265.4 1141.8ZM2342.8 1121.1L2345.9 1123.5L2348.1 1127.2L2349.5 1129.5L2353.7 1129.8L2348.3 1134.2L2346.5 1136.6L2340.8 1140.0L2339.7 1139.2L2342.3 1136.3L2340.0 1134.0L2343.2 1131.9L2345.0 1127.9L2342.9 1122.7ZM2335.7 1137.1L2338.2 1140.3L2332.1 1145.8L2327.2 1147.1L2323.4 1151.3L2318.2 1153.1L2315.1 1152.0L2313.4 1150.7L2320.2 1146.3L2327.1 1143.4L2332.2 1139.7ZM2115.3 1005.6L2119.1 1008.7L2120.8 1012.7L2117.5 1015.3L2115.5 1011.4ZM2331.7 1083.7L2338.2 1089.4L2336.8 1089.7L2331.0 1084.7ZM1501.5 978.1L1503.8 979.4L1501.7 981.2ZM1760.3 1165.9L1767.5 1165.9L1766.7 1167.8L1760.6 1167.2ZM2285.9 845.5L2288.4 843.7L2292.3 845.0L2288.7 845.5ZM2367.7 1076.8L2371.1 1076.6L2370.4 1078.7L2367.6 1078.4Z"/></clipPath>
<filter id="b6" x="-30%" y="-30%" width="160%" height="160%"><feGaussianBlur stdDeviation="6"/></filter>
<filter id="b12" x="-30%" y="-30%" width="160%" height="160%"><feGaussianBlur stdDeviation="12"/></filter>
<filter id="b3" x="-30%" y="-30%" width="160%" height="160%"><feGaussianBlur stdDeviation="3"/></filter>
<filter id="b25" x="-40%" y="-40%" width="180%" height="180%"><feGaussianBlur stdDeviation="25"/></filter>
</defs>
<g clip-path="url(#mapclip)">
<rect x="1428" y="790" width="956" height="482" fill="#7bafd6"/>
<g filter="url(#b25)">
<ellipse cx="1790.9" cy="957.6" rx="56.4" ry="36.7" fill="#6d9fcc" opacity="0.8"/>
<ellipse cx="1513.3" cy="1004.8" rx="117.9" ry="78.6" fill="#73a7d1" opacity="0.8"/>
<ellipse cx="1607.3" cy="1135.8" rx="124.5" ry="47.2" fill="#73a6d0" opacity="0.8"/>
<ellipse cx="2123.2" cy="1109.6" rx="76.6" ry="47.2" fill="#6fa3ce" opacity="0.8"/>
<ellipse cx="1855.7" cy="1122.7" rx="55.5" ry="41.9" fill="#70a3ce" opacity="0.8"/>
<ellipse cx="2331.3" cy="965.5" rx="64.4" ry="47.2" fill="#6fa2cd" opacity="0.8"/>
<ellipse cx="1835.6" cy="886.9" rx="42.4" ry="18.3" fill="#86b7dc" opacity="0.7"/>
<ellipse cx="1906.2" cy="1183.0" rx="394.2" ry="15.7" fill="#7fb2da" opacity="0.8"/>
<ellipse cx="2259.3" cy="1175.1" rx="94.2" ry="21.0" fill="#74a8d2" opacity="0.6"/>
<ellipse cx="2063.4" cy="1004.8" rx="31.4" ry="26.2" fill="#73a6d0" opacity="0.6"/>
<ellipse cx="1521.2" cy="900.0" rx="72.2" ry="21.0" fill="#76a9d3" opacity="0.7"/>
</g>
<path d="M1534.1 859.4L1546.6 851.5L1560.9 847.9L1575.1 844.2L1584.4 845.7L1593.9 847.2L1603.5 848.6L1614.9 850.2L1632.3 847.6L1637.6 848.9L1647.3 850.2L1657.1 851.5L1671.3 852.8L1680.0 852.8L1688.7 852.8L1697.4 852.8L1707.7 843.7L1712.0 850.2L1723.6 848.9L1728.6 851.5L1727.0 856.8L1716.4 858.1L1709.3 863.3L1691.9 871.2L1687.9 877.2L1690.6 881.7L1700.6 883.0L1712.2 886.4L1711.4 892.1L1713.5 896.6L1717.3 896.1L1719.8 888.2L1727.4 883.0L1724.9 877.2L1731.0 867.5L1739.9 867.8L1746.6 871.2L1745.8 876.9L1753.8 876.9L1758.5 873.0L1762.1 880.4L1765.3 885.6L1771.2 890.3L1773.3 894.8L1767.4 896.6L1761.9 899.5L1746.3 899.5L1739.2 903.9L1749.2 902.6L1749.5 906.5L1757.2 910.5L1751.6 913.9L1743.6 917.0L1744.4 913.1L1741.8 913.9L1733.7 917.0L1731.6 921.0L1722.1 924.9L1717.1 931.4L1714.6 938.0L1708.8 941.9L1700.1 948.5L1700.6 961.6L1698.9 965.0L1695.5 961.6L1694.7 955.0L1691.8 952.4L1681.7 951.6L1677.4 954.5L1673.6 954.2L1666.0 953.7L1657.4 959.0L1654.1 968.1L1653.7 974.7L1656.8 981.2L1660.4 983.3L1668.3 982.5L1671.7 976.0L1680.9 974.7L1678.7 982.5L1675.5 989.1L1682.0 989.6L1688.8 991.7L1687.1 1002.2L1690.5 1006.9L1697.9 1005.8L1703.3 1008.2L1701.8 1011.9L1701.2 1009.0L1697.8 1007.4L1695.1 1009.5L1695.8 1011.9L1691.9 1011.1L1688.6 1009.3L1686.8 1008.5L1682.2 1004.8L1681.6 1002.2L1677.5 996.9L1676.2 996.4L1667.2 994.3L1661.2 988.6L1654.6 989.9L1646.3 987.0L1635.9 981.7L1632.5 977.8L1633.5 974.7L1631.1 970.0L1624.8 962.9L1618.7 953.7L1614.5 947.9L1613.9 952.4L1617.6 959.0L1620.3 965.5L1623.3 970.2L1621.2 970.7L1617.4 966.8L1613.1 959.7L1610.6 952.4L1608.9 945.9L1606.3 941.9L1601.5 940.3L1599.5 935.1L1599.2 932.0L1597.4 927.5L1596.9 925.2L1599.7 918.3L1603.5 910.0L1604.2 904.2L1603.6 903.9L1598.3 898.2L1601.3 896.1L1599.2 888.7L1598.7 887.4L1594.7 880.4L1590.2 878.3L1584.8 874.3L1576.0 873.8L1572.2 871.2L1564.5 873.8L1557.4 875.6L1560.1 871.2L1553.2 875.1L1548.6 878.3L1537.0 883.0L1524.9 886.9L1517.5 887.9L1526.3 884.8L1532.3 883.0L1542.4 877.2L1532.0 877.2L1534.7 873.8L1527.8 872.5L1530.0 868.6L1535.0 865.9L1544.8 864.6L1547.1 862.0L1535.1 861.7ZM1758.7 869.1L1746.3 865.9L1740.0 862.0L1732.2 862.0L1743.4 859.4L1746.8 854.1L1740.8 848.9L1735.0 847.6L1724.6 847.1L1717.4 845.0L1719.7 838.4L1730.6 837.6L1738.4 838.4L1743.5 840.3L1750.3 842.9L1757.4 845.5L1760.9 849.4L1762.7 852.8L1770.3 855.5L1770.5 858.1L1764.0 860.7L1759.0 862.0L1762.5 864.6ZM1745.3 831.1L1737.5 830.8L1729.7 830.6L1730.1 825.3L1739.5 821.4L1733.2 818.3L1749.9 814.9L1759.9 814.1L1769.8 813.3L1778.7 813.5L1787.5 813.8L1792.7 815.4L1781.3 819.3L1769.2 822.7L1759.5 825.3L1751.2 828.5ZM1742.5 835.3L1734.3 835.3L1726.1 835.3L1717.9 835.3L1714.5 831.9L1726.3 829.8L1733.4 831.0L1740.6 832.1ZM1735.5 825.9L1729.1 824.3L1722.9 822.7L1730.7 818.8L1738.1 820.9ZM1687.2 850.2L1672.6 851.0L1660.6 849.7L1654.8 846.3L1661.0 840.3L1673.0 839.7L1686.1 839.0L1686.6 843.7L1691.0 846.3ZM1666.2 839.2L1645.7 844.5L1641.7 842.4L1650.0 836.6L1660.1 835.8L1666.8 837.4ZM1689.9 834.5L1679.0 834.2L1668.0 834.0L1673.5 830.6L1681.5 830.6L1689.5 830.6ZM1701.3 843.7L1691.8 842.4L1700.0 837.1L1712.8 836.6L1712.7 841.0ZM1724.9 863.3L1711.1 864.1L1715.7 859.4L1723.0 858.1ZM1762.2 906.3L1770.5 908.6L1777.0 908.9L1778.2 906.3L1777.0 902.1L1771.9 900.3L1773.2 896.1L1769.6 897.4L1766.4 901.3L1762.5 904.7ZM1852.4 859.4L1857.1 862.5L1855.8 863.8L1863.5 864.9L1872.7 862.8L1876.2 860.7L1873.6 857.6L1866.6 857.3L1859.8 858.6L1856.7 857.0ZM1686.2 973.6L1692.9 971.3L1699.5 970.7L1706.8 974.1L1713.7 978.1L1705.1 978.9L1704.0 977.0L1697.8 973.9L1694.1 972.3L1688.8 973.9ZM1712.8 982.8L1716.7 978.9L1724.5 979.1L1728.4 982.3L1722.9 983.3L1719.6 984.6L1716.4 983.1ZM1731.4 983.8L1735.6 983.8L1735.7 982.5L1731.5 982.5ZM1702.6 983.3L1707.7 984.1L1707.8 983.1L1703.9 982.5ZM1703.3 1008.2L1708.5 1003.2L1710.4 1001.9L1717.0 1000.1L1719.7 998.5L1718.7 1002.7L1723.1 999.3L1728.1 1003.5L1737.3 1004.3L1743.9 1003.0L1746.8 1008.5L1755.3 1014.5L1764.4 1015.8L1771.0 1019.5L1774.8 1026.3L1774.8 1031.0L1780.1 1033.6L1789.3 1037.5L1797.2 1038.6L1805.1 1040.7L1813.8 1044.9L1814.9 1050.7L1809.3 1059.8L1804.3 1065.1L1804.7 1076.8L1800.5 1087.3L1797.7 1091.3L1791.2 1091.8L1781.4 1098.6L1781.7 1105.1L1774.2 1116.2L1770.8 1120.1L1763.5 1122.4L1758.4 1120.1L1762.8 1126.4L1761.1 1131.9L1751.3 1133.2L1751.5 1138.4L1744.8 1138.4L1748.6 1142.9L1745.6 1148.9L1741.4 1152.0L1746.3 1155.5L1741.6 1162.8L1743.3 1168.3L1752.5 1174.3L1746.5 1176.4L1738.7 1173.8L1730.0 1168.5L1724.5 1162.0L1722.4 1154.1L1724.2 1146.3L1723.9 1139.7L1721.8 1129.2L1724.7 1116.2L1723.3 1107.0L1724.7 1092.6L1723.4 1079.2L1716.0 1074.2L1707.2 1067.7L1704.2 1062.4L1697.7 1052.0L1692.8 1046.2L1692.7 1042.3L1696.0 1039.6L1693.9 1037.0L1693.9 1033.4L1696.0 1028.9L1699.1 1027.1L1703.4 1021.0L1702.8 1013.2L1701.8 1012.1ZM1891.3 937.2L1900.6 939.0L1906.2 937.2L1913.7 934.3L1926.3 934.3L1931.3 933.3L1933.8 934.3L1932.0 941.1L1934.1 944.0L1944.8 946.1L1954.7 951.6L1957.1 947.7L1960.7 944.8L1969.8 947.7L1980.1 950.0L1985.1 948.5L1988.4 949.3L1989.2 952.4L1992.0 957.6L1997.8 968.1L2002.1 976.0L2003.1 981.7L2007.9 990.4L2013.8 993.0L2019.2 998.2L2019.5 1000.9L2024.0 1003.5L2033.1 1001.4L2040.2 1000.1L2039.3 1006.1L2034.8 1015.3L2027.1 1024.5L2017.9 1033.6L2012.6 1038.3L2009.1 1045.4L2009.8 1052.0L2012.2 1059.3L2012.1 1070.3L2002.5 1077.6L1996.8 1083.4L1997.8 1093.9L1990.8 1099.1L1989.9 1105.7L1983.9 1112.2L1975.9 1118.8L1970.7 1120.1L1961.8 1120.6L1956.7 1122.2L1952.7 1120.6L1952.0 1114.8L1948.4 1105.7L1944.8 1099.1L1943.7 1090.0L1938.7 1078.2L1937.0 1072.9L1941.5 1063.8L1942.3 1058.5L1938.5 1046.7L1935.1 1041.0L1930.6 1034.9L1931.2 1028.4L1931.9 1023.1L1929.6 1019.2L1924.6 1019.5L1922.0 1019.7L1918.0 1014.5L1912.8 1014.5L1908.8 1015.5L1901.5 1018.4L1895.7 1017.4L1886.5 1019.5L1881.3 1016.6L1876.0 1012.9L1871.3 1008.7L1870.3 1005.6L1866.9 1002.2L1862.5 998.2L1860.5 992.5L1863.2 989.1L1863.8 981.2L1862.1 976.0L1864.9 968.9L1868.9 962.4L1872.9 958.2L1880.6 954.2L1881.5 948.5L1887.2 943.0L1890.5 939.3ZM2035.2 1062.4L2037.9 1071.6L2035.9 1075.5L2032.0 1084.7L2027.3 1096.5L2022.0 1098.1L2019.0 1092.6L2018.3 1087.3L2021.5 1082.1L2020.8 1075.5L2026.7 1072.4L2031.6 1066.4ZM1883.6 934.1L1882.4 929.6L1884.4 922.3L1883.5 917.8L1886.5 916.5L1896.3 917.3L1901.8 917.3L1903.3 913.1L1903.3 910.0L1900.6 907.1L1894.8 904.2L1902.3 903.7L1901.9 900.8L1906.7 901.3L1910.0 897.6L1914.6 896.3L1917.6 892.1L1922.8 890.8L1927.0 889.5L1925.7 885.6L1925.3 881.7L1930.6 879.8L1930.3 884.3L1929.8 887.7L1932.2 889.5L1935.7 888.5L1940.0 889.8L1949.8 887.4L1952.9 888.2L1955.6 886.1L1955.1 881.7L1962.0 880.4L1960.3 875.9L1968.3 875.1L1975.0 873.8L1970.2 872.2L1963.5 873.3L1957.8 873.8L1954.8 871.2L1954.3 867.2L1960.7 861.2L1962.2 859.4L1954.8 858.6L1953.7 862.0L1946.9 867.2L1945.4 871.2L1949.3 873.8L1945.5 877.2L1944.8 883.0L1940.2 884.3L1936.7 885.9L1932.9 879.0L1930.4 875.9L1923.6 879.0L1917.7 876.4L1917.6 869.9L1924.2 864.6L1932.8 859.4L1937.7 852.8L1944.9 848.9L1955.1 845.5L1965.5 844.7L1972.4 847.1L1977.2 849.2L1986.2 850.7L1995.7 854.1L1994.4 857.6L1983.3 857.3L1978.7 856.2L1982.9 860.7L1989.0 863.3L1996.5 861.7L1994.5 858.1L2003.2 857.6L2001.5 851.5L2007.5 853.4L2020.7 850.7L2031.5 850.7L2035.9 848.1L2048.8 850.7L2050.2 848.9L2048.3 845.0L2048.8 839.7L2057.5 840.3L2061.6 840.3L2070.2 842.4L2074.0 838.4L2083.5 837.1L2083.3 834.0L2090.5 832.8L2097.7 831.6L2104.9 829.5L2111.8 827.4L2128.3 830.0L2139.2 837.1L2133.0 837.1L2140.4 838.4L2151.2 839.0L2162.6 837.9L2172.7 839.7L2180.9 845.0L2187.1 843.7L2197.0 841.0L2197.7 839.7L2212.3 841.6L2228.6 845.0L2238.1 845.9L2247.7 846.8L2254.0 848.6L2262.0 848.1L2270.0 847.6L2275.1 850.2L2289.0 849.2L2294.9 850.5L2306.0 860.4L2303.4 862.3L2306.1 867.2L2300.6 869.9L2297.2 873.8L2286.9 873.8L2285.3 879.0L2285.7 884.3L2288.4 888.2L2286.3 892.1L2285.2 896.1L2281.7 897.4L2276.0 890.8L2269.5 883.0L2269.4 879.6L2272.1 872.5L2276.7 868.6L2269.5 869.3L2260.8 869.9L2262.7 875.1L2254.0 875.9L2241.2 875.6L2232.2 877.7L2229.5 884.3L2225.8 887.9L2231.4 889.5L2236.1 889.5L2241.9 892.1L2242.9 897.4L2245.8 903.9L2244.0 909.2L2239.5 915.7L2234.7 918.9L2229.6 919.9L2227.8 923.6L2224.0 926.7L2231.0 934.1L2232.4 938.0L2229.5 939.8L2225.7 940.6L2223.9 934.1L2220.1 931.4L2218.4 927.2L2215.2 926.7L2209.7 928.8L2209.5 924.4L2206.7 923.6L2203.3 928.3L2200.2 928.8L2203.3 932.2L2209.6 932.5L2213.7 933.5L2209.5 936.2L2207.4 939.3L2212.3 944.5L2215.9 947.7L2216.6 950.3L2217.7 952.9L2217.4 956.9L2214.5 961.6L2212.7 965.0L2209.5 968.6L2206.0 971.0L2201.1 972.6L2196.2 974.1L2192.2 975.5L2191.5 977.8L2190.3 974.7L2187.1 974.1L2183.5 976.0L2180.9 979.9L2183.3 984.4L2189.0 989.1L2191.9 996.9L2191.5 1000.9L2186.4 1003.8L2181.5 1008.2L2181.3 1004.8L2177.2 1003.2L2174.3 999.6L2170.3 997.7L2168.8 995.6L2167.8 999.6L2166.1 1004.8L2169.2 1010.0L2172.5 1013.2L2176.6 1016.6L2178.1 1021.8L2180.0 1027.3L2177.9 1027.1L2172.9 1023.9L2170.1 1019.2L2169.2 1014.0L2164.0 1009.5L2164.2 1003.5L2163.8 998.2L2161.1 991.7L2160.2 987.5L2155.2 989.6L2152.0 988.6L2151.4 982.5L2145.4 976.0L2142.8 971.8L2139.1 973.4L2134.8 974.1L2131.6 975.2L2130.7 978.6L2127.0 980.4L2120.6 987.5L2115.4 990.4L2115.8 996.9L2115.2 1004.0L2113.3 1006.9L2110.7 1008.7L2109.4 1009.8L2106.1 1005.6L2102.3 998.2L2099.3 991.7L2096.2 985.1L2095.3 980.7L2094.3 976.0L2090.2 976.5L2084.7 972.6L2087.9 970.7L2081.7 968.9L2078.9 966.0L2072.3 964.7L2064.6 965.2L2053.7 963.9L2051.3 960.3L2046.2 961.3L2038.2 958.2L2034.6 952.4L2030.7 951.9L2028.8 953.7L2031.0 957.6L2034.6 961.0L2035.4 964.2L2037.9 962.6L2039.3 967.3L2045.5 967.6L2050.9 962.4L2051.9 966.8L2057.8 969.4L2060.8 972.0L2056.6 977.6L2054.3 981.5L2049.4 985.4L2041.8 989.1L2034.1 993.5L2023.8 997.5L2019.9 997.7L2017.9 991.7L2015.6 986.5L2010.0 978.6L2007.1 973.4L2002.8 965.5L1997.2 958.2L1995.4 953.7L1993.9 958.4L1990.6 954.5L1989.4 952.4L1988.4 949.3L1993.3 949.0L1995.0 945.1L1996.6 939.3L1997.2 935.1L1991.7 935.9L1988.0 936.4L1982.9 935.9L1979.2 936.2L1974.8 934.6L1973.8 931.4L1971.8 928.0L1971.5 926.2L1970.8 924.1L1965.8 924.1L1965.5 926.2L1962.9 925.2L1963.6 928.3L1966.3 931.4L1962.8 935.4L1959.6 932.8L1958.7 928.8L1954.7 924.9L1954.3 921.5L1951.9 919.6L1945.6 917.0L1943.0 913.6L1940.3 913.6L1939.7 911.3L1936.3 912.3L1936.7 915.2L1939.7 917.0L1942.1 920.4L1946.3 921.5L1945.9 922.5L1952.3 925.7L1948.5 924.9L1947.6 927.5L1948.9 928.8L1947.5 930.4L1945.5 931.4L1946.2 928.8L1945.1 926.2L1942.3 924.6L1940.5 923.1L1936.7 921.7L1932.1 918.6L1931.3 916.0L1927.8 914.7L1924.7 916.2L1921.0 918.1L1916.1 917.0L1913.9 919.6L1914.1 921.5L1908.2 924.1L1905.5 927.8L1906.7 929.3L1904.4 932.2L1901.2 934.6L1894.9 934.8L1892.6 936.4L1890.4 935.1L1888.6 933.5ZM1517.5 850.5L1522.9 853.4L1531.0 856.0L1531.7 857.8L1521.2 862.3L1515.9 861.0L1511.1 859.1L1506.4 860.4ZM1892.5 899.7L1897.8 899.2L1903.8 898.2L1909.6 896.9L1910.2 892.9L1906.7 892.1L1905.7 889.0L1902.7 886.4L1901.0 884.3L1901.6 880.1L1898.1 879.6L1899.3 877.5L1894.6 877.5L1892.3 880.4L1893.3 884.3L1894.9 886.9L1898.7 887.4L1899.1 891.1L1895.5 891.4L1896.2 893.5L1893.8 895.3L1898.5 896.3L1895.9 897.4ZM1891.9 894.2L1891.7 890.8L1893.0 887.9L1889.0 886.1L1886.1 888.2L1882.6 889.0L1882.9 891.4L1884.1 893.2L1881.6 895.0L1883.5 896.1L1888.3 894.8ZM1937.5 931.4L1945.3 930.9L1944.4 934.8L1937.5 932.5ZM1926.7 928.8L1927.1 923.8L1930.3 923.6L1930.2 928.3ZM1927.8 922.3L1927.7 919.4L1929.7 918.6L1929.5 922.0ZM1965.7 938.3L1972.3 938.5L1971.8 939.6L1965.8 939.0ZM1988.0 939.8L1989.4 938.5L1993.2 937.7L1991.6 939.8ZM1927.7 825.3L1933.1 821.9L1944.3 820.4L1957.8 820.9L1953.0 824.5L1943.6 826.6L1940.2 830.0L1933.9 828.0ZM2015.0 843.7L2016.0 838.4L2020.1 833.7L2030.9 831.1L2042.8 829.3L2039.8 832.7L2032.9 834.9L2025.8 837.1L2025.0 842.4L2022.1 845.8L2016.5 845.0ZM2090.8 824.0L2091.1 818.8L2105.4 821.4L2110.2 825.9L2101.2 826.6ZM2185.7 834.5L2188.7 831.9L2202.1 832.9L2211.6 834.0L2203.0 835.3L2192.2 836.6ZM1996.0 820.9L2002.9 819.6L2009.6 818.3L2023.9 819.8L2011.6 821.4L2003.8 821.1ZM2237.4 941.9L2240.3 938.3L2247.7 937.7L2249.6 933.5L2253.8 933.3L2255.1 926.7L2254.9 923.1L2257.4 923.1L2260.4 927.5L2259.9 932.8L2261.0 937.5L2259.1 939.3L2256.1 940.1L2252.4 940.3L2250.2 943.2L2247.4 940.6L2242.6 941.4L2237.8 942.2ZM2235.5 943.2L2239.3 943.2L2240.8 948.5L2238.6 949.8L2235.6 945.3ZM2241.6 942.2L2246.4 941.4L2246.3 943.8L2243.2 945.1ZM2253.4 922.3L2252.3 917.8L2253.1 912.1L2259.0 915.2L2263.4 915.2L2265.1 917.8L2261.0 921.0L2254.8 919.6L2255.0 922.0ZM2253.1 910.5L2247.9 900.0L2244.0 890.8L2244.4 888.7L2249.4 896.1L2255.3 902.6L2253.0 905.2L2256.3 910.0ZM2216.8 970.7L2217.8 965.0L2220.5 965.5L2219.8 971.3L2218.8 973.4ZM2188.6 980.7L2191.6 978.3L2194.4 979.6L2192.2 983.1L2189.0 982.5ZM2219.5 982.5L2223.9 982.8L2224.1 988.3L2223.4 993.5L2230.3 996.9L2229.1 998.0L2224.9 994.8L2221.4 993.8L2219.0 989.1ZM2226.3 1012.7L2230.0 1008.2L2235.0 1005.3L2238.0 1011.4L2235.6 1015.8L2231.6 1014.0L2226.8 1012.9ZM2231.2 998.2L2234.4 998.8L2234.4 1004.0L2232.3 1004.0ZM2225.4 1000.1L2228.7 1001.4L2229.4 1006.9L2227.1 1005.3L2225.7 1003.5ZM2213.5 1009.3L2219.0 1001.4L2219.9 1003.5L2215.1 1009.3ZM2192.6 1027.1L2194.2 1025.8L2198.6 1023.9L2203.0 1022.4L2206.9 1018.4L2211.1 1012.9L2214.6 1014.0L2219.2 1017.1L2216.1 1019.7L2215.7 1024.5L2218.4 1028.4L2215.0 1030.5L2215.0 1033.6L2212.3 1037.0L2210.9 1041.0L2207.2 1041.5L2203.0 1039.4L2199.6 1039.6L2195.7 1038.3L2195.2 1034.4L2192.6 1030.2ZM2156.4 1016.3L2162.2 1017.4L2164.4 1020.0L2169.7 1023.9L2172.9 1025.8L2177.6 1029.2L2178.7 1033.1L2181.0 1034.9L2184.7 1038.9L2183.9 1046.2L2180.8 1046.2L2174.9 1041.5L2171.6 1037.5L2169.8 1033.4L2166.3 1029.4L2165.3 1026.0L2161.0 1022.4L2156.7 1017.9ZM2182.2 1048.8L2185.0 1046.7L2190.9 1048.0L2197.0 1048.0L2201.9 1049.3L2206.5 1051.4L2205.9 1053.8L2197.3 1052.7L2189.5 1051.4L2185.3 1050.4ZM2207.8 1052.5L2213.0 1052.7L2218.2 1053.0L2223.5 1053.0L2228.7 1052.7L2228.6 1054.1L2220.8 1054.3L2212.9 1054.6L2208.2 1054.1ZM2229.7 1058.0L2233.8 1054.6L2239.7 1053.0L2236.4 1055.6L2231.0 1058.0ZM2218.0 1055.9L2222.7 1056.4L2221.8 1057.7L2218.5 1056.9ZM2221.0 1028.9L2223.6 1027.6L2229.4 1028.4L2234.6 1026.8L2233.4 1029.7L2226.8 1029.7L2222.3 1030.0L2221.8 1033.1L2224.9 1033.6L2230.5 1033.6L2226.0 1036.0L2227.5 1039.6L2229.7 1042.8L2227.8 1045.4L2225.3 1043.3L2224.1 1038.3L2222.5 1038.9L2222.3 1045.7L2219.7 1045.4L2220.1 1040.2L2218.3 1038.3L2219.7 1033.6L2221.0 1031.0ZM2241.2 1025.8L2242.5 1028.4L2244.4 1027.1L2243.3 1030.2L2243.9 1033.1L2242.0 1031.0L2241.2 1028.4ZM2242.5 1038.9L2249.8 1039.4L2249.0 1040.7L2243.0 1040.2ZM2250.2 1033.4L2254.4 1032.0L2258.3 1033.1L2258.8 1037.5L2262.1 1039.6L2266.2 1036.2L2270.1 1035.7L2276.6 1037.8L2285.7 1041.0L2289.6 1044.1L2294.1 1047.5L2291.9 1048.8L2294.9 1052.0L2299.1 1057.2L2301.1 1058.5L2296.5 1058.0L2291.9 1055.9L2287.8 1052.0L2283.9 1051.2L2282.2 1052.7L2278.4 1055.1L2275.8 1054.8L2270.7 1052.2L2268.1 1052.7L2267.7 1049.9L2268.5 1045.4L2263.3 1043.1L2258.2 1041.2L2255.0 1041.0L2253.0 1038.3L2250.4 1034.7ZM2295.5 1045.7L2301.3 1045.4L2305.9 1042.0L2305.3 1044.6L2301.2 1047.5ZM2302.4 1037.8L2307.5 1042.0L2308.0 1043.3L2302.9 1038.9ZM2279.3 1059.0L2281.6 1069.0L2285.6 1070.3L2286.1 1080.3L2291.5 1083.4L2295.9 1091.3L2300.0 1097.8L2299.2 1105.7L2293.4 1116.2L2288.1 1120.6L2282.7 1128.5L2275.7 1130.6L2271.6 1133.4L2268.0 1131.1L2262.7 1131.9L2258.1 1130.6L2257.5 1125.3L2254.0 1124.5L2255.9 1120.9L2255.9 1116.7L2249.7 1122.2L2247.9 1121.4L2246.2 1116.9L2240.8 1113.5L2234.3 1114.1L2226.3 1115.6L2220.7 1117.5L2218.8 1119.8L2209.9 1119.8L2204.1 1122.7L2199.0 1122.7L2197.2 1120.9L2200.3 1114.8L2199.8 1109.6L2199.0 1103.8L2197.6 1099.1L2199.8 1092.6L2201.8 1088.1L2208.3 1085.0L2215.0 1083.4L2221.9 1080.8L2224.6 1076.1L2228.0 1076.3L2229.4 1073.7L2233.8 1069.0L2237.9 1067.4L2241.0 1069.8L2244.1 1070.0L2246.5 1065.1L2248.3 1063.5L2253.0 1061.1L2255.5 1061.9L2260.6 1062.7L2264.1 1062.4L2261.6 1066.4L2259.8 1070.3L2264.6 1072.9L2268.6 1076.3L2272.7 1076.8L2275.3 1071.6L2276.7 1064.5ZM2265.9 1137.6L2269.9 1138.7L2274.6 1138.2L2272.9 1141.6L2269.9 1144.4L2265.8 1145.2L2265.4 1141.8ZM2342.8 1121.1L2345.9 1123.5L2348.1 1127.2L2349.5 1129.5L2353.7 1129.8L2348.3 1134.2L2346.5 1136.6L2340.8 1140.0L2339.7 1139.2L2342.3 1136.3L2340.0 1134.0L2343.2 1131.9L2345.0 1127.9L2342.9 1122.7ZM2335.7 1137.1L2338.2 1140.3L2332.1 1145.8L2327.2 1147.1L2323.4 1151.3L2318.2 1153.1L2315.1 1152.0L2313.4 1150.7L2320.2 1146.3L2327.1 1143.4L2332.2 1139.7ZM2115.3 1005.6L2119.1 1008.7L2120.8 1012.7L2117.5 1015.3L2115.5 1011.4ZM2331.7 1083.7L2338.2 1089.4L2336.8 1089.7L2331.0 1084.7ZM1501.5 978.1L1503.8 979.4L1501.7 981.2ZM1760.3 1165.9L1767.5 1165.9L1766.7 1167.8L1760.6 1167.2ZM2285.9 845.5L2288.4 843.7L2292.3 845.0L2288.7 845.5ZM2367.7 1076.8L2371.1 1076.6L2370.4 1078.7L2367.6 1078.4Z" fill="none" stroke="#8dbfe3" stroke-width="9" stroke-linejoin="round" filter="url(#b3)" opacity=".75"/>
<g filter="url(#b6)"><ellipse cx="2087.8" cy="831.9" rx="121.1" ry="6.6" fill="#8cbde1" opacity="0.7"/><ellipse cx="2207.9" cy="1049.3" rx="42.0" ry="7.9" fill="#8abbe0" opacity="0.6"/><ellipse cx="2259.6" cy="1059.8" rx="20.9" ry="5.2" fill="#8cbde1" opacity="0.7"/><ellipse cx="1754.2" cy="1148.9" rx="9.8" ry="15.7" fill="#8abbe0" opacity="0.6"/><ellipse cx="1913.2" cy="884.3" rx="9.4" ry="7.9" fill="#8abbe0" opacity="0.6"/></g>
<path d="M1534.1 859.4L1546.6 851.5L1560.9 847.9L1575.1 844.2L1584.4 845.7L1593.9 847.2L1603.5 848.6L1614.9 850.2L1632.3 847.6L1637.6 848.9L1647.3 850.2L1657.1 851.5L1671.3 852.8L1680.0 852.8L1688.7 852.8L1697.4 852.8L1707.7 843.7L1712.0 850.2L1723.6 848.9L1728.6 851.5L1727.0 856.8L1716.4 858.1L1709.3 863.3L1691.9 871.2L1687.9 877.2L1690.6 881.7L1700.6 883.0L1712.2 886.4L1711.4 892.1L1713.5 896.6L1717.3 896.1L1719.8 888.2L1727.4 883.0L1724.9 877.2L1731.0 867.5L1739.9 867.8L1746.6 871.2L1745.8 876.9L1753.8 876.9L1758.5 873.0L1762.1 880.4L1765.3 885.6L1771.2 890.3L1773.3 894.8L1767.4 896.6L1761.9 899.5L1746.3 899.5L1739.2 903.9L1749.2 902.6L1749.5 906.5L1757.2 910.5L1751.6 913.9L1743.6 917.0L1744.4 913.1L1741.8 913.9L1733.7 917.0L1731.6 921.0L1722.1 924.9L1717.1 931.4L1714.6 938.0L1708.8 941.9L1700.1 948.5L1700.6 961.6L1698.9 965.0L1695.5 961.6L1694.7 955.0L1691.8 952.4L1681.7 951.6L1677.4 954.5L1673.6 954.2L1666.0 953.7L1657.4 959.0L1654.1 968.1L1653.7 974.7L1656.8 981.2L1660.4 983.3L1668.3 982.5L1671.7 976.0L1680.9 974.7L1678.7 982.5L1675.5 989.1L1682.0 989.6L1688.8 991.7L1687.1 1002.2L1690.5 1006.9L1697.9 1005.8L1703.3 1008.2L1701.8 1011.9L1701.2 1009.0L1697.8 1007.4L1695.1 1009.5L1695.8 1011.9L1691.9 1011.1L1688.6 1009.3L1686.8 1008.5L1682.2 1004.8L1681.6 1002.2L1677.5 996.9L1676.2 996.4L1667.2 994.3L1661.2 988.6L1654.6 989.9L1646.3 987.0L1635.9 981.7L1632.5 977.8L1633.5 974.7L1631.1 970.0L1624.8 962.9L1618.7 953.7L1614.5 947.9L1613.9 952.4L1617.6 959.0L1620.3 965.5L1623.3 970.2L1621.2 970.7L1617.4 966.8L1613.1 959.7L1610.6 952.4L1608.9 945.9L1606.3 941.9L1601.5 940.3L1599.5 935.1L1599.2 932.0L1597.4 927.5L1596.9 925.2L1599.7 918.3L1603.5 910.0L1604.2 904.2L1603.6 903.9L1598.3 898.2L1601.3 896.1L1599.2 888.7L1598.7 887.4L1594.7 880.4L1590.2 878.3L1584.8 874.3L1576.0 873.8L1572.2 871.2L1564.5 873.8L1557.4 875.6L1560.1 871.2L1553.2 875.1L1548.6 878.3L1537.0 883.0L1524.9 886.9L1517.5 887.9L1526.3 884.8L1532.3 883.0L1542.4 877.2L1532.0 877.2L1534.7 873.8L1527.8 872.5L1530.0 868.6L1535.0 865.9L1544.8 864.6L1547.1 862.0L1535.1 861.7ZM1758.7 869.1L1746.3 865.9L1740.0 862.0L1732.2 862.0L1743.4 859.4L1746.8 854.1L1740.8 848.9L1735.0 847.6L1724.6 847.1L1717.4 845.0L1719.7 838.4L1730.6 837.6L1738.4 838.4L1743.5 840.3L1750.3 842.9L1757.4 845.5L1760.9 849.4L1762.7 852.8L1770.3 855.5L1770.5 858.1L1764.0 860.7L1759.0 862.0L1762.5 864.6ZM1745.3 831.1L1737.5 830.8L1729.7 830.6L1730.1 825.3L1739.5 821.4L1733.2 818.3L1749.9 814.9L1759.9 814.1L1769.8 813.3L1778.7 813.5L1787.5 813.8L1792.7 815.4L1781.3 819.3L1769.2 822.7L1759.5 825.3L1751.2 828.5ZM1742.5 835.3L1734.3 835.3L1726.1 835.3L1717.9 835.3L1714.5 831.9L1726.3 829.8L1733.4 831.0L1740.6 832.1ZM1735.5 825.9L1729.1 824.3L1722.9 822.7L1730.7 818.8L1738.1 820.9ZM1687.2 850.2L1672.6 851.0L1660.6 849.7L1654.8 846.3L1661.0 840.3L1673.0 839.7L1686.1 839.0L1686.6 843.7L1691.0 846.3ZM1666.2 839.2L1645.7 844.5L1641.7 842.4L1650.0 836.6L1660.1 835.8L1666.8 837.4ZM1689.9 834.5L1679.0 834.2L1668.0 834.0L1673.5 830.6L1681.5 830.6L1689.5 830.6ZM1701.3 843.7L1691.8 842.4L1700.0 837.1L1712.8 836.6L1712.7 841.0ZM1724.9 863.3L1711.1 864.1L1715.7 859.4L1723.0 858.1ZM1762.2 906.3L1770.5 908.6L1777.0 908.9L1778.2 906.3L1777.0 902.1L1771.9 900.3L1773.2 896.1L1769.6 897.4L1766.4 901.3L1762.5 904.7ZM1852.4 859.4L1857.1 862.5L1855.8 863.8L1863.5 864.9L1872.7 862.8L1876.2 860.7L1873.6 857.6L1866.6 857.3L1859.8 858.6L1856.7 857.0ZM1686.2 973.6L1692.9 971.3L1699.5 970.7L1706.8 974.1L1713.7 978.1L1705.1 978.9L1704.0 977.0L1697.8 973.9L1694.1 972.3L1688.8 973.9ZM1712.8 982.8L1716.7 978.9L1724.5 979.1L1728.4 982.3L1722.9 983.3L1719.6 984.6L1716.4 983.1ZM1731.4 983.8L1735.6 983.8L1735.7 982.5L1731.5 982.5ZM1702.6 983.3L1707.7 984.1L1707.8 983.1L1703.9 982.5ZM1703.3 1008.2L1708.5 1003.2L1710.4 1001.9L1717.0 1000.1L1719.7 998.5L1718.7 1002.7L1723.1 999.3L1728.1 1003.5L1737.3 1004.3L1743.9 1003.0L1746.8 1008.5L1755.3 1014.5L1764.4 1015.8L1771.0 1019.5L1774.8 1026.3L1774.8 1031.0L1780.1 1033.6L1789.3 1037.5L1797.2 1038.6L1805.1 1040.7L1813.8 1044.9L1814.9 1050.7L1809.3 1059.8L1804.3 1065.1L1804.7 1076.8L1800.5 1087.3L1797.7 1091.3L1791.2 1091.8L1781.4 1098.6L1781.7 1105.1L1774.2 1116.2L1770.8 1120.1L1763.5 1122.4L1758.4 1120.1L1762.8 1126.4L1761.1 1131.9L1751.3 1133.2L1751.5 1138.4L1744.8 1138.4L1748.6 1142.9L1745.6 1148.9L1741.4 1152.0L1746.3 1155.5L1741.6 1162.8L1743.3 1168.3L1752.5 1174.3L1746.5 1176.4L1738.7 1173.8L1730.0 1168.5L1724.5 1162.0L1722.4 1154.1L1724.2 1146.3L1723.9 1139.7L1721.8 1129.2L1724.7 1116.2L1723.3 1107.0L1724.7 1092.6L1723.4 1079.2L1716.0 1074.2L1707.2 1067.7L1704.2 1062.4L1697.7 1052.0L1692.8 1046.2L1692.7 1042.3L1696.0 1039.6L1693.9 1037.0L1693.9 1033.4L1696.0 1028.9L1699.1 1027.1L1703.4 1021.0L1702.8 1013.2L1701.8 1012.1ZM1891.3 937.2L1900.6 939.0L1906.2 937.2L1913.7 934.3L1926.3 934.3L1931.3 933.3L1933.8 934.3L1932.0 941.1L1934.1 944.0L1944.8 946.1L1954.7 951.6L1957.1 947.7L1960.7 944.8L1969.8 947.7L1980.1 950.0L1985.1 948.5L1988.4 949.3L1989.2 952.4L1992.0 957.6L1997.8 968.1L2002.1 976.0L2003.1 981.7L2007.9 990.4L2013.8 993.0L2019.2 998.2L2019.5 1000.9L2024.0 1003.5L2033.1 1001.4L2040.2 1000.1L2039.3 1006.1L2034.8 1015.3L2027.1 1024.5L2017.9 1033.6L2012.6 1038.3L2009.1 1045.4L2009.8 1052.0L2012.2 1059.3L2012.1 1070.3L2002.5 1077.6L1996.8 1083.4L1997.8 1093.9L1990.8 1099.1L1989.9 1105.7L1983.9 1112.2L1975.9 1118.8L1970.7 1120.1L1961.8 1120.6L1956.7 1122.2L1952.7 1120.6L1952.0 1114.8L1948.4 1105.7L1944.8 1099.1L1943.7 1090.0L1938.7 1078.2L1937.0 1072.9L1941.5 1063.8L1942.3 1058.5L1938.5 1046.7L1935.1 1041.0L1930.6 1034.9L1931.2 1028.4L1931.9 1023.1L1929.6 1019.2L1924.6 1019.5L1922.0 1019.7L1918.0 1014.5L1912.8 1014.5L1908.8 1015.5L1901.5 1018.4L1895.7 1017.4L1886.5 1019.5L1881.3 1016.6L1876.0 1012.9L1871.3 1008.7L1870.3 1005.6L1866.9 1002.2L1862.5 998.2L1860.5 992.5L1863.2 989.1L1863.8 981.2L1862.1 976.0L1864.9 968.9L1868.9 962.4L1872.9 958.2L1880.6 954.2L1881.5 948.5L1887.2 943.0L1890.5 939.3ZM2035.2 1062.4L2037.9 1071.6L2035.9 1075.5L2032.0 1084.7L2027.3 1096.5L2022.0 1098.1L2019.0 1092.6L2018.3 1087.3L2021.5 1082.1L2020.8 1075.5L2026.7 1072.4L2031.6 1066.4ZM1883.6 934.1L1882.4 929.6L1884.4 922.3L1883.5 917.8L1886.5 916.5L1896.3 917.3L1901.8 917.3L1903.3 913.1L1903.3 910.0L1900.6 907.1L1894.8 904.2L1902.3 903.7L1901.9 900.8L1906.7 901.3L1910.0 897.6L1914.6 896.3L1917.6 892.1L1922.8 890.8L1927.0 889.5L1925.7 885.6L1925.3 881.7L1930.6 879.8L1930.3 884.3L1929.8 887.7L1932.2 889.5L1935.7 888.5L1940.0 889.8L1949.8 887.4L1952.9 888.2L1955.6 886.1L1955.1 881.7L1962.0 880.4L1960.3 875.9L1968.3 875.1L1975.0 873.8L1970.2 872.2L1963.5 873.3L1957.8 873.8L1954.8 871.2L1954.3 867.2L1960.7 861.2L1962.2 859.4L1954.8 858.6L1953.7 862.0L1946.9 867.2L1945.4 871.2L1949.3 873.8L1945.5 877.2L1944.8 883.0L1940.2 884.3L1936.7 885.9L1932.9 879.0L1930.4 875.9L1923.6 879.0L1917.7 876.4L1917.6 869.9L1924.2 864.6L1932.8 859.4L1937.7 852.8L1944.9 848.9L1955.1 845.5L1965.5 844.7L1972.4 847.1L1977.2 849.2L1986.2 850.7L1995.7 854.1L1994.4 857.6L1983.3 857.3L1978.7 856.2L1982.9 860.7L1989.0 863.3L1996.5 861.7L1994.5 858.1L2003.2 857.6L2001.5 851.5L2007.5 853.4L2020.7 850.7L2031.5 850.7L2035.9 848.1L2048.8 850.7L2050.2 848.9L2048.3 845.0L2048.8 839.7L2057.5 840.3L2061.6 840.3L2070.2 842.4L2074.0 838.4L2083.5 837.1L2083.3 834.0L2090.5 832.8L2097.7 831.6L2104.9 829.5L2111.8 827.4L2128.3 830.0L2139.2 837.1L2133.0 837.1L2140.4 838.4L2151.2 839.0L2162.6 837.9L2172.7 839.7L2180.9 845.0L2187.1 843.7L2197.0 841.0L2197.7 839.7L2212.3 841.6L2228.6 845.0L2238.1 845.9L2247.7 846.8L2254.0 848.6L2262.0 848.1L2270.0 847.6L2275.1 850.2L2289.0 849.2L2294.9 850.5L2306.0 860.4L2303.4 862.3L2306.1 867.2L2300.6 869.9L2297.2 873.8L2286.9 873.8L2285.3 879.0L2285.7 884.3L2288.4 888.2L2286.3 892.1L2285.2 896.1L2281.7 897.4L2276.0 890.8L2269.5 883.0L2269.4 879.6L2272.1 872.5L2276.7 868.6L2269.5 869.3L2260.8 869.9L2262.7 875.1L2254.0 875.9L2241.2 875.6L2232.2 877.7L2229.5 884.3L2225.8 887.9L2231.4 889.5L2236.1 889.5L2241.9 892.1L2242.9 897.4L2245.8 903.9L2244.0 909.2L2239.5 915.7L2234.7 918.9L2229.6 919.9L2227.8 923.6L2224.0 926.7L2231.0 934.1L2232.4 938.0L2229.5 939.8L2225.7 940.6L2223.9 934.1L2220.1 931.4L2218.4 927.2L2215.2 926.7L2209.7 928.8L2209.5 924.4L2206.7 923.6L2203.3 928.3L2200.2 928.8L2203.3 932.2L2209.6 932.5L2213.7 933.5L2209.5 936.2L2207.4 939.3L2212.3 944.5L2215.9 947.7L2216.6 950.3L2217.7 952.9L2217.4 956.9L2214.5 961.6L2212.7 965.0L2209.5 968.6L2206.0 971.0L2201.1 972.6L2196.2 974.1L2192.2 975.5L2191.5 977.8L2190.3 974.7L2187.1 974.1L2183.5 976.0L2180.9 979.9L2183.3 984.4L2189.0 989.1L2191.9 996.9L2191.5 1000.9L2186.4 1003.8L2181.5 1008.2L2181.3 1004.8L2177.2 1003.2L2174.3 999.6L2170.3 997.7L2168.8 995.6L2167.8 999.6L2166.1 1004.8L2169.2 1010.0L2172.5 1013.2L2176.6 1016.6L2178.1 1021.8L2180.0 1027.3L2177.9 1027.1L2172.9 1023.9L2170.1 1019.2L2169.2 1014.0L2164.0 1009.5L2164.2 1003.5L2163.8 998.2L2161.1 991.7L2160.2 987.5L2155.2 989.6L2152.0 988.6L2151.4 982.5L2145.4 976.0L2142.8 971.8L2139.1 973.4L2134.8 974.1L2131.6 975.2L2130.7 978.6L2127.0 980.4L2120.6 987.5L2115.4 990.4L2115.8 996.9L2115.2 1004.0L2113.3 1006.9L2110.7 1008.7L2109.4 1009.8L2106.1 1005.6L2102.3 998.2L2099.3 991.7L2096.2 985.1L2095.3 980.7L2094.3 976.0L2090.2 976.5L2084.7 972.6L2087.9 970.7L2081.7 968.9L2078.9 966.0L2072.3 964.7L2064.6 965.2L2053.7 963.9L2051.3 960.3L2046.2 961.3L2038.2 958.2L2034.6 952.4L2030.7 951.9L2028.8 953.7L2031.0 957.6L2034.6 961.0L2035.4 964.2L2037.9 962.6L2039.3 967.3L2045.5 967.6L2050.9 962.4L2051.9 966.8L2057.8 969.4L2060.8 972.0L2056.6 977.6L2054.3 981.5L2049.4 985.4L2041.8 989.1L2034.1 993.5L2023.8 997.5L2019.9 997.7L2017.9 991.7L2015.6 986.5L2010.0 978.6L2007.1 973.4L2002.8 965.5L1997.2 958.2L1995.4 953.7L1993.9 958.4L1990.6 954.5L1989.4 952.4L1988.4 949.3L1993.3 949.0L1995.0 945.1L1996.6 939.3L1997.2 935.1L1991.7 935.9L1988.0 936.4L1982.9 935.9L1979.2 936.2L1974.8 934.6L1973.8 931.4L1971.8 928.0L1971.5 926.2L1970.8 924.1L1965.8 924.1L1965.5 926.2L1962.9 925.2L1963.6 928.3L1966.3 931.4L1962.8 935.4L1959.6 932.8L1958.7 928.8L1954.7 924.9L1954.3 921.5L1951.9 919.6L1945.6 917.0L1943.0 913.6L1940.3 913.6L1939.7 911.3L1936.3 912.3L1936.7 915.2L1939.7 917.0L1942.1 920.4L1946.3 921.5L1945.9 922.5L1952.3 925.7L1948.5 924.9L1947.6 927.5L1948.9 928.8L1947.5 930.4L1945.5 931.4L1946.2 928.8L1945.1 926.2L1942.3 924.6L1940.5 923.1L1936.7 921.7L1932.1 918.6L1931.3 916.0L1927.8 914.7L1924.7 916.2L1921.0 918.1L1916.1 917.0L1913.9 919.6L1914.1 921.5L1908.2 924.1L1905.5 927.8L1906.7 929.3L1904.4 932.2L1901.2 934.6L1894.9 934.8L1892.6 936.4L1890.4 935.1L1888.6 933.5ZM1517.5 850.5L1522.9 853.4L1531.0 856.0L1531.7 857.8L1521.2 862.3L1515.9 861.0L1511.1 859.1L1506.4 860.4ZM1892.5 899.7L1897.8 899.2L1903.8 898.2L1909.6 896.9L1910.2 892.9L1906.7 892.1L1905.7 889.0L1902.7 886.4L1901.0 884.3L1901.6 880.1L1898.1 879.6L1899.3 877.5L1894.6 877.5L1892.3 880.4L1893.3 884.3L1894.9 886.9L1898.7 887.4L1899.1 891.1L1895.5 891.4L1896.2 893.5L1893.8 895.3L1898.5 896.3L1895.9 897.4ZM1891.9 894.2L1891.7 890.8L1893.0 887.9L1889.0 886.1L1886.1 888.2L1882.6 889.0L1882.9 891.4L1884.1 893.2L1881.6 895.0L1883.5 896.1L1888.3 894.8ZM1937.5 931.4L1945.3 930.9L1944.4 934.8L1937.5 932.5ZM1926.7 928.8L1927.1 923.8L1930.3 923.6L1930.2 928.3ZM1927.8 922.3L1927.7 919.4L1929.7 918.6L1929.5 922.0ZM1965.7 938.3L1972.3 938.5L1971.8 939.6L1965.8 939.0ZM1988.0 939.8L1989.4 938.5L1993.2 937.7L1991.6 939.8ZM1927.7 825.3L1933.1 821.9L1944.3 820.4L1957.8 820.9L1953.0 824.5L1943.6 826.6L1940.2 830.0L1933.9 828.0ZM2015.0 843.7L2016.0 838.4L2020.1 833.7L2030.9 831.1L2042.8 829.3L2039.8 832.7L2032.9 834.9L2025.8 837.1L2025.0 842.4L2022.1 845.8L2016.5 845.0ZM2090.8 824.0L2091.1 818.8L2105.4 821.4L2110.2 825.9L2101.2 826.6ZM2185.7 834.5L2188.7 831.9L2202.1 832.9L2211.6 834.0L2203.0 835.3L2192.2 836.6ZM1996.0 820.9L2002.9 819.6L2009.6 818.3L2023.9 819.8L2011.6 821.4L2003.8 821.1ZM2237.4 941.9L2240.3 938.3L2247.7 937.7L2249.6 933.5L2253.8 933.3L2255.1 926.7L2254.9 923.1L2257.4 923.1L2260.4 927.5L2259.9 932.8L2261.0 937.5L2259.1 939.3L2256.1 940.1L2252.4 940.3L2250.2 943.2L2247.4 940.6L2242.6 941.4L2237.8 942.2ZM2235.5 943.2L2239.3 943.2L2240.8 948.5L2238.6 949.8L2235.6 945.3ZM2241.6 942.2L2246.4 941.4L2246.3 943.8L2243.2 945.1ZM2253.4 922.3L2252.3 917.8L2253.1 912.1L2259.0 915.2L2263.4 915.2L2265.1 917.8L2261.0 921.0L2254.8 919.6L2255.0 922.0ZM2253.1 910.5L2247.9 900.0L2244.0 890.8L2244.4 888.7L2249.4 896.1L2255.3 902.6L2253.0 905.2L2256.3 910.0ZM2216.8 970.7L2217.8 965.0L2220.5 965.5L2219.8 971.3L2218.8 973.4ZM2188.6 980.7L2191.6 978.3L2194.4 979.6L2192.2 983.1L2189.0 982.5ZM2219.5 982.5L2223.9 982.8L2224.1 988.3L2223.4 993.5L2230.3 996.9L2229.1 998.0L2224.9 994.8L2221.4 993.8L2219.0 989.1ZM2226.3 1012.7L2230.0 1008.2L2235.0 1005.3L2238.0 1011.4L2235.6 1015.8L2231.6 1014.0L2226.8 1012.9ZM2231.2 998.2L2234.4 998.8L2234.4 1004.0L2232.3 1004.0ZM2225.4 1000.1L2228.7 1001.4L2229.4 1006.9L2227.1 1005.3L2225.7 1003.5ZM2213.5 1009.3L2219.0 1001.4L2219.9 1003.5L2215.1 1009.3ZM2192.6 1027.1L2194.2 1025.8L2198.6 1023.9L2203.0 1022.4L2206.9 1018.4L2211.1 1012.9L2214.6 1014.0L2219.2 1017.1L2216.1 1019.7L2215.7 1024.5L2218.4 1028.4L2215.0 1030.5L2215.0 1033.6L2212.3 1037.0L2210.9 1041.0L2207.2 1041.5L2203.0 1039.4L2199.6 1039.6L2195.7 1038.3L2195.2 1034.4L2192.6 1030.2ZM2156.4 1016.3L2162.2 1017.4L2164.4 1020.0L2169.7 1023.9L2172.9 1025.8L2177.6 1029.2L2178.7 1033.1L2181.0 1034.9L2184.7 1038.9L2183.9 1046.2L2180.8 1046.2L2174.9 1041.5L2171.6 1037.5L2169.8 1033.4L2166.3 1029.4L2165.3 1026.0L2161.0 1022.4L2156.7 1017.9ZM2182.2 1048.8L2185.0 1046.7L2190.9 1048.0L2197.0 1048.0L2201.9 1049.3L2206.5 1051.4L2205.9 1053.8L2197.3 1052.7L2189.5 1051.4L2185.3 1050.4ZM2207.8 1052.5L2213.0 1052.7L2218.2 1053.0L2223.5 1053.0L2228.7 1052.7L2228.6 1054.1L2220.8 1054.3L2212.9 1054.6L2208.2 1054.1ZM2229.7 1058.0L2233.8 1054.6L2239.7 1053.0L2236.4 1055.6L2231.0 1058.0ZM2218.0 1055.9L2222.7 1056.4L2221.8 1057.7L2218.5 1056.9ZM2221.0 1028.9L2223.6 1027.6L2229.4 1028.4L2234.6 1026.8L2233.4 1029.7L2226.8 1029.7L2222.3 1030.0L2221.8 1033.1L2224.9 1033.6L2230.5 1033.6L2226.0 1036.0L2227.5 1039.6L2229.7 1042.8L2227.8 1045.4L2225.3 1043.3L2224.1 1038.3L2222.5 1038.9L2222.3 1045.7L2219.7 1045.4L2220.1 1040.2L2218.3 1038.3L2219.7 1033.6L2221.0 1031.0ZM2241.2 1025.8L2242.5 1028.4L2244.4 1027.1L2243.3 1030.2L2243.9 1033.1L2242.0 1031.0L2241.2 1028.4ZM2242.5 1038.9L2249.8 1039.4L2249.0 1040.7L2243.0 1040.2ZM2250.2 1033.4L2254.4 1032.0L2258.3 1033.1L2258.8 1037.5L2262.1 1039.6L2266.2 1036.2L2270.1 1035.7L2276.6 1037.8L2285.7 1041.0L2289.6 1044.1L2294.1 1047.5L2291.9 1048.8L2294.9 1052.0L2299.1 1057.2L2301.1 1058.5L2296.5 1058.0L2291.9 1055.9L2287.8 1052.0L2283.9 1051.2L2282.2 1052.7L2278.4 1055.1L2275.8 1054.8L2270.7 1052.2L2268.1 1052.7L2267.7 1049.9L2268.5 1045.4L2263.3 1043.1L2258.2 1041.2L2255.0 1041.0L2253.0 1038.3L2250.4 1034.7ZM2295.5 1045.7L2301.3 1045.4L2305.9 1042.0L2305.3 1044.6L2301.2 1047.5ZM2302.4 1037.8L2307.5 1042.0L2308.0 1043.3L2302.9 1038.9ZM2279.3 1059.0L2281.6 1069.0L2285.6 1070.3L2286.1 1080.3L2291.5 1083.4L2295.9 1091.3L2300.0 1097.8L2299.2 1105.7L2293.4 1116.2L2288.1 1120.6L2282.7 1128.5L2275.7 1130.6L2271.6 1133.4L2268.0 1131.1L2262.7 1131.9L2258.1 1130.6L2257.5 1125.3L2254.0 1124.5L2255.9 1120.9L2255.9 1116.7L2249.7 1122.2L2247.9 1121.4L2246.2 1116.9L2240.8 1113.5L2234.3 1114.1L2226.3 1115.6L2220.7 1117.5L2218.8 1119.8L2209.9 1119.8L2204.1 1122.7L2199.0 1122.7L2197.2 1120.9L2200.3 1114.8L2199.8 1109.6L2199.0 1103.8L2197.6 1099.1L2199.8 1092.6L2201.8 1088.1L2208.3 1085.0L2215.0 1083.4L2221.9 1080.8L2224.6 1076.1L2228.0 1076.3L2229.4 1073.7L2233.8 1069.0L2237.9 1067.4L2241.0 1069.8L2244.1 1070.0L2246.5 1065.1L2248.3 1063.5L2253.0 1061.1L2255.5 1061.9L2260.6 1062.7L2264.1 1062.4L2261.6 1066.4L2259.8 1070.3L2264.6 1072.9L2268.6 1076.3L2272.7 1076.8L2275.3 1071.6L2276.7 1064.5ZM2265.9 1137.6L2269.9 1138.7L2274.6 1138.2L2272.9 1141.6L2269.9 1144.4L2265.8 1145.2L2265.4 1141.8ZM2342.8 1121.1L2345.9 1123.5L2348.1 1127.2L2349.5 1129.5L2353.7 1129.8L2348.3 1134.2L2346.5 1136.6L2340.8 1140.0L2339.7 1139.2L2342.3 1136.3L2340.0 1134.0L2343.2 1131.9L2345.0 1127.9L2342.9 1122.7ZM2335.7 1137.1L2338.2 1140.3L2332.1 1145.8L2327.2 1147.1L2323.4 1151.3L2318.2 1153.1L2315.1 1152.0L2313.4 1150.7L2320.2 1146.3L2327.1 1143.4L2332.2 1139.7ZM2115.3 1005.6L2119.1 1008.7L2120.8 1012.7L2117.5 1015.3L2115.5 1011.4ZM2331.7 1083.7L2338.2 1089.4L2336.8 1089.7L2331.0 1084.7ZM1501.5 978.1L1503.8 979.4L1501.7 981.2ZM1760.3 1165.9L1767.5 1165.9L1766.7 1167.8L1760.6 1167.2ZM2285.9 845.5L2288.4 843.7L2292.3 845.0L2288.7 845.5ZM2367.7 1076.8L2371.1 1076.6L2370.4 1078.7L2367.6 1078.4Z" fill="#e5e7b0"/>
<g clip-path="url(#landclip)"><g filter="url(#b6)">
<ellipse cx="1685.5" cy="842.4" rx="147.2" ry="23.6" fill="#e2e2cd" opacity="1"/>
<ellipse cx="1575.1" cy="858.1" rx="48.6" ry="15.7" fill="#dddec2" opacity="1"/>
<ellipse cx="1682.4" cy="863.3" rx="100.7" ry="13.1" fill="#d6dbbb" opacity="1"/>
<ellipse cx="1671.4" cy="885.6" rx="112.7" ry="15.7" fill="#bbd1a1" opacity="1"/>
<ellipse cx="1725.7" cy="900.0" rx="28.9" ry="13.1" fill="#c0d4a3" opacity="1"/>
<ellipse cx="1614.9" cy="881.7" rx="18.6" ry="21.0" fill="#c7d5ae" opacity="1"/>
<ellipse cx="1566.3" cy="868.6" rx="22.7" ry="7.9" fill="#c8d6ac" opacity="0.9"/>
<ellipse cx="1658.6" cy="921.0" rx="17.3" ry="26.2" fill="#ecebb4" opacity="1"/>
<ellipse cx="1660.2" cy="944.5" rx="12.7" ry="13.1" fill="#e8e7ae" opacity="1"/>
<ellipse cx="1695.2" cy="934.1" rx="22.6" ry="18.3" fill="#d3dfa3" opacity="1"/>
<ellipse cx="1713.7" cy="918.3" rx="19.7" ry="10.5" fill="#cddca3" opacity="1"/>
<ellipse cx="1624.7" cy="926.2" rx="17.4" ry="21.0" fill="#e1dcb5" opacity="1"/>
<ellipse cx="1625.4" cy="952.4" rx="15.3" ry="15.7" fill="#e5deb5" opacity="1"/>
<ellipse cx="1640.4" cy="968.1" rx="12.9" ry="13.1" fill="#e0deac" opacity="1"/>
<ellipse cx="1611.0" cy="915.7" rx="9.8" ry="15.7" fill="#d1d9a9" opacity="1"/>
<ellipse cx="1671.6" cy="989.1" rx="15.6" ry="7.9" fill="#c1d699" opacity="1"/>
<ellipse cx="1683.8" cy="999.6" rx="10.5" ry="7.9" fill="#bed598" opacity="1"/>
<ellipse cx="1743.3" cy="1038.9" rx="34.2" ry="21.0" fill="#b7d098" opacity="1"/>
<ellipse cx="1756.5" cy="1020.5" rx="18.4" ry="7.9" fill="#bdd499" opacity="1"/>
<ellipse cx="1717.1" cy="1017.9" rx="13.1" ry="13.1" fill="#c2d69b" opacity="1"/>
<ellipse cx="1790.9" cy="1057.2" rx="21.0" ry="21.0" fill="#dfe3a6" opacity="1"/>
<ellipse cx="1771.3" cy="1083.4" rx="20.8" ry="18.3" fill="#d7e0a3" opacity="1"/>
<ellipse cx="1752.2" cy="1101.7" rx="12.8" ry="15.7" fill="#e2e3a9" opacity="1"/>
<ellipse cx="1750.1" cy="1125.3" rx="12.6" ry="10.5" fill="#e5e5ac" opacity="1"/>
<ellipse cx="1739.5" cy="1148.9" rx="9.8" ry="21.0" fill="#ddd6b1" opacity="1"/>
<ellipse cx="1930.5" cy="905.2" rx="43.7" ry="15.7" fill="#dae1a6" opacity="1"/>
<ellipse cx="1896.2" cy="926.2" rx="12.5" ry="9.2" fill="#e5e2b1" opacity="1"/>
<ellipse cx="1946.7" cy="865.9" rx="18.0" ry="15.7" fill="#c2d5a3" opacity="1"/>
<ellipse cx="1969.7" cy="868.6" rx="13.6" ry="13.1" fill="#bed3a1" opacity="1"/>
<ellipse cx="1989.7" cy="894.8" rx="33.4" ry="13.1" fill="#d8e0a4" opacity="1"/>
<ellipse cx="1986.1" cy="928.8" rx="20.0" ry="6.5" fill="#e5e0b2" opacity="1"/>
<ellipse cx="2055.3" cy="873.8" rx="91.7" ry="15.7" fill="#b8d09f" opacity="1"/>
<ellipse cx="2169.9" cy="873.8" rx="68.8" ry="18.3" fill="#bbd1a1" opacity="1"/>
<ellipse cx="2119.3" cy="846.3" rx="106.5" ry="9.2" fill="#d9dbc0" opacity="1"/>
<ellipse cx="2270.4" cy="858.1" rx="30.9" ry="10.5" fill="#d6d9bd" opacity="1"/>
<ellipse cx="1523.5" cy="856.8" rx="15.4" ry="7.9" fill="#dedfc8" opacity="1"/>
<ellipse cx="2246.1" cy="868.6" rx="34.0" ry="7.9" fill="#c5d5a9" opacity="1"/>
<ellipse cx="2050.6" cy="900.0" rx="60.2" ry="9.2" fill="#e3e4aa" opacity="1"/>
<ellipse cx="2221.5" cy="905.2" rx="19.4" ry="13.1" fill="#ccdba3" opacity="1"/>
<ellipse cx="2059.7" cy="921.0" rx="27.2" ry="13.1" fill="#ece2ba" opacity="1"/>
<ellipse cx="2046.0" cy="947.2" rx="17.8" ry="13.1" fill="#e9e0b8" opacity="1"/>
<ellipse cx="2076.9" cy="949.8" rx="12.7" ry="10.5" fill="#e8dcb7" opacity="1"/>
<ellipse cx="2022.1" cy="965.5" rx="23.2" ry="18.3" fill="#f2e3c0" opacity="1"/>
<ellipse cx="2012.7" cy="944.5" rx="12.7" ry="7.9" fill="#ece2b8" opacity="1"/>
<ellipse cx="2129.1" cy="943.2" rx="30.4" ry="10.5" fill="#d6d4c5" opacity="1"/>
<ellipse cx="2107.6" cy="936.7" rx="20.1" ry="5.2" fill="#ded8bf" opacity="1"/>
<ellipse cx="2112.9" cy="926.2" rx="19.9" ry="6.6" fill="#ebe0b8" opacity="1"/>
<ellipse cx="2158.3" cy="919.6" rx="24.7" ry="9.2" fill="#e9deb5" opacity="1"/>
<ellipse cx="2143.9" cy="905.2" rx="19.4" ry="7.9" fill="#dbdca9" opacity="1"/>
<ellipse cx="2195.3" cy="944.5" rx="17.8" ry="21.0" fill="#dfe3a4" opacity="1"/>
<ellipse cx="2175.8" cy="960.3" rx="15.4" ry="10.5" fill="#ccdb9e" opacity="1"/>
<ellipse cx="2205.3" cy="913.1" rx="14.7" ry="10.5" fill="#d7e0a3" opacity="1"/>
<ellipse cx="2108.1" cy="973.4" rx="18.1" ry="21.0" fill="#e6e5aa" opacity="1"/>
<ellipse cx="2107.6" cy="999.6" rx="7.8" ry="13.1" fill="#dae0a1" opacity="1"/>
<ellipse cx="2091.0" cy="960.3" rx="9.0" ry="7.9" fill="#ece0b5" opacity="1"/>
<ellipse cx="2166.6" cy="986.5" rx="15.6" ry="18.3" fill="#c6d89b" opacity="1"/>
<ellipse cx="2176.8" cy="1023.1" rx="13.1" ry="10.5" fill="#bdd498" opacity="1"/>
<ellipse cx="1926.8" cy="968.1" rx="69.7" ry="19.6" fill="#f3e5c2" opacity="1"/>
<ellipse cx="1978.7" cy="973.4" rx="20.7" ry="21.0" fill="#f3e4c0" opacity="1"/>
<ellipse cx="1885.8" cy="952.4" rx="15.3" ry="7.9" fill="#ece0b5" opacity="1"/>
<ellipse cx="1911.3" cy="940.6" rx="22.7" ry="3.9" fill="#e0e0ac" opacity="1"/>
<ellipse cx="1932.3" cy="996.9" rx="78.4" ry="6.6" fill="#e9e6ac" opacity="1"/>
<ellipse cx="2021.6" cy="1012.7" rx="15.7" ry="13.1" fill="#ece2b4" opacity="1"/>
<ellipse cx="1927.2" cy="1010.0" rx="47.2" ry="7.9" fill="#d3de9e" opacity="1"/>
<ellipse cx="1958.8" cy="1031.0" rx="26.3" ry="13.1" fill="#b4ce95" opacity="1"/>
<ellipse cx="1885.2" cy="1014.0" rx="13.1" ry="5.2" fill="#c1d598" opacity="1"/>
<ellipse cx="1937.7" cy="1023.1" rx="10.5" ry="10.5" fill="#b8d196" opacity="1"/>
<ellipse cx="1998.1" cy="1038.9" rx="13.1" ry="21.0" fill="#dedfa7" opacity="1"/>
<ellipse cx="1971.5" cy="1065.1" rx="26.1" ry="13.1" fill="#d4dda1" opacity="1"/>
<ellipse cx="1963.1" cy="1091.3" rx="18.1" ry="13.1" fill="#e8e0b2" opacity="1"/>
<ellipse cx="1945.0" cy="1088.6" rx="6.5" ry="15.7" fill="#ece0b5" opacity="1"/>
<ellipse cx="1977.7" cy="1109.6" rx="12.8" ry="9.2" fill="#e0e1a7" opacity="1"/>
<ellipse cx="2005.6" cy="1062.4" rx="7.8" ry="15.7" fill="#d6dea1" opacity="1"/>
<ellipse cx="2028.3" cy="1080.8" rx="6.5" ry="15.7" fill="#d9e0a3" opacity="1"/>
<ellipse cx="2205.8" cy="1031.0" rx="13.1" ry="10.5" fill="#b8d196" opacity="1"/>
<ellipse cx="2171.6" cy="1031.0" rx="13.1" ry="13.1" fill="#b9d296" opacity="1"/>
<ellipse cx="2273.8" cy="1044.1" rx="23.6" ry="9.2" fill="#b7d196" opacity="1"/>
<ellipse cx="2224.1" cy="1036.2" rx="7.9" ry="10.5" fill="#bdd498" opacity="1"/>
<ellipse cx="2228.4" cy="1004.8" rx="10.5" ry="21.0" fill="#c4d89b" opacity="1"/>
<ellipse cx="2248.8" cy="1096.5" rx="33.5" ry="18.3" fill="#efddb8" opacity="1"/>
<ellipse cx="2219.4" cy="1101.7" rx="15.4" ry="13.1" fill="#ecdeb7" opacity="1"/>
<ellipse cx="2278.9" cy="1109.6" rx="12.8" ry="21.0" fill="#dee0a7" opacity="1"/>
<ellipse cx="2255.9" cy="1070.3" rx="23.5" ry="6.5" fill="#dadea4" opacity="1"/>
<ellipse cx="2204.5" cy="1116.2" rx="6.3" ry="6.6" fill="#dadea4" opacity="1"/>
<ellipse cx="2332.1" cy="1141.0" rx="14.9" ry="13.1" fill="#d3dca1" opacity="1"/>
<ellipse cx="2252.8" cy="934.1" rx="15.1" ry="15.7" fill="#cddca1" opacity="1"/>
</g>
<g filter="url(#b3)" fill="none" stroke-linecap="round">
<path d="M1717.4 1010.0L1703.9 1031.0L1701.5 1046.7L1710.0 1062.4L1723.7 1072.9L1730.2 1088.6L1727.5 1109.6L1728.4 1130.6L1730.3 1151.5L1733.7 1164.6" stroke="#cbc5b6" stroke-width="5" opacity="1"/>
<path d="M1723.5 1070.3L1732.3 1083.4L1731.3 1099.1" stroke="#d0ccc2" stroke-width="8" opacity="1"/>
<path d="M1566.3 868.6L1590.6 872.5L1601.7 884.3L1609.0 897.4L1618.9 907.9L1629.8 918.3L1638.9 928.8L1638.0 941.9" stroke="#cfcdbf" stroke-width="7" opacity="1"/>
<path d="M1607.3 926.2L1609.1 936.7" stroke="#d6d0bc" stroke-width="4" opacity="1"/>
<path d="M2092.8 938.0L2109.8 948.5L2126.5 956.9L2142.0 957.6L2154.5 956.3" stroke="#cfcdca" stroke-width="6" opacity="1"/>
<path d="M2106.1 941.9L2129.4 944.5L2149.4 943.2" stroke="#d2d2d2" stroke-width="12" opacity="0.95"/>
<path d="M2081.3 930.1L2094.7 922.3L2113.5 918.3" stroke="#d2cdc0" stroke-width="5" opacity="1"/>
<path d="M1920.9 913.1L1930.6 908.4L1940.3 907.9" stroke="#cfd3bc" stroke-width="4" opacity="1"/>
<path d="M2118.8 902.6L2136.7 898.7L2154.4 894.8" stroke="#c3cfae" stroke-width="5" opacity="1"/>
<path d="M2000.4 999.6L2008.5 1010.0" stroke="#c9cf9e" stroke-width="6" opacity="1"/>
</g></g>
<path d="M1805.2 874.3L1796.6 871.7L1791.3 865.9L1789.9 859.4L1788.3 854.1L1794.0 850.2L1789.0 846.3L1790.1 841.0L1788.5 833.2L1779.4 831.4L1768.8 830.6L1764.9 827.4L1777.9 824.0L1785.5 818.8L1799.0 815.6L1806.6 815.2L1814.3 814.9L1824.1 813.7L1833.9 812.5L1843.1 812.2L1852.2 812.0L1862.3 814.1L1868.9 816.9L1881.8 818.0L1873.6 821.4L1868.8 826.6L1866.9 831.9L1863.1 835.8L1858.1 841.0L1859.3 846.3L1851.4 848.9L1841.1 852.3L1832.8 855.5L1823.3 858.6L1815.9 862.0L1812.4 867.2L1807.9 872.5Z" fill="#f1f2f7"/>
<g filter="url(#b3)"><ellipse cx="1811.3" cy="867.2" rx="7.9" ry="6.5" fill="#d9dccf" opacity="0.9"/><ellipse cx="1792.3" cy="855.5" rx="4.4" ry="10.5" fill="#dcdfd4" opacity="0.8"/><ellipse cx="1855.3" cy="845.0" rx="5.3" ry="7.9" fill="#dddfd6" opacity="0.8"/></g>
<path d="M1512.3 1235.4L1520.2 1235.4L1528.1 1235.4L1536.0 1235.4L1543.8 1235.4L1551.7 1235.4L1562.7 1236.0L1573.6 1236.7L1582.3 1236.0L1591.1 1235.4L1599.6 1234.4L1608.2 1233.5L1615.0 1231.2L1622.1 1228.8L1630.8 1227.5L1639.6 1226.2L1649.1 1225.5L1658.8 1224.9L1669.7 1225.5L1680.6 1226.2L1689.2 1224.2L1698.0 1222.3L1708.4 1222.3L1718.8 1222.3L1729.6 1222.9L1740.4 1223.6L1750.0 1222.3L1757.1 1215.7L1759.5 1211.8L1759.9 1207.8L1762.2 1202.6L1767.6 1199.2L1775.8 1196.8L1778.3 1197.6L1772.8 1201.3L1769.8 1205.2L1774.1 1210.5L1776.8 1217.0L1779.2 1222.3L1779.7 1227.5L1784.9 1229.6L1796.1 1231.8L1807.1 1234.0L1817.3 1234.7L1827.4 1235.4L1837.3 1235.4L1849.7 1230.1L1857.1 1226.8L1864.8 1223.6L1872.7 1221.0L1880.9 1218.3L1895.6 1216.5L1906.2 1214.4L1916.9 1214.4L1927.6 1214.4L1938.3 1214.4L1949.0 1214.4L1959.8 1213.7L1970.7 1213.1L1981.7 1211.8L1992.5 1211.8L2004.2 1208.6L2015.8 1206.5L2027.6 1203.9L2037.4 1207.3L2047.9 1208.4L2057.8 1210.5L2060.9 1213.1L2067.4 1213.1L2075.2 1210.5L2092.7 1206.0L2103.8 1205.8L2115.4 1204.8L2126.9 1203.9L2138.0 1203.9L2149.0 1203.9L2159.4 1204.8L2169.7 1205.8L2181.2 1205.1L2192.7 1204.4L2203.1 1205.2L2213.4 1206.0L2223.4 1207.1L2231.6 1209.9L2240.9 1211.5L2250.0 1213.1L2257.1 1216.2L2265.2 1218.3L2260.2 1222.3L2235.2 1234.0L2241.9 1234.8L2251.3 1235.1L2260.7 1235.4L2268.6 1235.4L2276.4 1235.4L2284.3 1235.4L2292.2 1235.4L2300.1 1235.4L2277.3 1245.8L2246.4 1256.3L2169.0 1266.8L2163.7 1266.8L2158.5 1266.8L2153.2 1266.8L2148.0 1266.8L2142.7 1266.8L2137.4 1266.8L2132.2 1266.8L2126.9 1266.8L2121.7 1266.8L2116.4 1266.8L2111.2 1266.8L2105.9 1266.8L2100.7 1266.8L2095.4 1266.8L2090.1 1266.8L2084.9 1266.8L2079.6 1266.8L2074.4 1266.8L2069.1 1266.8L2063.9 1266.8L2058.6 1266.8L2053.4 1266.8L2048.1 1266.8L2042.8 1266.8L2037.6 1266.8L2032.3 1266.8L2027.1 1266.8L2021.8 1266.8L2016.6 1266.8L2011.3 1266.8L2006.1 1266.8L2000.8 1266.8L1995.5 1266.8L1990.3 1266.8L1985.0 1266.8L1979.8 1266.8L1974.5 1266.8L1969.3 1266.8L1964.0 1266.8L1958.8 1266.8L1953.5 1266.8L1948.2 1266.8L1943.0 1266.8L1937.7 1266.8L1932.5 1266.8L1927.2 1266.8L1922.0 1266.8L1916.7 1266.8L1911.5 1266.8L1906.2 1266.8L1900.9 1266.8L1895.7 1266.8L1890.4 1266.8L1885.2 1266.8L1879.9 1266.8L1874.7 1266.8L1869.4 1266.8L1864.2 1266.8L1858.9 1266.8L1853.6 1266.8L1848.4 1266.8L1843.1 1266.8L1837.9 1266.8L1832.6 1266.8L1827.4 1266.8L1822.1 1266.8L1816.9 1266.8L1811.6 1266.8L1806.3 1266.8L1801.1 1266.8L1795.8 1266.8L1790.6 1266.8L1785.3 1266.8L1780.1 1266.8L1774.8 1266.8L1769.6 1266.8L1764.3 1266.8L1759.0 1266.8L1753.8 1266.8L1748.5 1266.8L1743.3 1266.8L1738.0 1266.8L1732.8 1266.8L1727.5 1266.8L1722.3 1266.8L1717.0 1266.8L1711.7 1266.8L1706.5 1266.8L1701.2 1266.8L1696.0 1266.8L1690.7 1266.8L1685.5 1266.8L1680.2 1266.8L1675.0 1266.8L1669.7 1266.8L1664.4 1266.8L1659.2 1266.8L1653.9 1266.8L1648.7 1266.8L1643.4 1266.8L1566.0 1256.3L1535.1 1245.8Z" fill="#f0f3f9"/>
<g filter="url(#b12)"><ellipse cx="1906.2" cy="1251.1" rx="303.6" ry="13.1" fill="#e6ebf5" opacity="0.9"/><ellipse cx="2112.4" cy="1224.9" rx="123.7" ry="7.9" fill="#f7f8fc" opacity="0.9"/><ellipse cx="1714.6" cy="1240.6" rx="76.6" ry="7.9" fill="#f6f7fb" opacity="0.8"/></g>
<g clip-path="url(#landclip)"><g filter="url(#b6)"><ellipse cx="1729.0" cy="826.6" rx="78.8" ry="15.7" fill="#ececea" opacity="1"/><ellipse cx="1745.7" cy="847.6" rx="21.4" ry="10.5" fill="#e4e4dc" opacity="1"/><ellipse cx="1945.1" cy="824.0" rx="23.3" ry="5.2" fill="#ececee" opacity="1"/><ellipse cx="2027.9" cy="833.2" rx="20.3" ry="6.6" fill="#e6e6e2" opacity="1"/><ellipse cx="2099.2" cy="822.7" rx="15.4" ry="3.9" fill="#ececec" opacity="1"/></g></g>
<path d="M1974.9 919.6L1976.6 916.2L1979.0 912.6L1981.3 909.2L1986.8 910.5L1988.7 914.4L1995.6 912.3L1992.3 909.2L1999.9 907.3L2001.9 910.0L1998.1 913.1L2000.8 914.9L2004.8 917.6L2009.2 921.0L2009.1 922.3L2003.1 923.6L1996.8 923.1L1992.9 921.0L1987.9 921.0L1984.4 923.1L1978.7 923.1L1975.6 921.5ZM2021.2 911.8L2026.9 909.2L2031.7 908.4L2035.5 909.2L2036.1 912.6L2031.5 914.4L2029.5 914.4L2036.0 919.6L2037.3 923.6L2040.4 924.1L2038.5 928.0L2041.5 933.5L2036.9 934.8L2032.2 933.3L2029.1 932.5L2028.5 928.0L2029.8 924.9L2026.3 921.0L2023.4 918.3L2021.6 914.4ZM2154.4 896.1L2157.1 892.7L2161.0 888.2L2163.0 884.8L2164.5 885.6L2164.2 890.0L2160.1 894.2L2156.2 896.3ZM1682.0 908.6L1687.8 905.8L1693.0 904.5L1698.7 905.8L1699.7 908.9L1694.0 909.2L1688.2 908.4ZM1688.8 921.0L1689.7 915.7L1693.4 911.3L1697.6 911.0L1693.9 915.7L1692.5 921.0ZM1699.7 910.7L1707.1 910.5L1710.1 913.1L1705.2 917.8L1702.7 917.8L1701.1 914.4ZM1699.8 921.5L1706.0 919.4L1711.2 918.6L1710.4 919.6L1704.2 922.0L1700.4 922.3ZM1709.7 917.6L1715.5 916.0L1718.7 916.0L1717.6 917.3L1712.6 917.6Z" fill="#7bafd6"/>
</g>
<path d="M1669.7 795.2H2142.7A236.5 235.8 0 0 1 2142.7 1266.8H1669.7A236.5 235.8 0 0 1 1669.7 795.2Z" fill="none" stroke="#000" stroke-width="3"/>
<path d="M1683.0 850.7L1684.0 850.2L1685.4 849.5L1686.9 848.7L1688.6 847.8L1690.4 846.8L1692.4 845.7L1694.5 844.7L1696.7 843.6L1699.0 842.5L1701.3 841.4L1703.6 840.4L1705.9 839.5L1708.1 838.6L1710.5 837.7L1712.8 836.8L1715.2 835.9L1717.7 835.0L1720.2 834.1L1722.8 833.3L1725.4 832.4L1728.2 831.6L1731.1 830.8L1734.0 830.0L1737.1 829.3L1740.3 828.5L1743.5 827.8L1746.9 827.1L1750.3 826.4L1753.8 825.7L1757.3 825.0L1761.0 824.4L1764.7 823.7L1768.6 823.2L1772.5 822.6L1776.5 822.1L1780.5 821.7L1784.9 821.2L1789.8 820.9L1794.9 820.5L1800.3 820.2L1805.7 820.0L1811.1 819.7L1816.4 819.5L1821.4 819.4L1826.0 819.2L1830.1 819.0L1833.5 818.9L1836.2 818.8" fill="none" stroke="#5a21ff" stroke-width="5.6" stroke-linecap="round" stroke-linejoin="round"/>
<text transform="translate(1696.40,858.50)" x="0.00" y="0" font-size="29.31" textLength="170.91" lengthAdjust="spacingAndGlyphs">17:53:59 UT</text>
<text transform="translate(1847.30,825.90)" x="0.00" y="0" font-size="29.31" textLength="170.91" lengthAdjust="spacingAndGlyphs">17:58:54 UT</text>
<defs><linearGradient id="cbAlt" x1="0" y1="0" x2="1" y2="0"><stop offset="0" stop-color="#9933ff"/><stop offset="0.25" stop-color="#0000ff"/><stop offset="0.5" stop-color="#00ff00"/><stop offset="0.75" stop-color="#ffff00"/><stop offset="1" stop-color="#ff0000"/></linearGradient></defs>
<rect x="1745" y="1308" width="549.6" height="27" fill="url(#cbAlt)" stroke="#000" stroke-width="2.2"/>
<text transform="translate(1790.80,1371.60)" x="-21.19" y="0" font-size="23.42" textLength="42.37" lengthAdjust="spacingAndGlyphs">400</text>
<text transform="translate(1882.40,1371.60)" x="-21.19" y="0" font-size="23.42" textLength="42.37" lengthAdjust="spacingAndGlyphs">600</text>
<text transform="translate(1974.00,1371.60)" x="-21.19" y="0" font-size="23.42" textLength="42.37" lengthAdjust="spacingAndGlyphs">800</text>
<text transform="translate(2065.60,1371.60)" x="-28.25" y="0" font-size="23.42" textLength="56.50" lengthAdjust="spacingAndGlyphs">1000</text>
<text transform="translate(2157.20,1371.60)" x="-28.25" y="0" font-size="23.42" textLength="56.50" lengthAdjust="spacingAndGlyphs">1200</text>
<text transform="translate(2248.80,1371.60)" x="-28.25" y="0" font-size="23.42" textLength="56.50" lengthAdjust="spacingAndGlyphs">1400</text>
<path d="M1790.8 1335v9.7M1882.4 1335v9.7M1974.0 1335v9.7M2065.6 1335v9.7M2157.2 1335v9.7M2248.8 1335v9.7" stroke="#000" stroke-width="2.2" fill="none"/>
<text transform="translate(2019.50,1406.30)" x="-72.81" y="0" font-size="23.42" textLength="145.61" lengthAdjust="spacingAndGlyphs">Altitude (km)</text>
<defs>
<clipPath id="esac"><circle cx="2084.5" cy="64.9" r="50.4"/></clipPath>
<mask id="esam"><rect x="2030" y="10" width="110" height="110" fill="#fff"/><circle cx="2114.8" cy="67.4" r="29.6" fill="#000"/><circle cx="2056.9" cy="65.5" r="6.3" fill="#000"/></mask>
<pattern id="esap" width="10" height="3.75" patternUnits="userSpaceOnUse"><rect width="10" height="2.1" fill="#4b80c2"/></pattern>
</defs>
<g clip-path="url(#esac)"><g mask="url(#esam)" fill="none" stroke="#4b80c2" stroke-width="2.05"><circle cx="2119.0" cy="68.5" r="24.00"/><circle cx="2119.0" cy="68.5" r="27.72"/><circle cx="2119.0" cy="68.5" r="31.44"/><circle cx="2119.0" cy="68.5" r="35.16"/><circle cx="2119.0" cy="68.5" r="38.88"/><circle cx="2119.0" cy="68.5" r="42.60"/><circle cx="2119.0" cy="68.5" r="46.32"/><circle cx="2119.0" cy="68.5" r="50.04"/><circle cx="2119.0" cy="68.5" r="53.76"/><circle cx="2119.0" cy="68.5" r="57.48"/><circle cx="2119.0" cy="68.5" r="61.20"/><circle cx="2119.0" cy="68.5" r="64.92"/><circle cx="2119.0" cy="68.5" r="68.64"/><circle cx="2119.0" cy="68.5" r="72.36"/><circle cx="2119.0" cy="68.5" r="76.08"/><circle cx="2119.0" cy="68.5" r="79.80"/><circle cx="2119.0" cy="68.5" r="83.52"/><circle cx="2119.0" cy="68.5" r="87.24"/><circle cx="2119.0" cy="68.5" r="90.96"/><circle cx="2119.0" cy="68.5" r="94.68"/><circle cx="2119.0" cy="68.5" r="98.40"/><circle cx="2119.0" cy="68.5" r="102.12"/><circle cx="2119.0" cy="68.5" r="105.84"/><circle cx="2119.0" cy="68.5" r="109.56"/><circle cx="2119.0" cy="68.5" r="113.28"/></g></g>
<path d="M2127 38A50.4 50.4 0 0 1 2134.8 70" fill="none" stroke="#4b80c2" stroke-width="2.4" stroke-dasharray="1.6 2.1" opacity=".9"/>
<g clip-path="url(#esac)"><path d="M2095.3 60.2A12.6 12.6 0 0 1 2119.5 60.2Z" fill="url(#esap)"/><path d="M2094.5 70.6L2136 70.6C2134 82 2124 88 2114 87.5C2103 87 2095.5 80 2094.5 70.6Z" fill="url(#esap)"/><path d="M2094.6 58C2092.5 63 2092.8 68 2094.5 72" fill="none" stroke="#4b80c2" stroke-width="2.4" stroke-dasharray="2 1.7"/></g>
<text x="2147.9" y="94.4" font-size="103.5" font-weight="bold" textLength="162.2" lengthAdjust="spacingAndGlyphs" fill="#15227d" stroke="#15227d" stroke-width="2.6" stroke-linejoin="round" style="fill:#15227d">esa</text>
<defs>
<clipPath id="hexc"><path d="M192 72.7L228.3 9.1L303 9.1L338.8 71.5L305.3 131L225.5 131Z"/></clipPath>
<linearGradient id="earthg" gradientUnits="userSpaceOnUse" x1="250" y1="75" x2="275" y2="135"><stop offset="0" stop-color="#9ccdf2"/><stop offset=".35" stop-color="#4d93da"/><stop offset="1" stop-color="#2f70c4"/></linearGradient>
<filter id="lb2" x="-20%" y="-20%" width="140%" height="140%"><feGaussianBlur stdDeviation="2.2"/></filter>
<filter id="lb1" x="-20%" y="-20%" width="140%" height="140%"><feGaussianBlur stdDeviation="1"/></filter>
</defs>
<path d="M182.9 72.7L225 0.3L306.3 0.3L348.9 72.7L307.3 144.4L224.5 144.4Z" fill="#fff" stroke="#cfe6ee" stroke-width="1.2"/>
<g clip-path="url(#hexc)">
<rect x="190" y="8" width="150" height="125" fill="#03050a"/>
<g filter="url(#lb1)">
<circle cx="337.4" cy="445.5" r="383" fill="#0a3d2c"/>
<circle cx="337.4" cy="445.5" r="380.5" fill="#1f9a62"/>
<circle cx="337.4" cy="445.5" r="377.5" fill="#38b878"/>
<circle cx="337.4" cy="445.5" r="375" fill="#0d4650"/>
<circle cx="337.4" cy="445.5" r="372.5" fill="url(#earthg)"/>
</g>
<g filter="url(#lb2)" opacity=".85">
<ellipse cx="250" cy="100" rx="22" ry="4.5" fill="#eaf4fc" transform="rotate(-18 250 100)"/>
<ellipse cx="292" cy="88" rx="20" ry="4" fill="#eaf4fc" transform="rotate(-10 292 88)"/>
<ellipse cx="250" cy="116" rx="18" ry="5" fill="#eaf4fc" transform="rotate(-20 250 116)"/>
<ellipse cx="300" cy="104" rx="18" ry="5" fill="#eaf4fc" transform="rotate(-10 300 104)"/>
<ellipse cx="278" cy="118" rx="14" ry="4" fill="#eaf4fc" transform="rotate(-15 278 118)"/>
<ellipse cx="320" cy="84" rx="12" ry="3.5" fill="#eaf4fc" transform="rotate(-6 320 84)"/>
<ellipse cx="232" cy="110" rx="8" ry="4" fill="#eaf4fc" transform="rotate(-25 232 110)"/>
<ellipse cx="268" cy="96" rx="14" ry="3" fill="#eaf4fc" transform="rotate(-14 268 96)"/>
</g>
<path d="M277 64L304 108" stroke="#eef6ff" stroke-width="1.6" opacity=".9"/>
<path d="M240.5 61.5L249 42L266 53.5L257 75.5Z" fill="#2f7fc4"/>
<path d="M249 42L247.5 34.5L281.5 55L266 53.5Z" fill="#236bb0"/>
<path d="M266 53.5L281.5 55L276.5 70L257 75.5Z" fill="#c9a35c"/>
<path d="M268 60L277 58L274.5 66L266 69Z" fill="#dfeaf2"/>
<path d="M247.5 34.5L249 42L240.5 61.5L239 57Z" fill="#c58a3c"/>
<path d="M240.5 61.5L222 58.5M241 62L220 59.5M242.5 14L247 30M262 47L279 29M254 76L244 90M262 74L264 84" stroke="#8a7a60" stroke-width="0.9" fill="none"/>
<ellipse cx="223" cy="60" rx="3" ry="1.3" fill="#e8a040"/>
<circle cx="232" cy="27.5" r="1.3" fill="#b8b4e8"/>
<circle cx="202" cy="66.5" r="1.1" fill="#b8b4e8"/>
<circle cx="270" cy="20" r="0.6" fill="#b8b4e8"/>
<circle cx="296" cy="30" r="0.6" fill="#b8b4e8"/>
<circle cx="310" cy="45" r="0.5" fill="#b8b4e8"/>
<circle cx="255" cy="18" r="0.5" fill="#b8b4e8"/>
<circle cx="320" cy="60" r="0.5" fill="#b8b4e8"/>
<circle cx="285" cy="14" r="0.5" fill="#b8b4e8"/>
<circle cx="218" cy="40" r="0.5" fill="#b8b4e8"/>
<path d="M222 131L232 131C250 112 280 112 300 124L296 134L222 134Z" fill="#fff"/>
<circle cx="265.5" cy="116.5" r="6.3" fill="#1e6fc0"/><path d="M261.5 118.5L265.5 112.5L269.5 118.5" stroke="#fff" stroke-width=".9" fill="none"/><circle cx="265.5" cy="117" r="1" fill="#e03030"/>
</g>
<text x="236" y="134.3" font-size="7.6" font-weight="bold" textLength="58.5" lengthAdjust="spacingAndGlyphs" style="fill:#2fa0e0" font-style="italic">CASSIOPE</text>
<text transform="translate(1451.90,1404.10)" x="0.00" y="0" font-size="23.42" textLength="229.88" lengthAdjust="spacingAndGlyphs">Operating mode: AM</text>
<text transform="translate(1608.80,1450.90)" x="-22.44" y="0" font-size="23.42" textLength="44.88" lengthAdjust="spacingAndGlyphs">VSA</text>
<text transform="translate(1739.30,1450.90)" x="-21.65" y="0" font-size="23.42" textLength="43.31" lengthAdjust="spacingAndGlyphs">VES</text>
<text transform="translate(1869.40,1450.90)" x="-25.44" y="0" font-size="23.42" textLength="50.88" lengthAdjust="spacingAndGlyphs">VD+</text>
<text transform="translate(2000.30,1450.90)" x="-20.15" y="0" font-size="23.42" textLength="40.29" lengthAdjust="spacingAndGlyphs">VD-</text>
<text transform="translate(2131.30,1450.90)" x="-38.00" y="0" font-size="23.42" textLength="76.00" lengthAdjust="spacingAndGlyphs">VMCPF</text>
<text transform="translate(2262.20,1450.90)" x="-39.23" y="0" font-size="23.42" textLength="78.46" lengthAdjust="spacingAndGlyphs">VCMPB</text>
<text transform="translate(1451.00,1479.80)" x="0.00" y="0" font-size="23.42" textLength="78.96" lengthAdjust="spacingAndGlyphs">Min (V)</text>
<text transform="translate(1608.80,1479.80)" x="-25.19" y="0" font-size="23.42" textLength="50.39" lengthAdjust="spacingAndGlyphs">-348</text>
<text transform="translate(1739.30,1479.80)" x="-28.72" y="0" font-size="23.42" textLength="57.44" lengthAdjust="spacingAndGlyphs">-0.33</text>
<text transform="translate(1869.40,1479.80)" x="-28.72" y="0" font-size="23.42" textLength="57.44" lengthAdjust="spacingAndGlyphs">-0.02</text>
<text transform="translate(2000.30,1479.80)" x="-28.72" y="0" font-size="23.42" textLength="57.44" lengthAdjust="spacingAndGlyphs">-9.96</text>
<text transform="translate(2131.30,1479.80)" x="-32.26" y="0" font-size="23.42" textLength="64.51" lengthAdjust="spacingAndGlyphs">-2031</text>
<text transform="translate(2262.20,1479.80)" x="-25.19" y="0" font-size="23.42" textLength="50.39" lengthAdjust="spacingAndGlyphs">-199</text>
<text transform="translate(1451.00,1509.60)" x="0.00" y="0" font-size="23.42" textLength="85.46" lengthAdjust="spacingAndGlyphs">Max (V)</text>
<text transform="translate(1608.80,1509.60)" x="-7.06" y="0" font-size="23.42" textLength="14.12" lengthAdjust="spacingAndGlyphs">0</text>
<text transform="translate(1739.30,1509.60)" x="-24.72" y="0" font-size="23.42" textLength="49.43" lengthAdjust="spacingAndGlyphs">0.04</text>
<text transform="translate(1869.40,1509.60)" x="-24.72" y="0" font-size="23.42" textLength="49.43" lengthAdjust="spacingAndGlyphs">9.94</text>
<text transform="translate(2000.30,1509.60)" x="-24.72" y="0" font-size="23.42" textLength="49.43" lengthAdjust="spacingAndGlyphs">0.02</text>
<text transform="translate(2131.30,1509.60)" x="-11.07" y="0" font-size="23.42" textLength="22.14" lengthAdjust="spacingAndGlyphs">-2</text>
<text transform="translate(2262.20,1509.60)" x="-7.06" y="0" font-size="23.42" textLength="14.12" lengthAdjust="spacingAndGlyphs">0</text>
<text transform="translate(1451.00,1538.00)" x="0.00" y="0" font-size="23.42" textLength="80.25" lengthAdjust="spacingAndGlyphs">Ave (V)</text>
<text transform="translate(1608.80,1538.00)" x="-25.19" y="0" font-size="23.42" textLength="50.39" lengthAdjust="spacingAndGlyphs">-172</text>
<text transform="translate(1739.30,1538.00)" x="-24.72" y="0" font-size="23.42" textLength="49.43" lengthAdjust="spacingAndGlyphs">0.01</text>
<text transform="translate(1869.40,1538.00)" x="-28.72" y="0" font-size="23.42" textLength="57.44" lengthAdjust="spacingAndGlyphs">-0.01</text>
<text transform="translate(2000.30,1538.00)" x="-24.72" y="0" font-size="23.42" textLength="49.43" lengthAdjust="spacingAndGlyphs">0.00</text>
<text transform="translate(2131.30,1538.00)" x="-32.26" y="0" font-size="23.42" textLength="64.51" lengthAdjust="spacingAndGlyphs">-1895</text>
<text transform="translate(2262.20,1538.00)" x="-25.19" y="0" font-size="23.42" textLength="50.39" lengthAdjust="spacingAndGlyphs">-186</text>
<text transform="translate(1448.90,1579.70)" x="0.00" y="0" font-size="29.31" textLength="508.83" lengthAdjust="spacingAndGlyphs">Produced by irm_summary version 5</text>
</svg>
</body></html>
